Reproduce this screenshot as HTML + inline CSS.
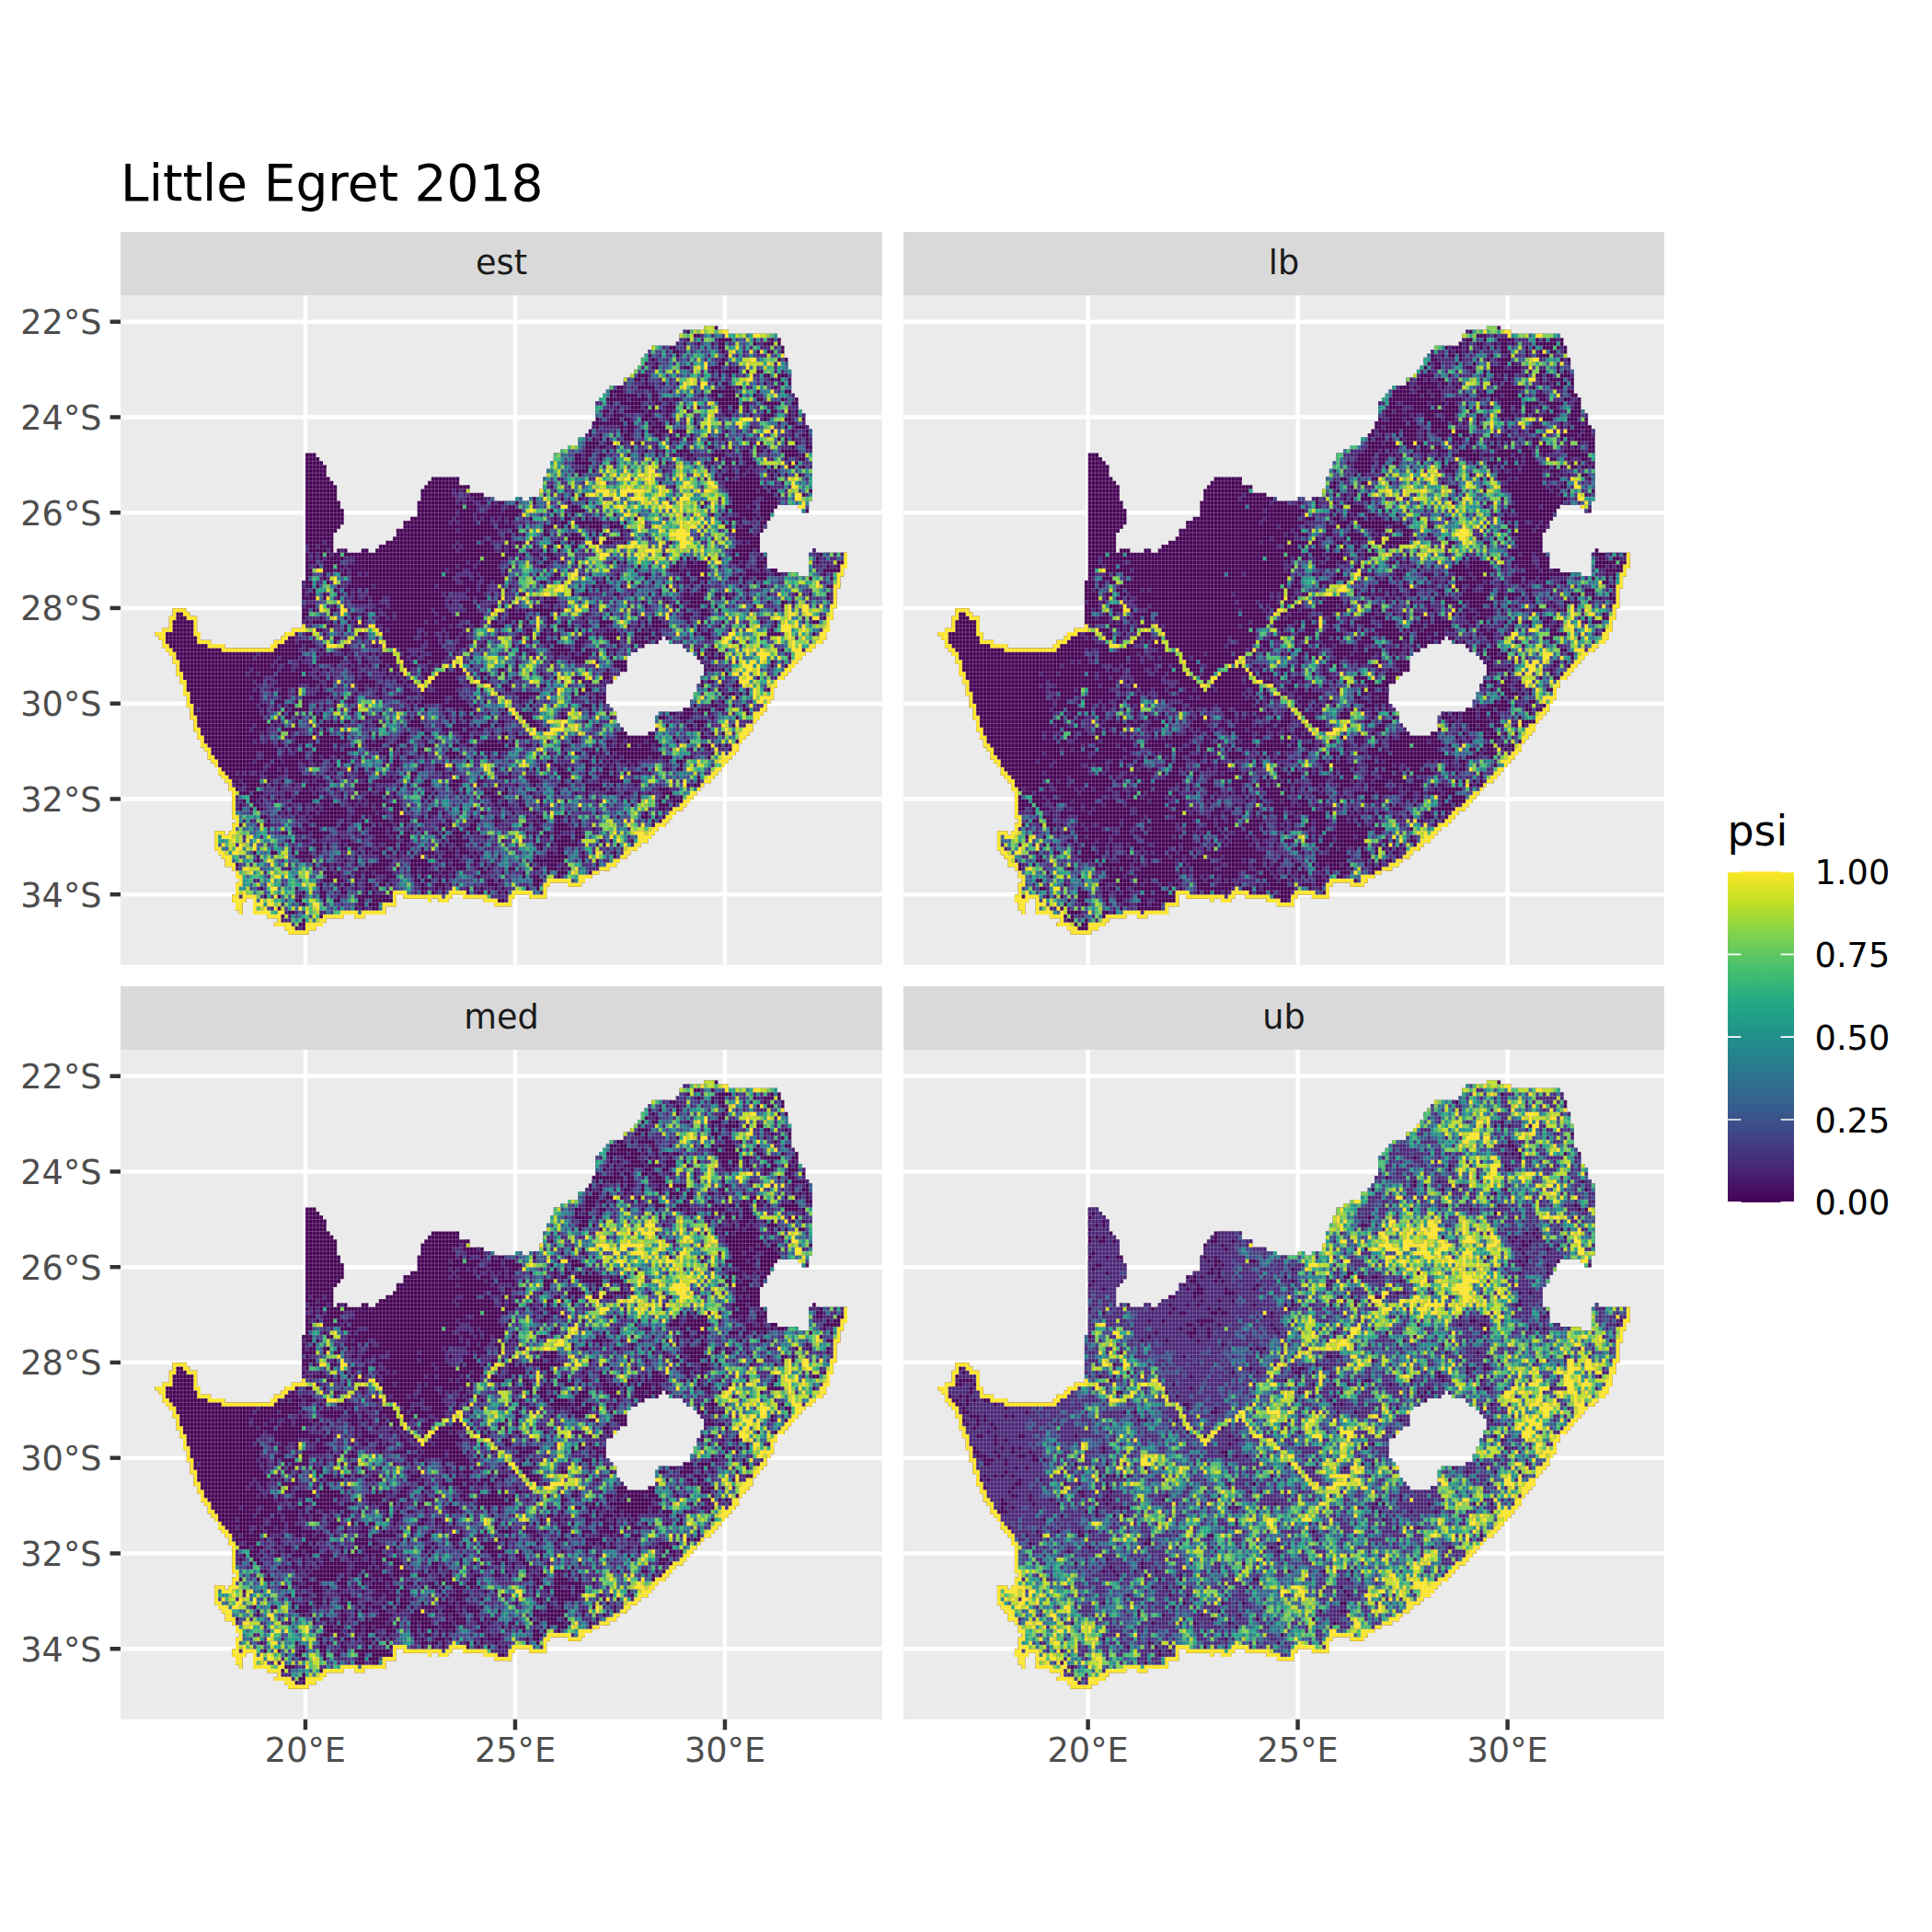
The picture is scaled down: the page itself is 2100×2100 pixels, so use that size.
<!DOCTYPE html>
<html><head><meta charset="utf-8"><title>Little Egret 2018</title>
<style>html,body{margin:0;padding:0;background:#fff}svg{display:block}</style></head>
<body>
<svg width="2100" height="2100" viewBox="0 0 2100 2100" font-family="'DejaVu Sans','Liberation Sans',sans-serif">
<rect width="2100" height="2100" fill="#fff"/>
<defs><clipPath id="mapclip" clip-rule="evenodd"><path clip-rule="evenodd" d="M0.03 33.06L2.08 33.06L6.03 37.01L6.03 38.98L9.03 40.97L9.03 44.97L10.00 44.97L10.00 46.98L11.03 46.98L11.03 51.01L10.00 51.01L8.08 53.00L8.08 57.90L9.03 57.90L9.03 56.95L12.05 56.95L12.05 57.90L16.05 57.90L16.05 56.95L18.00 56.95L18.00 57.90L20.00 57.90L20.00 56.95L21.03 56.95L21.03 55.98L23.00 55.98L26.05 53.00L26.05 52.03L27.97 52.03L27.97 50.01L30.03 50.01L30.03 48.97L31.97 48.97L31.97 44.97L33.00 44.97L33.00 42.03L36.08 38.98L43.03 38.98L44.03 40.00L44.03 40.97L46.00 40.97L47.03 41.96L47.03 43.00L50.97 43.00L50.97 44.02L53.97 44.02L53.97 44.97L59.97 44.97L59.97 44.02L62.03 44.02L62.03 44.97L64.05 44.97L64.05 44.02L67.13 44.02L67.13 41.96L68.16 41.96L68.16 38.98L69.08 38.98L69.08 37.01L70.11 37.01L70.11 35.02L71.08 35.02L71.08 33.06L73.05 33.06L73.05 31.97L75.11 31.97L75.11 31.00L78.03 31.00L78.03 28.96L80.08 28.96L80.08 27.99L81.03 27.99L81.03 27.04L82.11 27.04L82.11 25.01L83.08 25.01L83.08 19.96L84.03 19.96L84.03 19.01L84.97 19.01L84.97 17.93L86.05 17.93L86.05 16.98L87.08 16.98L87.08 15.96L91.11 15.96L91.11 14.00L93.16 14.00L93.16 12.98L94.11 12.98L94.11 12.03L95.05 12.03L96.18 9.92L97.18 8.12L100.05 6.04L105.16 6.04L107.21 4.53L107.21 3.10L108.03 2.01L114.16 2.01L114.16 0.95L118.03 0.95L118.03 2.01L121.11 2.01L121.11 3.10L135.00 3.10L136.03 4.00L136.03 6.04L137.03 6.04L138.05 12.08L139.00 12.08L139.00 18.00L141.05 18.99L141.05 21.95L143.05 22.97L143.05 26.02L145.00 27.99L145.00 44.95L144.03 44.95L144.03 47.88L142.03 47.88L142.03 46.91L141.05 46.91L141.05 46.03L137.03 45.83L136.03 45.83L133.97 48.00L133.97 48.90L131.92 50.87L131.92 51.96L129.97 53.74L129.97 57.35L131.92 58.41L131.92 61.28L132.95 62.37L135.00 62.37L135.00 63.27L141.05 63.27L141.05 64.17L144.03 64.17L144.03 58.41L145.00 58.41L145.00 57.35L146.03 57.35L146.03 58.41L155.00 58.41L155.00 61.79L154.00 61.79L154.00 63.78L152.97 63.78L152.97 66.83L152.03 66.83L152.03 71.87L151.00 71.87L151.00 74.74L150.03 74.74L150.03 77.79L149.00 77.79L149.00 79.76L142.95 83.72L135.00 90.91L132.95 95.93L128.05 102.04L123.95 107.06L119.87 112.10L114.97 116.06L111.08 119.64L108.03 122.51L106.05 123.16L103.21 126.03L100.34 128.18L97.47 130.70L94.21 132.85L90.95 135.00L88.08 137.18L85.21 138.05L83.18 139.14L81.13 140.04L79.08 140.95L79.08 141.83L75.00 141.83L75.00 140.95L70.11 140.95L70.11 141.83L69.08 141.83L69.08 144.88L64.18 144.88L64.18 144.00L60.08 144.00L60.08 144.88L59.08 144.88L59.08 146.87L53.95 146.87L53.95 145.97L51.11 145.97L51.11 144.88L44.97 144.88L44.97 144.00L42.11 144.00L42.11 144.88L41.08 144.88L41.08 145.97L38.03 145.97L38.03 144.88L35.97 144.88L35.97 145.97L34.95 145.97L34.95 144.88L26.05 144.39L26.05 146.91L22.97 146.91L22.97 148.88L17.05 148.88L17.05 149.78L14.00 149.78L14.00 148.88L11.13 148.88L11.13 149.78L6.03 149.78L6.03 150.85L5.00 150.85L5.00 151.93L2.95 151.93L2.95 152.84L0.92 152.84L0.92 153.90L-5.00 153.90L-5.00 152.84L-6.03 152.84L-6.03 151.93L-8.89 151.93L-8.89 150.85L-7.87 150.85L-7.87 149.78L-10.95 149.78L-10.95 148.88L-15.03 148.88L-15.03 144.93L-17.08 144.93L-17.08 145.83L-18.08 145.83L-18.08 148.88L-19.11 148.88L-19.11 147.82L-19.92 147.82L-19.92 145.83L-20.95 145.83L-20.95 144.02L-19.92 144.02L-19.92 140.97L-18.89 140.97L-18.89 139.91L-19.92 139.91L-19.92 139.00L-20.95 137.92L-20.95 136.85L-23.00 136.85L-23.00 134.89L-24.03 134.89L-24.03 133.98L-25.03 133.98L-25.03 132.90L-26.05 132.90L-26.05 128.04L-23.00 128.04L-23.00 128.94L-21.97 128.94L-21.97 128.04L-20.95 128.04L-20.95 126.07L-19.92 126.07L-19.92 124.99L-20.95 124.99L-20.95 118.00L-21.97 118.00L-21.97 116.01L-23.00 116.01L-23.00 114.95L-24.03 114.95L-24.03 113.86L-25.03 113.86L-25.03 112.96L-26.05 111.89L-26.05 110.99L-27.08 110.99L-27.08 109.90L-28.11 109.90L-28.11 107.94L-29.13 107.94L-29.13 106.85L-30.13 106.85L-30.13 104.88L-31.16 104.88L-31.16 102.92L-31.95 102.27L-31.95 100.09L-32.97 100.09L-32.97 97.23L-34.00 97.23L-34.00 94.17L-35.03 94.17L-35.03 91.12L-36.05 91.12L-36.05 89.13L-37.08 89.13L-37.08 86.08L-38.08 86.08L-38.08 84.11L-39.11 84.11L-39.11 83.05L-40.13 83.05L-40.13 82.14L-41.16 82.14L-41.16 80.15L-41.97 80.15L-41.97 79.09L-43.00 79.09L-43.00 78.00L-40.95 78.00L-40.95 77.10L-38.89 77.10L-38.89 74.05L-37.89 74.05L-37.89 72.08L-34.00 72.08L-34.00 72.98L-32.97 72.98L-32.97 74.05L-30.95 74.05L-30.95 78.00L-29.92 78.00L-29.92 80.15L-26.84 80.15L-26.84 81.06L-22.97 81.06L-22.97 82.14L-9.89 82.14L-9.89 81.06L-8.87 81.06L-8.87 80.15L-6.82 80.15L-6.82 79.09L-5.82 79.09L-5.82 78.00L-3.97 78.00L-3.97 77.10L-0.89 77.10L-0.89 65.07L0.00 65.07ZM103.13 79.04L104.13 80.85L108.03 81.20L109.24 82.63L112.11 84.09L113.13 85.87L114.16 85.87L114.16 89.11L113.13 89.11L112.11 91.97L111.08 93.06L110.05 95.93L109.05 97.02L107.21 97.90L101.08 97.90L100.05 98.98L100.05 102.04L98.00 103.84L92.08 103.84L89.03 100.95L89.03 98.08L85.95 95.03L85.95 91.97L84.95 90.91L88.00 90.91L92.08 86.96L92.08 84.09L93.11 83.00L97.00 81.91L98.00 80.85L101.08 80.85L101.08 79.95Z"/></clipPath></defs>
<defs><g id="seams" clip-path="url(#mapclip)" stroke="#EBEBEB" stroke-opacity="0.24" fill="none" stroke-width="1"><path vector-effect="non-scaling-stroke" d="M-46-2v162M-45-2v162M-44-2v162M-43-2v162M-42-2v162M-41-2v162M-40-2v162M-39-2v162M-38-2v162M-37-2v162M-36-2v162M-35-2v162M-34-2v162M-33-2v162M-32-2v162M-31-2v162M-30-2v162M-29-2v162M-28-2v162M-27-2v162M-26-2v162M-25-2v162M-24-2v162M-23-2v162M-22-2v162M-21-2v162M-20-2v162M-19-2v162M-18-2v162M-17-2v162M-16-2v162M-15-2v162M-14-2v162M-13-2v162M-12-2v162M-11-2v162M-10-2v162M-9-2v162M-8-2v162M-7-2v162M-6-2v162M-5-2v162M-4-2v162M-3-2v162M-2-2v162M-1-2v162M0-2v162M1-2v162M2-2v162M3-2v162M4-2v162M5-2v162M6-2v162M7-2v162M8-2v162M9-2v162M10-2v162M11-2v162M12-2v162M13-2v162M14-2v162M15-2v162M16-2v162M17-2v162M18-2v162M19-2v162M20-2v162M21-2v162M22-2v162M23-2v162M24-2v162M25-2v162M26-2v162M27-2v162M28-2v162M29-2v162M30-2v162M31-2v162M32-2v162M33-2v162M34-2v162M35-2v162M36-2v162M37-2v162M38-2v162M39-2v162M40-2v162M41-2v162M42-2v162M43-2v162M44-2v162M45-2v162M46-2v162M47-2v162M48-2v162M49-2v162M50-2v162M51-2v162M52-2v162M53-2v162M54-2v162M55-2v162M56-2v162M57-2v162M58-2v162M59-2v162M60-2v162M61-2v162M62-2v162M63-2v162M64-2v162M65-2v162M66-2v162M67-2v162M68-2v162M69-2v162M70-2v162M71-2v162M72-2v162M73-2v162M74-2v162M75-2v162M76-2v162M77-2v162M78-2v162M79-2v162M80-2v162M81-2v162M82-2v162M83-2v162M84-2v162M85-2v162M86-2v162M87-2v162M88-2v162M89-2v162M90-2v162M91-2v162M92-2v162M93-2v162M94-2v162M95-2v162M96-2v162M97-2v162M98-2v162M99-2v162M100-2v162M101-2v162M102-2v162M103-2v162M104-2v162M105-2v162M106-2v162M107-2v162M108-2v162M109-2v162M110-2v162M111-2v162M112-2v162M113-2v162M114-2v162M115-2v162M116-2v162M117-2v162M118-2v162M119-2v162M120-2v162M121-2v162M122-2v162M123-2v162M124-2v162M125-2v162M126-2v162M127-2v162M128-2v162M129-2v162M130-2v162M131-2v162M132-2v162M133-2v162M134-2v162M135-2v162M136-2v162M137-2v162M138-2v162M139-2v162M140-2v162M141-2v162M142-2v162M143-2v162M144-2v162M145-2v162M146-2v162M147-2v162M148-2v162M149-2v162M150-2v162M151-2v162M152-2v162M153-2v162M154-2v162M155-2v162M156-2v162M157-2v162M158-2v162M159-2v162M160-2v162"/><path vector-effect="non-scaling-stroke" d="M-46-2h206M-46-1h206M-46 0h206M-46 1h206M-46 2h206M-46 3h206M-46 4h206M-46 5h206M-46 6h206M-46 7h206M-46 8h206M-46 9h206M-46 10h206M-46 11h206M-46 12h206M-46 13h206M-46 14h206M-46 15h206M-46 16h206M-46 17h206M-46 18h206M-46 19h206M-46 20h206M-46 21h206M-46 22h206M-46 23h206M-46 24h206M-46 25h206M-46 26h206M-46 27h206M-46 28h206M-46 29h206M-46 30h206M-46 31h206M-46 32h206M-46 33h206M-46 34h206M-46 35h206M-46 36h206M-46 37h206M-46 38h206M-46 39h206M-46 40h206M-46 41h206M-46 42h206M-46 43h206M-46 44h206M-46 45h206M-46 46h206M-46 47h206M-46 48h206M-46 49h206M-46 50h206M-46 51h206M-46 52h206M-46 53h206M-46 54h206M-46 55h206M-46 56h206M-46 57h206M-46 58h206M-46 59h206M-46 60h206M-46 61h206M-46 62h206M-46 63h206M-46 64h206M-46 65h206M-46 66h206M-46 67h206M-46 68h206M-46 69h206M-46 70h206M-46 71h206M-46 72h206M-46 73h206M-46 74h206M-46 75h206M-46 76h206M-46 77h206M-46 78h206M-46 79h206M-46 80h206M-46 81h206M-46 82h206M-46 83h206M-46 84h206M-46 85h206M-46 86h206M-46 87h206M-46 88h206M-46 89h206M-46 90h206M-46 91h206M-46 92h206M-46 93h206M-46 94h206M-46 95h206M-46 96h206M-46 97h206M-46 98h206M-46 99h206M-46 100h206M-46 101h206M-46 102h206M-46 103h206M-46 104h206M-46 105h206M-46 106h206M-46 107h206M-46 108h206M-46 109h206M-46 110h206M-46 111h206M-46 112h206M-46 113h206M-46 114h206M-46 115h206M-46 116h206M-46 117h206M-46 118h206M-46 119h206M-46 120h206M-46 121h206M-46 122h206M-46 123h206M-46 124h206M-46 125h206M-46 126h206M-46 127h206M-46 128h206M-46 129h206M-46 130h206M-46 131h206M-46 132h206M-46 133h206M-46 134h206M-46 135h206M-46 136h206M-46 137h206M-46 138h206M-46 139h206M-46 140h206M-46 141h206M-46 142h206M-46 143h206M-46 144h206M-46 145h206M-46 146h206M-46 147h206M-46 148h206M-46 149h206M-46 150h206M-46 151h206M-46 152h206M-46 153h206M-46 154h206M-46 155h206M-46 156h206M-46 157h206M-46 158h206M-46 159h206M-46 160h206"/></g></defs>
<text x="131" y="218.3" font-size="55" fill="#000">Little Egret 2018</text>
<rect x="131.06" y="252.00000000000003" width="827.8" height="69.1" fill="#D9D9D9"/>
<text x="545.0" y="298.4" font-size="36.67" fill="#1A1A1A" text-anchor="middle">est</text>
<rect x="131.06" y="321.1" width="827.8" height="727.7" fill="#EBEBEB"/>
<g stroke="#fff" stroke-width="4.45"><path d="M131.06 349.70h827.8"/><path d="M131.06 453.45h827.8"/><path d="M131.06 557.20h827.8"/><path d="M131.06 660.95h827.8"/><path d="M131.06 764.70h827.8"/><path d="M131.06 868.45h827.8"/><path d="M131.06 972.20h827.8"/><path d="M331.95 321.1v727.7"/><path d="M559.95 321.1v727.7"/><path d="M787.95 321.1v727.7"/></g>
<g transform="translate(332.00,352.061) scale(3.8,4.32292)" fill="none" stroke-width="1.0">
<path stroke="#440154" d="M114 1h4m-10 1h13m-14 1h28m-28 1h29m-30 1h30m-37 1h38m-39 1h39m-40 1h40m-41 1h42m-42 1h42m-43 1h43m-44 1h45m-46 1h46m-48 1h48m-48 1h48m-52 1h52m-53 1h53m-54 1h55m-56 1h57m-58 1h58m-58 1h58m-58 1h59m-59 1h60m-60 1h60m-61 1h61m-61 1h62m-63 1h64m-65 1h65m-67 1h67m-67 1h67m-70 1h70m-72 1h72m-145 1h3m68 0h74m-145 1h4m67 0h74m-145 1h5m65 0h75m-145 1h6m64 0h75m-145 1h6m63 0h76m-145 1h6m63 0h76m-145 1h7m29 0h8m24 0h77m-145 1h8m27 0h9m24 0h77m-145 1h9m25 0h13m21 0h77m-145 1h9m24 0h14m20 0h78m-145 1h9m24 0h18m16 0h78m-145 1h9m24 0h21m6 0h2m2 0h81m-145 1h10m22 0h112m-144 1h10m22 0h103m6 0h3m-144 1h11m21 0h102m8 0h2m-144 1h11m21 0h102m-134 1h11m19 0h103m-133 1h11m17 0h104m-132 1h10m18 0h104m-132 1h9m17 0h105m-131 1h8m18 0h104m-130 1h8m17 0h105m-130 1h8m15 0h107m-130 1h8m13 0h109m-130 1h8m1 0h3m4 0h2m2 0h110m15 0h1m-146 1h132m12 0h11m-155 1h132m12 0h11m-155 1h132m12 0h11m-155 1h132m12 0h11m-155 1h135m9 0h10m-154 1h141m3 0h10m-154 1h153m-154 1h154m-154 1h154m-154 1h153m-153 1h153m-153 1h153m-153 1h153m-153 1h153m-190 1h4m33 0h152m-189 1h5m32 0h152m-190 1h8m30 0h152m-190 1h8m30 0h151m-189 1h8m30 0h151m-191 1h10m27 0h154m-193 1h13m24 0h155m-191 1h12m23 0h109m1 0h46m-190 1h14m18 0h110m3 0h44m-189 1h18m13 0h107m11 0h38m-186 1h135m14 0h36m-184 1h132m18 0h32m-181 1h130m20 0h30m-180 1h130m21 0h28m-178 1h129m22 0h26m-177 1h129m22 0h25m-176 1h127m24 0h24m-174 1h125m24 0h24m-173 1h124m25 0h22m-170 1h121m26 0h23m-170 1h121m26 0h22m-169 1h121m25 0h23m-168 1h120m25 0h23m-168 1h120m24 0h23m-167 1h121m23 0h22m-165 1h121m20 0h24m-165 1h122m12 0h30m-164 1h122m11 0h30m-162 1h121m11 0h29m-161 1h122m10 0h28m-160 1h123m9 0h28m-159 1h123m6 0h29m-158 1h157m-156 1h155m-155 1h154m-153 1h153m-152 1h151m-151 1h150m-149 1h148m-147 1h146m-145 1h144m-144 1h143m-142 1h141m-140 1h139m-138 1h136m-136 1h135m-134 1h133m-133 1h132m-132 1h131m-131 1h130m-130 1h129m-129 1h127m-127 1h126m-125 1h124m-125 1h124m-124 1h122m-127 1h3m1 0h122m-126 1h125m-125 1h124m-124 1h122m-122 1h121m-120 1h118m-117 1h116m-115 1h113m-113 1h112m-110 1h108m-107 1h104m-104 1h102m-101 1h99m-100 1h90m5 0h4m-99 1h89m-89 1h89m-90 1h47m2 0h14m3 0h15m4 0h5m-90 1h4m2 0h41m9 0h1m2 0h3m10 0h8m-79 1h2m3 0h41m28 0h5m-79 1h2m3 0h38m-42 1h1m3 0h38m-34 1h22m3 0h3m-25 1h14m-15 1h14m-11 1h9m-8 1h6"/>
<path stroke="#482576" d="M113 3h1m2 0h1m-9 1h1m4 0h1m3 0h1m10 0h1m1 0h1m1 0h1m-27 1h1m4 0h1m9 0h1m7 0h2m-29 1h1m5 0h1m3 0h1m1 0h1m1 0h1m8 0h1m1 0h1m2 0h3m1 0h1m-32 1h1m3 0h2m1 0h1m7 0h1m1 0h1m4 0h1m-25 1h1m2 0h1m10 0h1m7 0h1m1 0h1m3 0h3m-34 1h1m1 0h1m2 0h1m2 0h1m2 0h1m4 0h1m2 0h2m1 0h1m-23 1h2m5 0h1m4 0h1m10 0h1m12 0h1m-39 1h1m10 0h1m7 0h1m6 0h1m11 0h1m-38 1h2m11 0h1m2 0h1m1 0h1m3 0h1m14 0h1m1 0h1m-39 1h1m4 0h1m9 0h1m2 0h1m3 0h1m2 0h1m1 0h1m2 0h2m-29 1h1m2 0h1m12 0h2m1 0h2m7 0h1m2 0h1m1 0h1m-44 1h1m2 0h3m1 0h2m1 0h1m2 0h1m7 0h1m2 0h1m13 0h1m3 0h1m1 0h1m-45 1h1m1 0h1m7 0h1m3 0h1m12 0h1m3 0h2m2 0h2m5 0h1m1 0h1m-45 1h1m2 0h3m1 0h1m1 0h1m10 0h1m1 0h1m21 0h1m-48 1h1m8 0h1m10 0h1m3 0h1m2 0h1m3 0h1m9 0h2m8 0h1m-48 1h1m11 0h1m2 0h1m3 0h1m4 0h1m20 0h1m-55 1h2m1 0h1m9 0h1m1 0h2m3 0h1m1 0h1m21 0h2m-43 1h3m2 0h2m3 0h1m5 0h1m15 0h1m6 0h1m3 0h1m2 0h1m5 0h3m-52 1h1m7 0h1m2 0h1m1 0h1m2 0h1m4 0h1m10 0h1m3 0h1m3 0h1m6 0h1m2 0h1m-54 1h2m3 0h1m1 0h1m2 0h1m2 0h1m2 0h1m1 0h1m6 0h2m4 0h3m3 0h1m1 0h1m4 0h1m8 0h1m2 0h1m-59 1h1m1 0h1m6 0h1m4 0h1m3 0h2m1 0h1m2 0h1m9 0h1m2 0h1m8 0h1m1 0h1m6 0h1m-44 1h1m2 0h1m2 0h1m2 0h1m1 0h2m10 0h1m8 0h1m11 0h1m1 0h1m-61 1h1m2 0h5m1 0h1m2 0h1m3 0h1m20 0h1m8 0h2m5 0h1m3 0h1m3 0h1m-61 1h4m1 0h1m2 0h1m8 0h1m4 0h1m13 0h1m3 0h2m2 0h1m5 0h1m4 0h1m1 0h1m1 0h1m-63 1h1m2 0h1m4 0h1m1 0h1m2 0h1m5 0h1m2 0h1m2 0h1m2 0h1m6 0h1m2 0h1m6 0h1m3 0h1m2 0h1m3 0h3m2 0h1m-62 1h1m2 0h1m5 0h1m6 0h1m5 0h1m4 0h1m10 0h1m1 0h1m1 0h1m4 0h2m11 0h2m2 0h1m-60 1h1m5 0h2m1 0h1m2 0h1m1 0h2m5 0h1m2 0h2m5 0h1m1 0h1m9 0h1m12 0h1m2 0h1m-62 1h1m2 0h2m3 0h1m3 0h2m2 0h1m5 0h1m14 0h1m1 0h1m1 0h3m3 0h1m5 0h3m-60 1h1m2 0h1m1 0h1m3 0h1m4 0h1m1 0h2m4 0h1m9 0h1m6 0h1m1 0h1m1 0h1m1 0h1m18 0h2m-66 1h1m3 0h1m3 0h1m14 0h1m1 0h1m1 0h1m1 0h1m2 0h5m4 0h1m1 0h2m3 0h1m1 0h1m2 0h1m8 0h1m-63 1h1m3 0h1m4 0h1m7 0h1m2 0h1m1 0h1m6 0h1m1 0h1m11 0h1m9 0h2m6 0h1m-67 1h1m1 0h1m6 0h2m2 0h1m16 0h1m5 0h1m4 0h1m2 0h1m6 0h1m17 0h1m-68 1h4m3 0h1m1 0h1m2 0h1m12 0h1m1 0h1m1 0h1m11 0h1m2 0h1m1 0h2m3 0h1m1 0h2m10 0h1m2 0h1m-42 1h2m10 0h1m4 0h1m1 0h1m3 0h1m1 0h2m3 0h1m-58 1h1m7 0h1m19 0h1m4 0h1m13 0h1m1 0h1m3 0h1m2 0h1m9 0h1m-71 1h2m7 0h2m19 0h1m9 0h1m1 0h1m3 0h1m3 0h2m7 0h2m1 0h1m8 0h1m-75 1h2m2 0h2m4 0h1m6 0h1m31 0h2m11 0h1m2 0h1m-66 1h1m5 0h1m27 0h2m8 0h1m5 0h1m13 0h4m1 0h1m-97 1h1m1 0h1m26 0h1m2 0h1m1 0h1m28 0h1m14 0h1m8 0h1m7 0h1m-96 1h2m1 0h2m21 0h1m1 0h1m2 0h1m63 0h1m5 0h1m-101 1h3m1 0h1m3 0h2m22 0h1m3 0h2m22 0h1m14 0h1m2 0h1m7 0h2m4 0h1m1 0h1m-95 1h1m1 0h1m2 0h2m4 0h1m15 0h1m3 0h1m29 0h1m13 0h1m9 0h2m5 0h1m-87 1h4m3 0h2m7 0h1m6 0h1m2 0h1m2 0h1m4 0h2m41 0h1m-84 1h1m5 0h1m1 0h1m4 0h1m17 0h2m6 0h1m1 0h1m33 0h1m9 0h2m-87 1h1m4 0h1m12 0h1m5 0h1m1 0h1m10 0h2m2 0h1m10 0h1m12 0h1m6 0h1m4 0h1m1 0h2m5 0h1m-88 1h1m5 0h1m1 0h1m2 0h1m1 0h1m1 0h1m4 0h1m7 0h1m1 0h1m4 0h1m5 0h1m2 0h1m16 0h1m14 0h1m1 0h1m4 0h1m2 0h1m1 0h1m-90 1h1m1 0h1m9 0h2m2 0h1m1 0h4m1 0h2m2 0h1m1 0h1m1 0h1m12 0h2m1 0h1m8 0h1m25 0h1m3 0h2m-69 1h1m11 0h1m5 0h1m1 0h1m16 0h2m15 0h1m9 0h1m4 0h1m-87 1h1m11 0h3m11 0h1m11 0h1m5 0h1m3 0h1m26 0h1m9 0h2m-75 1h1m5 0h1m9 0h1m6 0h1m12 0h1m5 0h1m14 0h1m8 0h2m5 0h1m-78 1h1m4 0h1m8 0h1m1 0h1m2 0h1m1 0h2m13 0h1m3 0h3m18 0h1m3 0h1m-112 1h1m37 0h1m6 0h1m2 0h4m2 0h1m2 0h1m1 0h2m12 0h1m9 0h3m12 0h1m9 0h2m8 0h2m1 0h1m-127 1h1m2 0h1m38 0h1m1 0h1m12 0h1m1 0h1m6 0h1m13 0h1m5 0h1m1 0h1m14 0h1m-104 1h1m5 0h1m3 0h1m32 0h1m10 0h2m1 0h1m5 0h1m1 0h2m12 0h1m1 0h1m38 0h2m6 0h1m16 0h1m-145 1h1m1 0h1m3 0h1m52 0h2m2 0h1m3 0h1m2 0h2m1 0h1m2 0h1m1 0h4m8 0h1m29 0h1m6 0h2m15 0h2m4 0h1m1 0h1m-153 1h1m1 0h1m1 0h1m5 0h3m45 0h1m2 0h1m2 0h2m2 0h1m2 0h1m1 0h1m2 0h1m1 0h1m8 0h1m2 0h1m38 0h1m16 0h2m1 0h2m-148 1h1m7 0h2m32 0h1m2 0h1m6 0h2m12 0h1m1 0h1m13 0h1m20 0h1m3 0h1m9 0h1m2 0h1m1 0h1m18 0h1m1 0h4m-150 1h2m8 0h1m31 0h1m4 0h1m6 0h1m4 0h1m4 0h2m2 0h2m5 0h2m12 0h2m1 0h1m4 0h1m5 0h1m2 0h2m12 0h1m1 0h1m3 0h2m2 0h1m13 0h3m2 0h2m-144 1h1m1 0h1m1 0h1m27 0h1m4 0h2m22 0h1m2 0h1m2 0h1m3 0h1m7 0h4m12 0h1m3 0h1m1 0h1m5 0h1m6 0h1m2 0h1m2 0h2m1 0h1m14 0h1m-140 1h1m4 0h1m2 0h1m1 0h1m25 0h5m1 0h1m6 0h1m7 0h1m13 0h2m8 0h1m6 0h2m4 0h1m3 0h2m15 0h2m1 0h1m6 0h2m2 0h2m9 0h1m2 0h1m-147 1h1m1 0h1m35 0h2m3 0h1m2 0h1m8 0h1m5 0h1m6 0h1m1 0h1m7 0h2m19 0h1m1 0h1m9 0h1m11 0h1m-129 1h1m3 0h2m2 0h1m2 0h3m30 0h2m4 0h2m2 0h1m5 0h1m10 0h1m2 0h1m10 0h1m6 0h1m4 0h1m5 0h1m2 0h1m1 0h1m2 0h1m7 0h1m1 0h4m6 0h1m4 0h2m10 0h2m-150 1h1m10 0h2m7 0h1m17 0h1m11 0h1m2 0h3m1 0h1m2 0h2m5 0h1m1 0h1m9 0h1m1 0h1m2 0h1m1 0h1m1 0h1m3 0h1m4 0h1m1 0h1m7 0h1m1 0h1m5 0h2m1 0h2m7 0h1m6 0h1m-134 1h1m8 0h1m3 0h1m32 0h1m2 0h1m2 0h3m3 0h1m1 0h1m21 0h1m3 0h1m1 0h1m3 0h3m5 0h1m3 0h1m3 0h1m3 0h1m12 0h1m3 0h1m13 0h2m-145 1h1m5 0h1m3 0h1m2 0h1m1 0h3m21 0h1m2 0h4m5 0h1m3 0h1m1 0h3m18 0h1m2 0h4m1 0h1m4 0h1m8 0h1m6 0h1m2 0h1m3 0h1m6 0h1m4 0h1m7 0h1m4 0h1m2 0h1m7 0h1m-143 1h1m2 0h3m1 0h2m1 0h1m3 0h2m16 0h7m1 0h1m4 0h1m3 0h1m1 0h1m4 0h2m3 0h1m11 0h1m3 0h3m1 0h2m3 0h1m4 0h2m2 0h2m1 0h2m9 0h1m6 0h1m2 0h1m2 0h1m8 0h1m4 0h1m1 0h1m3 0h1m-151 1h3m8 0h1m6 0h1m2 0h3m16 0h1m1 0h2m6 0h5m1 0h1m10 0h1m4 0h1m1 0h1m3 0h1m4 0h1m1 0h2m1 0h1m3 0h1m1 0h1m2 0h1m2 0h1m1 0h1m1 0h2m2 0h2m5 0h1m7 0h1m1 0h1m1 0h1m15 0h1m6 0h1m-152 1h1m6 0h2m3 0h1m2 0h6m3 0h1m16 0h4m6 0h3m7 0h1m5 0h1m1 0h2m2 0h1m1 0h1m7 0h1m5 0h1m3 0h1m5 0h1m3 0h1m5 0h1m11 0h1m1 0h1m8 0h3m5 0h1m6 0h1m2 0h1m-147 1h1m5 0h1m2 0h1m5 0h1m2 0h1m14 0h1m4 0h5m3 0h1m1 0h1m5 0h1m2 0h1m1 0h1m1 0h1m6 0h1m1 0h1m7 0h1m1 0h1m10 0h1m2 0h2m6 0h1m1 0h1m3 0h2m2 0h1m8 0h1m3 0h2m6 0h1m-122 1h1m1 0h1m3 0h2m2 0h1m11 0h1m4 0h1m13 0h1m8 0h1m6 0h1m6 0h1m1 0h1m2 0h1m5 0h1m2 0h1m5 0h1m4 0h1m1 0h1m5 0h1m5 0h1m28 0h1m-148 1h4m1 0h1m8 0h1m4 0h2m2 0h1m1 0h1m13 0h1m17 0h1m15 0h2m3 0h1m1 0h1m1 0h2m6 0h1m4 0h1m1 0h1m4 0h1m4 0h1m3 0h2m1 0h1m14 0h4m9 0h1m1 0h1m2 0h1m-149 1h1m1 0h1m4 0h1m6 0h1m3 0h1m16 0h1m2 0h1m6 0h2m4 0h2m3 0h2m5 0h1m5 0h1m2 0h1m1 0h1m2 0h4m13 0h1m8 0h2m6 0h1m4 0h1m6 0h1m2 0h2m4 0h1m10 0h1m1 0h1m-145 1h2m6 0h2m3 0h1m1 0h1m1 0h1m3 0h1m19 0h1m1 0h2m2 0h1m2 0h1m9 0h1m2 0h3m15 0h1m4 0h2m5 0h2m3 0h1m8 0h2m4 0h2m2 0h1m3 0h1m11 0h1m-129 1h2m2 0h1m3 0h1m7 0h1m1 0h1m8 0h2m5 0h1m5 0h1m9 0h1m6 0h1m6 0h1m10 0h1m1 0h4m1 0h1m2 0h1m1 0h1m4 0h1m1 0h1m1 0h1m1 0h2m8 0h1m2 0h1m15 0h1m14 0h1m-149 1h1m10 0h1m6 0h1m14 0h1m1 0h1m2 0h2m1 0h1m3 0h1m1 0h2m8 0h2m2 0h1m1 0h1m6 0h1m1 0h1m9 0h1m2 0h1m34 0h1m16 0h1m-140 1h2m1 0h1m1 0h1m2 0h2m4 0h1m2 0h1m2 0h1m2 0h1m10 0h2m5 0h1m1 0h1m2 0h1m2 0h2m4 0h3m4 0h1m10 0h1m5 0h1m6 0h1m1 0h1m4 0h1m4 0h1m4 0h1m3 0h1m3 0h2m4 0h1m1 0h1m15 0h1m7 0h1m-144 1h1m4 0h1m10 0h2m1 0h1m1 0h1m1 0h1m13 0h1m3 0h1m3 0h2m5 0h2m3 0h1m4 0h1m3 0h1m5 0h1m10 0h2m9 0h1m1 0h1m4 0h1m6 0h1m1 0h1m6 0h2m10 0h1m-128 1h1m3 0h1m8 0h1m2 0h1m1 0h2m2 0h1m11 0h2m5 0h3m3 0h1m2 0h1m1 0h1m10 0h1m3 0h1m1 0h1m5 0h2m3 0h1m4 0h2m4 0h1m4 0h1m12 0h2m1 0h3m10 0h1m9 0h1m-137 1h2m3 0h1m1 0h1m3 0h1m3 0h3m5 0h1m4 0h1m2 0h5m6 0h3m1 0h1m4 0h1m1 0h1m6 0h1m3 0h1m1 0h2m16 0h2m3 0h1m1 0h1m1 0h1m1 0h2m16 0h1m2 0h1m5 0h1m14 0h1m6 0h1m-157 1h1m17 0h1m1 0h1m1 0h3m1 0h1m2 0h3m1 0h1m1 0h1m5 0h1m2 0h2m1 0h3m7 0h2m2 0h1m2 0h1m4 0h3m2 0h1m2 0h1m5 0h2m2 0h1m1 0h1m1 0h2m12 0h1m23 0h1m3 0h1m17 0h2m-154 1h1m6 0h1m5 0h1m1 0h2m1 0h1m10 0h1m2 0h1m1 0h1m9 0h1m2 0h2m6 0h3m2 0h1m14 0h1m2 0h1m1 0h1m1 0h1m1 0h1m2 0h4m7 0h1m33 0h1m-127 1h1m4 0h2m1 0h3m8 0h3m5 0h4m8 0h1m4 0h1m3 0h2m4 0h2m14 0h1m6 0h1m2 0h1m41 0h3m5 0h1m1 0h1m10 0h1m1 0h1m-147 1h1m1 0h2m2 0h2m3 0h1m1 0h1m3 0h1m2 0h2m1 0h1m1 0h1m1 0h1m5 0h1m2 0h1m6 0h2m2 0h1m12 0h1m16 0h1m1 0h1m1 0h1m5 0h2m1 0h3m31 0h1m1 0h2m2 0h1m-137 1h1m7 0h1m3 0h1m5 0h2m1 0h1m2 0h3m1 0h1m2 0h1m1 0h4m1 0h1m7 0h2m2 0h1m1 0h1m5 0h1m5 0h2m9 0h1m6 0h2m3 0h1m8 0h1m2 0h1m31 0h1m1 0h2m2 0h1m10 0h1m-150 1h1m2 0h1m14 0h2m1 0h2m1 0h3m2 0h2m1 0h1m1 0h1m1 0h4m1 0h1m1 0h1m3 0h2m13 0h1m1 0h1m1 0h1m14 0h1m3 0h1m1 0h1m11 0h1m4 0h3m24 0h1m17 0h1m2 0h1m-148 1h3m11 0h2m4 0h1m1 0h1m4 0h1m2 0h4m1 0h1m1 0h1m1 0h1m4 0h2m9 0h1m1 0h1m2 0h1m5 0h1m2 0h1m1 0h1m1 0h1m7 0h1m6 0h1m2 0h1m7 0h1m30 0h1m1 0h2m11 0h2m-150 1h1m4 0h2m12 0h2m5 0h1m1 0h1m6 0h1m1 0h1m1 0h1m3 0h1m16 0h1m6 0h1m2 0h1m3 0h1m1 0h1m8 0h1m2 0h1m3 0h1m2 0h1m4 0h2m32 0h2m-135 1h2m1 0h2m7 0h3m2 0h1m1 0h1m3 0h2m1 0h1m1 0h1m2 0h1m2 0h1m1 0h1m2 0h3m1 0h3m3 0h1m9 0h2m11 0h1m2 0h1m2 0h2m9 0h1m5 0h5m30 0h1m1 0h1m-134 1h1m2 0h2m1 0h2m2 0h1m4 0h4m1 0h1m2 0h3m1 0h2m3 0h1m1 0h2m3 0h2m4 0h3m2 0h2m6 0h2m2 0h2m12 0h1m1 0h1m3 0h1m3 0h1m12 0h1m34 0h2m2 0h1m7 0h1m-145 1h1m2 0h1m4 0h2m3 0h3m4 0h1m1 0h1m3 0h1m2 0h1m2 0h1m2 0h1m3 0h2m4 0h1m12 0h1m1 0h1m2 0h1m5 0h4m10 0h1m10 0h2m1 0h1m28 0h1m6 0h1m-137 1h1m2 0h1m1 0h2m1 0h1m2 0h1m1 0h1m8 0h1m2 0h1m2 0h1m1 0h1m2 0h4m1 0h3m5 0h1m1 0h2m6 0h2m2 0h1m1 0h1m1 0h1m2 0h1m1 0h1m5 0h1m4 0h2m11 0h1m40 0h1m-132 1h3m11 0h3m1 0h1m3 0h1m1 0h1m2 0h1m7 0h1m4 0h2m1 0h1m1 0h1m7 0h1m5 0h2m1 0h1m4 0h1m4 0h2m1 0h2m4 0h2m6 0h4m1 0h2m35 0h1m7 0h2m-142 1h1m2 0h1m4 0h1m11 0h2m4 0h1m1 0h1m9 0h3m1 0h2m4 0h3m1 0h1m10 0h1m9 0h1m1 0h1m4 0h1m3 0h1m4 0h1m9 0h1m27 0h3m2 0h3m8 0h2m-162 1h1m17 0h1m2 0h1m1 0h1m2 0h1m6 0h2m6 0h1m11 0h1m2 0h3m10 0h1m3 0h1m1 0h1m3 0h1m2 0h1m3 0h1m4 0h2m11 0h3m7 0h1m1 0h2m30 0h1m10 0h2m-143 1h1m1 0h1m10 0h1m2 0h1m8 0h1m16 0h1m1 0h1m7 0h1m1 0h1m7 0h2m6 0h1m7 0h2m5 0h1m1 0h1m7 0h1m19 0h1m3 0h2m3 0h2m3 0h1m2 0h2m1 0h1m-134 1h1m2 0h1m4 0h1m3 0h1m5 0h1m1 0h1m3 0h1m4 0h4m6 0h1m9 0h1m2 0h1m7 0h1m3 0h1m1 0h4m13 0h1m8 0h1m6 0h1m14 0h1m1 0h2m3 0h1m2 0h1m1 0h1m-125 1h1m4 0h1m9 0h1m7 0h1m1 0h2m4 0h1m1 0h1m4 0h1m4 0h1m3 0h1m5 0h1m8 0h1m3 0h2m1 0h1m5 0h2m11 0h1m4 0h3m17 0h2m1 0h1m8 0h1m7 0h4m-143 1h1m4 0h1m1 0h1m8 0h1m10 0h3m3 0h2m7 0h1m7 0h1m1 0h2m16 0h1m5 0h1m5 0h1m1 0h1m12 0h1m1 0h1m21 0h1m9 0h3m5 0h2m-142 1h1m4 0h3m6 0h2m2 0h1m5 0h1m7 0h2m5 0h1m4 0h1m1 0h3m1 0h3m4 0h1m6 0h1m3 0h2m2 0h1m2 0h3m5 0h1m14 0h2m4 0h1m1 0h1m9 0h1m5 0h1m1 0h2m1 0h1m1 0h1m1 0h1m-129 1h1m1 0h1m6 0h1m1 0h2m3 0h1m16 0h1m6 0h1m3 0h1m6 0h2m2 0h2m4 0h3m8 0h1m2 0h1m18 0h1m6 0h1m26 0h1m6 0h1m-135 1h2m4 0h1m1 0h1m6 0h1m9 0h1m4 0h1m4 0h2m1 0h1m2 0h1m5 0h2m6 0h2m7 0h3m9 0h1m7 0h1m3 0h1m1 0h1m3 0h2m2 0h1m1 0h1m19 0h1m6 0h3m-133 1h1m1 0h2m1 0h1m2 0h1m2 0h1m4 0h1m10 0h1m6 0h1m3 0h1m1 0h1m6 0h2m8 0h1m3 0h1m2 0h2m4 0h1m8 0h1m8 0h1m4 0h1m4 0h1m4 0h1m2 0h1m5 0h1m18 0h1m-126 1h1m18 0h3m3 0h2m8 0h1m3 0h1m1 0h1m7 0h1m3 0h2m15 0h2m12 0h1m6 0h1m4 0h2m1 0h1m4 0h1m3 0h1m21 0h1m-129 1h1m3 0h1m3 0h1m6 0h1m8 0h1m1 0h1m1 0h1m6 0h3m5 0h1m2 0h1m4 0h1m1 0h1m1 0h1m9 0h1m4 0h1m15 0h1m1 0h1m4 0h1m12 0h2m3 0h1m4 0h1m2 0h1m1 0h1m3 0h2m-134 1h2m5 0h1m1 0h2m22 0h1m5 0h2m1 0h1m4 0h1m2 0h1m14 0h1m4 0h2m3 0h2m4 0h1m2 0h2m1 0h1m6 0h1m2 0h1m1 0h1m2 0h1m21 0h2m1 0h3m-130 1h2m4 0h1m8 0h1m2 0h1m2 0h2m1 0h1m2 0h1m3 0h2m2 0h1m3 0h1m5 0h2m2 0h2m2 0h1m3 0h1m1 0h1m3 0h2m3 0h1m1 0h1m4 0h1m8 0h1m1 0h1m11 0h2m1 0h1m2 0h1m7 0h1m2 0h1m7 0h1m-125 1h1m7 0h1m4 0h1m2 0h1m6 0h1m3 0h1m1 0h2m6 0h1m4 0h1m1 0h1m1 0h1m2 0h2m3 0h1m1 0h1m6 0h2m3 0h1m4 0h1m7 0h2m4 0h4m2 0h1m2 0h1m4 0h1m1 0h2m2 0h1m2 0h6m1 0h1m5 0h1m-121 1h2m8 0h2m1 0h2m1 0h1m1 0h2m2 0h1m13 0h1m2 0h1m4 0h1m1 0h2m3 0h1m8 0h2m5 0h1m12 0h1m1 0h1m2 0h1m1 0h2m5 0h2m1 0h1m1 0h1m2 0h2m1 0h1m1 0h1m7 0h2m11 0h1m-129 1h1m3 0h1m1 0h1m3 0h2m6 0h1m1 0h1m1 0h2m6 0h1m5 0h1m2 0h1m7 0h1m11 0h1m9 0h1m1 0h1m8 0h1m1 0h1m3 0h1m6 0h1m1 0h1m3 0h1m2 0h1m1 0h2m2 0h1m2 0h1m2 0h1m1 0h1m10 0h1m-136 1h1m1 0h1m1 0h2m1 0h1m6 0h1m6 0h1m1 0h1m1 0h1m1 0h1m5 0h2m2 0h2m2 0h1m1 0h3m2 0h1m8 0h1m2 0h1m1 0h2m6 0h1m3 0h3m3 0h1m2 0h3m4 0h1m7 0h1m5 0h1m4 0h1m6 0h2m16 0h2m-129 1h2m3 0h2m9 0h1m4 0h1m1 0h1m1 0h1m1 0h1m6 0h1m1 0h1m1 0h1m1 0h1m3 0h1m3 0h4m1 0h2m3 0h1m3 0h1m9 0h2m5 0h2m1 0h1m1 0h1m3 0h1m3 0h1m9 0h1m3 0h1m6 0h1m-120 1h1m8 0h1m1 0h1m3 0h1m2 0h2m1 0h1m3 0h1m2 0h1m3 0h1m1 0h2m2 0h1m21 0h1m3 0h1m5 0h2m1 0h1m1 0h1m1 0h1m8 0h1m2 0h2m8 0h1m1 0h2m1 0h2m18 0h1m1 0h1m2 0h1m-132 1h1m2 0h1m4 0h1m3 0h1m1 0h1m1 0h1m1 0h2m5 0h1m1 0h1m11 0h1m1 0h5m1 0h1m5 0h1m6 0h1m4 0h1m2 0h1m2 0h1m1 0h1m3 0h4m4 0h1m2 0h1m7 0h1m1 0h2m7 0h1m3 0h1m1 0h2m1 0h1m2 0h1m1 0h2m8 0h1m-130 1h2m5 0h2m1 0h1m1 0h6m2 0h1m1 0h2m2 0h1m1 0h1m1 0h2m7 0h2m7 0h2m3 0h2m3 0h1m3 0h1m4 0h1m1 0h1m1 0h1m2 0h1m3 0h1m2 0h1m9 0h1m2 0h1m5 0h1m1 0h1m4 0h1m1 0h1m1 0h4m3 0h2m3 0h3m-119 1h6m2 0h1m5 0h1m1 0h1m1 0h1m1 0h2m2 0h2m2 0h2m1 0h2m3 0h1m5 0h1m11 0h1m11 0h1m4 0h1m3 0h1m1 0h1m1 0h1m3 0h1m4 0h1m1 0h2m1 0h1m1 0h3m3 0h1m3 0h1m2 0h2m1 0h3m-122 1h1m6 0h2m2 0h1m1 0h1m2 0h1m8 0h1m1 0h1m1 0h1m4 0h1m1 0h1m7 0h1m1 0h1m6 0h1m7 0h1m2 0h1m1 0h1m1 0h1m2 0h2m3 0h1m9 0h1m1 0h1m2 0h1m1 0h1m2 0h1m6 0h1m7 0h2m8 0h1m4 0h1m-127 1h2m4 0h1m2 0h2m1 0h3m15 0h2m3 0h1m1 0h1m5 0h1m3 0h1m17 0h1m3 0h1m6 0h1m3 0h1m1 0h1m8 0h1m8 0h2m2 0h1m5 0h1m9 0h1m2 0h2m-125 1h1m1 0h1m4 0h2m1 0h1m3 0h1m1 0h2m2 0h2m1 0h2m2 0h1m3 0h2m1 0h1m1 0h2m1 0h1m7 0h1m2 0h1m3 0h1m3 0h1m3 0h1m1 0h1m7 0h2m1 0h1m2 0h2m5 0h1m3 0h1m2 0h1m10 0h1m2 0h1m1 0h1m-109 1h1m7 0h1m5 0h1m2 0h1m2 0h3m1 0h1m8 0h1m5 0h1m2 0h1m10 0h1m4 0h2m1 0h1m5 0h1m5 0h2m2 0h1m1 0h3m5 0h2m6 0h1m7 0h1m3 0h2m9 0h1m1 0h1m2 0h1m-120 1h1m4 0h1m3 0h1m1 0h1m1 0h1m2 0h1m2 0h1m8 0h2m6 0h1m2 0h2m3 0h1m1 0h1m2 0h1m6 0h1m3 0h1m2 0h1m5 0h3m5 0h4m1 0h2m1 0h1m6 0h1m1 0h4m2 0h1m6 0h1m4 0h1m3 0h1m1 0h1m-114 1h1m1 0h1m1 0h3m2 0h2m1 0h1m10 0h1m5 0h1m11 0h1m1 0h1m3 0h2m1 0h3m1 0h1m5 0h1m5 0h1m2 0h1m1 0h1m3 0h2m11 0h1m4 0h1m4 0h1m10 0h1m-117 1h1m1 0h2m11 0h4m8 0h1m2 0h1m2 0h1m2 0h1m5 0h1m2 0h1m6 0h5m7 0h2m5 0h1m2 0h1m1 0h3m2 0h2m1 0h1m4 0h1m1 0h1m3 0h1m3 0h3m11 0h1m1 0h1m-108 1h3m4 0h1m14 0h1m8 0h1m3 0h1m4 0h1m3 0h2m1 0h1m2 0h1m3 0h2m9 0h4m8 0h1m7 0h2m4 0h1m-93 1h1m8 0h2m14 0h1m3 0h1m4 0h1m4 0h2m3 0h4m5 0h1m2 0h1m4 0h1m4 0h3m3 0h2m2 0h1m10 0h1m2 0h3m1 0h2m7 0h1m-104 1h1m1 0h2m3 0h1m4 0h1m7 0h3m1 0h1m1 0h1m7 0h1m6 0h2m3 0h1m12 0h1m7 0h1m7 0h1m1 0h1m3 0h1m2 0h3m3 0h1m2 0h2m-102 1h1m4 0h1m9 0h2m1 0h2m3 0h1m1 0h2m1 0h3m1 0h2m1 0h1m1 0h1m4 0h1m7 0h1m4 0h1m2 0h1m1 0h1m3 0h1m1 0h3m1 0h1m1 0h1m8 0h1m4 0h1m3 0h1m19 0h1m-99 1h1m3 0h1m2 0h1m2 0h6m3 0h1m2 0h1m1 0h1m7 0h2m4 0h1m2 0h1m12 0h2m1 0h1m2 0h1m2 0h2m3 0h2m3 0h3m6 0h1m1 0h1m6 0h1m6 0h1m-113 1h1m8 0h1m3 0h1m2 0h1m2 0h3m7 0h1m1 0h1m4 0h1m2 0h1m1 0h2m6 0h1m1 0h1m4 0h1m4 0h2m2 0h1m1 0h1m1 0h1m3 0h2m2 0h1m2 0h1m4 0h1m2 0h1m2 0h1m6 0h2m3 0h1m9 0h1m-96 1h2m9 0h1m6 0h1m2 0h2m14 0h1m5 0h1m1 0h1m2 0h3m2 0h3m5 0h2m5 0h1m2 0h3m4 0h1m1 0h1m3 0h1m1 0h1m1 0h1m1 0h1m1 0h1m-90 1h1m2 0h1m5 0h2m2 0h1m3 0h1m8 0h1m4 0h1m4 0h3m3 0h1m3 0h1m1 0h1m3 0h1m6 0h2m3 0h1m5 0h1m6 0h1m3 0h1m2 0h1m1 0h1m2 0h1m-89 1h2m1 0h2m1 0h2m1 0h2m3 0h5m3 0h2m1 0h3m6 0h1m6 0h1m2 0h1m1 0h1m16 0h1m1 0h2m9 0h1m1 0h1m-96 1h1m7 0h1m4 0h1m1 0h1m4 0h1m3 0h2m1 0h1m4 0h1m8 0h1m1 0h2m9 0h1m1 0h1m2 0h2m5 0h1m2 0h2m5 0h1m1 0h1m13 0h1m3 0h1m3 0h2m-103 1h1m10 0h1m8 0h1m2 0h1m1 0h1m1 0h1m1 0h1m4 0h1m5 0h2m1 0h1m8 0h2m3 0h1m5 0h1m1 0h1m4 0h1m4 0h2m5 0h1m1 0h1m3 0h2m5 0h3m-102 1h1m12 0h2m8 0h2m5 0h3m4 0h1m5 0h2m3 0h1m3 0h1m2 0h2m2 0h1m2 0h1m5 0h1m4 0h1m1 0h2m4 0h1m10 0h1m1 0h1m6 0h3m-96 1h1m19 0h1m1 0h1m2 0h1m2 0h1m2 0h1m5 0h2m1 0h1m3 0h1m5 0h1m2 0h1m3 0h3m4 0h2m4 0h1m1 0h2m3 0h1m1 0h1m-79 1h1m7 0h1m12 0h2m8 0h3m7 0h1m3 0h1m2 0h1m1 0h1m1 0h1m6 0h1m1 0h3m1 0h1m2 0h1m6 0h1m3 0h1m2 0h1m1 0h1m-89 1h2m17 0h1m6 0h1m3 0h2m3 0h2m2 0h3m24 0h1m4 0h1m1 0h1m-66 1h1m9 0h1m2 0h1m1 0h1m7 0h1m2 0h1m5 0h1m5 0h2m1 0h1m1 0h1m3 0h1m2 0h1m4 0h1m1 0h2m3 0h2m4 0h3m-78 1h1m19 0h2m1 0h1m1 0h1m1 0h1m1 0h2m2 0h1m3 0h1m1 0h1m5 0h2m2 0h2m1 0h1m1 0h2m2 0h2m3 0h1m1 0h3m1 0h1m1 0h2m-62 1h2m9 0h1m7 0h1m3 0h3m8 0h1m2 0h1m2 0h1m10 0h1m7 0h1m10 0h1m-87 1h1m15 0h1m1 0h1m7 0h1m2 0h2m2 0h1m9 0h1m28 0h5m-1 1h1m-65 1h1m4 0h1m6 0h1m4 0h1m3 0h1m-25 1h1m18 0h1m5 0h1m1 0h2m-25 1h1m2 0h1m1 0h1m4 0h2m-11 1h1m-3 1h3m0 1h1m1 1h1"/>
<path stroke="#414487" d="M108 2h1m10 1h1m-13 1h1m15 0h1m1 0h1m-19 1h1m2 0h1m2 0h1m3 0h1m4 0h1m2 0h1m-23 1h1m2 0h2m2 0h2m-14 1h1m1 0h2m11 0h2m11 0h1m8 0h1m-36 1h1m2 0h1m3 0h1m1 0h1m9 0h1m6 0h1m1 0h1m4 0h2m-33 1h1m4 0h1m8 0h1m19 0h1m-36 1h3m11 0h1m1 0h1m4 0h1m-25 1h1m3 0h1m7 0h1m8 0h2m3 0h1m4 0h1m-35 1h1m3 0h1m2 0h1m2 0h1m11 0h1m-24 1h1m11 0h2m1 0h1m14 0h1m13 0h1m-47 1h1m3 0h1m1 0h3m4 0h1m6 0h1m2 0h1m15 0h1m-39 1h1m6 0h1m4 0h1m15 0h1m10 0h1m-45 1h1m3 0h1m1 0h1m5 0h1m1 0h3m6 0h1m5 0h1m1 0h1m12 0h1m-40 1h1m3 0h1m3 0h3m19 0h1m10 0h1m-40 1h1m5 0h1m5 0h1m3 0h1m14 0h1m11 0h1m-41 1h1m2 0h1m7 0h2m1 0h2m1 0h1m15 0h1m2 0h1m4 0h1m-52 1h2m7 0h1m4 0h1m5 0h1m5 0h1m15 0h1m6 0h1m-53 1h1m4 0h1m10 0h1m8 0h1m3 0h2m12 0h1m-45 1h1m2 0h1m2 0h1m27 0h1m4 0h1m3 0h1m-36 1h1m1 0h2m26 0h1m5 0h2m4 0h1m2 0h1m-48 1h1m3 0h1m6 0h1m5 0h1m4 0h2m5 0h1m7 1h1m1 0h1m-46 1h1m10 0h1m11 0h2m14 0h1m10 0h1m-48 1h1m6 0h2m25 0h1m4 0h1m10 0h1m3 0h1m-60 1h1m11 0h1m8 0h1m7 0h1m9 0h1m1 0h1m4 0h1m2 0h1m3 0h1m8 0h1m-55 1h1m3 0h2m15 0h1m5 0h1m8 0h1m15 0h1m-59 1h1m13 0h1m6 0h1m17 0h1m10 0h1m7 0h1m-64 1h1m12 0h1m11 0h1m4 0h1m8 0h1m16 0h1m4 0h1m-65 1h1m1 0h1m4 0h1m14 0h2m4 0h1m7 0h1m1 0h1m1 0h1m10 0h1m3 0h1m1 0h1m1 0h1m5 0h1m-67 1h2m9 0h1m1 0h2m5 0h1m25 0h1m2 0h1m5 0h2m1 0h2m-61 1h1m7 0h1m10 0h1m1 0h1m18 0h1m4 0h1m4 0h1m11 0h1m1 0h2m3 0h1m-69 1h1m19 0h1m2 0h1m6 0h1m11 0h1m19 0h1m4 0h1m1 0h1m-63 1h1m9 0h1m9 0h1m1 0h1m6 0h1m2 0h1m28 0h1m-69 1h1m7 0h1m9 0h1m6 0h1m16 0h1m1 0h1m3 0h1m6 0h1m4 0h1m4 0h1m-67 1h1m4 0h1m1 0h1m1 0h1m18 0h1m7 0h1m7 0h1m15 0h1m4 0h1m-70 1h1m22 0h1m6 0h2m2 0h1m25 0h1m6 0h1m-60 1h1m9 0h1m16 0h1m29 0h1m7 0h1m-70 1h1m4 0h1m38 0h1m12 0h1m-62 1h1m4 0h1m37 0h1m5 0h1m12 0h1m8 0h1m-98 1h1m27 0h1m19 0h2m11 0h1m28 0h1m-63 1h1m12 0h3m18 0h1m29 0h1m-66 1h1m4 0h2m4 0h1m29 0h1m2 0h1m5 0h1m15 0h1m-78 1h1m5 0h1m1 0h1m2 0h1m57 0h1m13 0h1m-94 1h1m18 0h1m28 0h1m16 0h1m-6 1h1m10 0h1m-61 1h1m1 0h1m5 0h1m11 0h1m2 0h1m4 0h1m12 0h1m16 0h1m-71 1h1m16 0h1m31 0h1m26 0h2m2 0h1m-76 1h1m9 0h1m21 0h1m41 0h1m2 0h1m-74 1h1m4 0h1m7 0h1m3 0h2m3 0h1m1 0h1m6 0h1m20 0h1m8 0h1m-64 1h1m2 0h1m7 0h1m5 0h1m1 0h1m10 0h1m5 0h1m17 0h2m3 0h1m-64 1h1m6 0h1m2 0h1m3 0h1m4 0h1m11 0h1m12 0h2m4 0h1m8 0h1m7 0h1m1 0h2m-53 1h1m3 0h1m4 0h1m18 0h2m17 0h1m4 0h1m-69 1h2m28 0h2m1 0h1m10 0h1m3 0h1m11 0h1m3 0h1m-49 1h1m7 0h1m11 0h1m3 0h1m7 0h1m-36 1h1m5 0h1m4 0h1m8 0h1m15 0h1m4 0h1m1 0h1m9 0h1m6 0h1m16 0h1m4 0h1m-92 1h1m16 0h1m34 0h1m16 0h2m24 0h1m-151 1h1m6 0h2m48 0h1m3 0h1m1 0h1m7 0h1m10 0h1m4 0h1m8 0h1m4 0h1m3 0h1m18 0h2m-73 1h2m15 0h2m14 0h1m32 0h1m3 0h1m21 0h1m-93 1h1m2 0h2m6 0h1m8 0h1m14 0h1m6 0h1m19 0h2m12 0h1m14 0h1m-146 1h3m56 0h1m6 0h1m1 0h1m15 0h2m12 0h1m3 0h1m14 0h1m29 0h1m-138 1h1m56 0h1m14 0h1m3 0h1m9 0h1m1 0h1m1 0h1m4 0h1m2 0h2m16 0h1m6 0h2m11 0h1m-91 1h1m1 0h1m5 0h1m9 0h1m11 0h1m1 0h1m22 0h1m2 0h2m8 0h1m6 0h1m16 0h1m-70 1h1m17 0h1m5 0h1m3 0h1m1 0h1m4 0h1m3 0h1m2 0h1m1 0h1m6 0h1m8 0h1m-141 1h1m13 0h1m1 0h1m47 0h1m19 0h1m5 0h1m18 0h1m7 0h2m2 0h1m4 0h2m1 0h1m4 0h1m6 0h1m7 0h1m-110 1h1m10 0h1m1 0h1m32 0h1m2 0h1m1 0h1m3 0h1m22 0h1m3 0h1m1 0h1m7 0h1m4 0h1m4 0h1m-86 1h1m8 0h1m4 0h1m11 0h1m12 0h1m3 0h1m14 0h1m5 0h1m11 0h1m10 0h1m1 0h1m-149 1h1m3 0h2m7 0h1m35 0h1m8 0h1m3 0h1m3 0h1m7 0h1m25 0h1m24 0h1m1 0h1m3 0h1m2 0h1m10 0h1m2 0h1m-136 1h2m30 0h1m16 0h1m9 0h1m1 0h1m9 0h1m3 0h1m6 0h1m4 0h2m20 0h1m12 0h1m9 0h1m-131 1h3m33 0h1m31 0h1m2 0h1m2 0h1m2 0h1m1 0h1m5 0h1m10 0h1m5 0h1m8 0h1m-121 1h1m3 0h1m2 0h1m38 0h2m4 0h1m5 0h1m18 0h1m6 0h1m7 0h1m9 0h1m3 0h1m4 0h1m31 0h1m-93 1h1m8 0h1m1 0h2m6 0h1m1 0h1m3 0h1m4 0h1m14 0h1m4 0h1m3 0h1m-93 1h1m27 0h1m12 0h1m22 0h1m11 0h1m1 0h1m11 0h1m8 0h2m2 0h1m11 0h1m-67 1h1m10 0h1m37 0h1m3 0h1m9 0h1m-123 1h1m1 0h1m56 0h1m4 0h1m16 0h1m3 0h1m8 0h1m5 0h1m5 0h1m5 0h1m2 0h1m1 0h1m-120 1h1m2 0h1m2 0h1m39 0h1m1 0h1m4 0h1m17 0h1m1 0h1m2 0h1m7 0h1m11 0h2m1 0h1m3 0h1m2 0h1m3 0h1m3 0h1m25 0h1m-148 1h1m10 0h1m4 0h1m34 0h2m41 0h1m3 0h1m13 0h1m5 0h1m13 0h1m-129 1h2m4 0h1m7 0h1m22 0h1m14 0h1m4 0h1m29 0h1m15 0h1m3 0h1m1 0h2m2 0h1m6 0h1m8 0h2m10 0h1m-141 1h1m8 0h1m25 0h1m20 0h1m3 0h1m2 0h1m8 0h1m3 0h1m6 0h1m3 0h2m37 0h1m4 0h2m-136 1h2m5 0h1m9 0h3m24 0h1m2 0h1m20 0h1m6 0h1m-76 1h1m66 0h1m18 0h1m2 0h1m26 0h1m17 0h1m-121 1h1m2 0h1m1 0h1m38 0h1m10 0h1m10 0h2m-88 1h1m19 0h1m53 0h1m4 0h1m1 0h1m41 0h1m19 0h1m-134 1h2m2 0h1m9 0h1m12 0h1m15 0h2m18 0h1m6 0h1m3 0h1m7 0h1m30 0h2m1 0h1m10 0h1m1 0h1m1 0h1m-130 1h1m8 0h1m24 0h1m4 0h1m10 0h1m10 0h1m3 0h1m3 0h1m5 0h1m1 0h2m1 0h3m40 0h1m2 0h1m-143 1h1m14 0h1m45 0h1m7 0h1m5 0h1m2 0h1m7 0h1m6 0h1m48 0h1m-125 1h1m2 0h2m15 0h1m14 0h1m8 0h1m28 0h1m32 0h1m-128 1h1m19 0h1m3 0h1m8 0h1m1 0h1m1 0h1m18 0h1m8 0h2m5 0h1m1 0h1m5 0h1m45 0h1m6 0h1m-134 1h1m34 0h2m29 0h1m5 0h1m9 0h1m5 0h2m34 0h1m7 0h2m2 0h1m6 0h1m-145 1h1m8 0h1m17 0h1m3 0h1m3 0h1m22 0h2m7 0h3m2 0h2m3 0h1m20 0h1m30 0h1m5 0h1m-134 1h1m25 0h1m1 0h2m4 0h1m1 0h1m18 0h1m1 0h1m4 0h1m19 0h1m8 0h1m42 0h1m-133 1h1m16 0h1m20 0h1m1 0h1m13 0h1m6 0h1m1 0h1m2 0h1m2 0h1m7 0h1m9 0h1m1 0h1m1 0h1m-87 1h1m7 0h1m2 0h1m15 0h2m28 0h1m12 0h2m16 0h1m32 0h1m4 0h2m-134 1h1m1 0h1m11 0h1m12 0h1m5 0h1m7 0h1m5 0h1m9 0h1m2 0h1m9 0h1m4 0h1m1 0h1m18 0h1m23 0h1m12 0h2m3 0h1m-140 1h1m14 0h1m1 0h1m12 0h1m9 0h1m1 0h2m7 0h2m10 0h1m3 0h1m22 0h2m6 0h1m-98 1h1m3 0h1m3 0h1m8 0h1m9 0h1m2 0h1m3 0h1m5 0h1m2 0h2m3 0h1m6 0h1m5 0h1m3 0h1m23 0h1m37 0h1m9 0h1m-140 1h1m7 0h1m2 0h1m14 0h1m9 0h1m5 0h1m3 0h1m4 0h1m2 0h1m1 0h1m3 0h1m1 0h1m20 0h1m39 0h2m1 0h1m2 0h1m-119 1h2m7 0h1m9 0h1m14 0h1m1 0h3m7 0h1m1 0h1m11 0h1m17 0h1m24 0h2m2 0h1m2 0h2m6 0h1m3 0h1m-127 1h1m4 0h1m2 0h1m7 0h1m4 0h1m17 0h1m12 0h1m9 0h2m1 0h1m13 0h1m4 0h1m28 0h1m2 0h1m2 0h1m-115 1h1m5 0h1m2 0h1m8 0h3m6 0h1m9 0h2m6 0h1m5 0h1m2 0h1m2 0h1m4 0h1m6 0h1m14 0h1m20 0h1m-116 1h2m8 0h1m7 0h1m1 0h1m1 0h1m3 0h2m6 0h1m1 0h1m3 0h1m16 0h1m3 0h2m1 0h2m2 0h1m4 0h1m9 0h1m6 0h1m1 0h1m3 0h1m17 0h2m1 0h2m5 0h1m3 0h1m-132 1h1m3 0h1m23 0h1m1 0h1m7 0h1m4 0h1m3 0h1m12 0h1m10 0h2m15 0h1m11 0h1m18 0h1m2 0h1m9 0h1m-129 1h1m24 0h1m7 0h1m4 0h1m1 0h1m6 0h1m19 0h1m2 0h2m2 0h2m7 0h1m10 0h1m19 0h1m1 0h2m-115 1h1m3 0h1m24 0h1m9 0h1m14 0h1m16 0h1m11 0h2m5 0h1m18 0h1m2 0h1m10 0h1m1 0h1m-128 1h1m2 0h1m14 0h1m15 0h1m32 0h1m2 0h1m1 0h2m3 0h2m3 0h2m40 0h1m3 0h1m-121 1h2m13 0h2m1 0h1m1 0h1m8 0h1m1 0h1m3 0h1m3 0h1m4 0h1m2 0h1m5 0h1m58 0h1m7 0h1m-121 1h1m13 0h1m7 0h1m5 0h1m4 0h1m3 0h1m2 0h1m12 0h1m8 0h1m12 0h1m3 0h2m30 0h2m1 0h1m-125 1h1m14 0h2m21 0h1m8 0h1m5 0h2m7 0h1m3 0h1m2 0h1m41 0h1m-97 1h1m8 0h2m20 0h1m19 0h2m8 0h1m10 0h2m10 0h1m12 0h1m-99 1h2m20 0h1m4 0h1m2 0h1m1 0h1m3 0h1m2 0h1m1 0h1m2 0h1m6 0h1m5 0h1m9 0h1m17 0h1m4 0h1m-96 1h2m3 0h1m7 0h1m13 0h1m8 0h2m1 0h1m5 0h2m13 0h1m1 0h1m17 0h1m2 0h1m16 0h1m5 0h1m6 0h1m-119 1h1m10 0h1m3 0h1m3 0h1m19 0h1m12 0h1m15 0h1m20 0h1m7 0h2m2 0h1m7 0h2m1 0h1m2 0h1m-119 1h1m20 0h1m13 0h1m19 0h1m6 0h1m1 0h1m4 0h1m2 0h1m5 0h1m2 0h1m1 0h1m2 0h1m3 0h1m19 0h2m10 0h1m-125 1h1m4 0h1m16 0h1m13 0h1m27 0h1m7 0h2m3 0h1m3 0h2m19 0h1m10 0h1m2 0h1m-116 1h1m14 0h1m7 0h1m10 0h1m6 0h1m5 0h2m2 0h1m14 0h1m3 0h1m6 0h2m4 0h1m4 0h1m7 0h1m2 0h1m1 0h1m5 0h1m11 0h1m-126 1h1m44 0h1m2 0h1m3 0h1m1 0h4m2 0h1m2 0h1m10 0h1m1 0h1m5 0h1m7 0h1m7 0h1m7 0h1m-83 1h1m18 0h1m10 0h2m2 0h1m29 0h1m1 0h2m3 0h1m4 0h1m4 0h1m3 0h1m6 0h1m-113 1h1m6 0h1m28 0h1m3 0h2m4 0h1m1 0h1m1 0h1m3 0h2m2 0h1m1 0h1m2 0h2m2 0h1m3 0h1m4 0h1m4 0h1m8 0h2m2 0h1m4 0h1m1 0h1m4 0h1m-112 1h1m5 0h1m8 0h1m11 0h1m17 0h1m2 0h1m1 0h1m17 0h1m8 0h1m3 0h1m3 0h1m5 0h2m6 0h1m6 0h2m9 0h1m5 0h1m-118 1h2m21 0h1m10 0h1m10 0h1m16 0h1m13 0h1m6 0h1m1 0h1m5 0h1m5 0h1m2 0h2m8 0h1m-118 1h2m3 0h2m40 0h1m4 0h1m14 0h1m2 0h1m4 0h2m1 0h1m16 0h1m9 0h2m-99 1h1m1 0h1m3 0h1m26 0h2m6 0h1m16 0h1m2 0h1m7 0h1m14 0h1m1 0h1m4 0h1m9 0h2m8 0h1m-114 1h1m2 0h2m17 0h1m31 0h1m7 0h3m4 0h1m22 0h1m9 0h1m1 0h1m-100 1h1m2 0h1m4 0h2m6 0h1m3 0h1m5 0h1m9 0h1m1 0h1m4 0h1m9 0h1m3 0h1m18 0h2m9 0h1m2 0h1m6 0h1m4 0h1m-111 1h1m5 0h1m12 0h1m1 0h1m1 0h1m4 0h1m3 0h1m7 0h1m1 0h1m23 0h1m2 0h1m4 0h1m3 0h1m6 0h1m-81 1h1m16 0h1m4 0h1m4 0h1m20 0h1m37 0h1m9 0h1m-81 1h1m11 0h1m26 0h1m1 0h1m37 0h1m-104 1h1m19 0h1m11 0h1m2 0h1m12 0h1m7 0h1m1 0h1m9 0h1m2 0h1m10 0h1m5 0h1m-84 1h1m4 0h1m2 0h1m1 0h1m7 0h1m1 0h1m9 0h1m16 0h2m3 0h1m41 0h1m5 0h1m-98 1h1m6 0h1m7 0h1m1 0h1m7 0h1m7 0h1m2 0h1m4 0h1m17 0h1m4 0h2m2 0h1m15 0h1m10 0h1m-102 1h1m17 0h1m2 0h2m9 0h1m38 0h1m12 0h1m6 0h1m4 0h1m-100 1h1m14 0h1m16 0h1m9 0h1m10 0h1m3 0h1m6 0h1m4 0h1m2 0h1m32 0h1m2 0h1m-103 1h1m4 0h1m2 0h1m7 0h1m4 0h1m4 0h1m6 0h1m4 0h1m1 0h1m9 0h1m12 0h1m1 0h1m5 0h1m-78 1h2m6 0h1m2 0h1m4 0h1m2 0h1m14 0h1m13 0h1m8 0h1m13 0h1m12 0h1m-85 1h1m5 0h1m19 0h1m5 0h1m33 0h1m3 0h1m2 0h1m12 0h1m12 0h1m-78 1h1m25 0h1m13 0h1m4 0h1m5 0h2m3 0h1m4 0h1m1 0h1m-65 1h1m2 0h1m7 0h1m2 0h1m11 0h1m24 0h1m4 0h1m1 0h1m-68 1h2m3 0h1m4 0h1m26 0h1m5 0h2m3 0h1m2 0h4m1 0h1m4 0h1m21 0h1m-89 1h1m21 0h1m4 0h1m7 0h1m22 0h1m2 0h1m17 0h1m-84 1h1m3 0h1m16 0h1m6 0h1m13 0h2m31 0h1m4 0h1m-77 1h1m13 0h2m2 0h1m2 0h1m3 0h2m15 0h1m7 0h1m1 0h1m13 0h1m-68 1h1m2 0h1m11 0h1m5 0h1m30 0h1m-46 1h1m22 0h1m-22 1h1m9 0h1m1 0h2m1 0h2m-24 1h1m4 0h1m12 0h1m3 0h2m-6 1h1m-11 1h1m3 0h1"/>
<path stroke="#35608D" d="M111 4h1m12 0h1m9 0h1m-26 1h1m14 0h1m-8 1h1m17 0h1m-32 1h1m6 0h1m3 0h1m12 0h1m-30 1h1m14 0h1m3 0h1m3 0h1m-22 1h1m6 0h1m2 0h1m17 0h1m-23 1h2m14 0h1m13 0h1m-35 1h1m21 0h1m4 0h1m-22 1h1m14 0h1m12 0h1m-21 1h1m-25 1h1m34 0h1m-37 1h1m23 0h1m10 0h2m1 0h1m-19 1h1m25 0h1m-47 1h1m12 0h1m-8 1h1m6 0h1m8 0h1m18 1h1m1 0h1m2 0h1m-33 1h1m31 0h1m-26 1h1m7 0h1m12 0h1m-5 1h1m4 0h1m-53 1h1m17 0h1m6 0h1m17 0h1m-42 1h1m34 0h1m7 0h1m11 0h1m-50 1h1m3 0h1m16 0h1m20 0h1m2 0h2m3 0h1m-37 1h2m4 0h1m6 0h1m3 0h1m7 0h1m-15 1h1m18 0h1m8 0h1m-60 1h1m9 0h1m16 0h1m3 0h1m5 0h1m1 0h1m15 0h1m-60 1h1m5 0h1m25 0h2m6 0h1m16 0h1m-60 1h1m39 0h1m2 0h1m-34 1h1m7 0h1m13 0h1m2 0h1m2 0h1m5 0h1m8 0h1m9 0h1m-68 1h1m18 0h1m15 0h1m2 0h1m28 0h1m-70 1h1m8 0h1m8 0h1m6 0h1m2 0h1m33 0h1m-60 1h1m4 0h1m3 0h1m17 0h1m3 0h1m4 0h1m15 0h1m-47 1h1m41 0h1m11 1h1m-64 1h1m2 0h1m54 0h1m4 0h2m-58 1h1m1 0h1m53 0h1m1 0h1m-51 1h1m31 0h1m21 0h1m-72 1h1m5 0h1m9 0h1m15 0h1m37 0h1m-60 2h1m23 0h1m-32 1h1m-23 1h1m7 0h1m9 0h1m2 0h1m6 0h2m7 0h2m21 0h1m25 0h1m-88 1h1m4 0h3m1 0h1m4 0h3m4 0h1m4 0h2m8 0h1m3 0h1m1 0h1m45 0h1m-79 1h1m51 0h1m3 0h1m-57 1h1m17 0h1m10 0h1m4 0h1m5 0h1m1 0h1m-41 1h1m1 0h1m5 0h1m2 0h1m3 0h1m2 0h1m2 0h1m11 0h1m3 0h1m-26 1h1m15 0h1m21 0h1m-52 1h1m3 0h1m-3 1h1m19 0h1m-16 1h1m17 0h1m4 0h1m19 0h1m13 0h1m-30 1h1m15 0h1m5 0h1m-61 1h1m20 0h1m32 0h1m-66 1h1m16 0h1m9 0h1m23 0h1m4 0h1m16 1h1m-50 1h1m11 0h1m24 0h1m8 0h1m-31 1h1m8 0h1m-36 1h2m13 0h1m7 0h2m1 0h1m29 0h1m25 0h1m6 0h1m-86 1h1m3 0h1m-68 1h1m66 0h1m8 0h1m1 0h1m3 0h1m5 0h1m8 0h1m13 0h1m3 0h2m-60 1h1m3 0h2m11 0h1m2 0h1m13 0h1m4 0h1m15 0h1m6 0h2m-119 1h1m51 0h2m20 0h1m9 0h1m12 0h1m5 0h1m6 0h1m29 0h1m-146 1h1m8 0h1m47 0h1m14 0h1m20 0h1m6 0h1m17 0h1m4 0h1m8 0h2m5 0h1m-72 1h1m8 0h1m1 0h1m5 0h1m11 0h1m25 0h1m2 0h1m1 0h1m4 0h1m14 0h1m-146 1h1m3 0h1m55 0h1m10 0h1m12 0h1m8 0h1m3 0h1m10 0h1m6 0h1m16 0h1m2 0h1m3 0h1m4 0h1m-90 1h1m3 0h1m23 0h1m8 0h4m7 0h1m3 0h1m3 0h1m16 0h1m1 0h1m13 0h1m-145 1h1m6 0h1m65 0h1m16 0h2m7 0h1m1 0h2m20 0h2m1 0h1m-127 1h1m49 0h1m18 0h2m4 0h1m2 0h2m7 0h1m33 0h1m5 0h1m3 0h1m6 0h1m5 0h1m-144 1h1m4 0h1m82 0h1m1 0h1m21 0h2m2 0h1m9 0h1m6 0h1m1 0h1m5 0h1m-144 1h1m85 0h1m6 0h1m7 0h1m9 0h1m11 0h2m7 0h1m-135 1h1m85 0h1m12 0h1m1 0h2m5 0h1m13 0h1m6 0h1m1 0h2m1 0h1m5 0h1m-138 1h1m59 0h1m10 0h1m7 0h1m1 0h1m2 0h1m6 0h1m2 0h1m20 0h1m6 0h1m2 0h1m11 0h1m-136 1h1m2 0h1m2 0h1m50 0h1m56 0h1m1 0h1m-115 1h1m10 0h1m45 0h1m17 0h1m4 0h1m9 0h1m6 0h3m3 0h1m12 0h1m7 0h1m2 0h1m-134 1h2m6 0h1m41 0h1m15 0h1m6 0h1m1 0h1m4 0h1m6 0h1m6 0h1m12 0h1m22 0h1m-79 1h1m5 0h1m12 0h1m17 0h1m3 0h1m-98 1h1m5 0h1m3 0h1m4 0h1m44 0h1m14 0h2m24 0h1m4 0h1m12 0h1m-70 1h1m20 0h1m7 0h1m29 0h1m4 0h1m-98 1h1m25 0h1m11 0h1m11 0h1m33 0h1m9 0h1m-96 1h1m38 0h1m16 0h1m10 0h2m3 0h1m28 0h1m-100 1h2m32 0h1m1 0h1m3 0h1m33 0h1m18 0h1m-111 1h1m14 0h1m33 0h2m16 0h1m22 0h1m32 0h1m5 0h1m-118 1h1m34 0h1m14 0h1m27 0h1m24 0h1m10 0h1m-78 1h1m1 0h1m7 0h2m2 0h1m10 0h1m10 0h2m1 0h1m-84 1h1m54 0h1m6 0h1m5 0h1m12 0h1m-75 1h1m35 0h1m6 0h1m81 0h1m-127 1h2m6 0h1m13 0h1m40 0h1m9 0h1m31 0h2m1 0h1m-113 1h1m44 0h1m18 0h1m51 0h2m4 0h1m2 0h1m-122 1h1m46 0h1m5 0h1m53 0h1m4 0h1m-60 1h1m53 0h1m-112 1h2m3 0h1m15 0h1m37 0h2m1 0h2m6 0h1m35 0h2m11 0h1m-138 1h1m21 0h1m106 0h1m7 0h1m-128 1h1m48 0h1m2 0h1m7 0h1m15 0h1m4 0h1m-86 1h1m11 0h1m13 0h1m4 0h2m43 0h2m38 0h2m12 0h1m-124 1h1m11 0h1m8 0h1m4 0h1m25 0h2m23 0h1m33 0h1m13 0h1m-126 1h1m10 0h1m22 0h1m1 0h1m15 0h1m9 0h2m1 0h1m5 0h1m38 0h1m-102 1h1m3 0h1m21 0h2m16 0h1m25 0h1m-81 1h1m5 0h1m15 0h1m61 0h1m19 0h1m-112 1h1m1 0h1m8 0h1m8 0h1m12 0h1m1 0h1m10 0h2m1 0h1m7 0h2m2 0h1m23 0h1m3 0h1m17 0h1m14 0h1m6 0h1m-125 1h2m26 0h1m13 0h1m8 0h1m18 0h1m20 0h1m31 0h1m-118 1h1m21 0h1m2 0h1m25 0h1m2 0h1m20 0h1m1 0h1m4 0h1m2 0h1m13 0h2m13 0h1m-122 1h1m9 0h1m5 0h2m10 0h1m35 0h1m15 0h1m24 0h1m-89 1h1m1 0h1m4 0h1m18 0h1m1 0h1m36 0h1m27 0h1m2 0h1m-117 1h1m8 0h1m31 0h2m3 0h1m2 0h1m26 0h1m4 0h1m3 0h1m38 0h1m-111 1h1m13 0h1m5 0h1m9 0h2m27 0h1m12 0h1m29 0h1m-95 1h1m20 0h1m2 0h1m4 0h1m1 0h1m28 0h3m6 0h1m17 0h1m-112 1h1m19 0h1m17 0h1m15 0h1m19 0h1m19 0h1m16 0h1m14 0h1m-92 1h1m19 0h1m9 0h2m1 0h1m13 0h1m3 0h1m3 0h1m23 0h1m-88 1h1m10 0h1m1 0h1m5 0h1m3 0h1m11 0h2m1 0h1m7 0h1m2 0h1m2 0h1m5 0h1m6 0h1m19 0h1m11 0h1m-98 1h1m1 0h1m7 0h1m24 0h1m5 0h1m4 0h1m30 0h4m5 0h2m1 0h1m2 0h1m-98 1h1m13 0h2m11 0h1m7 0h1m3 0h1m6 0h1m1 0h1m1 0h1m12 0h1m1 0h1m15 0h1m9 0h1m2 0h1m5 0h1m-106 1h2m8 0h1m12 0h3m13 0h2m7 0h1m11 0h1m17 0h1m12 0h1m2 0h1m6 0h1m-93 1h1m15 0h1m19 0h1m53 0h1m-102 1h1m19 0h1m3 0h1m1 0h1m5 0h1m8 0h1m12 0h1m6 0h1m6 0h1m2 0h1m17 0h1m-88 1h1m2 0h1m23 0h1m26 0h1m5 0h1m9 0h1m7 0h1m1 0h1m9 0h1m3 0h1m3 0h1m-121 1h1m18 0h1m3 0h1m22 0h1m15 0h1m8 0h1m17 0h1m21 0h1m-102 1h1m9 0h1m3 0h1m14 0h3m20 0h1m11 0h1m7 0h1m24 0h1m-105 1h1m20 0h1m3 0h1m6 0h1m12 0h1m1 0h1m7 0h1m12 0h2m2 0h2m22 0h1m7 0h1m-86 1h1m20 0h1m10 0h1m2 0h1m13 0h1m-66 1h1m41 0h2m4 0h1m1 0h1m22 0h1m9 0h1m3 0h1m13 0h1m9 0h1m-122 1h1m7 0h1m3 0h1m2 0h1m29 0h1m1 0h2m17 0h1m6 0h1m9 0h1m3 0h2m4 0h2m3 0h1m2 0h1m-104 1h1m8 0h2m39 0h2m5 0h1m2 0h1m4 0h1m38 0h1m12 0h1m4 0h1m-88 1h1m17 0h1m3 0h1m3 0h1m3 0h1m5 0h1m31 0h1m3 0h1m1 0h1m4 0h1m-106 1h1m3 0h1m1 0h1m42 0h1m4 0h1m24 0h1m4 0h1m1 0h1m7 0h1m3 0h1m5 0h1m5 0h1m-118 1h3m9 0h1m2 0h1m34 0h1m15 0h1m3 0h1m10 0h1m3 0h1m10 0h1m9 0h1m7 0h2m-119 1h1m1 0h1m3 0h1m7 0h1m12 0h1m4 0h1m13 0h1m4 0h1m5 0h1m14 0h2m6 0h1m3 0h1m24 0h1m-106 1h2m22 0h1m23 0h1m8 0h1m12 0h1m2 0h1m31 0h1m-99 1h2m1 0h1m4 0h1m13 0h1m12 0h1m26 0h1m4 0h2m16 0h1m4 0h1m4 0h1m6 0h2m-103 1h2m39 0h1m3 0h1m9 0h1m4 0h1m-78 1h1m8 0h1m1 0h1m3 0h1m17 0h1m9 0h1m7 0h1m5 0h1m13 0h1m4 0h1m30 0h1m-106 1h1m8 0h1m15 0h1m5 0h1m21 0h1m1 0h1m4 0h1m12 0h1m17 0h1m6 0h1m3 0h1m7 0h1m1 0h1m-103 1h2m6 0h1m11 0h1m5 0h1m11 0h1m5 0h1m24 0h2m5 0h1m3 0h1m8 0h1m9 0h1m2 0h1m-108 1h1m2 0h1m4 0h1m4 0h1m19 0h1m14 0h1m25 0h1m1 0h1m2 0h1m13 0h1m-97 1h1m16 0h1m9 0h2m8 0h1m29 0h2m11 0h1m16 0h1m7 0h1m-97 1h1m12 0h1m10 0h1m15 0h1m29 0h1m23 0h1m2 0h1m-98 1h1m8 0h1m7 0h1m21 0h1m9 0h1m8 0h1m15 0h1m15 0h1m-77 1h1m8 0h1m15 0h1m52 0h1m-98 1h1m4 0h1m12 0h1m27 0h1m2 0h1m10 0h1m2 0h2m7 0h1m3 0h1m7 0h1m-56 1h1m6 0h1m13 0h1m8 0h2m13 0h1m2 0h1m2 0h1m4 0h1m-85 1h1m9 0h1m10 0h1m7 0h1m6 0h1m5 0h1m15 0h1m2 0h1m1 0h1m10 0h1m1 0h1m3 0h1m-80 1h1m6 0h1m10 0h1m26 0h1m34 0h1m-59 1h1m4 0h1m19 0h1m20 0h1m4 0h1m6 0h1m-73 1h1m1 0h1m4 0h1m11 0h1m-27 1h1m17 0h1m5 0h2m6 0h1m-19 1h1m12 0h1m-17 1h1m8 0h1m-9 1h1m16 0h1"/>
<path stroke="#2A788E" d="M114 3h1m2 0h2m7 0h1m-13 2h2m4 0h1m5 0h1m-10 2h1m5 0h1m-14 1h1m-7 1h1m8 0h1m10 0h1m-21 1h1m11 0h1m10 1h1m9 0h1m-31 1h1m-9 1h2m3 0h1m3 0h1m3 0h1m6 0h1m-1 1h1m10 0h1m6 0h1m-35 1h1m14 0h1m-13 1h1m3 0h1m4 0h1m21 0h1m-52 1h1m20 0h1m1 0h1m2 0h1m11 0h1m3 0h1m1 0h2m-46 1h1m31 0h1m12 0h1m3 0h1m-28 1h1m19 0h1m-12 1h1m11 0h1m-3 1h1m-44 2h1m15 0h1m4 0h1m8 0h1m9 0h1m16 0h1m-20 2h1m11 0h1m-21 1h1m6 0h1m4 0h1m9 0h1m-55 1h1m6 0h1m21 0h2m9 0h1m-37 1h1m11 0h1m10 0h1m7 0h1m8 0h1m-42 1h1m38 0h1m4 0h1m4 0h1m-57 1h1m24 0h1m3 0h2m8 0h1m18 0h1m-59 1h1m22 0h1m39 0h1m-65 1h1m7 0h1m1 0h1m2 0h1m-17 1h1m18 0h2m4 0h1m-25 1h1m11 0h1m6 0h1m9 0h1m8 0h1m1 0h1m-43 1h1m15 0h1m1 0h1m1 0h1m14 0h1m4 0h1m-40 1h2m5 0h1m34 0h1m-48 1h2m3 0h1m15 0h1m5 0h1m4 0h1m7 0h1m6 0h1m-14 1h1m39 0h2m-77 1h1m5 0h1m2 0h1m1 0h1m26 0h1m9 0h1m-35 1h1m13 0h1m5 0h1m1 0h1m27 0h1m-62 1h1m5 0h1m2 0h1m31 0h1m29 0h1m-63 1h1m29 0h1m7 0h1m23 0h1m-69 1h1m3 0h1m28 0h1m3 0h2m26 0h1m4 0h1m-81 1h1m1 0h2m15 0h1m17 0h1m-40 1h2m26 0h1m14 0h1m30 0h1m-70 1h1m4 1h1m13 0h1m32 0h1m-55 1h1m2 0h1m8 0h1m11 0h1m6 0h1m20 0h2m-59 1h1m12 0h1m5 0h1m25 0h1m9 0h1m-47 1h1m5 0h1m25 0h1m13 0h1m-55 1h1m5 0h1m6 0h1m-1 1h1m2 0h1m20 0h1m12 0h1m-46 1h1m3 0h1m11 0h1m12 0h1m-35 1h1m7 0h1m24 0h1m4 0h1m-27 1h1m-11 1h1m3 0h1m32 0h1m18 0h1m1 0h1m-31 1h1m1 1h1m18 0h1m5 0h1m4 0h1m7 0h1m16 0h1m-81 1h1m34 0h1m16 0h1m28 0h1m-92 1h1m3 0h1m30 0h1m25 0h1m-48 1h1m-3 1h1m2 0h1m22 0h2m46 0h1m-80 1h1m18 0h1m35 0h2m23 0h1m-137 1h1m68 0h1m16 0h1m3 0h1m16 0h2m2 0h1m11 0h1m6 0h1m2 0h1m-66 1h1m3 0h1m18 0h2m13 0h1m3 0h1m-113 1h1m49 0h1m3 0h1m14 0h1m17 0h1m27 0h1m12 0h1m6 0h1m-133 1h1m55 0h1m10 0h1m3 0h1m1 0h1m6 0h1m26 0h1m6 0h1m12 0h1m-65 1h1m23 0h1m33 0h1m-52 1h1m7 0h1m3 0h1m12 0h1m23 0h1m3 0h1m3 0h1m-61 1h1m11 0h2m28 0h1m14 0h1m14 0h1m-141 1h1m39 0h1m12 0h2m11 0h1m14 0h1m32 0h1m24 0h1m-73 1h1m18 0h1m25 0h2m3 0h1m12 0h1m9 0h1m-142 1h1m57 0h1m3 0h1m20 0h1m10 0h1m2 0h1m11 0h1m15 0h1m2 0h1m-127 1h1m7 0h1m35 0h1m17 0h1m18 0h1m12 0h2m9 0h1m23 0h2m-130 1h1m69 0h1m22 0h1m36 0h1m-85 1h2m11 0h1m17 0h1m17 0h1m17 0h1m6 0h1m9 0h1m-94 1h1m16 0h1m39 0h1m5 0h1m7 0h1m10 0h1m14 0h2m-136 1h1m6 0h1m29 0h1m17 0h1m26 0h1m13 0h1m17 0h3m12 0h1m3 0h1m-144 1h1m16 0h2m51 0h1m33 0h2m-41 1h1m5 0h2m2 0h1m9 0h1m50 0h1m-91 1h1m6 0h1m33 0h1m48 0h1m-72 1h3m10 0h1m5 0h1m38 0h1m-125 1h1m40 0h1m10 0h1m39 0h1m18 0h1m13 0h1m10 0h1m-51 1h1m34 0h1m1 0h1m2 0h2m6 0h1m-78 1h1m5 0h1m52 0h1m2 0h1m-100 1h1m20 0h1m32 0h1m-24 1h1m1 0h1m7 0h1m11 0h3m44 0h1m10 0h1m-78 1h1m4 0h1m64 0h1m2 0h1m-117 1h1m37 0h1m8 0h1m54 0h1m-58 1h1m10 0h1m3 0h1m-64 1h1m63 0h1m5 0h2m50 0h1m-49 1h1m-75 1h1m58 0h1m6 0h2m-88 1h1m7 0h1m70 0h1m46 0h1m4 0h1m4 0h1m2 0h1m-138 1h1m4 0h1m54 0h1m13 0h1m10 0h1m4 0h1m-79 1h1m8 0h1m39 0h1m11 0h1m18 0h1m1 0h1m-65 1h2m14 0h1m13 0h1m3 0h1m22 0h1m4 0h1m41 0h1m-134 1h1m14 0h1m11 0h1m4 0h1m1 0h1m16 0h1m1 0h1m8 0h1m17 0h1m29 0h1m16 0h1m-92 1h1m7 0h1m43 0h2m1 0h1m17 0h1m17 0h2m1 0h1m-124 1h1m49 0h2m18 0h1m-75 1h1m20 0h1m7 0h1m4 0h1m24 0h1m5 0h1m28 0h1m16 0h1m-95 1h1m3 0h1m64 0h1m26 0h1m-107 1h1m7 0h1m22 0h1m42 0h1m7 0h1m3 0h1m12 0h1m9 0h1m-121 1h1m19 0h1m1 0h1m18 0h1m48 0h1m4 0h1m15 0h1m19 0h2m-128 1h1m17 0h1m27 0h1m21 0h1m40 0h1m8 0h2m2 0h1m2 0h1m-120 1h1m11 0h1m13 0h1m3 0h1m25 0h1m13 0h2m12 0h1m25 0h1m-97 1h1m26 0h1m70 0h1m-101 1h1m24 0h1m20 0h1m3 0h1m15 0h1m24 0h1m-59 1h1m4 0h1m7 0h1m8 0h1m2 0h1m41 0h1m-69 1h1m-35 1h1m4 0h2m2 0h1m22 0h1m14 0h1m5 0h1m14 0h1m-80 1h1m16 0h1m12 0h1m13 0h1m1 0h1m3 0h1m27 0h1m5 0h1m6 0h1m-90 1h1m63 0h1m9 0h2m3 0h1m24 0h1m1 0h2m-104 1h1m12 0h2m26 0h2m21 0h1m11 0h1m11 0h1m3 0h1m6 0h1m1 0h1m-114 1h2m14 0h1m18 0h1m6 0h2m21 0h1m32 0h1m16 0h1m1 0h1m-84 1h1m1 0h1m7 0h1m1 0h1m10 0h1m24 0h1m8 0h1m-68 1h1m4 0h1m1 0h1m1 0h2m15 0h1m2 0h1m13 0h1m2 0h2m4 0h1m3 0h1m2 0h1m1 0h1m31 0h1m-50 1h1m10 0h1m1 0h1m32 0h1m-128 1h1m22 0h1m35 0h1m2 0h1m3 0h1m16 0h1m5 0h1m10 0h1m6 0h1m-87 1h1m47 0h1m12 0h1m1 0h1m10 0h1m16 0h1m-48 1h2m15 0h1m7 0h1m5 0h1m1 0h1m7 0h1m3 0h2m-111 1h1m57 0h1m-61 1h1m61 0h2m12 0h1m18 0h1m6 0h1m3 0h1m3 0h1m4 0h1m-115 1h1m3 0h1m67 0h1m25 0h1m-87 1h1m36 0h1m48 0h1m9 0h1m6 0h1m-83 1h1m37 0h1m24 0h1m-95 1h1m84 0h1m22 0h1m-76 1h1m23 0h1m5 0h1m3 0h2m10 0h1m21 0h1m6 0h1m-107 1h1m7 0h1m1 0h1m38 0h2m28 0h1m1 0h1m3 0h1m-87 1h1m3 0h2m25 0h1m18 0h1m48 0h1m2 0h1m4 0h1m-94 1h1m49 0h1m6 0h1m2 0h1m-83 1h1m16 0h1m1 0h1m28 0h1m9 0h1m21 0h1m20 0h1m-95 1h1m24 0h1m13 0h1m6 0h1m21 0h2m1 0h1m7 0h1m3 0h1m7 0h1m-71 1h1m2 0h1m43 0h1m2 0h1m4 0h1m17 0h1m-87 1h1m5 0h1m20 0h2m36 0h1m3 0h1m3 0h1m10 0h1m2 0h1m1 0h1m-95 1h1m16 0h1m12 0h1m22 0h1m6 0h1m3 0h1m4 0h2m4 0h1m22 0h1m-96 1h2m23 0h1m14 0h1m38 0h1m-73 1h1m15 0h1m44 0h1m10 0h1m1 0h2m-28 1h1m16 0h1m12 0h1m-87 1h1m29 0h1m8 0h1m1 0h1m9 0h1m8 0h1m10 0h1m1 0h2m1 0h1m12 0h1m-91 1h1m19 0h1m20 0h1m1 0h1m-36 1h1m2 0h1m29 0h1m-44 1h1m3 0h1m10 0h1m17 0h1m10 0h1m17 0h1m18 0h1m-61 1h1m-10 2h1m19 0h1m3 0h1m-1 1h1m-16 1h1m-9 1h1m3 1h1"/>
<path stroke="#21908C" d="M115 3h1m18 0h1m-13 1h1m6 0h1m-29 2h1m11 0h1m1 0h1m5 0h1m2 0h1m-13 1h1m11 1h1m2 0h1m-13 1h1m5 0h1m1 0h1m6 0h1m-18 1h1m22 0h1m-36 1h1m2 0h1m30 0h2m-36 1h1m6 0h1m29 0h1m-17 1h1m3 0h1m3 0h1m2 0h1m-31 1h1m10 2h1m15 0h1m1 1h1m3 0h1m-35 1h3m1 0h1m18 0h1m10 0h2m-24 1h1m-6 1h1m14 0h1m-19 2h1m10 2h1m5 0h1m9 0h1m-40 1h1m8 0h1m2 0h1m3 0h1m21 0h1m-37 1h1m19 0h1m-20 1h1m20 0h1m6 0h1m4 0h1m-52 2h1m17 0h1m1 0h2m22 0h1m-13 1h1m-18 1h1m-4 1h1m31 0h1m10 0h1m-38 1h1m-25 1h1m15 0h1m40 0h1m3 0h1m-65 1h1m1 0h1m36 0h1m19 0h1m-58 1h1m16 0h1m6 0h1m35 0h1m7 0h1m-56 1h1m3 0h1m15 0h1m32 0h1m2 0h1m1 0h1m-73 1h1m1 0h1m1 0h1m10 0h1m2 0h1m26 0h1m13 0h1m-62 1h1m8 0h1m10 1h1m22 0h1m29 0h1m-55 1h1m48 0h1m6 0h1m-77 1h1m8 0h1m1 0h1m9 0h1m9 0h1m35 0h2m-33 1h1m15 0h1m-61 1h1m9 0h1m33 0h1m6 0h1m2 0h1m5 0h1m-20 1h1m41 0h1m-74 1h1m11 0h1m4 0h1m8 0h1m-9 1h1m4 0h1m3 0h1m23 0h1m20 0h1m-60 1h1m6 0h1m-3 1h1m8 0h1m19 0h1m-26 1h1m6 0h2m2 0h1m16 0h1m-55 1h1m24 0h1m25 0h1m4 0h1m-44 1h1m19 0h2m2 0h1m11 0h1m-53 1h1m16 0h1m3 0h1m11 0h1m-29 1h1m-1 1h2m22 0h1m27 0h1m-16 1h1m11 0h1m-44 1h1m2 0h1m-15 1h1m45 0h1m4 0h1m-35 1h1m9 0h1m2 0h2m13 0h1m3 0h1m-52 1h1m14 0h1m15 0h1m5 0h1m17 0h1m3 0h1m-33 1h1m7 0h1m47 0h1m-53 1h1m6 0h1m1 0h1m18 0h1m-113 1h2m59 0h1m4 0h1m8 0h1m1 0h1m7 0h2m4 0h1m18 0h1m-52 1h1m13 0h1m8 0h1m47 0h1m10 0h1m-148 1h1m76 0h1m2 0h1m4 0h1m1 0h1m7 0h1m5 0h1m-102 1h1m64 0h1m11 0h1m9 0h1m3 0h1m6 0h1m6 0h1m21 0h1m-125 1h1m58 0h1m13 0h2m9 0h1m5 0h1m35 0h1m6 0h1m2 0h1m-139 1h1m56 0h1m24 0h1m13 0h1m16 0h1m28 0h1m-136 1h1m41 0h1m23 0h2m20 0h1m15 0h1m8 0h1m-62 1h1m16 0h1m1 0h2m39 0h1m-45 1h1m7 0h1m14 0h1m5 0h1m5 0h1m-101 1h1m38 0h1m36 0h1m6 0h1m34 0h1m-114 1h2m58 0h1m46 0h1m-111 1h1m73 0h1m8 0h1m26 0h1m-116 1h1m53 0h1m7 0h1m19 0h1m36 0h1m17 0h1m-144 1h1m7 0h1m70 0h1m27 0h1m3 0h1m28 0h1m-94 1h1m4 0h1m4 0h1m17 0h1m38 0h1m10 0h1m4 0h1m4 0h1m-133 1h1m11 0h1m31 0h1m56 0h1m-34 1h1m34 0h1m2 0h1m-53 1h1m46 0h1m2 0h1m15 0h1m-65 1h1m-57 1h1m47 0h1m65 0h1m-120 1h1m50 0h2m27 0h1m-81 1h1m45 0h3m4 0h2m33 0h1m41 0h1m-86 1h1m3 0h1m77 0h1m5 0h1m-90 1h1m4 0h1m2 0h2m6 0h1m13 0h1m7 0h1m1 0h1m41 0h1m2 0h1m-100 1h1m32 0h1m11 0h1m3 0h1m52 0h1m-87 1h1m9 0h1m12 0h1m-8 1h1m2 0h1m1 1h1m57 0h1m-117 1h1m57 0h1m1 0h1m-10 1h1m7 0h1m3 0h1m8 0h1m30 0h1m6 0h1m5 0h1m-137 1h1m7 0h1m24 0h1m23 0h2m18 0h1m-54 1h2m53 0h2m49 0h1m4 0h1m-53 1h1m38 0h1m6 0h1m4 0h1m-106 1h1m31 0h1m2 0h2m12 0h1m3 0h1m-67 1h1m10 0h1m4 0h1m38 0h1m8 0h1m12 0h1m31 0h1m3 0h1m6 0h1m-123 1h1m22 0h1m6 0h1m11 0h1m10 0h1m8 0h2m34 0h1m-99 1h1m2 0h1m2 0h1m53 0h1m3 0h1m15 0h2m37 0h1m-115 1h1m72 0h1m-60 1h2m10 0h1m4 0h1m43 0h1m-94 1h1m31 0h1m91 0h1m5 0h1m-100 1h1m9 0h1m2 0h1m30 0h1m4 0h1m12 0h1m17 0h1m-112 1h1m26 0h1m12 0h1m6 0h1m10 0h1m23 0h1m28 0h1m7 0h1m6 0h1m-52 1h1m16 0h1m-85 1h1m75 0h1m2 0h1m22 0h1m6 0h1m-112 1h1m32 0h1m11 0h1m16 0h1m22 0h1m17 0h1m-54 1h1m5 0h1m3 0h1m1 0h1m46 0h2m-90 1h1m4 0h1m51 0h1m28 0h1m1 0h1m9 0h1m-101 1h2m1 0h2m2 0h1m8 0h1m6 0h1m22 0h1m18 0h1m22 0h1m-94 1h1m15 0h1m15 0h1m70 0h1m-95 1h1m1 0h1m32 0h1m9 0h1m8 0h1m6 0h1m15 0h1m-72 1h1m19 0h1m3 0h1m55 0h1m-76 1h1m45 0h1m17 0h2m3 0h1m9 0h1m-125 1h1m30 0h1m13 0h1m29 0h1m28 0h1m5 0h1m-90 1h1m28 0h1m7 0h2m21 0h1m-29 1h1m22 0h1m5 0h1m26 0h1m10 0h1m-62 1h1m3 0h1m17 0h1m1 0h1m34 0h2m2 0h1m-81 1h1m27 0h1m19 0h1m7 0h1m1 0h1m8 0h2m-95 1h1m4 0h1m22 0h2m6 0h2m6 0h1m29 0h1m10 0h1m-50 1h2m4 0h1m27 0h1m11 0h1m-94 1h1m39 0h1m2 0h1m6 0h2m1 0h2m32 0h1m2 0h1m9 0h1m1 0h1m-47 1h1m22 0h2m16 0h1m2 0h1m-110 1h1m38 0h1m33 0h1m12 0h1m-89 1h1m116 0h1m-84 1h1m16 0h1m10 0h1m7 0h1m7 0h2m-69 1h1m12 0h1m38 0h1m24 0h1m20 0h1m-105 1h1m-12 1h1m10 0h1m3 0h1m40 0h1m4 0h1m2 0h1m48 0h1m2 0h1m-116 1h1m54 0h1m1 1h1m18 0h1m10 0h2m-83 1h1m6 0h1m2 0h1m68 0h2m1 0h2m-88 1h1m10 0h1m2 0h1m16 0h1m67 0h1m-90 1h1m63 0h1m4 0h1m4 0h1m1 0h1m11 0h1m-95 1h2m31 0h1m19 0h1m17 0h1m3 0h1m29 0h1m-95 1h1m4 0h1m58 0h1m4 0h1m-67 1h1m3 0h1m8 0h1m47 0h1m2 0h1m18 0h1m-95 1h1m11 0h1m51 0h1m28 0h2m-87 1h1m2 0h1m29 0h1m18 0h1m17 0h1m-82 1h1m8 0h1m5 0h1m3 0h1m-20 1h1m44 0h1m7 0h1m21 0h1m-77 1h2m11 0h1m4 0h1m-8 1h1m10 1h1m-11 1h1m1 0h2m-9 1h1m6 0h1m-1 1h1m12 0h1m1 0h1m2 0h1m-18 2h1m0 1h1"/>
<path stroke="#22A884" d="M121 3h2m4 0h1m-16 1h1m14 0h1m-6 2h1m3 0h1m2 0h1m-28 1h1m6 0h1m6 0h1m7 0h1m6 0h1m-35 1h1m4 0h1m2 0h1m2 0h1m3 0h2m2 0h1m18 0h1m-39 1h1m11 1h1m1 0h1m19 0h1m-19 1h1m18 0h1m-37 1h1m38 0h1m-34 1h1m2 0h1m4 0h1m3 0h2m-2 1h1m21 0h1m-30 1h1m14 0h1m2 0h1m11 0h1m-10 1h1m-3 1h1m-42 1h1m23 0h2m16 0h1m-44 1h2m38 0h1m-40 1h1m24 0h1m1 0h2m-31 1h2m46 0h1m3 0h1m-53 1h1m30 0h1m17 0h1m8 0h1m-29 1h1m21 0h2m-42 1h1m14 0h1m11 0h1m-26 1h1m28 0h1m-7 1h1m4 0h1m12 0h1m-26 1h1m-25 1h1m7 0h1m29 0h1m-50 1h1m9 0h1m12 1h1m11 0h1m1 0h1m8 0h1m-23 1h1m3 0h2m4 0h1m-10 1h1m1 0h1m38 1h1m-59 1h1m3 0h1m9 0h1m1 0h1m3 0h1m-22 1h1m55 0h1m-48 1h1m15 0h1m1 0h1m-32 1h1m26 0h1m-4 1h1m7 0h1m-43 1h1m3 0h1m9 0h1m17 0h1m5 0h1m34 0h1m-53 1h1m2 0h1m4 0h1m5 0h2m22 0h1m2 0h1m4 0h1m1 0h1m3 0h1m-77 1h1m12 0h1m4 0h1m-15 1h2m7 0h1m2 1h1m4 0h1m7 0h2m4 0h1m-28 1h1m25 0h1m7 0h1m1 0h1m25 0h1m-58 1h1m1 0h1m9 0h1m26 0h1m18 0h1m1 0h1m-79 1h1m15 0h1m1 0h1m10 0h1m5 0h1m13 0h1m4 0h1m-47 1h1m23 0h1m4 0h1m-31 1h1m27 0h2m33 0h1m-69 1h3m17 0h1m1 0h1m3 0h1m9 0h1m7 0h1m1 0h1m-22 1h1m22 0h1m4 0h1m-56 1h1m13 0h1m26 0h1m1 0h1m5 0h1m3 0h1m-52 1h1m7 0h1m20 0h1m22 0h1m-53 1h1m34 0h1m-38 1h1m16 0h1m22 0h1m9 0h1m-47 1h1m27 0h1m10 0h1m4 0h1m-37 1h1m2 0h1m33 0h1m-51 1h1m5 0h1m2 0h1m42 0h1m-27 1h1m15 0h1m2 0h1m-32 1h1m44 0h1m-41 1h1m6 0h1m7 0h2m3 0h2m-42 1h1m32 0h1m2 0h1m5 0h1m13 0h1m-54 1h1m9 0h1m9 0h1m8 0h1m27 0h1m-83 1h1m22 0h2m18 0h1m-80 1h1m7 0h1m50 0h1m3 0h1m1 0h1m11 0h1m5 0h1m5 0h2m2 0h1m9 0h1m30 0h1m8 0h1m4 0h1m-147 1h1m51 0h1m13 0h1m59 0h2m6 0h1m3 0h2m-68 1h1m43 0h1m15 0h1m-135 1h2m118 0h1m12 0h1m10 0h1m-140 1h1m63 0h1m29 0h1m1 0h1m19 0h1m4 0h1m6 0h1m-130 1h1m67 0h1m17 0h1m1 0h1m36 0h1m5 0h1m-52 1h1m10 0h1m29 0h2m5 0h1m9 0h1m-89 1h1m33 0h1m24 0h1m1 0h1m-18 1h1m17 0h2m27 0h1m-146 1h1m7 0h1m74 0h1m13 0h1m20 0h1m8 0h1m15 0h1m-71 1h1m8 0h1m7 0h1m24 0h2m4 0h1m-50 1h1m40 0h1m-13 1h1m30 0h1m-124 1h1m5 0h1m31 0h1m6 0h1m19 0h1m3 0h1m27 0h1m7 0h1m-65 1h1m21 0h1m16 0h1m17 0h1m7 0h1m4 0h1m18 0h1m-94 1h1m13 0h1m17 0h2m1 0h1m37 0h1m5 0h1m15 0h1m-138 1h1m44 0h1m22 0h1m7 0h1m20 0h1m-11 1h1m23 0h1m12 0h1m10 0h2m-90 1h1m4 0h2m31 0h1m20 0h1m8 0h1m15 0h1m-77 1h1m22 0h1m-28 1h1m25 0h1m-83 1h1m28 0h1m17 0h1m5 0h1m10 0h1m5 0h1m53 0h1m5 0h1m4 0h1m-93 1h1m10 0h1m65 0h2m6 0h1m-81 1h1m84 0h1m-137 1h1m65 0h1m9 0h1m2 0h1m38 0h1m3 0h1m12 0h1m-104 1h1m51 0h1m30 0h1m4 0h1m10 1h2m-77 1h1m17 0h1m41 0h1m12 0h1m-130 1h1m26 0h1m22 0h1m1 0h1m23 0h1m48 0h1m5 0h1m-120 1h1m40 0h1m16 0h1m42 0h1m14 0h1m-53 1h1m35 0h1m5 0h1m-108 1h1m4 0h1m32 0h1m79 0h1m-53 1h2m-45 1h1m-19 1h1m67 0h1m39 0h1m-134 1h1m2 0h1m18 0h1m2 0h1m9 0h1m11 0h1m13 0h2m15 0h1m51 0h1m1 0h1m-121 1h1m20 0h1m52 0h1m4 0h1m-12 1h1m10 0h1m4 0h2m14 0h1m1 0h1m-104 1h1m5 0h1m13 0h2m-8 1h1m6 0h1m14 0h1m38 0h1m24 0h1m4 0h1m2 0h1m1 0h1m-75 1h1m13 0h1m48 0h1m3 0h1m-75 1h1m16 0h1m24 0h1m9 0h1m18 0h1m1 0h1m-63 1h1m39 0h1m22 0h2m-104 1h1m35 0h1m22 0h1m6 0h1m2 0h1m35 0h1m-94 1h1m9 0h1m25 0h1m13 0h1m7 0h1m2 0h1m33 0h1m-94 1h1m46 0h1m5 0h1m7 0h1m-69 1h1m3 0h1m22 0h1m10 0h1m3 0h1m9 0h1m2 0h1m46 0h1m3 0h1m-107 1h1m8 0h1m11 0h1m28 0h1m-40 1h1m91 0h1m-91 1h1m45 0h1m2 0h1m41 0h1m-86 1h1m14 0h1m6 0h1m1 0h1m8 0h1m10 0h1m40 0h1m-67 1h1m9 0h1m42 0h1m-102 1h1m7 0h1m89 0h1m-112 1h1m45 0h1m13 0h1m-16 1h1m1 0h1m-52 1h2m85 0h1m-87 1h1m84 0h1m1 0h1m15 0h1m4 0h1m10 0h1m-66 1h1m-53 1h1m38 0h1m27 0h1m20 0h1m17 0h1m9 1h1m-118 1h1m1 0h1m58 0h1m4 0h1m11 0h1m36 0h1m-117 1h1m33 0h1m52 0h1m14 0h1m-92 1h1m32 0h1m-44 1h1m3 0h1m1 0h1m4 0h1m19 0h1m33 0h1m-63 1h2m38 0h1m27 0h1m5 0h1m23 0h1m-98 1h1m7 0h1m85 0h1m-108 1h1m1 0h1m18 0h1m63 0h1m5 0h1m21 0h1m5 0h1m-104 1h1m2 0h1m64 0h1m9 0h1m20 0h1m1 0h1m-102 1h1m9 0h1m10 0h1m67 0h2m-96 1h1m10 0h1m66 0h1m16 0h1m-103 1h1m80 0h1m2 0h1m21 0h1m1 0h1m-108 1h1m13 0h1m41 0h1m-50 1h1m3 0h1m7 0h1m77 0h2m-81 1h1m64 0h1m-69 1h1m48 0h1m30 0h1m-94 1h1m1 0h1m2 0h1m7 0h1m39 0h1m41 0h1m-95 1h1m5 0h1m5 0h1m6 0h1m25 0h1m21 0h1m-68 1h1m7 0h2m2 0h1m1 0h2m45 0h1m-45 1h1m1 0h1m5 0h1m13 0h1m6 0h1m13 0h1m18 0h1m-69 1h1m56 0h1m-63 1h1m11 0h1m-11 1h1m8 0h1m6 0h1m4 0h1m1 0h1m-8 1h1m-9 1h1m4 0h1m-14 1h1m7 1h1m0 1h1"/>
<path stroke="#43BF71" d="M110 2h1m6 0h1m-9 1h1m23 0h1m-18 1h1m14 0h1m-5 1h1m-28 1h1m27 0h1m-30 1h1m34 0h1m-24 1h1m-16 1h1m13 0h1m20 0h1m1 0h1m-38 1h1m9 0h1m5 0h1m-18 1h1m1 0h1m8 0h1m26 0h1m-20 1h1m16 0h1m1 0h1m-23 1h1m-5 1h2m13 0h2m10 1h1m-48 1h1m21 0h1m15 0h1m10 0h1m-29 1h1m5 0h1m12 0h1m5 1h1m-8 1h1m9 1h1m-39 1h1m7 0h2m1 0h1m6 0h1m19 0h1m-24 1h1m16 3h2m-35 1h1m19 0h1m13 0h1m-22 1h1m3 0h1m14 0h1m-43 1h1m18 0h1m13 0h1m12 0h1m-31 1h1m4 0h1m21 0h1m5 0h1m-11 1h1m5 0h1m-58 1h1m14 0h1m37 0h1m-56 1h1m15 0h1m2 0h1m22 0h1m-45 1h1m31 0h1m32 0h1m-66 1h2m56 0h1m-44 1h1m3 0h1m1 0h1m4 0h1m2 0h1m1 0h1m8 0h1m7 0h1m2 0h1m-53 1h1m13 0h1m5 0h1m2 0h1m14 0h2m8 0h1m-48 1h1m20 0h1m1 0h1m15 0h1m1 0h1m-43 1h1m6 0h1m16 0h1m-19 1h1m3 0h1m5 0h1m21 0h1m2 0h1m23 0h1m-64 1h1m2 0h1m5 0h1m8 0h1m20 0h1m1 0h1m3 0h1m19 0h1m-51 1h1m1 0h1m4 0h1m4 0h1m6 0h1m4 0h1m2 0h1m26 0h1m1 0h1m-44 1h1m3 0h1m3 0h1m-40 1h1m36 0h1m9 0h1m2 0h1m-22 1h1m44 0h1m-60 1h1m10 0h1m42 0h1m-94 1h1m15 0h1m33 0h1m14 0h1m4 0h1m3 0h1m-54 1h2m5 0h1m15 0h1m4 0h1m13 0h1m4 0h1m3 0h1m-55 1h1m14 0h1m21 0h1m2 0h1m5 0h1m3 0h2m-22 1h1m4 0h1m-6 1h1m10 0h1m12 0h1m4 0h1m-21 1h2m1 0h1m-45 1h2m4 0h1m52 0h1m-57 1h1m24 0h1m4 0h1m7 0h2m-9 1h1m19 0h1m-1 1h1m5 0h1m-58 1h1m6 0h1m2 0h1m4 0h1m35 0h1m-55 1h1m20 0h1m5 0h1m4 0h1m21 0h1m1 0h1m-113 1h1m4 0h1m90 0h1m17 0h1m32 0h1m-93 1h1m31 0h1m4 0h1m8 0h1m37 0h1m-86 1h1m19 0h1m3 0h2m9 0h1m8 0h1m1 0h1m-98 1h1m53 0h1m1 0h1m10 0h1m7 0h1m1 0h1m13 0h2m-39 1h2m4 0h1m33 0h1m-43 1h1m6 0h1m24 0h1m9 0h1m12 0h1m22 0h1m1 0h1m3 0h1m6 0h1m-150 1h1m58 0h1m29 0h1m49 0h1m3 0h1m-85 1h2m9 0h1m21 0h2m8 0h1m33 0h1m1 0h1m-136 1h1m56 0h1m2 0h1m36 0h1m24 0h1m6 0h1m5 0h1m-134 1h1m54 0h1m4 0h1m34 0h2m12 0h1m4 0h1m27 0h1m-143 1h1m56 0h1m72 0h1m9 0h2m-30 1h1m21 0h1m-134 1h1m55 0h1m19 0h1m21 0h1m9 0h1m31 0h1m-144 1h1m49 0h1m20 0h1m18 0h1m23 0h1m25 0h1m-67 1h2m25 0h1m10 0h1m-117 1h2m70 0h2m47 0h1m1 0h1m10 0h1m9 0h1m-95 1h1m36 0h1m5 0h1m-34 1h1m5 0h1m46 0h1m5 0h1m7 0h1m9 0h1m4 0h1m-73 1h1m18 0h1m28 0h1m2 0h2m1 0h1m17 0h1m-95 1h1m21 0h1m35 0h1m23 0h1m3 0h1m4 0h1m3 0h1m-6 1h1m-119 1h1m103 0h1m1 0h1m8 0h1m6 0h1m-139 1h1m52 0h1m15 0h1m7 0h1m2 0h1m31 0h1m3 0h1m6 0h1m1 0h2m4 0h1m-121 1h1m38 0h2m1 0h1m24 0h1m30 0h1m10 0h1m6 0h1m-127 1h1m17 0h1m28 0h1m30 0h1m44 0h1m7 0h1m-80 1h2m67 0h1m5 0h1m5 0h1m-78 1h1m5 0h1m19 0h1m39 0h2m6 0h2m1 0h1m-87 1h1m32 0h1m33 0h1m-63 1h1m2 0h1m3 0h1m-29 1h2m24 0h1m15 0h1m45 0h1m-90 1h1m16 0h1m7 0h1m19 0h1m48 0h1m-69 1h1m2 0h2m63 0h1m-55 1h1m56 0h1m-72 1h1m14 1h1m-66 1h1m60 0h1m3 0h1m33 0h1m3 0h2m1 0h1m11 0h1m1 0h1m-122 1h1m103 0h1m9 0h1m-109 1h2m2 0h1m34 0h1m57 0h2m-119 1h1m21 0h1m1 0h1m50 0h1m1 0h1m46 0h1m-129 1h1m15 0h1m59 0h1m-71 1h1m1 0h1m9 0h1m10 0h1m9 0h1m36 0h1m44 0h1m9 0h1m-123 1h1m20 0h1m42 0h1m3 0h1m4 0h1m50 0h2m-139 1h1m35 0h1m1 0h1m47 0h1m12 0h1m29 0h2m-49 1h1m8 0h1m26 0h1m7 0h1m-103 1h2m10 0h1m52 0h1m8 0h1m-84 1h1m14 0h1m1 0h1m19 0h1m24 0h1m-26 1h1m29 0h1m30 0h1m9 0h1m-99 1h1m45 0h1m49 0h3m9 0h1m-54 1h2m-36 1h1m36 0h1m29 0h1m5 0h1m2 0h1m-95 1h1m88 0h1m-43 1h1m2 0h1m-18 1h1m59 0h1m2 0h1m-83 1h1m13 0h1m1 0h1m53 0h1m7 0h1m4 0h1m2 0h2m-117 1h2m97 0h1m9 0h1m1 0h1m-24 1h1m10 0h1m2 0h1m-76 1h1m47 0h1m-64 1h1m88 0h1m-91 1h1m17 0h1m75 2h1m-80 1h1m1 0h3m16 0h1m28 0h1m3 0h1m15 0h1m4 0h1m4 0h1m-84 1h1m11 0h1m35 0h1m1 0h1m22 0h1m-115 1h1m6 0h2m29 0h1m9 0h1m16 0h1m31 0h1m16 0h1m-14 1h1m10 0h1m-112 1h1m59 0h1m22 0h1m4 0h1m-92 1h1m61 0h1m16 0h1m6 0h1m9 0h1m1 0h1m2 0h1m2 0h1m7 0h1m-108 1h1m7 0h1m35 0h1m11 0h1m17 1h1m29 0h1m2 0h1m-56 1h1m47 0h1m9 0h1m-116 1h1m12 0h1m38 0h1m32 0h1m12 0h2m10 0h1m-63 1h1m2 0h1m23 0h1m4 0h1m17 0h1m9 0h1m-106 1h1m1 0h1m3 0h1m-15 1h1m110 0h1m-110 1h1m77 0h1m5 0h1m-5 1h1m-80 1h1m101 0h1m-99 1h1m3 0h1m15 0h1m57 0h1m11 0h1m-79 1h1m28 1h1m-45 1h1m4 0h1m2 0h1m1 0h1m9 0h1m61 0h1m-79 1h2m16 0h2m22 0h1m28 0h1m19 0h1m-93 1h1m2 0h1m4 0h1m3 0h1m2 0h1m-15 1h1m10 0h1m-8 1h1m6 0h1m24 0h1m25 0h1m19 0h1m-82 1h1m4 0h1m3 0h2m18 0h1m19 0h1m-23 1h1m38 0h1m-61 1h1m6 0h1m3 0h1m2 0h1m-6 1h1m2 0h1m-19 1h1m14 0h1m3 0h1m-16 1h1m10 0h1m6 0h2m-10 1h1m2 0h1m-8 1h1m1 0h1"/>
<path stroke="#7AD151" d="M112 2h1m1 0h1m-7 1h1m15 0h1m7 0h1m-19 1h2m4 2h1m12 0h1m-29 3h1m26 0h1m1 0h1m-15 1h1m4 0h1m-21 1h1m-12 1h1m8 0h1m8 0h1m19 0h1m-32 1h1m11 1h1m17 2h1m-17 1h1m7 1h1m8 0h1m-8 1h1m-19 1h1m22 1h1m6 0h1m-31 1h1m3 0h2m15 0h1m-22 1h1m1 0h2m3 1h1m1 0h1m17 0h2m-20 1h2m2 0h2m3 0h1m-23 1h2m4 0h2m21 0h1m-20 2h1m-16 1h1m32 0h1m-20 1h1m18 0h1m1 0h1m-57 1h1m35 0h1m5 0h1m14 0h1m-61 1h1m53 0h1m-57 1h1m55 0h1m-31 1h1m36 0h1m8 0h1m-51 1h1m1 0h1m9 0h1m23 0h1m4 0h1m-63 1h1m21 0h1m17 0h1m20 0h1m-48 1h2m17 0h1m6 0h1m25 0h1m2 0h1m1 0h1m-54 1h1m1 0h1m14 0h1m6 0h1m-29 1h1m7 0h1m17 0h1m22 0h1m4 0h1m-74 1h1m41 0h1m3 0h1m-43 1h1m10 0h1m11 0h1m1 0h1m-29 1h1m8 0h1m8 0h1m21 0h1m7 0h1m21 0h1m3 0h1m-77 1h1m31 0h1m13 0h1m1 0h1m2 0h1m17 0h1m1 0h1m-70 1h1m14 0h1m7 0h1m49 0h1m1 0h1m-81 1h1m7 0h1m16 0h1m9 0h1m8 0h1m1 0h1m6 0h1m-38 1h1m12 0h1m6 0h1m4 0h2m1 0h2m-42 1h1m12 0h1m1 0h1m1 0h1m1 0h1m18 0h1m3 0h1m1 0h1m-40 1h1m12 0h2m5 0h1m8 0h1m2 0h1m-38 1h1m30 0h1m4 0h1m3 0h1m3 0h1m-19 1h1m10 0h1m-13 1h2m-23 1h1m12 0h1m10 0h2m18 0h1m-45 1h1m6 0h1m7 0h2m10 0h1m1 0h1m14 0h1m1 0h2m-46 1h1m26 0h1m7 0h1m8 0h1m-23 1h2m14 0h1m-53 1h1m1 0h1m41 0h1m1 0h1m2 0h1m-35 1h1m4 0h1m5 0h1m19 0h1m1 0h1m3 0h1m3 0h1m1 0h1m-44 1h2m6 0h1m16 0h1m10 0h1m4 0h1m33 0h1m-101 1h1m30 0h3m16 0h1m4 0h1m7 0h1m-55 2h1m18 0h1m2 0h1m2 0h1m31 0h1m-115 1h1m55 0h1m21 0h1m1 0h1m34 0h1m27 0h1m-73 1h1m17 0h1m47 0h1m-77 1h2m53 0h1m24 0h1m3 0h1m-139 1h1m53 0h1m1 0h1m26 0h1m44 0h1m7 0h1m5 0h1m-146 1h1m56 0h1m64 0h1m15 0h2m-76 1h1m62 0h1m11 0h2m-81 1h1m3 0h1m44 0h1m30 0h1m-86 1h1m1 0h1m14 0h1m17 0h1m18 0h1m12 0h1m11 0h1m-135 1h2m51 0h1m6 0h1m34 0h1m40 0h1m-50 1h1m30 0h1m15 0h1m-135 1h1m137 0h1m2 0h1m-142 1h1m36 0h1m48 0h1m30 0h1m4 0h1m2 0h2m-80 1h1m33 0h1m28 0h2m9 0h1m8 0h1m4 0h1m1 0h1m-55 1h1m1 0h1m35 0h1m11 0h1m8 0h1m-144 1h1m45 0h1m9 0h1m43 0h1m21 0h1m17 0h1m1 0h1m-147 1h1m56 0h1m47 0h1m-58 1h2m73 0h1m3 0h1m14 0h1m-141 1h1m3 0h1m49 0h1m15 0h1m18 0h1m48 0h1m-132 1h1m73 0h1m7 0h1m25 0h1m15 0h1m5 0h3m2 0h1m-98 1h1m3 0h1m12 0h1m44 0h1m8 0h2m6 0h1m12 0h1m-118 1h1m33 0h1m60 0h2m12 0h1m-88 1h2m20 0h1m52 0h1m2 0h1m-73 1h1m33 0h1m-34 1h1m3 0h1m7 0h1m2 0h1m12 0h1m-8 1h1m50 0h1m-101 1h1m14 0h1m12 0h1m5 0h1m10 0h2m7 0h1m43 0h1m-94 1h1m26 0h1m6 0h1m10 0h1m-29 1h1m8 0h2m6 0h1m52 0h1m15 0h1m-101 1h1m39 0h1m9 0h2m45 0h1m-81 1h2m15 0h1m47 0h1m-63 1h1m64 0h1m-4 1h1m-66 1h1m16 0h1m5 0h2m38 0h1m3 0h1m12 0h1m-132 1h1m17 0h1m35 0h1m68 0h1m9 0h1m-134 1h1m11 0h1m5 0h1m41 0h1m-35 1h1m45 0h1m50 0h1m-130 1h1m4 0h1m21 0h1m7 0h1m42 0h1m6 0h1m6 0h2m1 0h1m-72 1h1m19 0h1m17 0h1m6 0h1m16 0h1m-85 1h1m26 0h1m79 0h1m-80 1h1m40 0h1m8 0h1m5 0h1m-15 1h1m9 0h2m9 0h1m33 0h1m1 0h1m2 0h1m-132 1h2m89 0h1m27 0h1m10 0h1m-86 1h1m16 0h1m9 0h1m1 0h2m1 0h1m49 0h1m2 0h1m-109 1h1m23 0h1m8 0h1m22 0h1m8 0h2m20 0h1m12 0h1m-79 1h1m22 0h1m7 0h1m-45 1h1m9 0h1m70 0h1m-61 1h1m22 0h1m33 0h1m2 0h1m-68 1h1m26 0h1m50 0h1m-101 1h1m43 0h1m48 0h1m4 0h1m-92 1h1m26 0h1m2 0h1m46 0h1m-79 1h1m35 0h1m10 0h1m46 0h1m-88 1h1m16 0h1m6 0h1m13 0h1m34 0h1m-4 1h1m2 0h1m7 0h1m-100 1h1m28 0h1m65 0h1m-97 1h1m85 0h1m9 0h1m1 1h1m1 0h1m-97 1h1m8 0h1m24 0h1m6 0h1m-43 1h1m46 0h1m35 1h1m2 0h1m-71 1h1m54 0h1m10 0h1m1 0h1m1 0h1m-50 1h1m13 0h1m28 0h1m-108 1h1m106 0h1m5 0h1m-15 1h1m7 0h1m-108 1h1m74 0h2m21 1h3m1 0h1m4 0h1m-113 1h1m103 0h2m7 0h1m-114 1h1m1 0h1m68 0h2m4 0h2m27 0h1m-108 1h1m74 0h1m27 0h1m-104 1h1m9 0h1m45 0h1m18 0h1m34 0h1m-108 1h1m4 0h1m48 0h1m18 0h1m5 0h1m21 0h1m-101 1h1m2 0h1m70 1h1m-75 1h1m2 0h1m1 0h1m2 0h2m90 0h1m-83 1h1m-20 1h1m1 0h1m40 0h1m36 0h1m11 0h2m-86 1h2m6 0h1m1 0h1m62 0h1m11 0h1m-95 1h1m9 0h2m5 0h1m4 0h1m-15 1h1m7 0h2m69 0h1m5 0h1m-76 1h1m-11 1h1m9 0h1m28 0h1m-37 1h1m30 0h1m36 0h1m-79 1h2m2 0h1m35 0h1m-38 1h1m7 0h1m-7 1h1m24 0h1m-23 1h1m2 0h1m7 2h1m-6 3h1"/>
<path stroke="#BBDF27" d="M114 1h3m-6 1h1m3 0h2m1 0h1m-12 1h1m2 0h1m12 0h1m1 0h1m4 0h2m-22 1h1m15 0h1m-4 1h1m10 0h1m-36 1h1m9 0h1m11 1h1m-5 1h1m14 0h1m-21 1h1m9 0h1m2 0h2m-3 1h1m2 0h4m2 0h1m-23 1h1m16 0h1m2 0h1m-32 1h1m3 0h1m1 0h1m4 0h1m13 0h1m1 0h2m-36 1h1m40 0h1m-44 1h1m10 0h1m3 0h1m2 0h1m1 0h1m12 0h2m-17 1h1m1 0h1m11 0h2m1 0h1m-20 1h1m8 0h1m12 0h1m-24 1h1m3 0h1m14 0h1m1 2h1m4 0h1m-17 1h1m-17 1h1m16 0h1m6 0h1m-17 1h1m6 0h2m7 0h1m12 0h1m-32 1h1m9 0h1m-11 1h1m17 0h1m11 0h1m4 0h1m-33 1h1m3 0h2m3 0h1m-6 1h1m-5 1h1m18 0h1m-15 1h1m19 0h1m-23 1h1m19 0h2m-45 1h1m6 0h1m24 0h1m3 0h1m9 0h1m2 0h2m-64 1h1m21 0h1m11 0h1m10 0h1m11 0h1m-44 2h1m52 0h1m-53 1h2m4 0h1m19 0h1m-47 1h1m27 0h1m7 0h1m23 0h4m-64 1h1m14 0h2m3 0h1m5 0h1m1 0h2m5 0h1m-35 1h1m11 0h1m10 0h1m1 0h1m9 0h1m3 0h1m2 0h1m-46 1h1m2 0h1m12 0h1m1 0h1m2 0h1m6 0h1m1 0h1m1 0h1m4 0h1m5 0h1m18 0h1m8 0h1m-57 1h1m5 0h1m5 0h1m2 0h1m5 0h1m4 0h1m4 0h1m23 0h1m-64 1h1m6 0h1m7 0h1m1 0h2m2 0h1m1 0h1m-27 1h1m2 0h1m1 0h1m3 0h1m1 0h2m4 0h2m1 0h1m2 0h1m1 0h1m1 0h1m1 0h1m4 0h1m1 0h1m5 0h1m-70 1h1m41 0h1m8 0h2m3 0h1m4 0h1m3 0h1m4 0h1m21 0h1m1 0h1m-70 1h1m5 0h1m2 0h1m2 0h1m3 0h1m6 0h1m1 0h1m3 0h1m1 0h1m6 0h2m3 0h1m2 0h1m-41 1h1m19 0h1m2 0h1m4 0h1m9 0h3m1 0h1m-34 1h2m9 0h1m8 0h1m2 0h1m1 0h1m1 0h1m5 0h1m-56 1h1m4 0h1m15 0h2m1 0h1m2 0h1m5 0h1m1 0h1m2 0h1m8 0h1m-49 1h1m1 0h1m26 0h1m6 0h1m1 0h1m7 0h1m1 0h1m2 0h1m1 0h1m-23 1h1m9 0h1m2 0h1m3 0h1m-16 1h1m9 0h2m-13 1h1m10 0h1m1 0h1m1 0h2m-41 1h1m4 0h1m15 0h1m3 0h1m2 0h1m1 0h1m6 0h2m3 0h1m1 0h1m2 0h2m-56 1h1m13 0h1m23 0h1m1 0h2m3 0h1m4 0h1m-2 1h1m3 0h1m-54 1h1m20 0h1m14 0h1m3 0h2m11 0h1m2 0h1m-64 1h1m44 0h1m7 0h1m5 0h1m1 0h2m-52 1h1m12 0h2m6 0h1m1 0h1m2 0h1m1 0h2m1 0h1m10 0h2m1 0h1m2 0h1m3 0h1m-37 1h1m2 0h1m1 0h1m2 0h1m2 0h2m3 0h2m2 0h2m1 0h1m1 0h1m1 0h1m-56 1h1m33 0h1m1 0h1m2 0h1m1 0h1m7 0h2m6 0h1m1 0h1m1 0h1m-33 1h1m10 0h1m1 0h2m1 0h2m13 0h2m-55 1h1m11 0h1m2 0h1m3 0h1m12 0h1m19 0h1m28 0h1m6 0h1m-89 1h1m23 0h1m-17 1h1m11 0h1m1 0h2m-12 1h1m41 0h1m-111 1h1m49 0h1m17 0h1m1 0h1m26 0h1m-41 1h1m9 0h1m66 0h2m-88 1h1m14 0h2m2 0h1m63 0h1m8 0h1m-142 1h1m49 0h1m4 0h1m6 0h2m4 0h2m29 0h1m33 0h2m-85 1h1m8 0h1m1 0h1m3 0h1m2 0h2m65 0h1m-82 1h1m75 0h1m6 0h1m-89 1h1m19 0h2m3 0h1m10 0h1m28 0h1m20 0h1m-84 1h1m5 0h1m14 0h1m4 0h2m17 0h1m25 0h2m6 0h1m3 0h1m-137 1h1m50 0h1m18 0h1m8 0h1m5 0h1m1 0h1m44 0h1m2 0h1m4 0h2m-93 1h1m21 0h2m23 0h1m18 0h1m13 0h1m2 0h1m2 0h1m1 0h1m6 0h1m-143 1h1m44 0h1m18 0h1m20 0h1m28 0h1m4 0h1m1 0h1m4 0h1m3 0h1m-26 1h1m23 0h1m-46 1h1m36 0h1m10 0h1m6 0h1m1 0h1m-149 1h1m6 0h1m6 0h2m1 0h1m1 0h1m26 0h1m6 0h1m12 0h1m43 0h1m11 0h1m1 0h1m3 0h1m12 0h1m1 0h1m-142 1h2m10 0h1m5 0h1m44 0h1m10 0h1m1 0h1m50 0h3m5 0h1m-126 1h2m41 0h2m1 0h1m3 0h1m2 0h1m8 0h1m14 0h1m29 0h1m4 0h1m1 0h1m2 0h1m3 0h2m2 0h1m1 0h1m5 0h2m-141 1h1m4 0h1m10 0h1m25 0h1m7 0h2m66 0h2m3 0h1m8 0h1m4 0h1m-135 1h2m46 0h1m59 0h1m4 0h2m2 0h1m1 0h2m3 0h1m4 0h1m-117 1h1m87 0h1m14 0h1m1 0h1m3 0h1m1 0h2m-110 1h2m24 0h1m32 0h1m28 0h1m7 0h1m2 0h1m9 0h1m-109 1h1m25 0h3m9 0h1m26 0h1m28 0h1m3 0h1m8 0h1m-108 1h1m16 0h1m37 0h1m35 0h1m6 0h1m6 0h1m-105 1h1m11 0h1m12 0h2m9 0h2m5 0h1m-44 1h1m34 0h1m1 0h1m58 0h1m4 0h1m-67 1h1m13 0h1m2 0h1m39 0h1m8 0h1m2 0h1m-102 1h1m16 0h1m24 0h1m1 0h2m4 0h1m3 0h1m32 0h1m7 0h1m-95 1h1m2 0h1m12 0h1m17 0h2m7 0h1m3 0h1m49 0h1m-95 1h1m24 0h1m14 0h1m51 0h1m2 0h1m2 0h1m-135 1h1m54 0h1m19 0h1m5 0h1m49 0h1m-132 1h1m55 0h1m74 0h1m1 0h1m-77 1h2m-2 1h1m2 0h1m13 0h2m38 0h1m-104 1h1m8 0h1m38 0h1m10 0h1m2 0h1m-61 1h1m3 0h3m31 0h1m18 0h1m7 0h1m45 0h2m-116 1h2m16 0h1m33 0h1m15 0h1m11 0h1m32 0h1m3 0h1m-135 1h1m18 0h1m56 0h1m8 0h2m47 0h1m-65 1h1m9 0h2m14 0h1m-92 1h1m5 0h1m59 0h1m12 0h2m24 0h1m18 0h1m-111 1h1m65 0h1m24 0h2m14 0h1m5 0h1m-53 1h1m2 0h1m4 0h1m37 0h1m2 0h1m-128 1h1m63 0h1m8 0h1m2 0h1m11 0h1m-14 1h1m50 0h1m-105 1h1m76 0h1m15 0h1m3 0h1m-47 1h1m-30 1h1m27 0h1m51 0h1m-98 1h1m97 0h1m-43 1h1m40 0h1m-77 1h1m4 0h1m5 0h1m8 0h1m1 0h1m46 0h1m1 0h2m-113 1h1m50 0h1m47 0h1m9 0h1m-91 1h1m31 0h1m9 0h1m29 0h1m18 0h1m-59 1h1m22 0h1m37 0h1m-127 1h1m39 0h1m9 0h1m59 0h2m-46 1h1m49 0h1m-125 2h1m85 2h1m5 0h1m-25 1h1m47 0h1m-2 1h1m1 0h1m-4 1h1m-25 1h1m-26 1h1m40 0h2m-106 1h1m4 0h1m54 0h1m39 0h1m4 0h1m-101 1h1m5 0h1m94 0h1m4 0h1m1 0h2m1 0h1m-119 1h1m79 0h1m29 0h1m2 0h1m3 0h1m-119 1h1m1 0h1m1 0h1m5 0h1m66 0h1m3 0h1m23 0h1m4 0h1m-112 1h1m2 0h1m77 0h1m19 0h4m-105 1h2m2 0h1m78 0h1m18 0h1m-103 1h1m4 0h1m4 0h1m5 0h1m41 0h1m46 0h1m7 0h1m-115 1h1m3 0h2m10 0h2m17 0h1m71 0h1m-102 1h1m7 0h1m89 0h1m-101 1h1m8 0h1m91 0h1m-89 1h1m-11 1h3m-4 1h1m3 0h1m6 0h1m3 0h1m78 0h1m-8 1h1m-63 1h1m4 0h1m-28 1h1m14 0h2m56 0h1m-77 1h1m17 0h1m58 0h1m-80 1h1m8 0h1m2 0h1m7 0h1m-6 1h1m-7 1h1m10 0h2m-11 1h1m-6 1h1m5 0h1m2 0h1m3 0h1m1 0h1m0 1h1m-10 1h1m7 0h1m-2 1h1m1 0h1"/>
<path stroke="#FDE725" d="M113 2h1m5 0h2m-1 1h1m7 0h2m-7 3h1m-2 1h1m4 0h1m2 0h1m-10 1h1m14 0h1m-10 1h2m-15 1h1m11 0h1m5 0h1m2 0h1m-24 1h1m1 0h1m11 0h1m0 2h1m-18 1h1m15 0h2m-20 1h1m1 0h1m2 0h2m-7 1h1m4 0h1m19 1h1m0 1h1m-24 2h1m3 0h1m-5 1h1m5 1h1m-3 1h1m-7 1h1m5 0h1m9 0h3m1 0h1m-15 1h1m7 0h2m-10 1h1m8 0h1m8 0h1m-30 1h1m10 0h1m1 0h1m13 0h2m1 0h1m1 0h1m-7 1h1m-43 2h1m4 0h1m8 0h1m26 0h1m-27 1h1m1 3h1m25 0h1m-20 1h1m23 0h1m2 0h1m-42 1h1m8 0h1m29 0h1m-52 1h1m4 0h1m6 0h2m-12 1h1m3 0h1m2 0h2m1 0h1m1 0h1m6 0h1m3 0h1m2 0h1m-32 1h1m5 0h1m1 0h2m1 0h1m2 0h2m8 0h1m30 0h1m1 0h1m-61 1h1m3 0h2m12 0h1m9 0h2m5 0h2m22 0h1m-48 1h1m8 0h1m6 0h1m1 0h1m5 0h2m21 0h2m-74 1h1m15 0h4m3 0h7m4 0h1m1 0h1m8 0h1m1 0h2m-35 1h2m2 0h2m1 0h1m1 0h2m3 0h1m5 0h1m6 0h1m31 0h2m-74 1h1m19 0h2m3 0h4m2 0h1m7 0h3m30 0h2m-73 1h1m15 0h1m5 0h1m4 0h1m1 0h1m1 0h1m1 0h2m3 0h1m8 0h1m25 0h1m-70 1h2m14 0h2m3 0h1m6 0h1m1 0h2m2 0h1m8 0h1m24 0h2m-79 1h1m25 0h1m12 0h1m1 0h1m1 0h1m-46 1h1m28 0h2m13 0h1m5 0h1m-23 1h1m4 0h1m4 0h1m9 0h1m2 0h1m2 0h1m-41 1h1m19 0h1m5 0h1m4 0h1m1 0h1m2 0h1m1 0h1m1 0h1m-22 1h1m4 0h1m6 0h1m2 0h2m-46 1h1m19 0h1m8 0h1m5 0h1m4 0h3m3 0h1m9 0h1m-30 1h1m10 0h6m-26 1h1m21 0h3m1 0h1m-48 1h1m16 0h2m2 0h1m8 0h2m6 0h1m5 0h3m-38 1h1m10 0h1m6 0h1m1 0h2m1 0h1m5 0h1m5 0h2m-26 1h1m13 0h3m3 0h1m9 0h1m-30 1h3m7 0h1m1 0h1m2 0h1m54 0h1m-82 1h1m10 0h1m10 0h1m8 0h1m9 0h1m39 0h1m-75 1h1m19 0h1m16 0h2m35 0h1m-53 1h1m50 0h2m-152 1h2m72 0h1m75 0h1m-78 1h2m35 0h1m38 0h2m-146 1h1m67 0h1m2 0h1m72 0h1m-145 1h1m66 0h1m70 0h1m5 0h1m-84 1h1m2 0h2m18 0h1m11 0h1m41 0h1m4 0h2m-82 1h3m46 0h1m30 0h1m-89 1h1m4 0h2m65 0h1m15 0h1m-149 1h1m2 0h1m49 0h1m5 0h1m88 0h1m-143 1h1m50 0h1m2 0h1m87 0h1m-148 1h1m5 0h1m66 0h1m2 0h1m44 0h1m12 0h1m3 0h2m3 0h1m2 0h2m-190 1h4m38 0h1m5 0h2m42 0h2m18 0h1m2 0h2m25 0h1m33 0h1m3 0h2m6 0h1m-189 1h1m2 0h2m43 0h1m42 0h1m17 0h1m24 0h1m6 0h1m23 0h1m10 0h2m3 0h2m5 0h1m-190 1h2m3 0h3m39 0h1m57 0h1m36 0h1m19 0h1m10 0h2m2 0h1m6 0h2m2 0h2m-190 1h1m6 0h1m46 0h1m36 0h1m13 0h1m23 0h1m32 0h1m13 0h1m2 0h1m8 0h1m-189 1h1m6 0h1m30 0h1m18 0h2m46 0h1m62 0h1m6 0h3m1 0h1m1 0h1m6 0h1m-191 1h3m6 0h1m27 0h4m2 0h1m13 0h1m3 0h1m31 0h1m73 0h2m8 0h3m3 0h1m5 0h2m-193 1h3m8 0h2m24 0h3m24 0h1m84 0h1m14 0h2m15 0h1m2 0h1m5 0h2m-191 1h2m9 0h1m23 0h2m9 0h1m115 0h2m1 0h1m11 0h1m2 0h1m3 0h1m4 0h2m-190 1h1m9 0h4m18 0h3m18 0h1m6 0h1m1 0h1m40 0h1m56 0h2m14 0h1m3 0h1m6 0h2m-189 1h2m11 0h5m13 0h2m14 0h3m13 0h1m98 0h1m17 0h1m1 0h1m2 0h2m-186 1h2m14 0h15m34 0h1m21 0h1m75 0h1m2 0h1m1 0h1m1 0h1m8 0h3m1 0h2m-184 1h2m163 0h1m2 0h4m7 0h3m-181 1h1m80 0h2m12 0h1m8 0h1m55 0h1m7 0h2m3 0h1m4 0h2m-180 1h2m63 0h1m14 0h1m1 0h1m9 0h1m10 0h1m16 0h1m39 0h1m2 0h1m1 0h2m1 0h1m8 0h2m-178 1h1m76 0h1m1 0h1m1 0h1m38 0h1m41 0h3m1 0h1m5 0h1m2 0h2m-177 1h1m64 0h1m16 0h1m78 0h1m1 0h2m1 0h1m7 0h2m-176 1h2m63 0h1m8 0h1m8 0h1m25 0h1m7 0h1m41 0h2m1 0h2m2 0h1m6 0h2m-174 1h1m70 0h2m36 0h1m7 0h1m6 0h1m35 0h1m1 0h2m7 0h2m-173 1h2m43 0h1m25 0h1m12 0h2m14 0h1m10 0h1m42 0h1m5 0h3m5 0h1m1 0h1m-170 1h1m47 0h1m18 0h2m17 0h2m72 0h1m1 0h1m5 0h2m-170 1h1m67 0h1m38 0h1m55 0h1m4 0h1m-169 1h2m86 0h1m18 0h1m55 0h1m4 0h1m-168 1h1m102 0h1m43 0h1m8 0h1m5 0h1m1 0h4m-168 1h1m52 0h1m37 0h1m71 0h2m1 0h1m-167 1h2m47 0h1m111 0h1m3 0h1m-165 1h1m90 0h2m7 0h1m62 0h2m-165 1h1m91 0h1m15 0h1m2 0h1m49 0h3m-164 1h2m57 0h1m6 0h1m26 0h1m22 0h1m44 0h2m-162 1h1m32 0h1m60 0h1m6 0h2m2 0h2m45 0h1m2 0h1m4 0h1m-161 1h1m104 0h1m3 0h1m22 0h1m18 0h1m3 0h1m2 0h2m-160 1h2m42 0h1m50 0h1m1 0h1m4 0h4m3 0h1m42 0h1m4 0h3m-159 1h1m94 0h2m2 0h3m7 0h1m42 0h1m2 0h3m-158 1h2m31 0h1m70 0h1m50 0h2m-156 1h1m150 0h1m2 0h1m-155 1h2m135 0h1m8 0h1m5 0h2m-153 1h2m94 0h1m38 0h1m10 0h1m4 0h2m-152 1h1m103 0h1m42 0h1m1 0h2m-151 1h2m145 0h3m-149 1h2m87 0h1m49 0h1m5 0h3m-147 1h1m65 0h1m10 0h1m10 0h1m6 0h1m49 0h1m-145 1h1m36 0h1m38 0h1m57 0h1m7 0h2m-144 1h2m139 0h2m-142 1h2m64 0h1m47 0h1m24 0h2m-140 1h2m125 0h1m3 0h1m5 0h2m-138 1h1m69 0h1m59 0h1m4 0h1m-136 1h2m132 0h1m-134 1h1m130 0h2m-133 1h1m119 0h1m9 0h2m-132 1h1m105 0h1m11 0h1m10 0h2m-131 1h1m90 0h1m7 0h1m28 0h2m-130 1h1m125 0h3m-129 1h1m47 0h1m42 0h1m33 0h2m-127 1h2m122 0h2m-125 1h1m110 0h1m1 0h1m8 0h2m-125 1h2m111 0h1m3 0h1m3 0h3m-124 1h1m119 0h2m-127 1h3m1 0h2m108 0h1m5 0h3m1 0h2m-126 1h1m1 0h3m5 0h1m76 0h1m25 0h1m7 0h4m-125 1h1m4 0h1m3 0h1m2 0h1m74 0h1m27 0h1m5 0h3m-124 1h1m1 0h1m4 0h1m3 0h1m100 0h1m4 0h1m2 0h2m-122 1h2m4 0h2m3 0h1m106 0h3m-120 1h2m2 0h2m102 0h1m7 0h2m-117 1h3m15 0h1m38 0h1m49 0h1m6 0h2m-115 1h2m10 0h1m98 0h2m-113 1h3m10 0h1m95 0h3m-110 1h1m2 0h2m93 0h1m6 0h3m-107 1h1m3 0h1m5 0h1m9 0h1m75 0h1m5 0h2m-104 1h2m9 0h2m1 0h1m5 0h1m77 0h4m-101 1h1m8 0h1m78 0h7m2 0h2m-100 1h2m7 0h1m9 0h1m68 0h2m5 0h4m-99 1h1m9 0h2m50 0h1m25 0h1m-89 1h1m1 0h1m42 0h4m12 0h5m13 0h6m3 0h1m-90 1h2m1 0h4m5 0h1m33 0h1m2 0h11m1 0h2m3 0h7m6 0h2m4 0h5m-90 1h4m2 0h1m1 0h1m1 0h1m35 0h1m9 0h1m2 0h3m10 0h4m3 0h1m-79 1h2m3 0h3m1 0h2m11 0h2m18 0h4m28 0h5m-79 1h2m3 0h1m2 0h1m2 0h1m6 0h1m4 0h1m18 0h1m-42 1h1m3 0h5m2 0h2m6 0h1m9 0h5m1 0h7m-34 1h4m12 0h6m3 0h3m-25 1h1m11 0h2m-15 1h5m4 0h5m-11 1h3m3 0h3m-8 1h6"/>
</g>
<use href="#seams" transform="translate(332.00,349.900) scale(3.8,4.32292)"/>
<g stroke="#333" stroke-width="4.45"><path d="M119.61 349.70h11.45"/><path d="M119.61 453.45h11.45"/><path d="M119.61 557.20h11.45"/><path d="M119.61 660.95h11.45"/><path d="M119.61 764.70h11.45"/><path d="M119.61 868.45h11.45"/><path d="M119.61 972.20h11.45"/></g>
<text x="110.5" y="363.1" font-size="36.67" fill="#4D4D4D" text-anchor="end">22°S</text>
<text x="110.5" y="466.8" font-size="36.67" fill="#4D4D4D" text-anchor="end">24°S</text>
<text x="110.5" y="570.6" font-size="36.67" fill="#4D4D4D" text-anchor="end">26°S</text>
<text x="110.5" y="674.4" font-size="36.67" fill="#4D4D4D" text-anchor="end">28°S</text>
<text x="110.5" y="778.1" font-size="36.67" fill="#4D4D4D" text-anchor="end">30°S</text>
<text x="110.5" y="881.8" font-size="36.67" fill="#4D4D4D" text-anchor="end">32°S</text>
<text x="110.5" y="985.6" font-size="36.67" fill="#4D4D4D" text-anchor="end">34°S</text>
<rect x="982.05" y="252.00000000000003" width="826.85" height="69.1" fill="#D9D9D9"/>
<text x="1395.5" y="298.4" font-size="36.67" fill="#1A1A1A" text-anchor="middle">lb</text>
<rect x="982.05" y="321.1" width="826.85" height="727.7" fill="#EBEBEB"/>
<g stroke="#fff" stroke-width="4.45"><path d="M982.05 349.70h826.85"/><path d="M982.05 453.45h826.85"/><path d="M982.05 557.20h826.85"/><path d="M982.05 660.95h826.85"/><path d="M982.05 764.70h826.85"/><path d="M982.05 868.45h826.85"/><path d="M982.05 972.20h826.85"/><path d="M1182.60 321.1v727.7"/><path d="M1410.60 321.1v727.7"/><path d="M1638.60 321.1v727.7"/></g>
<g transform="translate(1182.70,352.061) scale(3.8,4.32292)" fill="none" stroke-width="1.0">
<path stroke="#440154" d="M114 1h4m-10 1h13m-14 1h28m-28 1h29m-30 1h30m-37 1h38m-39 1h39m-40 1h40m-41 1h42m-42 1h42m-43 1h43m-44 1h45m-46 1h46m-48 1h48m-48 1h48m-52 1h52m-53 1h53m-54 1h55m-56 1h57m-58 1h58m-58 1h58m-58 1h59m-59 1h60m-60 1h60m-61 1h61m-61 1h62m-63 1h64m-65 1h65m-67 1h67m-67 1h67m-70 1h70m-72 1h72m-145 1h3m68 0h74m-145 1h4m67 0h74m-145 1h5m65 0h75m-145 1h6m64 0h75m-145 1h6m63 0h76m-145 1h6m63 0h76m-145 1h7m29 0h8m24 0h77m-145 1h8m27 0h9m24 0h77m-145 1h9m25 0h13m21 0h77m-145 1h9m24 0h14m20 0h78m-145 1h9m24 0h18m16 0h78m-145 1h9m24 0h21m6 0h2m2 0h81m-145 1h10m22 0h112m-144 1h10m22 0h103m6 0h3m-144 1h11m21 0h102m8 0h2m-144 1h11m21 0h102m-134 1h11m19 0h103m-133 1h11m17 0h104m-132 1h10m18 0h104m-132 1h9m17 0h105m-131 1h8m18 0h104m-130 1h8m17 0h105m-130 1h8m15 0h107m-130 1h8m13 0h109m-130 1h8m1 0h3m4 0h2m2 0h110m15 0h1m-146 1h132m12 0h11m-155 1h132m12 0h11m-155 1h132m12 0h11m-155 1h132m12 0h11m-155 1h135m9 0h10m-154 1h141m3 0h10m-154 1h153m-154 1h154m-154 1h154m-154 1h153m-153 1h153m-153 1h153m-153 1h153m-153 1h153m-190 1h4m33 0h152m-189 1h5m32 0h152m-190 1h8m30 0h152m-190 1h8m30 0h151m-189 1h8m30 0h151m-191 1h10m27 0h154m-193 1h13m24 0h155m-191 1h12m23 0h109m1 0h46m-190 1h14m18 0h110m3 0h44m-189 1h18m13 0h107m11 0h38m-186 1h135m14 0h36m-184 1h132m18 0h32m-181 1h130m20 0h30m-180 1h130m21 0h28m-178 1h129m22 0h26m-177 1h129m22 0h25m-176 1h127m24 0h24m-174 1h125m24 0h24m-173 1h124m25 0h22m-170 1h121m26 0h23m-170 1h121m26 0h22m-169 1h121m25 0h23m-168 1h120m25 0h23m-168 1h120m24 0h23m-167 1h121m23 0h22m-165 1h121m20 0h24m-165 1h122m12 0h30m-164 1h122m11 0h30m-162 1h121m11 0h29m-161 1h122m10 0h28m-160 1h123m9 0h28m-159 1h123m6 0h29m-158 1h157m-156 1h155m-155 1h154m-153 1h153m-152 1h151m-151 1h150m-149 1h148m-147 1h146m-145 1h144m-144 1h143m-142 1h141m-140 1h139m-138 1h136m-136 1h135m-134 1h133m-133 1h132m-132 1h131m-131 1h130m-130 1h129m-129 1h127m-127 1h126m-125 1h124m-125 1h124m-124 1h122m-127 1h3m1 0h122m-126 1h125m-125 1h124m-124 1h122m-122 1h121m-120 1h118m-117 1h116m-115 1h113m-113 1h112m-110 1h108m-107 1h104m-104 1h102m-101 1h99m-100 1h90m5 0h4m-99 1h89m-89 1h89m-90 1h47m2 0h14m3 0h15m4 0h5m-90 1h4m2 0h41m9 0h1m2 0h3m10 0h8m-79 1h2m3 0h41m28 0h5m-79 1h2m3 0h38m-42 1h1m3 0h38m-34 1h22m3 0h3m-25 1h14m-15 1h14m-11 1h9m-8 1h6"/>
<path stroke="#482576" d="M108 2h1m5 1h1m3 0h2m-13 1h1m15 0h3m8 0h1m-28 1h1m2 0h1m2 0h1m1 0h1m1 0h1m2 0h1m1 0h1m1 0h3m-24 1h1m3 0h1m2 0h2m23 0h1m-38 1h1m1 0h2m2 0h1m2 0h1m3 0h1m1 0h3m4 0h1m5 0h1m1 0h1m6 0h1m-37 1h2m6 0h1m1 0h1m4 0h1m3 0h2m2 0h2m2 0h1m1 0h1m4 0h2m-35 1h5m2 0h3m1 0h1m1 0h1m2 0h1m12 0h1m6 0h1m-39 1h1m3 0h2m3 0h1m7 0h1m1 0h1m4 0h2m10 0h1m2 0h1m-40 1h1m3 0h2m3 0h1m2 0h1m8 0h2m3 0h2m3 0h2m-36 1h1m2 0h2m2 0h1m2 0h1m3 0h1m27 0h1m-44 1h1m11 0h4m7 0h1m5 0h2m13 0h1m-47 1h1m3 0h1m1 0h2m4 0h2m6 0h1m2 0h1m5 0h1m6 0h1m2 0h1m5 0h1m-46 1h2m6 0h1m4 0h1m6 0h1m3 0h1m4 0h1m5 0h2m1 0h1m1 0h1m-45 1h1m3 0h1m1 0h1m5 0h1m1 0h3m1 0h1m4 0h2m4 0h1m8 0h1m5 0h1m4 0h2m-47 1h2m3 0h1m3 0h3m1 0h1m1 0h1m4 0h1m10 0h1m4 0h1m5 0h2m-41 1h1m2 0h1m2 0h1m3 0h1m1 0h1m3 0h1m2 0h1m3 0h1m7 0h1m4 0h1m3 0h1m-35 1h1m5 0h1m1 0h2m1 0h2m2 0h1m14 0h1m1 0h2m3 0h2m-57 1h2m3 0h2m7 0h1m4 0h1m2 0h1m2 0h1m5 0h1m2 0h1m12 0h1m6 0h2m-54 1h1m4 0h3m8 0h1m8 0h1m2 0h1m1 0h1m11 0h2m5 0h1m3 0h1m-55 1h1m2 0h1m2 0h1m19 0h1m7 0h1m2 0h1m1 0h1m3 0h1m1 0h1m5 0h2m-53 1h1m7 0h1m1 0h2m3 0h1m1 0h1m6 0h1m5 0h1m7 0h1m6 0h1m4 0h1m2 0h1m4 0h1m-59 1h2m4 0h1m2 0h1m7 0h1m3 0h1m1 0h1m4 0h2m5 0h2m-13 1h1m10 0h1m9 0h1m4 0h1m2 0h1m3 0h1m-58 1h1m10 0h1m9 0h4m2 0h1m9 0h3m2 0h1m3 0h1m3 0h1m-53 1h1m11 0h2m4 0h1m15 0h1m2 0h1m1 0h1m2 0h1m8 0h1m1 0h1m5 0h1m-60 1h2m2 0h1m7 0h2m3 0h1m3 0h1m7 0h2m8 0h1m1 0h3m2 0h1m2 0h2m7 0h1m3 0h1m-55 1h1m3 0h2m6 0h1m4 0h1m3 0h1m1 0h2m2 0h1m3 0h1m4 0h1m11 0h1m-60 1h1m4 0h1m12 0h4m4 0h1m17 0h1m10 0h1m1 0h1m4 0h2m-65 1h2m17 0h1m6 0h1m4 0h1m1 0h1m2 0h1m2 0h2m1 0h1m1 0h2m2 0h1m5 0h1m2 0h2m1 0h1m1 0h1m-66 1h4m4 0h1m3 0h2m5 0h1m3 0h2m4 0h1m5 0h1m1 0h1m1 0h1m1 0h1m10 0h1m5 0h1m1 0h1m5 0h2m-70 1h4m9 0h1m1 0h1m6 0h1m2 0h2m1 0h2m9 0h1m2 0h1m5 0h1m2 0h1m2 0h1m1 0h1m1 0h4m-61 1h1m1 0h1m4 0h2m2 0h1m3 0h1m3 0h1m1 0h1m11 0h1m4 0h1m1 0h1m4 0h1m2 0h1m1 0h1m11 0h1m1 0h3m2 0h1m-69 1h1m22 0h1m6 0h1m2 0h1m8 0h1m6 0h1m12 0h1m4 0h1m1 0h1m-70 1h1m6 0h1m5 0h1m3 0h1m9 0h1m1 0h1m9 0h1m8 0h1m12 0h1m6 0h1m-74 1h1m2 0h1m1 0h2m6 0h1m9 0h1m2 0h1m3 0h2m15 0h1m1 0h2m2 0h1m6 0h2m3 0h2m3 0h1m-67 1h1m4 0h3m1 0h1m18 0h1m7 0h1m21 0h1m1 0h1m1 0h1m1 0h2m-70 1h1m6 0h1m10 0h1m4 0h1m6 0h3m1 0h1m15 0h1m1 0h1m7 0h1m6 0h1m4 0h1m-74 1h1m1 0h1m1 0h2m13 0h1m13 0h1m2 0h1m12 0h2m11 0h1m2 0h2m5 0h1m1 0h1m-70 1h1m4 0h3m49 0h1m2 0h1m3 0h1m-69 1h1m3 0h2m4 0h1m25 0h1m11 0h2m12 0h1m8 0h1m-98 1h1m23 0h1m3 0h1m1 0h2m2 0h1m14 0h1m11 0h1m1 0h1m26 0h1m2 0h1m5 0h1m-101 1h1m20 0h1m2 0h1m2 0h1m1 0h1m9 0h1m2 0h3m2 0h2m14 0h1m30 0h1m1 0h1m-88 1h1m5 0h2m1 0h1m4 0h3m2 0h1m1 0h1m2 0h3m3 0h1m5 0h1m5 0h1m17 0h1m2 0h1m2 0h1m2 0h1m15 0h1m2 0h1m-81 1h1m1 0h1m3 0h1m1 0h1m2 0h1m12 0h1m11 0h1m17 0h1m3 0h1m10 0h1m13 0h1m-94 1h1m11 0h1m6 0h1m4 0h1m7 0h1m3 0h1m4 0h1m4 0h1m1 0h1m16 0h1m3 0h1m-59 1h1m2 0h1m1 0h2m4 0h1m2 0h1m3 0h1m2 0h1m1 0h2m9 0h1m1 0h1m3 0h1m6 0h1m1 0h1m4 0h1m4 0h3m-73 1h1m10 0h1m7 0h1m2 0h1m3 0h1m4 0h1m2 0h1m4 0h1m12 0h1m11 0h1m-66 1h1m12 0h5m3 0h1m17 0h1m9 0h1m26 0h2m2 0h1m-76 1h1m5 0h1m2 0h2m20 0h2m41 0h1m2 0h1m-74 1h1m4 0h1m12 0h1m3 0h2m7 0h1m20 0h2m7 0h1m7 0h1m-72 1h1m2 0h1m7 0h1m2 0h2m1 0h1m4 0h1m3 0h1m3 0h1m5 0h1m5 0h1m11 0h3m1 0h2m-64 1h1m6 0h2m1 0h1m3 0h1m4 0h2m8 0h1m10 0h1m3 0h2m1 0h1m11 0h1m9 0h2m-74 1h1m16 0h1m3 0h1m3 0h1m1 0h1m1 0h2m18 0h3m16 0h1m-64 1h2m7 0h1m2 0h1m18 0h1m1 0h1m10 0h1m3 0h1m11 0h1m3 0h1m3 0h1m-50 1h1m4 0h1m6 0h1m4 0h1m3 0h1m7 0h1m-42 1h1m5 0h1m5 0h2m3 0h1m8 0h1m1 0h1m13 0h1m6 0h1m9 0h1m2 0h1m3 0h1m16 0h1m4 0h1m1 0h1m-149 1h1m54 0h1m5 0h1m10 0h1m1 0h2m7 0h1m2 0h1m20 0h1m8 0h1m7 0h2m16 0h1m2 0h1m3 0h2m-151 1h1m6 0h2m44 0h1m7 0h1m1 0h2m3 0h1m2 0h1m10 0h1m4 0h1m8 0h1m4 0h1m2 0h2m10 0h1m7 0h2m-125 1h1m51 0h2m2 0h1m10 0h1m1 0h2m5 0h1m1 0h1m3 0h1m2 0h4m8 0h1m6 0h1m6 0h1m3 0h1m2 0h1m5 0h1m19 0h1m1 0h1m-139 1h1m43 0h1m3 0h2m4 0h2m1 0h1m5 0h2m2 0h1m1 0h1m5 0h1m1 0h1m1 0h1m4 0h1m1 0h1m1 0h1m15 0h1m1 0h2m2 0h2m5 0h1m2 0h1m13 0h2m-146 1h3m39 0h1m14 0h1m1 0h1m3 0h1m2 0h1m1 0h1m9 0h1m5 0h2m2 0h1m4 0h1m4 0h1m2 0h2m4 0h1m6 0h1m2 0h1m1 0h1m23 0h3m1 0h1m-149 1h1m8 0h1m1 0h1m52 0h1m3 0h1m3 0h1m4 0h1m4 0h2m3 0h1m9 0h3m1 0h1m4 0h1m2 0h1m8 0h2m7 0h1m3 0h5m2 0h2m1 0h1m-85 1h1m1 0h1m8 0h1m6 0h2m10 0h1m2 0h1m4 0h1m1 0h1m1 0h2m11 0h1m2 0h2m2 0h1m3 0h1m1 0h2m1 0h1m3 0h2m15 0h1m-147 1h1m3 0h1m69 0h1m2 0h1m6 0h1m5 0h1m2 0h1m1 0h1m1 0h1m5 0h2m2 0h2m3 0h2m1 0h2m2 0h1m1 0h2m5 0h1m3 0h1m2 0h1m1 0h1m6 0h1m-148 1h1m13 0h1m1 0h1m41 0h2m4 0h1m11 0h1m7 0h1m1 0h1m3 0h1m2 0h1m1 0h1m2 0h1m7 0h1m2 0h3m2 0h1m1 0h1m1 0h1m2 0h1m4 0h4m1 0h1m1 0h2m12 0h1m1 0h1m-147 1h1m6 0h1m29 0h1m10 0h1m1 0h1m4 0h2m20 0h1m5 0h1m2 0h2m4 0h1m3 0h1m2 0h1m1 0h1m13 0h1m5 0h1m8 0h1m4 0h1m3 0h1m6 0h1m-147 1h1m7 0h2m38 0h1m1 0h1m3 0h1m5 0h2m1 0h1m4 0h1m1 0h1m9 0h1m1 0h1m2 0h1m7 0h1m3 0h1m2 0h1m11 0h1m5 0h1m7 0h1m2 0h3m1 0h1m7 0h1m1 0h2m-150 1h1m3 0h1m6 0h3m29 0h1m5 0h1m5 0h1m6 0h1m3 0h1m11 0h1m5 0h1m2 0h1m6 0h3m3 0h2m7 0h1m8 0h1m5 0h4m3 0h2m1 0h1m4 0h1m1 0h1m3 0h1m2 0h1m-145 1h1m5 0h1m1 0h3m3 0h1m33 0h1m9 0h1m9 0h1m1 0h1m9 0h1m3 0h2m1 0h1m3 0h1m1 0h1m1 0h3m3 0h1m3 0h1m12 0h1m10 0h1m1 0h1m9 0h1m1 0h1m-146 1h1m1 0h1m10 0h3m26 0h1m6 0h1m9 0h1m3 0h1m17 0h1m2 0h1m1 0h2m4 0h3m3 0h2m1 0h1m6 0h2m5 0h1m4 0h1m1 0h1m1 0h2m3 0h1m2 0h1m1 0h1m5 0h1m-138 1h1m4 0h1m2 0h1m38 0h2m4 0h1m5 0h1m1 0h1m6 0h1m2 0h1m6 0h2m4 0h2m5 0h1m1 0h1m4 0h1m4 0h1m3 0h1m4 0h1m1 0h2m6 0h1m2 0h1m11 0h1m6 0h1m-147 1h1m3 0h1m2 0h1m2 0h1m43 0h1m6 0h1m3 0h2m3 0h2m1 0h1m1 0h1m3 0h1m4 0h1m14 0h2m3 0h2m2 0h1m3 0h2m4 0h1m1 0h1m7 0h1m9 0h1m3 0h1m-139 1h1m1 0h1m4 0h1m4 0h2m26 0h1m12 0h1m5 0h1m5 0h1m1 0h1m8 0h2m10 0h1m1 0h1m8 0h4m8 0h2m2 0h1m2 0h1m7 0h2m1 0h1m5 0h1m-142 1h1m9 0h1m2 0h1m7 0h1m21 0h1m14 0h1m8 0h2m9 0h1m3 0h1m6 0h1m16 0h1m2 0h1m3 0h2m1 0h2m2 0h1m10 0h2m-127 1h1m1 0h1m1 0h1m43 0h1m12 0h1m4 0h2m6 0h1m10 0h1m1 0h1m1 0h1m6 0h1m8 0h1m2 0h1m5 0h1m2 0h1m1 0h1m19 0h1m-148 1h1m5 0h1m4 0h1m2 0h2m34 0h1m3 0h1m1 0h1m4 0h1m6 0h1m6 0h1m3 0h1m1 0h1m2 0h1m7 0h1m11 0h4m3 0h1m2 0h1m3 0h2m2 0h1m4 0h1m20 0h1m-148 1h1m1 0h2m7 0h2m3 0h1m2 0h2m20 0h1m9 0h2m31 0h1m9 0h1m3 0h1m8 0h3m2 0h2m3 0h2m13 0h1m-130 1h3m4 0h1m5 0h1m1 0h1m22 0h1m1 0h1m10 0h3m4 0h1m4 0h2m6 0h1m16 0h1m15 0h1m3 0h1m1 0h3m1 0h1m6 0h1m2 0h1m6 0h1m10 0h1m-132 1h3m1 0h1m21 0h1m9 0h1m3 0h2m5 0h1m3 0h1m2 0h1m2 0h1m5 0h1m2 0h2m1 0h1m2 0h3m2 0h3m16 0h1m1 0h1m3 0h1m14 0h1m4 0h2m-138 1h1m1 0h2m5 0h1m8 0h3m25 0h1m2 0h1m1 0h1m1 0h1m3 0h1m7 0h1m1 0h1m2 0h1m6 0h1m8 0h1m4 0h1m18 0h1m32 0h1m-142 1h1m12 0h1m1 0h2m15 0h1m22 0h1m11 0h2m5 0h1m6 0h1m4 0h1m1 0h2m26 0h1m4 0h1m12 0h1m-136 1h1m14 0h1m1 0h2m1 0h1m8 0h1m15 0h2m12 0h1m1 0h1m7 0h2m2 0h1m7 0h2m6 0h1m33 0h1m1 0h1m-131 1h1m1 0h1m2 0h2m9 0h1m3 0h1m29 0h2m11 0h1m9 0h1m5 0h1m1 0h1m7 0h2m1 0h1m25 0h1m4 0h1m4 0h1m14 0h1m-147 1h1m11 0h3m2 0h1m9 0h1m3 0h1m8 0h2m15 0h1m9 0h1m6 0h1m1 0h1m3 0h1m2 0h1m2 0h3m6 0h1m28 0h4m1 0h1m10 0h1m1 0h1m1 0h1m-132 1h1m1 0h2m1 0h1m5 0h2m1 0h1m27 0h2m2 0h1m1 0h2m2 0h1m8 0h1m1 0h1m3 0h2m2 0h1m3 0h1m1 0h1m1 0h2m1 0h2m41 0h2m1 0h1m-148 1h1m4 0h1m10 0h1m7 0h2m5 0h2m3 0h1m9 0h1m27 0h1m5 0h1m2 0h2m44 0h2m16 0h1m-132 1h1m3 0h1m2 0h4m8 0h1m7 0h1m14 0h1m4 0h1m1 0h1m1 0h1m4 0h1m11 0h1m11 0h1m32 0h1m5 0h2m-135 1h1m19 0h1m1 0h1m1 0h1m8 0h5m18 0h1m8 0h4m3 0h1m1 0h1m5 0h1m45 0h1m6 0h2m-137 1h1m1 0h3m12 0h1m6 0h1m12 0h2m10 0h1m18 0h1m5 0h2m3 0h1m4 0h1m5 0h3m33 0h1m4 0h1m2 0h2m2 0h1m6 0h1m-144 1h1m7 0h1m9 0h3m2 0h1m2 0h1m3 0h1m3 0h1m4 0h1m2 0h1m5 0h1m8 0h2m7 0h3m2 0h1m4 0h6m15 0h1m26 0h2m2 0h1m5 0h1m2 0h1m-138 1h3m18 0h2m2 0h1m1 0h1m1 0h3m3 0h1m1 0h1m18 0h1m1 0h1m10 0h2m8 0h1m2 0h2m8 0h1m32 0h1m3 0h1m5 0h1m-135 1h1m1 0h1m5 0h2m9 0h1m9 0h2m9 0h1m1 0h1m13 0h1m1 0h1m2 0h1m1 0h1m4 0h2m1 0h1m6 0h2m9 0h1m1 0h1m1 0h1m38 0h1m-132 1h1m5 0h1m6 0h1m2 0h2m12 0h1m2 0h4m23 0h1m2 0h2m4 0h1m3 0h1m2 0h2m2 0h1m5 0h1m3 0h1m36 0h1m4 0h3m-135 1h1m10 0h1m2 0h1m2 0h1m5 0h1m3 0h1m5 0h1m3 0h2m7 0h1m10 0h1m2 0h1m2 0h1m6 0h1m4 0h1m1 0h1m14 0h1m3 0h1m25 0h2m9 0h2m1 0h1m1 0h2m-141 1h1m14 0h1m1 0h1m12 0h1m2 0h1m4 0h1m1 0h1m1 0h2m2 0h1m4 0h2m10 0h1m1 0h3m6 0h2m1 0h1m7 0h1m4 0h2m5 0h2m23 0h1m-122 1h2m2 0h1m3 0h1m8 0h1m4 0h1m1 0h1m2 0h1m2 0h1m2 0h2m4 0h2m2 0h2m1 0h3m6 0h1m5 0h1m2 0h2m9 0h1m13 0h2m20 0h1m4 0h1m4 0h1m5 0h1m1 0h2m1 0h1m4 0h1m-129 1h3m4 0h1m7 0h1m4 0h1m2 0h1m1 0h1m3 0h1m1 0h1m7 0h1m3 0h1m1 0h1m3 0h1m1 0h1m4 0h1m2 0h1m12 0h1m8 0h1m3 0h1m3 0h1m15 0h1m1 0h1m4 0h1m2 0h1m4 0h1m1 0h1m-123 1h2m3 0h1m3 0h1m4 0h1m2 0h2m8 0h1m1 0h2m3 0h1m1 0h3m1 0h1m2 0h1m4 0h1m2 0h1m3 0h1m3 0h3m16 0h2m3 0h1m17 0h1m1 0h1m2 0h2m8 0h1m1 0h1m3 0h2m-133 1h1m3 0h2m3 0h3m1 0h1m7 0h1m4 0h1m6 0h1m3 0h1m6 0h2m11 0h1m1 0h1m7 0h2m1 0h1m8 0h1m4 0h1m4 0h1m2 0h1m6 0h1m15 0h2m1 0h1m2 0h1m2 0h1m3 0h1m2 0h1m3 0h1m-127 1h2m5 0h1m8 0h2m1 0h3m2 0h1m3 0h1m1 0h1m1 0h1m3 0h1m1 0h2m6 0h1m5 0h1m3 0h1m1 0h1m4 0h1m6 0h1m9 0h3m6 0h1m1 0h1m12 0h1m1 0h1m2 0h1m9 0h1m-132 1h1m2 0h2m4 0h1m3 0h1m6 0h1m2 0h1m1 0h1m1 0h1m1 0h2m7 0h3m2 0h1m1 0h1m5 0h2m7 0h2m2 0h2m1 0h2m2 0h1m2 0h1m1 0h1m9 0h1m3 0h1m2 0h1m1 0h1m3 0h1m1 0h1m13 0h1m1 0h2m2 0h1m5 0h1m3 0h1m-132 1h1m8 0h1m13 0h1m3 0h4m3 0h1m1 0h1m6 0h1m3 0h1m12 0h1m4 0h1m5 0h2m19 0h2m2 0h1m3 0h2m17 0h1m2 0h2m8 0h1m1 0h1m-128 1h2m7 0h1m9 0h1m2 0h1m12 0h1m1 0h2m2 0h1m2 0h1m4 0h1m5 0h1m5 0h1m2 0h1m2 0h2m2 0h2m3 0h1m3 0h1m4 0h1m5 0h1m11 0h1m7 0h1m1 0h2m5 0h1m2 0h2m1 0h1m-123 1h1m9 0h1m14 0h1m3 0h2m9 0h2m25 0h1m1 0h1m7 0h1m2 0h1m1 0h1m3 0h1m21 0h1m10 0h1m1 0h1m-128 1h1m2 0h1m14 0h1m5 0h2m8 0h1m10 0h1m7 0h1m1 0h1m11 0h1m2 0h1m1 0h2m3 0h2m3 0h4m1 0h1m5 0h1m14 0h1m2 0h1m9 0h1m2 0h1m1 0h1m1 0h1m-134 1h1m12 0h2m10 0h1m2 0h2m1 0h1m1 0h1m8 0h3m1 0h1m1 0h2m2 0h1m4 0h1m1 0h2m5 0h1m2 0h3m7 0h1m6 0h1m5 0h1m23 0h1m6 0h1m1 0h1m5 0h1m1 0h1m-121 1h1m9 0h1m3 0h1m7 0h1m4 0h2m4 0h1m3 0h1m1 0h1m5 0h3m1 0h1m3 0h1m5 0h1m2 0h1m11 0h2m3 0h1m2 0h1m23 0h1m4 0h2m1 0h1m-130 1h1m4 0h1m14 0h2m21 0h3m1 0h1m2 0h1m2 0h2m3 0h2m4 0h1m2 0h1m1 0h4m1 0h1m5 0h1m5 0h1m2 0h2m2 0h1m5 0h1m12 0h1m1 0h1m1 0h2m1 0h1m3 0h1m7 0h1m-128 1h1m8 0h2m1 0h1m3 0h1m9 0h1m3 0h3m7 0h1m6 0h1m6 0h1m10 0h1m1 0h1m3 0h1m5 0h1m10 0h3m7 0h1m1 0h2m11 0h1m1 0h3m4 0h1m-112 1h1m4 0h1m8 0h1m2 0h1m8 0h1m1 0h4m2 0h1m1 0h1m3 0h2m1 0h1m1 0h1m2 0h2m3 0h1m1 0h1m5 0h2m1 0h1m6 0h1m5 0h1m1 0h1m9 0h1m15 0h1m8 0h2m-129 1h1m12 0h2m2 0h1m4 0h2m1 0h1m13 0h1m6 0h4m1 0h1m5 0h1m3 0h3m10 0h1m2 0h1m13 0h2m2 0h1m16 0h2m2 0h1m6 0h1m3 0h2m-122 1h1m13 0h2m3 0h1m4 0h1m1 0h2m9 0h1m1 0h2m11 0h1m7 0h1m7 0h1m6 0h2m11 0h2m7 0h2m2 0h2m3 0h1m2 0h2m1 0h1m1 0h2m-119 1h1m2 0h1m17 0h1m2 0h1m23 0h1m6 0h1m1 0h1m2 0h1m1 0h1m1 0h1m4 0h2m1 0h1m4 0h2m5 0h1m1 0h2m2 0h1m4 0h1m9 0h1m4 0h2m10 0h1m-125 1h1m4 0h1m14 0h1m1 0h1m13 0h1m14 0h1m3 0h1m8 0h1m4 0h1m2 0h3m2 0h1m2 0h3m4 0h2m8 0h1m2 0h1m5 0h1m6 0h2m1 0h1m1 0h1m2 0h1m-130 1h1m5 0h1m1 0h2m5 0h1m1 0h1m2 0h1m3 0h2m3 0h2m1 0h1m9 0h2m2 0h1m2 0h2m1 0h1m5 0h1m1 0h1m5 0h3m6 0h1m3 0h1m4 0h1m1 0h1m5 0h6m2 0h1m4 0h1m2 0h1m1 0h1m5 0h2m1 0h1m8 0h1m-126 1h1m12 0h1m9 0h2m2 0h1m4 0h1m9 0h4m2 0h1m3 0h1m1 0h2m1 0h1m2 0h1m4 0h1m8 0h1m1 0h4m2 0h1m2 0h1m1 0h1m2 0h2m6 0h1m6 0h2m2 0h2m1 0h1m4 0h1m-115 1h1m3 0h1m12 0h2m1 0h2m2 0h1m3 0h1m6 0h1m1 0h1m2 0h1m9 0h3m1 0h3m3 0h1m10 0h2m3 0h1m8 0h1m1 0h2m8 0h1m4 0h1m3 0h2m5 0h1m-113 1h1m6 0h1m14 0h1m6 0h1m5 0h2m3 0h3m3 0h1m1 0h1m1 0h1m2 0h4m1 0h1m4 0h2m2 0h1m2 0h2m4 0h1m4 0h1m6 0h1m1 0h1m3 0h1m1 0h1m4 0h1m10 0h1m2 0h1m-117 1h3m8 0h1m5 0h1m5 0h1m17 0h1m1 0h2m1 0h1m7 0h1m1 0h1m3 0h1m3 0h1m6 0h1m1 0h1m3 0h1m1 0h1m1 0h2m4 0h3m3 0h1m1 0h1m6 0h2m9 0h1m5 0h1m-124 1h1m5 0h2m3 0h2m2 0h1m2 0h1m10 0h2m9 0h1m4 0h1m1 0h2m1 0h2m4 0h2m10 0h1m4 0h1m8 0h2m3 0h3m1 0h1m2 0h1m2 0h2m1 0h1m2 0h1m3 0h1m8 0h1m-120 1h4m3 0h2m1 0h2m8 0h1m11 0h2m15 0h1m1 0h1m1 0h2m3 0h1m7 0h1m2 0h1m2 0h1m4 0h2m1 0h1m14 0h1m1 0h1m1 0h1m5 0h1m1 0h2m9 0h1m4 0h1m-119 1h1m4 0h2m2 0h3m19 0h1m6 0h2m9 0h1m1 0h1m2 0h1m2 0h1m3 0h1m1 0h1m2 0h1m7 0h2m13 0h1m1 0h1m4 0h1m2 0h1m3 0h1m2 0h1m3 0h1m5 0h1m-120 1h1m8 0h3m15 0h1m5 0h1m14 0h1m5 0h1m2 0h1m2 0h1m1 0h1m5 0h4m2 0h2m6 0h1m4 0h1m4 0h1m5 0h2m1 0h1m4 0h3m1 0h1m1 0h1m1 0h2m-115 1h1m1 0h1m5 0h1m1 0h1m1 0h2m1 0h1m2 0h2m6 0h1m3 0h1m11 0h1m5 0h1m1 0h1m2 0h1m12 0h1m3 0h1m1 0h1m1 0h1m6 0h1m3 0h3m8 0h2m2 0h1m5 0h2m4 0h1m2 0h1m-119 1h1m1 0h1m2 0h1m5 0h1m2 0h1m4 0h1m4 0h1m1 0h3m3 0h2m3 0h1m7 0h3m3 0h1m5 0h1m13 0h1m1 0h1m2 0h2m1 0h2m2 0h1m6 0h1m10 0h1m9 0h1m-108 1h2m4 0h1m1 0h1m3 0h1m10 0h2m3 0h1m17 0h1m1 0h1m5 0h1m1 0h2m9 0h1m2 0h1m9 0h1m21 0h1m-96 1h1m3 0h1m3 0h1m6 0h1m7 0h1m9 0h1m20 0h1m1 0h1m4 0h2m5 0h1m10 0h1m5 0h1m8 0h1m7 0h1m-112 1h1m10 0h1m8 0h1m3 0h1m23 0h1m2 0h1m3 0h2m1 0h1m6 0h2m1 0h4m10 0h1m5 0h1m20 0h1m-117 1h1m8 0h1m5 0h1m1 0h1m2 0h1m1 0h1m3 0h1m3 0h1m1 0h3m1 0h1m5 0h2m7 0h1m5 0h1m1 0h2m3 0h1m6 0h1m4 0h1m2 0h1m2 0h1m23 0h2m4 0h1m-112 1h1m9 0h1m3 0h1m6 0h1m4 0h1m2 0h1m1 0h3m5 0h1m7 0h1m2 0h1m3 0h3m4 0h1m10 0h5m1 0h2m2 0h1m9 0h1m2 0h1m2 0h2m9 0h1m3 0h1m-107 1h2m2 0h2m6 0h1m6 0h1m4 0h1m2 0h1m2 0h2m1 0h1m1 0h1m6 0h1m6 0h1m20 0h4m3 0h1m2 0h1m3 0h2m6 0h1m4 0h1m8 0h2m-110 1h2m2 0h1m9 0h2m8 0h1m5 0h1m1 0h1m9 0h1m3 0h1m6 0h1m3 0h1m11 0h1m2 0h1m2 0h3m2 0h1m13 0h1m10 0h1m2 0h1m-111 1h1m7 0h1m5 0h1m1 0h2m3 0h1m5 0h3m4 0h1m2 0h1m3 0h1m4 0h1m1 0h1m9 0h1m6 0h1m5 0h1m1 0h1m6 0h1m1 0h1m1 0h1m12 0h3m-98 1h2m5 0h2m2 0h1m2 0h1m1 0h1m2 0h2m10 0h1m2 0h2m8 0h1m2 0h1m9 0h2m6 0h1m5 0h1m12 0h1m2 0h1m3 0h1m7 0h1m3 0h2m-105 1h1m5 0h1m5 0h1m3 0h1m7 0h1m1 0h1m4 0h3m12 0h1m8 0h2m8 0h2m3 0h1m2 0h2m11 0h1m6 0h1m3 0h1m1 0h1m-79 1h2m7 0h1m13 0h1m1 0h1m1 0h1m13 0h1m4 0h1m3 0h1m1 0h2m3 0h1m4 0h3m13 0h1m-80 1h2m2 0h1m4 0h1m2 0h1m14 0h1m3 0h1m1 0h1m2 0h1m5 0h1m3 0h1m5 0h1m4 0h2m4 0h1m2 0h1m5 0h1m-81 1h2m3 0h1m4 0h1m12 0h1m8 0h1m4 0h1m2 0h1m2 0h2m1 0h1m1 0h7m1 0h1m4 0h1m2 0h1m2 0h2m1 0h1m4 0h1m-85 1h1m3 0h1m5 0h1m10 0h3m5 0h1m1 0h1m4 0h1m2 0h1m2 0h1m1 0h1m7 0h1m5 0h1m3 0h2m1 0h1m1 0h1m6 0h1m1 0h1m3 0h1m2 0h1m-84 1h1m3 0h1m3 0h1m10 0h1m1 0h1m5 0h2m12 0h1m1 0h1m13 0h1m7 0h1m9 0h1m4 0h2m-78 1h1m13 0h2m2 0h2m1 0h1m2 0h3m15 0h1m7 0h1m1 0h1m13 0h1m3 0h1m-72 1h1m2 0h1m4 0h1m4 0h1m1 0h1m4 0h1m4 0h1m26 0h1m-36 1h1m5 0h2m5 0h2m38 0h1m-62 1h2m8 0h1m1 0h2m2 0h2m3 0h1m-29 1h2m3 0h1m2 0h1m9 0h1m3 0h2m-15 1h2m6 0h1m8 0h1m-19 1h2m2 0h1m-9 1h1m8 0h1"/>
<path stroke="#414487" d="M115 3h1m1 0h1m-7 1h1m10 0h1m6 0h1m-21 1h1m4 0h1m-2 1h1m3 0h1m3 0h1m2 0h1m-8 1h1m5 0h1m-14 1h1m13 0h1m-10 1h1m14 0h1m-30 1h1m2 0h1m3 0h1m7 0h1m19 0h1m-10 1h1m8 0h2m-30 1h1m15 0h1m-25 1h1m3 0h1m7 0h1m6 0h1m2 0h1m7 0h1m2 0h1m-41 1h1m25 0h1m10 0h1m-28 1h1m14 0h1m-5 1h2m14 0h1m-22 1h1m14 0h1m5 0h2m-26 1h1m30 0h1m-30 1h1m19 0h1m6 0h1m-30 1h1m22 0h1m-9 1h1m-16 1h1m23 0h1m-48 1h1m16 0h1m4 0h1m18 0h1m1 0h1m14 0h1m-48 1h1m33 0h1m11 0h1m-50 1h1m2 0h2m7 0h1m2 0h1m15 0h1m9 0h2m2 0h1m-41 1h1m17 0h1m3 0h1m6 0h1m10 0h1m-48 1h1m7 0h1m13 0h2m5 0h1m3 0h1m2 0h1m4 0h1m13 0h1m-60 1h1m12 0h1m10 0h1m6 0h2m4 0h1m3 0h1m-46 1h1m3 0h1m1 0h1m9 0h1m1 0h1m24 0h1m4 0h1m4 0h1m-32 1h1m3 0h2m4 0h1m3 0h1m1 0h1m2 0h1m-34 1h1m11 0h1m40 0h1m-58 1h1m5 0h1m13 0h1m7 0h1m20 0h1m-53 1h1m8 0h1m1 0h2m2 0h1m37 0h1m-63 1h1m1 0h1m18 0h1m5 0h1m2 0h2m8 0h1m14 0h1m1 0h1m-59 1h2m8 0h1m6 0h1m1 0h1m1 0h1m15 0h1m19 0h1m-56 1h1m6 0h1m14 0h1m19 0h1m15 0h1m7 0h1m-67 1h1m14 0h1m15 0h1m3 0h1m6 0h1m20 0h2m2 0h1m-71 1h1m1 0h1m1 0h1m6 0h1m20 0h1m9 0h1m29 0h1m-73 1h1m2 0h1m4 0h1m5 0h1m30 0h1m-40 1h1m4 0h1m4 0h1m8 0h1m3 0h1m2 0h1m8 0h1m19 0h1m9 0h1m-72 1h1m5 0h1m10 0h1m23 0h1m29 0h1m-66 1h1m4 0h1m6 0h1m52 0h1m-54 1h1m2 0h1m18 0h2m26 0h1m4 0h1m-92 1h1m6 0h2m4 0h1m4 0h1m2 0h1m6 0h1m1 0h1m17 0h1m11 0h1m24 0h1m-82 1h1m4 0h1m16 0h1m12 0h1m12 0h1m30 0h1m-70 1h1m2 0h1m8 0h1m2 0h1m4 0h1m10 0h1m-27 1h1m7 0h1m21 0h1m1 0h1m37 0h1m-78 1h1m2 0h1m27 0h1m20 0h2m14 0h1m-74 1h1m5 0h1m6 0h1m5 0h1m12 0h1m4 0h1m7 0h1m9 0h1m-49 1h1m1 0h1m5 0h1m16 0h1m6 0h3m13 0h1m-55 1h1m5 0h1m6 0h1m-5 1h2m1 0h2m2 0h1m10 0h1m4 0h1m5 0h1m3 0h1m9 0h1m1 0h1m-53 1h1m2 0h1m13 0h1m3 0h1m10 0h1m24 0h1m-52 1h1m44 0h1m-42 1h1m31 0h1m14 0h1m-54 1h1m32 0h1m16 0h1m1 0h1m1 0h1m-52 1h1m3 0h1m2 0h1m32 0h1m8 0h1m-27 1h1m4 0h1m10 0h1m2 0h1m1 0h1m3 0h1m29 0h1m-86 1h1m4 0h1m18 0h1m6 0h1m8 0h1m16 0h1m-63 1h1m1 0h1m1 0h1m13 0h1m15 0h2m22 0h1m-45 1h1m23 0h1m23 0h1m-62 1h1m5 0h1m4 0h1m2 0h1m4 0h1m16 0h1m1 0h1m1 0h1m1 0h1m18 0h1m3 0h1m19 0h1m-139 1h1m51 0h1m8 0h1m1 0h1m4 0h1m7 0h1m1 0h2m7 0h2m-86 1h1m84 0h2m5 0h1m14 0h2m6 0h1m-123 1h1m2 0h1m72 0h1m1 0h2m4 0h1m28 0h1m3 0h1m29 0h1m-86 1h1m2 0h1m7 0h3m11 0h1m31 0h1m13 0h1m1 0h1m4 0h2m-139 1h1m4 0h1m52 0h2m14 0h1m3 0h1m6 0h1m4 0h1m1 0h2m24 0h2m6 0h1m5 0h1m-66 1h1m4 0h1m7 0h1m8 0h2m1 0h1m8 0h1m20 0h2m1 0h1m2 0h1m-124 1h1m62 0h1m5 0h2m1 0h2m4 0h1m2 0h2m12 0h1m17 0h1m1 0h1m3 0h1m1 0h1m10 0h1m-138 1h1m67 0h1m5 0h1m10 0h1m27 0h1m2 0h1m12 0h1m11 0h1m2 0h1m-101 1h1m12 0h1m12 0h1m2 0h1m10 0h1m24 0h1m8 0h1m2 0h2m7 0h1m12 0h1m-97 1h1m23 0h1m12 0h1m1 0h1m4 0h1m6 0h1m15 0h1m2 0h1m8 0h2m6 0h1m9 0h1m-147 1h1m4 0h1m55 0h1m1 0h1m3 0h1m14 0h1m5 0h1m6 0h1m6 0h1m27 0h1m2 0h1m-127 1h1m43 0h1m21 0h1m14 0h1m1 0h1m4 0h1m6 0h1m-95 1h1m69 0h1m6 0h1m9 0h1m5 0h1m6 0h1m-110 1h3m7 0h1m39 0h1m4 0h1m12 0h1m4 0h1m1 0h1m5 0h1m4 0h1m7 0h1m18 0h1m8 0h1m10 0h1m5 0h1m-86 1h2m2 0h2m3 0h1m39 0h1m13 0h1m10 0h1m3 0h1m4 0h1m6 0h1m-139 1h1m2 0h1m6 0h1m32 0h1m6 0h1m15 0h1m18 0h1m5 0h1m7 0h2m17 0h1m13 0h1m3 0h1m-97 1h1m20 0h1m7 0h1m27 0h1m7 0h1m8 0h1m-82 1h1m19 0h1m10 0h1m3 0h1m9 0h1m12 0h1m8 0h2m17 0h1m9 0h1m-57 1h1m55 0h1m4 0h1m-127 1h1m38 0h1m11 0h2m55 0h1m-126 1h2m1 0h1m38 0h1m6 0h1m3 0h2m12 0h1m44 0h1m16 0h1m7 0h1m-135 1h1m8 0h1m38 0h1m39 0h1m23 0h1m6 0h1m5 0h1m4 0h1m1 0h1m-88 1h4m6 0h1m1 0h1m2 0h2m8 0h2m42 0h1m2 0h1m6 0h1m-107 1h1m25 0h1m4 0h1m22 0h1m1 0h1m7 0h2m45 0h1m-121 1h1m49 0h1m3 0h1m8 0h2m44 0h1m15 0h1m-83 1h1m3 0h2m11 0h1m1 0h1m9 0h2m33 0h1m5 0h1m2 0h1m-64 1h1m48 0h1m5 0h1m3 0h1m4 0h1m2 0h1m-75 1h1m5 0h1m3 0h1m1 0h1m1 0h1m45 0h1m9 0h1m-117 1h1m51 0h1m5 0h1m1 0h2m6 0h1m50 0h1m-69 1h1m7 0h1m5 0h1m5 0h2m30 0h1m6 0h1m2 0h1m-117 1h1m2 0h1m57 0h1m55 0h1m-138 1h1m7 0h1m19 0h1m53 0h2m2 0h1m4 0h1m34 0h1m4 0h1m4 0h1m1 0h2m-134 1h2m52 0h1m15 0h1m6 0h1m3 0h1m34 0h2m8 0h1m4 0h1m-124 1h1m17 0h1m1 0h1m28 0h1m2 0h1m1 0h1m6 0h1m5 0h1m3 0h1m4 0h1m5 0h1m25 0h1m-110 1h1m5 0h1m4 0h1m8 0h1m1 0h1m9 0h1m2 0h2m12 0h1m2 0h1m18 0h1m4 0h1m4 0h1m1 0h1m31 0h1m3 0h1m3 0h1m2 0h1m-122 1h1m3 0h1m7 0h1m6 0h1m9 0h1m6 0h1m1 0h1m2 0h1m5 0h1m4 0h1m12 0h1m31 0h1m14 0h1m-123 1h1m8 0h1m29 0h1m43 0h1m2 0h1m17 0h1m17 0h1m-126 1h1m1 0h1m2 0h1m3 0h1m37 0h1m7 0h2m1 0h1m16 0h1m-71 1h1m16 0h1m10 0h1m1 0h1m11 0h2m11 0h1m5 0h1m8 0h1m16 0h1m2 0h1m-85 1h1m21 0h1m31 0h1m27 0h1m2 0h1m14 0h1m2 0h1m8 0h1m-120 1h1m3 0h1m7 0h1m3 0h1m19 0h1m41 0h1m7 0h1m3 0h1m12 0h1m2 0h1m6 0h1m-121 1h1m21 0h1m6 0h1m11 0h1m8 0h1m1 0h1m7 0h1m23 0h2m9 0h1m15 0h1m5 0h1m14 0h1m-132 1h1m44 0h1m3 0h2m21 0h1m11 0h1m8 0h1m16 0h1m2 0h1m8 0h1m-114 1h2m11 0h1m8 0h1m8 0h1m16 0h1m8 0h1m13 0h2m3 0h1m2 0h1m5 0h1m16 0h1m7 0h2m-97 1h1m24 0h1m1 0h1m35 0h1m23 0h1m-90 1h1m24 0h1m9 0h1m10 0h1m26 0h1m-68 1h1m31 0h1m5 0h2m1 0h1m2 0h1m4 0h1m2 0h1m4 0h1m1 0h1m1 0h1m32 0h1m3 0h1m-109 1h1m3 0h1m5 0h1m4 0h1m8 0h1m6 0h1m1 0h1m2 0h1m22 0h1m8 0h1m4 0h1m22 0h1m-95 1h2m3 0h2m10 0h1m28 0h2m5 0h2m30 0h4m8 0h1m6 0h1m-96 1h1m23 0h1m1 0h1m3 0h1m9 0h1m5 0h1m8 0h1m2 0h1m5 0h1m6 0h1m3 0h1m2 0h1m9 0h1m-90 1h1m7 0h1m4 0h1m24 0h1m11 0h1m1 0h1m4 0h2m3 0h1m5 0h1m18 0h2m1 0h1m3 0h1m-108 1h1m12 0h1m27 0h2m29 0h1m15 0h1m2 0h2m2 0h1m3 0h1m1 0h1m3 0h1m-125 1h1m7 0h1m11 0h1m2 0h1m16 0h1m1 0h1m1 0h3m3 0h1m21 0h1m2 0h1m28 0h2m16 0h1m1 0h1m-104 1h1m3 0h1m15 0h1m1 0h1m5 0h2m8 0h1m4 0h1m27 0h1m5 0h1m1 0h1m9 0h1m-80 1h1m6 0h1m12 0h1m5 0h1m13 0h1m2 0h1m2 0h1m3 0h1m1 0h1m8 0h1m27 0h1m3 0h1m-79 1h1m12 0h2m2 0h1m17 0h1m4 0h1m34 0h2m-120 1h1m41 0h1m2 0h1m4 0h1m4 0h1m11 0h1m4 0h1m1 0h1m5 0h1m10 0h1m3 0h2m1 0h1m8 0h1m-96 1h2m4 0h2m22 0h1m14 0h1m2 0h1m14 0h1m11 0h1m9 0h2m2 0h1m1 0h1m-101 1h1m41 0h2m2 0h1m5 0h1m17 0h1m13 0h1m1 0h1m5 0h1m1 0h1m3 0h2m1 0h1m9 0h1m-123 1h1m8 0h2m42 0h1m7 0h1m1 0h2m2 0h1m26 0h1m2 0h1m2 0h1m1 0h1m-53 1h1m8 0h3m27 0h1m14 0h1m2 0h2m4 0h1m-113 1h1m38 0h1m15 0h1m13 0h2m15 0h1m9 0h1m10 0h1m-110 1h1m8 0h1m3 0h1m1 0h1m79 0h1m2 0h1m4 0h1m15 0h1m-117 1h1m47 0h1m10 0h1m7 0h2m6 0h1m17 0h1m19 0h1m-115 1h1m2 0h1m5 0h1m2 0h1m19 0h1m28 0h1m4 0h1m2 0h1m11 0h1m24 0h2m-105 1h2m28 0h1m40 0h1m4 0h1m21 0h1m4 0h1m1 0h1m-107 1h1m4 0h1m1 0h3m18 0h1m12 0h1m4 0h1m2 0h2m3 0h1m18 0h1m5 0h1m1 0h1m14 0h1m4 0h1m7 0h1m-111 1h1m4 0h1m2 0h1m3 0h1m17 0h2m15 0h1m2 0h1m48 0h1m-98 1h1m61 0h1m3 0h1m2 0h1m34 0h1m-114 1h1m15 0h1m1 0h1m28 0h1m9 0h1m26 0h1m2 0h1m14 0h1m7 0h1m-83 1h1m2 0h2m12 0h1m8 0h1m20 0h1m4 0h1m4 0h1m3 0h1m9 0h1m9 0h1m-99 1h1m1 0h1m13 0h1m2 0h1m22 0h1m20 0h2m1 0h1m4 0h1m16 0h1m10 0h1m-105 1h1m7 0h2m4 0h1m20 0h1m16 0h2m9 0h2m5 0h1m3 0h1m2 0h1m14 0h1m4 0h1m3 0h1m2 0h1m-102 1h2m10 0h1m4 0h1m46 0h1m4 0h4m2 0h2m19 0h1m-95 1h2m19 0h1m19 0h1m27 0h1m4 0h1m5 0h1m10 0h1m-85 1h3m46 0h1m12 0h1m12 0h1m7 0h1m-96 1h1m4 0h1m4 0h1m35 0h1m14 0h1m1 0h1m14 0h1m1 0h1m10 0h1m-87 1h1m23 0h1m5 0h2m7 0h1m1 0h1m29 0h1m2 0h1m1 0h1m12 0h1m-96 1h1m4 0h1m39 0h1m2 0h1m14 0h1m11 0h1m-77 1h1m3 0h1m8 0h2m2 0h1m31 0h1m-46 1h1m6 0h1m1 0h1m5 0h1m17 0h1m10 0h1m2 0h1m14 0h1m5 0h1m11 0h2m-74 1h1m9 0h1m2 0h1m-21 1h1m9 0h1m-9 1h1m11 0h1m20 0h1m-27 1h1m10 0h1m6 0h1m7 0h1m-26 2h1m0 1h1"/>
<path stroke="#35608D" d="M126 3h1m-15 1h1m3 0h1m9 2h1m-25 1h1m6 0h1m2 0h1m3 0h1m7 0h1m-23 1h1m5 0h1m18 0h1m7 0h1m-15 1h1m1 0h2m-16 1h1m1 0h1m1 0h1m17 0h1m-31 1h1m2 0h1m8 0h1m19 0h1m1 0h1m-29 1h1m27 0h1m2 0h1m-40 1h1m26 0h1m-24 1h1m18 1h1m2 0h1m-16 1h1m-25 1h1m39 0h1m5 0h1m3 0h1m-51 1h1m15 0h1m1 0h1m4 0h1m15 0h1m1 0h1m8 0h1m-23 1h1m-3 1h2m-8 1h1m24 0h1m3 0h1m-22 1h1m-2 1h1m3 1h1m4 0h2m9 0h1m-24 1h1m1 0h1m13 0h1m-30 1h1m33 0h1m6 0h1m-26 1h1m-25 1h1m7 0h1m29 0h1m5 0h1m-34 1h1m22 0h1m-46 1h1m36 0h1m8 0h1m-31 1h1m11 0h1m-17 1h1m12 0h1m32 1h1m-50 1h1m18 0h1m8 0h1m13 0h1m4 0h1m-65 1h1m15 0h1m10 0h1m15 0h1m-42 1h1m16 0h1m4 0h1m17 0h1m5 0h1m-38 1h1m3 0h1m4 0h1m17 0h1m34 0h1m-74 1h1m15 0h1m43 0h1m13 0h1m-77 1h1m9 0h1m24 0h1m2 0h1m2 0h1m34 0h1m-64 1h1m7 0h1m2 0h1m2 0h1m8 0h1m28 0h1m6 0h1m-54 1h1m49 0h1m6 0h1m-77 1h1m10 0h1m19 0h1m8 0h1m1 0h1m24 0h2m-53 1h1m12 0h1m5 0h2m15 0h1m-11 1h1m9 0h1m-58 1h1m19 0h1m6 0h1m2 0h1m26 0h1m20 0h1m-79 1h1m28 0h1m19 0h1m4 0h1m-47 1h1m17 0h1m3 0h2m2 0h1m2 0h1m20 0h1m-52 1h1m6 0h1m5 0h1m5 0h2m-26 1h1m1 0h1m17 0h1m2 0h1m2 0h1m9 0h1m7 0h1m1 0h1m-22 1h1m12 0h1m9 0h1m4 0h1m1 0h1m-56 1h2m24 0h1m14 0h1m10 0h1m4 0h1m-44 1h1m14 0h1m3 0h1m1 0h1m16 0h1m-53 1h1m34 0h1m-40 1h1m6 0h1m25 0h1m8 0h1m9 0h1m-47 1h3m8 1h1m26 0h1m6 0h1m-22 1h1m22 0h1m-52 1h1m24 0h1m15 0h1m26 0h1m-56 1h1m3 0h1m9 0h1m2 0h1m14 0h1m3 0h1m-52 1h1m19 0h1m14 0h1m1 0h1m3 0h1m17 0h1m-33 1h1m11 0h1m43 0h1m-81 1h1m9 0h1m17 0h1m28 0h1m-114 1h2m50 0h1m1 0h2m19 0h1m8 0h1m6 0h1m18 0h1m1 0h1m-63 1h1m9 0h1m12 0h1m8 0h1m15 0h1m30 0h2m7 0h1m2 0h1m-68 1h1m4 0h1m1 0h1m7 0h1m5 0h1m28 0h1m6 0h1m-138 1h1m2 0h1m1 0h1m49 0h1m3 0h1m17 0h1m13 0h1m6 0h1m1 0h1m19 0h1m6 0h1m-127 1h2m2 0h1m58 0h1m11 0h1m2 0h1m7 0h1m48 0h1m2 0h1m5 0h1m-75 1h1m25 0h1m2 0h1m1 0h1m11 0h1m28 0h1m1 0h1m-72 1h2m15 0h1m1 0h1m18 0h1m23 0h1m-77 1h1m18 0h2m6 0h1m8 0h1m20 0h1m2 0h1m6 0h1m5 0h1m9 0h1m-83 1h1m22 0h1m14 0h1m5 0h1m5 0h1m2 0h1m1 0h1m-106 1h1m103 0h1m-100 1h2m58 0h1m7 0h1m13 0h1m16 0h1m3 0h1m2 0h2m-111 1h1m2 0h1m32 0h1m37 0h1m14 0h1m12 0h3m4 0h2m13 0h1m-130 1h1m61 0h1m19 0h1m23 0h1m12 0h1m-19 1h1m13 0h1m18 0h1m-127 1h1m29 0h1m28 0h1m1 0h1m1 0h1m7 0h1m19 0h1m7 0h1m11 0h1m-123 1h1m11 0h1m55 0h1m16 0h1m17 0h1m7 0h1m8 0h1m14 0h1m-72 1h1m3 0h1m5 0h2m27 0h1m17 0h1m-18 1h1m-65 1h1m15 0h1m24 0h1m5 0h1m-88 1h1m71 0h1m12 0h1m44 0h1m-89 1h1m4 0h1m7 0h1m29 0h1m32 0h1m-78 1h1m6 0h2m29 0h1m39 0h1m-125 1h1m48 0h1m14 0h1m53 0h1m8 0h1m2 0h1m2 0h1m-82 1h1m7 0h1m23 0h1m41 0h1m1 0h1m-99 1h1m30 0h1m13 0h1m3 0h1m52 0h2m-88 1h1m12 0h1m3 0h1m55 0h1m8 0h1m3 0h1m-68 1h1m15 0h1m46 1h1m2 0h1m-126 1h1m64 0h1m54 0h1m-103 1h1m24 0h1m22 0h2m51 0h1m-137 1h1m7 0h1m24 0h1m23 0h2m18 0h1m5 0h2m36 0h1m-98 1h1m-6 1h1m7 0h1m55 0h1m38 0h2m13 0h1m-132 1h1m13 0h1m9 0h1m30 0h1m2 0h1m21 0h1m-85 1h1m15 0h1m10 0h1m41 0h1m8 0h1m-67 1h1m9 0h1m6 0h1m5 0h1m3 0h1m35 0h1m-79 1h1m2 0h1m14 0h1m6 0h1m11 0h1m24 0h1m12 0h1m2 0h2m15 0h2m33 0h1m3 0h1m-115 1h1m12 0h1m52 0h1m4 0h1m1 0h1m-60 1h2m10 0h1m33 0h1m15 0h1m15 0h1m1 0h1m-113 1h1m14 0h1m3 0h1m1 0h1m108 0h1m-101 1h2m12 0h2m71 0h1m-118 1h1m39 0h1m6 0h1m11 0h1m48 0h1m1 0h2m7 0h1m6 0h1m-89 1h1m41 0h1m9 0h1m20 0h1m18 0h1m-125 2h1m32 0h1m11 0h1m16 0h2m9 0h1m11 0h1m17 0h1m5 0h1m-116 1h1m21 0h1m2 0h1m36 0h1m5 0h1m2 0h2m39 0h1m1 0h3m-93 1h1m7 0h1m39 0h1m12 0h1m27 0h1m1 0h1m-90 1h1m1 0h2m39 0h1m1 0h1m46 0h2m-82 1h1m13 0h1m14 0h1m-37 1h1m32 0h1m25 0h1m-36 1h1m3 0h1m14 0h1m41 0h1m-77 1h1m19 0h1m60 0h1m-78 1h1m20 0h1m42 0h1m-102 1h1m7 0h1m37 0h1m22 0h1m30 0h1m-72 1h1m3 0h1m7 0h1m22 0h1m5 0h1m26 0h1m8 1h2m-126 1h1m47 0h1m19 0h1m19 0h1m7 0h1m9 0h1m8 0h1m-66 1h1m7 0h2m22 0h1m6 0h1m-80 1h1m45 0h1m2 0h1m5 0h1m24 0h1m1 0h1m-50 1h1m7 0h1m9 0h1m30 0h1m17 0h2m1 0h1m-47 1h1m7 0h1m15 0h1m9 0h1m9 0h1m-112 1h1m2 0h1m77 0h1m15 0h1m20 0h1m-83 1h1m80 0h1m-105 1h1m19 0h2m44 0h1m-71 1h1m14 0h1m33 0h1m28 0h2m-88 1h1m44 0h1m18 0h1m3 0h1m4 0h1m5 0h1m23 0h1m-111 1h1m10 0h1m43 0h1m5 0h1m45 0h1m5 0h1m2 0h1m-117 1h3m10 0h1m71 0h1m25 0h1m7 0h1m-104 1h1m2 0h1m3 0h1m34 0h1m24 0h1m4 0h1m5 0h1m-88 1h1m9 0h1m8 0h1m54 0h1m5 0h1m2 0h1m11 0h1m3 0h1m-104 1h1m7 0h1m10 0h1m31 0h1m21 0h1m12 0h1m9 0h1m2 0h1m-63 1h1m44 0h1m1 0h3m12 0h1m7 0h1m-104 1h1m5 0h1m26 0h1m3 0h1m36 0h1m7 0h1m9 0h1m-84 1h1m1 0h1m5 0h1m77 0h2m-81 1h1m61 0h1m-80 1h1m4 0h1m25 0h1m36 0h1m18 0h1m2 0h1m3 0h1m3 0h1m-98 1h1m12 0h2m7 0h1m21 0h1m28 0h2m20 0h1m-96 1h2m5 0h1m11 0h1m26 0h1m19 0h1m1 0h1m-68 1h1m8 0h1m2 0h1m1 0h2m36 0h1m8 0h1m-43 1h1m5 0h1m13 0h1m5 0h2m13 0h1m23 0h1m-67 2h1m-9 1h1m1 0h1m11 0h1m4 0h1m-18 1h1m8 0h1m-6 1h1m4 0h1m5 0h1m-20 1h1m7 1h1m0 1h1"/>
<path stroke="#2A788E" d="M134 3h1m-20 3h1m6 0h1m6 0h1m1 1h1m2 0h1m-38 1h1m7 0h1m6 0h1m20 1h1m-2 2h1m-37 1h1m4 0h1m12 0h1m-13 1h1m2 0h1m4 0h2m3 0h1m-2 1h1m7 0h2m12 0h1m-30 1h1m26 0h1m-26 1h1m15 0h1m2 0h1m2 0h1m4 0h1m-29 1h1m-6 1h1m6 0h1m22 0h1m-25 2h2m13 0h1m11 0h1m-39 1h1m42 1h1m-33 1h1m25 0h1m-41 1h1m14 0h1m-14 1h1m33 0h1m-16 1h1m3 0h1m-11 1h1m-24 1h1m32 0h1m-42 1h1m8 0h1m9 0h1m2 1h1m9 0h1m14 0h1m-50 1h1m12 0h1m11 0h1m4 0h1m4 0h1m15 0h1m12 0h1m-69 1h1m15 0h1m2 0h1m30 0h1m-21 1h1m-32 1h1m13 0h1m15 0h1m-18 1h1m4 0h1m1 0h1m18 0h1m7 0h1m21 0h1m-58 1h1m5 0h1m2 0h1m15 0h1m-41 1h1m17 0h1m-11 1h1m11 0h1m15 0h1m10 0h1m-48 1h1m5 0h1m4 0h1m5 0h1m48 0h2m-65 1h1m2 0h1m30 0h2m2 0h2m18 0h1m7 0h1m5 0h1m-39 1h1m7 0h1m26 0h1m-70 1h2m65 0h1m-71 1h1m28 0h1m17 0h1m2 0h1m-44 1h1m25 0h1m1 0h1m6 0h2m1 0h1m-34 1h1m19 0h1m36 0h2m3 0h1m-99 1h1m35 0h1m33 0h1m-28 1h1m6 0h1m12 0h1m-11 1h3m2 0h1m5 0h1m-23 1h1m16 1h1m17 0h1m-46 1h1m24 0h2m8 0h1m3 0h1m-28 2h1m4 0h1m1 0h1m2 0h1m3 0h1m-24 1h1m14 0h1m-4 1h1m13 0h1m4 0h1m-52 1h1m3 0h1m9 0h1m40 0h1m-48 1h1m2 0h1m3 0h1m6 0h1m34 0h2m-43 1h1m24 0h1m5 0h1m44 0h1m-61 1h1m4 0h1m23 0h1m22 0h1m4 0h1m-62 1h1m8 0h1m5 0h1m-96 1h1m52 0h1m23 0h1m8 0h1m2 0h1m1 0h1m3 0h1m13 0h1m-50 1h1m13 0h1m1 0h1m8 0h1m8 0h1m-64 1h1m62 0h1m12 0h1m23 0h1m-138 1h2m7 0h1m54 0h2m12 0h1m5 0h1m4 0h3m2 0h1m-32 1h1m5 0h1m7 0h1m14 0h1m9 0h1m33 0h1m4 0h2m-18 1h1m6 0h1m10 0h1m-84 1h1m4 0h1m48 0h1m19 0h1m12 0h1m-147 1h1m4 0h1m115 0h1m4 0h1m1 0h1m5 0h1m-131 1h1m67 0h1m20 0h1m1 0h1m20 0h1m12 0h1m-69 1h1m19 0h1m2 0h1m28 0h1m11 0h1m-53 1h1m14 0h1m3 0h1m23 0h1m-114 1h1m72 0h2m25 0h1m41 0h1m-148 1h2m8 0h1m31 0h1m29 0h1m54 0h1m1 0h1m4 0h1m9 0h2m-62 1h1m2 0h1m5 0h1m21 0h1m-56 1h1m2 0h1m2 0h1m7 0h1m38 0h1m13 0h1m9 0h1m4 0h1m3 0h1m-77 1h1m32 0h1m14 0h1m2 0h1m20 0h1m-132 1h1m38 0h1m19 0h1m34 0h1m11 0h1m4 1h1m-61 1h1m20 0h1m42 0h1m8 0h1m7 0h1m-138 1h1m50 0h1m16 0h1m9 0h1m6 0h1m11 0h1m12 0h1m3 0h1m6 0h1m1 0h1m-79 1h1m30 0h1m30 0h1m3 0h1m12 0h2m7 0h1m2 0h1m-91 1h2m29 0h1m28 0h1m4 0h1m2 0h2m-65 1h1m26 0h1m47 0h1m5 0h1m-91 1h1m8 0h1m3 0h1m5 0h1m15 0h1m43 0h2m-99 1h1m21 0h1m1 0h1m81 0h1m-97 1h1m13 0h2m8 0h1m56 0h1m-73 1h1m74 0h1m-127 1h1m75 0h1m5 0h1m35 0h1m-52 1h1m47 0h1m15 0h1m-55 1h1m54 0h1m-70 1h1m52 0h1m-39 1h1m52 0h1m-79 1h1m58 0h1m3 0h1m11 0h1m2 0h1m1 0h1m-58 1h1m35 0h1m5 0h1m7 0h1m-111 1h1m1 0h1m3 0h1m-6 1h1m2 0h1m52 0h1m1 0h1m1 0h1m-59 1h1m5 0h1m-24 1h1m65 0h1m55 0h2m-114 1h2m10 0h1m1 0h1m25 0h1m70 0h1m4 0h1m-103 1h1m1 0h1m60 0h1m30 0h1m-33 1h1m19 0h1m-107 1h1m20 0h1m2 0h1m52 0h1m8 0h1m-73 1h1m3 0h1m21 0h1m25 0h1m4 0h1m3 0h1m8 0h1m15 0h1m4 0h1m4 0h1m-75 1h1m66 0h1m7 0h1m-66 1h1m19 0h1m34 0h1m7 0h1m1 0h1m-72 1h1m39 0h1m23 0h1m3 0h1m-108 1h1m35 0h1m-15 1h1m50 0h1m33 0h1m-45 1h1m1 0h1m1 0h1m-53 1h1m18 0h1m14 0h1m12 0h1m48 0h1m1 0h1m-107 1h1m8 0h1m12 0h1m15 0h1m66 0h1m2 0h1m-116 1h1m18 0h1m90 0h1m-111 1h1m19 0h1m45 0h1m21 0h1m11 0h1m-75 1h2m13 0h1m6 0h1m10 0h1m10 0h1m4 0h1m-60 1h1m28 0h1m49 0h1m5 0h1m-91 1h1m24 0h1m-53 1h1m59 0h1m-16 1h1m38 0h1m36 0h1m-78 1h2m50 0h1m20 0h1m4 0h1m-84 1h1m11 0h1m30 0h1m6 0h1m10 0h1m11 0h1m3 0h1m-111 1h1m29 0h1m9 0h1m16 0h1m31 0h1m13 0h1m-44 1h1m43 0h1m-29 1h1m4 0h1m27 0h1m-120 1h1m61 0h2m4 0h1m29 0h1m5 0h1m7 0h1m-52 1h1m26 0h1m14 0h1m-59 1h1m63 0h1m-108 1h1m3 0h1m98 0h1m9 0h1m-110 1h1m6 0h1m38 0h1m17 0h1m27 0h2m5 0h1m-92 1h1m36 0h1m-47 1h1m3 0h1m74 0h1m21 0h1m-30 1h1m24 0h1m7 0h1m-104 1h1m1 0h1m20 0h1m-21 1h1m65 0h1m22 0h1m-102 1h1m-1 1h1m3 0h1m9 0h1m-5 2h1m5 0h1m3 0h1m24 0h1m37 0h1m12 0h1m-92 1h1m3 0h1m11 0h1m2 0h1m-20 1h1m1 0h1m15 0h1m31 0h1m40 0h1m-86 1h1m4 0h2m4 0h1m-12 1h1m4 0h1m-15 1h1m13 0h1m2 0h2m20 0h1m39 0h2m-74 1h1m61 0h1m-63 1h1m23 0h1m-23 1h2m6 0h2m2 0h1m2 0h1m6 0h2m-24 1h1m9 0h1m5 0h1m-22 1h1m21 0h1m-8 1h1m7 0h1m-10 1h1m2 0h1"/>
<path stroke="#21908C" d="M121 3h1m5 1h1m3 0h1m-5 1h1m-27 1h1m26 0h1m-18 2h1m1 0h1m2 0h1m-20 1h1m7 0h1m4 0h1m20 0h1m-26 1h1m5 0h1m-16 1h1m8 0h1m24 1h1m1 0h1m-33 1h1m12 0h1m-8 1h2m28 1h1m-24 2h1m12 0h1m-43 2h1m38 0h1m-9 1h1m-34 1h1m23 0h1m1 0h1m26 0h2m-55 1h1m29 0h1m18 0h1m-23 1h1m25 0h1m-23 1h1m19 0h2m-16 1h2m10 1h1m-19 1h1m14 0h1m-24 1h1m-4 1h1m4 0h1m21 0h1m1 1h1m-18 2h1m-26 2h1m7 0h1m36 0h1m-40 1h1m3 0h1m1 0h1m19 0h1m7 0h1m-21 1h1m-40 1h1m20 0h1m1 0h1m17 0h2m-20 1h1m20 0h1m-29 1h1m20 0h1m2 0h1m1 0h1m-24 1h1m26 0h1m19 0h1m-70 1h1m3 0h1m13 0h1m7 0h1m3 0h1m12 0h1m31 0h1m-63 1h1m5 0h1m12 0h1m3 0h1m1 1h1m-38 1h1m28 0h1m44 0h1m-72 1h1m26 0h1m8 0h1m-48 1h1m47 0h2m8 0h1m-53 1h2m4 0h1m7 0h1m28 0h1m6 0h1m-55 1h1m9 0h1m4 0h1m7 0h1m15 0h1m10 0h1m-21 1h1m14 0h1m8 0h1m-1 1h1m-14 1h2m-44 1h1m2 0h1m1 0h1m4 0h1m24 0h1m-34 1h1m7 0h1m6 0h1m8 0h1m-26 1h1m51 0h1m-21 1h1m16 0h1m2 0h1m5 0h1m-51 1h1m3 0h1m3 0h1m29 0h1m-48 1h1m45 0h1m3 0h1m2 0h2m-107 1h1m89 0h1m18 0h1m-14 1h1m-23 1h1m9 0h1m10 0h1m-44 1h1m1 0h1m10 0h1m7 0h2m-23 1h1m54 0h1m-45 1h1m64 0h1m1 0h1m3 0h1m6 0h1m-91 1h2m78 0h1m9 0h1m-95 1h1m3 0h1m10 0h1m22 0h1m35 0h1m5 0h1m2 0h1m4 0h1m-84 1h2m1 0h1m62 0h1m11 0h1m-39 1h1m18 0h1m-7 1h1m20 0h1m-9 1h1m11 0h2m-134 1h1m57 0h1m81 0h1m-144 1h1m87 0h1m30 0h1m15 0h1m4 0h1m-71 1h1m25 0h1m18 0h1m23 0h1m-139 1h1m67 0h1m47 0h1m-36 1h1m48 0h1m-48 1h1m30 0h1m6 0h1m20 0h1m-59 1h1m32 0h1m23 0h1m-99 1h1m57 0h1m23 0h1m3 0h1m4 0h1m3 0h1m-21 1h1m14 0h1m-91 1h1m42 0h1m50 0h1m-92 1h1m21 0h1m8 0h1m34 0h1m12 0h1m2 0h1m1 0h1m3 0h1m-76 1h1m59 0h1m1 0h1m-122 1h1m50 0h1m1 0h2m58 0h1m18 0h1m-80 1h1m67 0h1m-40 1h1m44 0h1m3 0h1m1 0h1m-54 1h1m-42 1h1m12 0h1m2 0h1m61 0h1m-46 1h1m-26 1h1m2 0h1m17 0h1m3 0h1m-48 1h1m24 0h1m15 1h1m10 0h1m-29 1h1m10 0h1m-55 2h1m60 0h1m3 0h1m38 0h1m-106 1h1m37 0h1m16 0h1m6 0h1m41 0h2m-65 1h1m62 0h1m-106 1h1m110 0h1m-53 1h1m-73 1h1m1 0h1m11 0h1m15 0h1m41 0h1m13 0h1m30 0h1m-113 1h1m33 0h2m28 0h1m3 0h1m-82 1h1m81 1h1m6 0h1m1 0h2m33 0h1m-102 1h1m6 0h1m2 0h1m-21 1h1m107 0h1m-72 1h1m29 0h1m-58 1h1m45 0h1m50 0h1m-43 1h1m34 0h1m-70 1h1m32 0h1m3 0h1m35 0h1m2 0h1m-67 1h1m4 0h1m21 0h1m32 0h1m-90 2h1m30 0h1m2 0h1m63 0h1m-92 1h1m21 0h1m4 0h1m50 0h1m16 0h1m-18 1h1m11 0h1m-47 1h1m33 0h1m2 0h1m5 1h1m-71 1h1m65 0h1m-76 1h1m78 1h1m-51 2h1m17 0h1m-96 1h1m89 0h1m24 1h2m-50 1h1m34 0h1m13 1h1m-44 1h1m4 0h1m6 0h1m14 0h1m9 0h1m-111 1h1m11 0h1m35 0h1m29 0h1m-1 1h1m26 0h1m4 0h2m-114 1h1m104 0h1m-34 1h1m13 0h1m24 0h1m-38 1h1m1 0h1m4 0h1m17 0h1m2 0h1m-99 1h1m4 0h1m45 0h1m18 0h1m34 0h1m-114 1h1m59 0h1m18 0h1m7 0h1m-86 1h1m77 0h1m5 0h1m-75 1h1m69 0h1m-81 1h1m13 0h1m88 0h1m1 0h1m-83 1h1m1 0h1m57 0h1m-37 1h1m-28 1h1m64 0h1m-74 1h1m7 0h1m63 0h1m-74 1h1m36 0h1m17 0h1m23 0h1m5 0h1m-92 1h1m2 0h1m7 0h1m3 0h1m-15 1h1m14 0h1m-12 1h1m57 0h1m-65 1h1m2 0h1m8 0h2m18 0h1m7 0h1m11 0h1m-50 1h1m65 0h1m-65 1h1m5 1h1m6 1h1m3 0h1m-16 1h1m17 0h1m-11 2h1"/>
<path stroke="#22A884" d="M110 2h1m6 0h1m-9 1h1m12 0h1m4 0h1m5 0h1m-20 1h2m10 0h1m7 1h1m-15 1h1m-22 1h1m21 0h1m-26 2h1m35 0h1m1 0h1m-39 1h1m23 0h1m7 0h1m-34 1h1m9 0h1m-12 1h1m9 0h1m7 0h1m-2 2h1m1 0h1m11 0h1m-39 2h1m27 1h1m-31 1h1m37 0h1m8 0h1m-49 1h1m40 0h2m-42 1h1m-2 1h1m31 0h2m12 0h1m-24 1h1m7 0h1m-10 1h1m9 1h1m19 0h1m-20 1h1m7 0h1m4 0h1m-28 1h1m6 0h1m6 0h1m10 1h1m-51 2h1m52 0h1m4 0h1m-41 1h1m16 1h1m20 0h1m-7 2h1m15 0h1m-1 1h1m-10 1h1m-41 1h1m4 0h1m5 0h1m1 0h1m-25 1h1m3 0h1m17 0h1m32 0h1m-50 1h1m2 0h1m14 0h1m-33 1h1m18 0h1m45 0h1m-29 1h1m-31 1h1m11 0h1m1 0h1m1 0h2m-55 1h1m22 0h1m8 0h1m38 0h1m-38 1h1m29 0h1m2 0h1m3 0h2m17 0h1m1 0h1m-55 1h1m7 0h1m49 0h1m1 0h1m-81 1h1m30 0h1m1 0h1m12 0h1m6 0h1m-54 1h1m15 0h1m7 0h1m2 0h1m3 0h1m4 0h1m4 0h1m2 0h1m2 0h1m-47 1h2m16 0h1m1 0h1m1 0h1m24 0h2m-27 1h1m5 0h2m10 0h1m1 0h1m6 0h1m-17 1h1m5 0h1m-12 1h2m10 0h1m5 0h1m-19 1h2m14 0h1m5 0h1m-55 1h1m34 0h1m19 0h1m3 0h1m-20 1h2m15 0h1m-45 1h1m26 0h1m3 0h1m3 0h1m8 0h1m-23 1h1m22 0h1m-14 1h1m-46 1h1m31 0h1m12 0h1m-102 1h1m69 0h1m35 0h1m38 0h1m-101 1h1m51 0h1m2 0h1m7 0h1m-31 1h1m17 0h1m42 0h1m-64 1h1m34 0h1m-115 1h1m60 0h1m16 0h1m2 0h1m61 0h1m-55 1h1m-29 1h2m53 0h1m24 0h1m1 0h1m1 0h1m-86 1h2m28 0h1m58 0h1m-78 1h1m69 0h1m-42 1h1m-97 1h1m56 0h1m5 0h1m75 0h1m1 0h1m-86 1h1m-58 1h2m93 0h1m4 0h1m13 0h1m21 0h1m-86 1h1m83 0h1m4 1h2m-25 1h1m7 0h2m-62 1h1m49 0h1m5 0h1m13 0h1m1 0h1m-53 1h1m47 0h1m-79 1h1m29 0h1m13 0h1m21 0h1m-78 1h1m7 0h1m-6 1h1m24 0h1m49 0h1m14 0h1m-137 1h1m49 0h1m7 0h1m7 0h1m51 0h1m15 0h1m3 0h1m-64 1h1m58 0h1m-126 1h1m38 0h2m53 0h1m8 0h2m-97 1h1m104 0h1m2 0h1m-66 1h1m55 0h1m12 1h1m-85 1h1m3 0h1m7 0h1m2 0h1m12 0h1m-17 1h1m8 0h1m50 0h1m-101 1h1m12 0h1m14 0h1m16 0h2m8 0h1m42 0h1m-87 1h1m26 0h1m12 0h1m-15 1h1m2 0h1m14 0h1m35 0h1m-52 1h1m12 0h1m50 0h1m-71 1h1m54 0h1m14 0h1m-131 1h1m49 0h1m23 0h1m40 1h1m3 0h1m-7 1h1m-115 1h1m17 0h1m55 0h1m39 0h1m-115 1h1m71 1h1m50 0h1m-130 1h1m77 0h1m13 0h2m1 0h1m-72 1h1m37 0h1m20 0h1m2 0h1m46 0h2m-106 1h1m49 0h1m3 0h1m25 0h1m16 0h1m-123 1h1m25 0h1m52 1h1m9 0h1m31 0h1m1 0h1m4 0h1m-104 1h1m44 0h1m7 0h1m48 0h1m-86 1h1m81 0h1m-106 1h1m23 0h1m8 0h1m22 0h1m8 0h1m-21 1h1m9 0h1m37 0h1m3 0h1m-8 1h1m-4 1h1m-43 2h1m48 0h1m-58 1h1m56 0h1m-109 1h1m1 0h1m18 0h1m35 0h1m52 0h1m-59 1h1m45 1h1m2 0h1m-92 1h1m2 0h1m84 0h1m6 1h1m-84 2h1m24 0h1m-67 1h2m44 0h1m69 0h1m0 1h1m-115 2h1m78 0h1m-80 1h1m59 0h1m-60 1h1m98 0h1m-104 2h1m102 0h1m-1 1h1m8 0h1m3 0h1m-118 1h1m1 0h1m74 0h2m-80 1h1m7 0h1m101 0h1m-111 1h1m2 1h1m78 0h1m25 0h1m-102 1h1m92 0h1m10 0h1m-108 2h1m2 0h1m3 0h1m-9 2h1m1 0h1m10 0h1m66 0h1m12 0h1m-94 2h1m8 0h3m-11 1h1m1 0h1m12 0h1m-8 1h1m7 0h1m-11 1h1m33 1h1m-38 1h1m3 0h1"/>
<path stroke="#43BF71" d="M112 2h1m1 0h1m-5 2h1m12 1h1m-24 1h1m32 0h1m-17 2h1m7 2h1m4 0h1m2 0h1m-3 1h1m-32 1h1m2 0h1m7 0h1m20 0h1m-31 2h1m8 1h1m4 1h1m12 0h1m-24 1h1m20 2h1m4 0h1m-9 2h1m-14 1h2m11 0h1m12 0h1m-31 1h1m8 0h1m-1 2h1m1 0h1m-10 1h1m-1 1h1m3 1h2m17 1h1m-44 1h1m22 0h1m18 0h1m-57 1h2m33 0h1m10 0h1m-48 1h1m53 0h1m-58 1h2m70 0h1m-73 1h1m19 0h2m24 0h1m-47 1h1m22 0h1m4 0h1m6 0h2m-38 1h2m1 0h1m17 0h1m5 0h1m15 0h1m20 0h1m-25 1h2m30 0h1m1 0h1m-73 1h1m18 0h1m5 0h1m3 0h1m4 0h1m24 0h1m-27 1h1m-13 1h1m3 0h1m16 0h1m-42 1h1m8 0h1m1 0h1m4 0h1m3 0h1m13 0h1m7 0h1m-28 1h1m9 0h1m8 0h1m1 0h1m1 0h1m4 0h1m21 0h1m1 0h1m2 0h1m-73 1h1m5 0h1m16 0h1m5 0h1m8 0h1m5 0h1m-39 1h1m19 0h1m7 0h1m13 0h1m-36 1h1m2 0h1m1 0h1m16 0h1m6 0h1m-21 1h1m3 0h1m-35 1h1m28 0h1m13 0h1m2 0h1m4 0h1m-47 2h1m30 0h1m12 0h1m-18 1h1m12 0h1m1 0h1m-35 1h1m15 0h1m6 0h1m18 0h2m-16 1h1m9 0h1m-28 1h1m25 0h1m2 0h1m2 0h1m-20 1h1m3 0h1m12 0h1m2 0h1m-24 1h1m-36 1h1m5 0h1m25 0h1m9 0h1m6 0h1m4 0h1m-37 1h1m3 0h1m3 0h1m15 0h1m-49 1h1m40 0h1m15 0h1m1 0h2m-57 1h1m22 0h1m1 0h1m13 0h1m17 0h1m-59 1h1m19 0h1m35 0h1m35 0h1m-65 1h1m-17 1h1m13 0h1m31 1h1m-43 1h1m1 0h1m64 1h1m-137 1h1m48 0h1m5 1h1m13 0h1m44 0h1m18 0h2m4 0h2m-73 1h1m-15 1h1m17 0h1m64 0h1m-64 1h1m60 0h1m-87 1h1m8 0h1m20 0h1m51 0h1m-54 1h1m55 0h1m-49 1h1m8 0h1m18 0h1m16 0h1m-85 1h1m74 0h1m4 0h1m-22 1h1m-108 1h1m133 0h1m5 0h1m-100 1h1m75 0h1m1 0h1m16 0h1m-93 1h2m14 0h1m71 0h1m-117 1h1m111 0h2m11 0h1m-142 1h1m78 0h1m39 0h2m12 0h1m4 0h1m1 0h1m-98 1h1m9 0h1m58 0h1m5 0h1m2 0h1m6 0h1m-24 1h1m-60 1h1m32 0h1m28 0h1m6 0h2m12 0h1m-84 1h4m9 0h1m20 0h1m5 0h1m32 1h1m-62 1h1m6 0h1m-33 1h2m18 0h1m5 0h1m58 0h1m-45 1h1m-25 1h1m7 0h1m8 0h1m11 0h1m32 0h1m14 0h1m-67 1h1m15 0h1m-34 1h1m67 1h1m-120 1h1m130 0h1m-58 1h1m56 0h1m-75 1h2m1 0h1m62 0h1m9 0h1m-114 1h1m39 0h1m12 0h1m-61 1h1m56 0h1m53 0h2m-116 1h1m10 0h1m57 0h1m43 0h1m3 0h1m-135 1h1m69 0h1m5 0h1m9 0h1m-84 1h1m92 0h1m-14 2h1m1 0h1m44 0h1m-129 1h2m89 0h1m35 0h1m-128 1h1m61 0h1m9 0h1m1 0h1m13 0h1m41 0h1m-43 1h1m33 0h1m3 0h1m-105 1h1m21 0h1m30 0h1m23 0h1m-69 1h1m9 0h1m31 0h1m-2 1h1m2 0h1m-49 1h1m17 0h1m77 0h1m-56 2h1m1 0h1m48 0h2m-45 1h1m46 0h1m-88 1h1m16 0h1m15 0h1m29 0h1m-17 1h1m-89 1h1m39 0h1m9 0h1m-29 1h1m85 0h1m7 0h1m3 1h1m-95 1h1m40 0h1m-43 1h1m52 1h1m29 0h1m-113 1h1m99 0h1m12 0h1m-5 1h1m1 0h1m-110 1h1m106 0h1m-24 1h1m-84 1h1m74 0h1m19 1h1m1 0h1m1 0h1m1 1h1m-29 1h1m36 0h1m-117 1h1m74 0h1m27 0h1m-26 1h1m21 0h1m-103 1h1m8 0h1m72 0h1m18 0h1m-98 1h2m9 0h1m-1 1h1m17 0h1m-21 1h1m-12 1h1m100 0h1m-8 1h1m-91 1h1m5 0h2m8 0h1m-20 1h1m15 0h1m78 0h1m-80 1h1m71 0h1m-42 2h1m-46 2h1m5 2h1m10 0h1m-10 1h1m7 1h1m1 0h1m-1 1h1m-7 2h1m4 0h1"/>
<path stroke="#7AD151" d="M114 1h3m-6 1h1m3 0h2m-9 1h1m1 0h1m12 0h2m5 0h3m-34 3h1m9 0h1m22 2h1m-21 1h1m9 0h1m2 0h1m-2 1h1m2 0h1m1 0h1m-19 1h1m16 0h1m-23 1h1m18 0h1m1 0h2m5 1h1m-44 1h1m14 0h1m2 0h1m14 0h1m-1 1h1m1 0h1m-19 1h1m1 1h1m14 0h1m-19 3h1m-8 1h1m7 1h1m7 0h1m11 0h1m-23 2h1m17 0h1m16 0h1m-33 1h1m3 0h2m-11 1h1m8 0h1m20 2h1m-23 1h1m20 0h1m-13 1h1m3 0h1m7 0h1m1 0h1m2 0h2m-42 1h1m20 0h1m13 0h1m-44 2h1m6 1h1m33 1h2m1 0h1m-49 1h2m11 0h1m-28 1h1m34 0h1m6 0h1m-46 1h1m15 0h1m26 0h1m27 0h1m-57 1h1m5 0h1m8 0h1m-32 1h1m7 0h1m6 0h1m1 0h1m5 0h1m2 0h1m-19 1h1m1 0h1m11 0h1m11 0h1m-6 1h1m-31 1h1m15 0h1m3 0h1m8 0h1m2 0h1m2 0h1m11 0h1m-15 1h1m14 0h3m-32 1h1m24 0h1m7 0h1m-51 1h1m15 0h2m15 0h1m3 0h1m-8 1h1m1 0h1m14 0h1m-6 1h1m-6 1h2m-2 1h1m-11 1h1m4 0h1m6 0h1m-31 1h1m6 0h1m16 0h1m6 0h1m-8 3h1m7 0h1m5 0h1m1 0h1m-38 1h2m14 0h1m1 0h1m7 0h1m2 0h1m2 0h1m-31 1h1m2 0h1m5 0h1m2 0h2m3 0h1m6 0h1m3 0h1m-29 1h1m6 0h1m1 0h1m12 0h2m10 0h1m-37 1h2m13 0h1m1 0h1m1 0h2m-39 1h1m31 0h1m-37 1h1m18 0h1m-21 1h1m27 0h1m-12 1h1m-69 1h2m95 0h1m-96 1h1m54 0h1m9 0h1m66 0h1m5 1h1m-78 1h1m34 0h1m27 0h1m-68 1h1m8 0h1m65 0h1m-81 1h1m53 0h1m-57 1h1m15 0h1m15 0h1m-13 1h2m3 0h1m18 0h1m25 0h2m-127 1h1m73 0h1m13 0h1m44 0h1m7 0h1m-69 1h1m62 0h1m1 0h1m6 0h1m-143 1h1m84 0h1m44 0h1m-2 1h1m-86 1h1m94 0h1m-146 1h1m5 0h1m6 0h1m51 0h1m43 0h1m-5 1h1m22 0h3m-129 1h1m52 0h1m1 0h1m3 0h1m11 0h1m14 0h1m29 0h1m6 0h1m2 0h1m7 0h1m1 0h1m-130 1h2m44 0h2m71 0h1m12 0h1m-134 1h1m112 0h1m15 0h1m-116 1h1m101 0h1m1 0h1m3 0h1m1 0h2m-110 1h1m19 0h2m77 0h1m4 0h1m-6 1h1m-44 1h1m35 0h1m-79 1h1m13 0h1m81 0h1m-74 1h1m65 0h1m-100 1h1m32 0h1m56 0h1m8 0h1m2 0h1m-86 1h1m28 0h1m-45 1h2m1 0h1m15 1h1m23 0h1m51 0h1m5 0h1m-135 1h1m53 0h2m75 0h1m1 1h1m-77 1h1m17 1h1m-65 1h1m58 0h1m-54 1h3m31 0h1m-41 1h1m66 0h1m11 0h1m-13 1h1m-75 2h1m60 0h1m8 0h1m2 0h2m24 0h1m18 0h1m-57 1h1m37 0h1m20 0h1m-45 1h1m37 0h1m-50 1h1m1 0h1m-34 4h1m79 0h1m0 1h1m-43 1h1m35 0h1m4 0h1m-77 1h1m4 0h1m6 0h1m46 0h1m9 0h1m-59 1h1m47 0h1m9 0h1m-91 1h1m31 0h1m58 0h1m-59 1h1m60 0h1m-67 2h1m5 0h1m-75 2h1m91 2h1m-44 1h1m66 0h1m0 1h1m-4 1h1m-109 2h1m58 0h1m40 0h2m-46 1h1m-56 1h1m105 0h1m2 0h1m-7 1h1m2 0h1m-105 1h1m-12 1h1m2 0h1m100 0h1m-105 1h1m-1 1h1m9 0h1m47 0h1m-56 1h2m101 0h1m-102 1h1m5 0h1m91 0h1m-92 1h1m-7 2h1m1 0h1m0 1h1m2 2h1m17 0h1m4 0h1m-13 1h1m-19 1h1m9 0h1m66 0h1m-80 1h1m11 0h1m7 0h1m-8 1h1m1 0h1m5 1h1m0 1h1m-17 1h1m8 0h1m1 0h1m4 1h1m-10 1h1m7 0h1m0 1h1m-7 1h1"/>
<path stroke="#BBDF27" d="M118 2h1m-12 1h1m17 0h1m-3 3h1m-2 1h1m4 0h1m-7 1h1m14 0h1m-11 1h1m-13 1h1m11 0h1m5 0h1m-21 1h1m1 0h1m-22 2h1m33 0h1m-18 1h1m-2 1h2m2 0h2m8 0h1m-17 1h1m5 0h1m19 1h1m-23 3h1m-1 1h1m5 1h1m-3 2h1m9 0h1m1 0h1m-4 1h1m8 1h1m-19 1h1m14 1h1m-2 2h1m-27 1h1m8 4h1m20 0h1m2 0h1m2 0h1m-3 1h1m-52 1h1m4 0h1m3 0h1m1 0h2m-12 1h2m10 0h1m7 0h1m-17 1h1m2 0h1m1 0h1m10 0h1m2 0h1m4 0h1m23 0h2m-42 1h1m9 0h1m5 0h2m-32 1h1m5 0h1m4 0h1m4 0h1m7 0h2m6 0h1m-51 1h1m15 0h2m6 0h4m7 0h1m9 0h1m1 0h2m-35 1h1m3 0h1m2 0h1m2 0h1m3 0h1m5 0h1m6 0h1m32 0h1m-74 1h1m19 0h1m5 0h3m10 0h1m1 0h1m-41 1h1m15 0h1m5 0h1m4 0h1m1 0h1m3 0h1m6 0h1m-37 1h2m14 0h2m3 0h1m4 0h1m1 0h1m1 0h1m3 0h1m8 0h1m25 0h1m-79 1h1m25 0h1m12 0h1m3 0h1m3 0h1m-21 1h2m11 0h1m1 0h1m5 0h1m-23 1h1m4 0h2m13 0h1m2 0h1m-38 1h1m19 0h1m5 0h1m4 0h1m1 0h1m4 0h1m-44 1h1m23 0h1m4 0h1m9 0h1m2 0h1m-50 1h1m1 0h1m19 0h1m18 0h1m16 0h1m-30 1h1m10 0h1m4 0h1m7 0h1m-54 1h1m20 0h1m22 0h1m1 0h1m-54 1h1m5 0h1m16 0h1m3 0h1m8 0h1m7 0h1m6 0h1m-37 1h1m10 0h1m5 0h3m1 0h1m2 0h1m11 0h1m11 0h1m-34 1h1m1 0h1m8 0h2m1 0h1m1 0h1m1 0h1m3 0h1m3 0h1m-30 1h1m1 0h1m7 0h2m-23 1h1m10 0h1m29 0h1m1 0h1m-42 1h1m2 0h1m1 0h1m1 0h1m35 0h1m-56 1h1m-61 1h1m109 1h1m-57 1h1m21 0h1m-72 1h1m60 1h3m66 0h1m7 0h1m-141 1h1m49 0h1m11 0h2m4 0h1m-19 1h1m6 0h1m1 0h1m1 0h1m3 0h1m63 0h1m-133 1h1m2 0h1m55 0h1m73 0h1m-82 1h1m20 0h1m-73 1h1m53 0h1m83 0h2m-139 1h1m50 0h1m17 0h1m15 0h1m52 0h1m-134 1h1m43 0h1m16 0h1m4 0h1m57 0h1m4 0h1m-132 1h1m43 0h1m50 0h1m22 0h1m7 0h1m10 0h2m-132 1h1m36 0h1m70 0h1m-106 1h1m109 0h2m6 0h1m11 0h1m-149 1h1m14 0h1m1 0h1m1 0h2m31 0h2m74 0h1m7 0h2m5 0h1m-142 1h2m10 0h1m5 0h1m55 0h1m-65 1h2m41 0h1m64 0h1m2 0h2m10 0h1m-130 1h1m14 0h2m25 0h1m13 0h1m56 0h2m14 0h1m-126 1h1m11 0h1m34 0h1m70 0h2m9 0h1m1 0h1m-120 1h1m103 0h1m1 0h1m-103 1h1m99 0h1m13 0h1m-115 1h1m17 0h1m12 0h1m8 0h1m53 0h1m-95 1h1m16 0h1m38 0h1m39 0h1m8 0h1m-105 1h1m16 0h1m7 0h1m-26 1h2m100 0h1m-8 1h1m-93 1h1m16 0h1m25 0h2m13 0h1m35 0h4m-81 1h1m16 0h1m9 0h2m42 0h1m5 0h1m3 0h1m-95 1h1m-2 1h1m38 0h1m6 0h1m-26 1h1m17 0h1m55 0h1m-73 1h1m12 0h1m43 0h1m8 0h1m5 0h1m-72 1h1m71 0h1m-73 1h1m69 0h1m-69 1h1m7 0h1m8 0h1m-51 1h1m32 0h2m14 0h1m52 0h1m-119 1h1m15 0h1m56 0h1m-23 1h1m7 0h2m1 0h2m-12 1h1m14 0h1m22 0h1m18 0h1m-110 1h1m61 0h1m4 0h1m23 0h1m18 0h1m-56 1h1m5 0h1m6 0h1m42 0h1m2 0h1m-123 1h1m54 0h1m8 0h1m2 0h1m-2 1h1m52 0h1m-6 1h1m5 0h1m-56 1h1m8 1h1m42 0h1m-1 1h1m-58 1h1m-51 2h1m29 2h1m47 0h1m7 1h1m5 0h1m3 0h1m-24 5h1m11 0h1m-50 1h1m29 0h1m-52 2h1m42 0h1m20 2h1m-105 1h1m99 0h1m-95 1h1m101 0h1m-116 1h1m107 0h1m6 0h1m-117 1h1m3 0h1m76 0h1m28 0h1m5 0h1m-117 1h1m6 0h1m74 0h1m17 0h2m-105 1h1m4 0h2m108 0h1m-111 1h1m101 0h1m-107 1h1m15 0h1m89 0h1m-90 1h1m38 0h1m49 0h1m-106 1h1m11 1h1m3 0h1m-13 1h1m94 0h1m-94 1h1m15 0h1m-10 1h2m1 0h1m5 0h1m-15 2h1m2 0h1m9 0h1m2 0h1m56 0h1m-59 1h1m-12 1h1m0 1h1m-3 1h1m-1 1h1m12 0h1m-10 1h1m9 0h1m-11 1h1m1 3h1"/>
<path stroke="#FDE725" d="M113 2h1m5 0h2m-1 1h1m7 0h2m0 4h1m-4 2h2m6 1h1m-10 1h1m-1 3h2m-20 1h1m25 3h1m-20 2h1m-1 3h1m-7 1h1m16 0h1m2 0h1m-15 1h1m7 0h1m-9 1h1m8 0h1m-21 1h1m12 0h1m13 0h2m1 0h1m1 0h1m-49 3h1m4 0h1m8 0h1m2 4h1m25 0h1m-34 2h1m8 0h1m-9 1h1m-8 1h1m2 0h2m1 0h1m1 0h1m10 0h1m2 0h1m-32 1h1m5 0h1m2 0h1m4 0h2m39 0h1m-59 1h1m3 0h1m13 0h1m9 0h1m30 0h1m-48 1h1m15 0h1m7 0h1m22 0h2m-56 1h2m3 0h1m4 0h2m4 0h1m1 0h1m-22 1h1m3 0h1m3 0h1m49 0h1m-52 1h1m3 0h1m5 0h1m8 0h1m31 0h2m-42 1h1m2 0h1m3 0h1m8 0h1m25 0h1m-39 1h1m36 0h1m-37 1h1m-44 1h1m37 1h1m15 0h1m-5 1h1m3 0h1m-10 1h1m3 0h1m-17 1h1m5 0h1m4 0h3m3 0h1m-8 1h4m-25 1h1m21 0h2m-27 1h1m12 0h1m12 0h1m1 0h1m-18 1h1m2 0h1m5 0h1m-5 1h1m-13 1h1m10 0h1m2 0h1m54 0h1m-60 1h1m8 0h1m49 0h1m-55 1h1m16 0h1m36 0h1m-53 1h1m50 0h2m-151 1h1m72 0h1m75 0h1m-78 1h2m74 0h2m-78 1h1m75 0h1m-78 1h1m70 0h1m5 0h1m-81 1h2m18 0h1m11 0h1m46 0h2m-82 1h3m77 0h1m-84 1h2m81 0h1m-96 1h1m94 0h1m-143 1h1m50 0h1m2 0h1m87 0h1m-142 1h1m66 0h1m47 0h1m12 0h1m8 0h1m2 0h2m-190 1h4m44 0h2m42 0h2m21 0h1m26 0h1m33 0h1m3 0h1m7 0h1m-189 1h1m2 0h2m86 0h1m42 0h1m6 0h1m23 0h1m10 0h1m4 0h2m5 0h1m-190 1h2m3 0h3m97 0h1m56 0h1m11 0h1m2 0h1m10 0h2m-190 1h1m6 0h1m97 0h1m23 0h1m46 0h1m2 0h1m8 0h1m-189 1h1m6 0h1m30 0h1m19 0h1m46 0h1m70 0h2m1 0h1m1 0h1m6 0h1m-191 1h3m6 0h1m27 0h4m2 0h1m13 0h1m109 0h2m10 0h1m3 0h1m5 0h2m-193 1h3m8 0h2m24 0h3m24 0h1m99 0h2m15 0h1m2 0h1m5 0h2m-191 1h2m9 0h1m23 0h2m9 0h1m116 0h1m16 0h1m3 0h1m4 0h2m-190 1h1m9 0h4m18 0h3m18 0h1m6 0h1m119 0h1m6 0h2m-189 1h2m11 0h5m13 0h2m14 0h3m112 0h1m22 0h2m-186 1h2m14 0h15m34 0h1m21 0h1m75 0h1m6 0h1m8 0h3m1 0h2m-184 1h2m167 0h3m8 0h2m-181 1h1m80 0h1m78 0h1m7 0h2m3 0h1m4 0h2m-180 1h2m63 0h1m14 0h1m1 0h1m9 0h1m10 0h1m59 0h1m1 0h2m1 0h1m8 0h2m-178 1h1m76 0h1m1 0h1m40 0h1m41 0h3m1 0h1m8 0h2m-177 1h1m81 0h1m78 0h1m1 0h2m9 0h2m-176 1h2m63 0h1m8 0h1m8 0h1m25 0h1m7 0h1m42 0h1m1 0h2m2 0h1m6 0h2m-174 1h1m70 0h2m44 0h1m53 0h2m-173 1h2m43 0h1m25 0h1m12 0h2m75 0h2m5 0h1m1 0h1m-170 1h1m47 0h1m18 0h2m17 0h2m72 0h1m1 0h1m5 0h2m-170 1h1m162 0h1m4 0h1m-169 1h2m86 0h1m79 0h1m-168 1h1m163 0h4m-168 1h1m52 0h1m110 0h1m1 0h1m-167 1h2m47 0h1m115 0h1m-165 1h1m90 0h1m71 0h2m-165 1h1m110 0h1m50 0h2m-164 1h2m64 0h1m26 0h1m67 0h2m-162 1h1m32 0h1m60 0h1m11 0h1m45 0h1m2 0h1m4 0h1m-161 1h1m104 0h1m49 0h1m2 0h2m-160 1h2m42 0h1m50 0h1m1 0h1m4 0h2m1 0h1m51 0h3m-159 1h1m94 0h1m3 0h3m54 0h2m-158 1h2m102 0h1m50 0h2m-156 1h1m153 0h1m-155 1h2m135 0h1m15 0h1m-153 1h2m133 0h1m10 0h1m4 0h2m-152 1h1m148 0h2m-151 1h2m146 0h2m-149 1h2m143 0h3m-147 1h1m65 0h1m10 0h1m10 0h1m6 0h1m49 0h1m-145 1h1m75 0h1m57 0h1m7 0h2m-144 1h2m139 0h2m-142 1h2m137 0h2m-140 1h2m135 0h2m-138 1h1m129 0h1m4 0h1m-136 1h2m132 0h1m-134 1h1m130 0h2m-133 1h1m119 0h1m9 0h2m-132 1h1m128 0h2m-131 1h1m90 0h1m36 0h2m-130 1h1m125 0h3m-129 1h1m124 0h2m-127 1h2m122 0h2m-125 1h1m112 0h1m8 0h2m-125 1h2m111 0h1m3 0h1m3 0h3m-124 1h1m119 0h2m-127 1h3m1 0h2m114 0h1m1 0h1m1 0h2m-126 1h1m1 0h3m5 0h1m76 0h1m25 0h1m8 0h3m-125 1h1m8 0h1m105 0h1m5 0h3m-124 1h1m10 0h1m100 0h1m7 0h2m-122 1h2m4 0h1m4 0h1m106 0h3m-120 1h2m2 0h2m110 0h2m-117 1h3m111 0h2m-115 1h1m11 0h1m98 0h2m-113 1h3m106 0h3m-110 1h1m3 0h1m100 0h3m-107 1h1m9 0h1m85 0h1m5 0h2m-104 1h2m96 0h4m-101 1h1m87 0h7m2 0h2m-100 1h2m86 0h2m5 0h4m-99 1h1m9 0h2m50 0h1m25 0h1m-89 1h1m1 0h1m42 0h4m12 0h5m13 0h6m3 0h1m-90 1h2m1 0h4m39 0h1m2 0h11m1 0h2m3 0h7m6 0h2m4 0h5m-90 1h4m2 0h1m1 0h1m37 0h1m9 0h1m2 0h3m10 0h4m3 0h1m-79 1h2m3 0h3m2 0h1m31 0h4m28 0h5m-79 1h2m3 0h1m2 0h1m2 0h1m30 0h1m-42 1h1m3 0h5m2 0h1m7 0h1m9 0h5m1 0h7m-34 1h4m12 0h6m3 0h3m-25 1h1m11 0h2m-15 1h4m5 0h5m-11 1h3m3 0h3m-8 1h6"/>
</g>
<use href="#seams" transform="translate(1182.70,349.900) scale(3.8,4.32292)"/>
<rect x="131.06" y="1072.0" width="827.8" height="69.1" fill="#D9D9D9"/>
<text x="545.0" y="1118.4" font-size="36.67" fill="#1A1A1A" text-anchor="middle">med</text>
<rect x="131.06" y="1141.1" width="827.8" height="727.7" fill="#EBEBEB"/>
<g stroke="#fff" stroke-width="4.45"><path d="M131.06 1169.70h827.8"/><path d="M131.06 1273.45h827.8"/><path d="M131.06 1377.20h827.8"/><path d="M131.06 1480.95h827.8"/><path d="M131.06 1584.70h827.8"/><path d="M131.06 1688.45h827.8"/><path d="M131.06 1792.20h827.8"/><path d="M331.95 1141.1v727.7"/><path d="M559.95 1141.1v727.7"/><path d="M787.95 1141.1v727.7"/></g>
<g transform="translate(332.00,1172.061) scale(3.8,4.32292)" fill="none" stroke-width="1.0">
<path stroke="#440154" d="M114 1h4m-10 1h13m-14 1h28m-28 1h29m-30 1h30m-37 1h38m-39 1h39m-40 1h40m-41 1h42m-42 1h42m-43 1h43m-44 1h45m-46 1h46m-48 1h48m-48 1h48m-52 1h52m-53 1h53m-54 1h55m-56 1h57m-58 1h58m-58 1h58m-58 1h59m-59 1h60m-60 1h60m-61 1h61m-61 1h62m-63 1h64m-65 1h65m-67 1h67m-67 1h67m-70 1h70m-72 1h72m-145 1h3m68 0h74m-145 1h4m67 0h74m-145 1h5m65 0h75m-145 1h6m64 0h75m-145 1h6m63 0h76m-145 1h6m63 0h76m-145 1h7m29 0h8m24 0h77m-145 1h8m27 0h9m24 0h77m-145 1h9m25 0h13m21 0h77m-145 1h9m24 0h14m20 0h78m-145 1h9m24 0h18m16 0h78m-145 1h9m24 0h21m6 0h2m2 0h81m-145 1h10m22 0h112m-144 1h10m22 0h103m6 0h3m-144 1h11m21 0h102m8 0h2m-144 1h11m21 0h102m-134 1h11m19 0h103m-133 1h11m17 0h104m-132 1h10m18 0h104m-132 1h9m17 0h105m-131 1h8m18 0h104m-130 1h8m17 0h105m-130 1h8m15 0h107m-130 1h8m13 0h109m-130 1h8m1 0h3m4 0h2m2 0h110m15 0h1m-146 1h132m12 0h11m-155 1h132m12 0h11m-155 1h132m12 0h11m-155 1h132m12 0h11m-155 1h135m9 0h10m-154 1h141m3 0h10m-154 1h153m-154 1h154m-154 1h154m-154 1h153m-153 1h153m-153 1h153m-153 1h153m-153 1h153m-190 1h4m33 0h152m-189 1h5m32 0h152m-190 1h8m30 0h152m-190 1h8m30 0h151m-189 1h8m30 0h151m-191 1h10m27 0h154m-193 1h13m24 0h155m-191 1h12m23 0h109m1 0h46m-190 1h14m18 0h110m3 0h44m-189 1h18m13 0h107m11 0h38m-186 1h135m14 0h36m-184 1h132m18 0h32m-181 1h130m20 0h30m-180 1h130m21 0h28m-178 1h129m22 0h26m-177 1h129m22 0h25m-176 1h127m24 0h24m-174 1h125m24 0h24m-173 1h124m25 0h22m-170 1h121m26 0h23m-170 1h121m26 0h22m-169 1h121m25 0h23m-168 1h120m25 0h23m-168 1h120m24 0h23m-167 1h121m23 0h22m-165 1h121m20 0h24m-165 1h122m12 0h30m-164 1h122m11 0h30m-162 1h121m11 0h29m-161 1h122m10 0h28m-160 1h123m9 0h28m-159 1h123m6 0h29m-158 1h157m-156 1h155m-155 1h154m-153 1h153m-152 1h151m-151 1h150m-149 1h148m-147 1h146m-145 1h144m-144 1h143m-142 1h141m-140 1h139m-138 1h136m-136 1h135m-134 1h133m-133 1h132m-132 1h131m-131 1h130m-130 1h129m-129 1h127m-127 1h126m-125 1h124m-125 1h124m-124 1h122m-127 1h3m1 0h122m-126 1h125m-125 1h124m-124 1h122m-122 1h121m-120 1h118m-117 1h116m-115 1h113m-113 1h112m-110 1h108m-107 1h104m-104 1h102m-101 1h99m-100 1h90m5 0h4m-99 1h89m-89 1h89m-90 1h47m2 0h14m3 0h15m4 0h5m-90 1h4m2 0h41m9 0h1m2 0h3m10 0h8m-79 1h2m3 0h41m28 0h5m-79 1h2m3 0h38m-42 1h1m3 0h38m-34 1h22m3 0h3m-25 1h14m-15 1h14m-11 1h9m-8 1h6"/>
<path stroke="#482576" d="M108 2h2m3 1h1m-6 1h1m4 0h1m3 0h1m5 0h1m1 0h1m2 0h1m1 0h1m1 0h1m-27 1h1m1 0h1m2 0h1m1 0h1m3 0h1m3 0h1m3 0h1m3 0h2m-29 1h1m3 0h3m3 0h1m1 0h1m10 0h1m1 0h1m2 0h1m1 0h1m1 0h1m-34 1h1m1 0h1m1 0h1m1 0h2m1 0h1m2 0h1m4 0h1m1 0h1m4 0h1m-22 1h1m2 0h1m7 0h1m7 0h1m1 0h1m3 0h3m-34 1h1m1 0h1m2 0h1m5 0h1m4 0h1m2 0h2m1 0h1m-23 1h2m5 0h1m4 0h1m10 0h2m11 0h1m-28 1h2m6 0h1m6 0h1m6 0h1m4 0h1m-40 1h1m1 0h3m2 0h1m7 0h1m2 0h1m1 0h1m3 0h1m14 0h1m1 0h1m-39 1h1m14 0h1m6 0h1m2 0h1m1 0h1m2 0h2m5 0h2m1 0h1m-39 1h2m16 0h1m2 0h1m7 0h1m1 0h2m1 0h2m-45 1h1m1 0h4m2 0h4m1 0h1m7 0h1m2 0h1m5 0h1m7 0h1m3 0h1m1 0h1m-45 1h1m9 0h1m2 0h2m11 0h2m3 0h2m3 0h1m5 0h1m1 0h1m-47 1h1m5 0h2m1 0h1m1 0h1m10 0h1m5 0h1m16 0h2m-48 1h1m8 0h1m10 0h1m3 0h2m1 0h1m3 0h1m6 0h1m2 0h2m8 0h1m-48 1h1m3 0h1m2 0h1m4 0h1m2 0h1m1 0h1m1 0h1m1 0h1m2 0h1m20 0h1m-54 1h1m1 0h1m2 0h2m4 0h2m2 0h1m1 0h1m1 0h1m4 0h1m18 0h2m1 0h1m-45 1h1m1 0h1m1 0h1m1 0h1m3 0h1m5 0h1m11 0h1m3 0h1m6 0h1m2 0h2m2 0h1m5 0h1m1 0h1m-56 1h1m3 0h2m6 0h1m12 0h1m10 0h1m1 0h1m1 0h1m1 0h1m1 0h1m6 0h1m2 0h1m-54 1h2m1 0h1m1 0h2m3 0h1m2 0h1m11 0h2m4 0h3m2 0h2m1 0h1m4 0h1m11 0h1m-59 1h1m1 0h2m5 0h1m4 0h1m3 0h2m1 0h1m2 0h1m3 0h1m5 0h1m2 0h1m8 0h1m1 0h1m6 0h1m-44 1h1m2 0h1m2 0h1m1 0h2m1 0h2m10 0h1m8 0h1m11 0h1m1 0h1m-57 1h1m2 0h1m1 0h1m2 0h1m3 0h1m29 0h2m5 0h1m7 0h1m-61 1h1m1 0h2m1 0h1m5 0h1m3 0h3m1 0h1m16 0h1m1 0h1m2 0h1m2 0h1m5 0h1m4 0h1m1 0h1m1 0h1m-63 1h1m1 0h2m4 0h1m1 0h1m2 0h1m5 0h1m2 0h1m2 0h1m2 0h1m6 0h1m5 0h1m3 0h1m2 0h2m2 0h1m3 0h1m1 0h1m-59 1h1m3 0h1m4 0h1m2 0h1m3 0h1m5 0h1m4 0h1m10 0h1m1 0h1m1 0h1m4 0h2m6 0h1m1 0h1m2 0h1m1 0h1m1 0h1m-60 1h1m5 0h2m1 0h1m2 0h1m1 0h2m13 0h1m1 0h1m1 0h1m15 0h1m6 0h1m2 0h1m-62 1h1m3 0h1m3 0h2m3 0h1m8 0h1m3 0h1m10 0h1m1 0h1m1 0h1m1 0h1m3 0h1m5 0h3m-61 1h2m4 0h1m3 0h1m4 0h1m1 0h2m14 0h1m2 0h1m1 0h1m1 0h1m1 0h1m14 0h1m7 0h2m-66 1h1m3 0h1m3 0h1m16 0h1m1 0h1m1 0h1m1 0h4m1 0h1m1 0h1m2 0h1m1 0h2m3 0h1m1 0h2m1 0h2m7 0h1m-64 1h2m3 0h1m4 0h1m7 0h1m2 0h1m1 0h1m6 0h1m1 0h1m11 0h1m9 0h2m3 0h1m2 0h2m-68 1h1m1 0h1m7 0h1m2 0h2m6 0h1m8 0h1m5 0h1m4 0h1m2 0h1m24 0h1m-68 1h1m1 0h1m4 0h1m1 0h1m2 0h1m3 0h1m8 0h1m1 0h1m1 0h1m5 0h1m2 0h1m2 0h1m1 0h2m1 0h2m3 0h1m1 0h2m4 0h1m2 0h1m4 0h2m-68 1h1m25 0h2m10 0h1m3 0h3m4 0h1m1 0h2m-54 1h1m32 0h1m8 0h1m4 0h1m1 0h1m3 0h1m2 0h1m-63 1h1m1 0h1m8 0h2m10 0h1m6 0h1m11 0h1m5 0h1m3 0h1m7 0h3m1 0h1m8 0h1m-75 1h2m2 0h2m3 0h2m6 0h1m1 0h1m29 0h2m9 0h1m1 0h1m3 0h1m-67 1h1m5 0h1m27 0h2m13 0h2m13 0h4m1 0h1m-95 1h1m26 0h1m2 0h1m1 0h1m28 0h1m7 0h1m6 0h1m8 0h1m1 0h1m5 0h1m-96 1h3m4 0h1m18 0h1m1 0h1m2 0h1m53 0h1m6 0h1m2 0h1m4 0h2m-100 1h2m5 0h2m12 0h1m12 0h1m1 0h1m22 0h1m2 0h1m14 0h1m3 0h1m3 0h2m4 0h1m1 0h1m-95 1h1m3 0h3m1 0h1m2 0h1m5 0h1m9 0h2m2 0h1m7 0h1m29 0h1m5 0h1m9 0h2m-89 1h1m8 0h3m3 0h1m8 0h1m9 0h1m2 0h1m4 0h2m41 0h1m-78 1h1m1 0h1m4 0h1m17 0h1m7 0h1m1 0h1m33 0h1m1 0h1m7 0h1m-88 1h1m1 0h1m2 0h1m1 0h1m3 0h1m4 0h1m3 0h1m5 0h1m1 0h1m10 0h1m3 0h1m3 0h1m6 0h1m12 0h1m6 0h1m4 0h4m5 0h1m-88 1h1m5 0h1m1 0h2m1 0h1m1 0h1m1 0h1m4 0h1m6 0h2m1 0h1m4 0h1m5 0h1m2 0h1m16 0h1m16 0h1m4 0h1m2 0h1m1 0h1m-90 1h1m1 0h1m9 0h2m2 0h1m1 0h3m2 0h1m3 0h1m1 0h1m1 0h1m12 0h2m1 0h1m8 0h1m25 0h1m1 0h1m1 0h2m-78 1h1m8 0h1m3 0h1m7 0h2m4 0h1m18 0h2m25 0h1m4 0h1m-87 1h1m9 0h1m1 0h4m1 0h1m14 0h1m5 0h1m5 0h1m3 0h1m26 0h1m9 0h1m-74 1h1m3 0h1m1 0h1m11 0h2m17 0h1m4 0h1m14 0h1m8 0h2m2 0h1m-75 1h1m4 0h1m8 0h2m3 0h1m1 0h2m9 0h1m3 0h1m4 0h1m9 0h1m8 0h2m3 0h1m2 0h1m2 0h1m-122 1h1m3 0h1m37 0h2m8 0h3m3 0h1m2 0h1m1 0h2m12 0h1m9 0h1m1 0h1m12 0h1m9 0h2m9 0h1m1 0h1m-124 1h1m38 0h1m12 0h1m1 0h1m1 0h1m1 0h1m18 0h1m3 0h1m1 0h1m1 0h1m14 0h1m-104 1h1m5 0h1m3 0h1m32 0h1m10 0h2m1 0h1m5 0h1m1 0h2m12 0h1m1 0h1m8 0h1m11 0h1m17 0h2m4 0h1m-126 1h1m1 0h1m57 0h1m2 0h1m1 0h1m1 0h1m2 0h3m3 0h1m1 0h4m8 0h1m18 0h1m10 0h1m6 0h2m14 0h3m4 0h1m1 0h1m-154 1h2m1 0h1m1 0h1m5 0h3m45 0h1m1 0h1m3 0h2m2 0h1m2 0h1m1 0h1m2 0h1m1 0h1m8 0h1m2 0h1m38 0h1m17 0h1m1 0h2m1 0h1m-150 1h1m7 0h2m32 0h2m22 0h1m1 0h1m1 0h1m2 0h1m8 0h1m20 0h1m13 0h1m2 0h1m1 0h1m18 0h1m2 0h3m-150 1h2m8 0h1m31 0h1m11 0h1m4 0h1m4 0h2m2 0h2m3 0h1m1 0h2m12 0h2m1 0h1m4 0h1m5 0h1m2 0h2m14 0h1m2 0h3m2 0h1m13 0h3m2 0h1m-141 1h1m33 0h3m9 0h1m3 0h1m8 0h1m2 0h1m2 0h1m3 0h1m7 0h4m12 0h1m3 0h1m10 0h1m3 0h1m2 0h1m2 0h2m1 0h1m-127 1h1m1 0h1m7 0h3m25 0h5m1 0h1m7 0h1m6 0h1m7 0h1m5 0h2m8 0h1m6 0h2m4 0h1m2 0h3m15 0h2m8 0h1m1 0h1m2 0h1m9 0h1m2 0h1m-147 1h1m1 0h1m5 0h1m1 0h1m27 0h2m3 0h1m2 0h1m8 0h1m5 0h1m6 0h1m1 0h1m8 0h1m3 0h2m8 0h1m5 0h1m1 0h1m9 0h1m11 0h1m2 0h1m-121 1h2m32 0h1m3 0h1m1 0h1m2 0h1m12 0h1m3 0h1m2 0h1m10 0h1m17 0h1m2 0h1m1 0h1m2 0h1m7 0h1m1 0h4m6 0h1m4 0h2m-138 1h1m9 0h3m1 0h1m4 0h2m24 0h1m1 0h1m6 0h2m1 0h1m2 0h1m6 0h1m1 0h1m9 0h1m1 0h1m4 0h1m1 0h1m3 0h1m4 0h1m1 0h1m9 0h1m5 0h1m2 0h2m4 0h1m2 0h1m6 0h1m-134 1h1m7 0h2m9 0h2m25 0h1m2 0h1m2 0h2m4 0h3m21 0h1m3 0h1m1 0h1m3 0h1m1 0h1m5 0h1m3 0h1m3 0h1m3 0h1m6 0h1m5 0h1m3 0h1m14 0h1m-145 1h1m9 0h1m2 0h1m1 0h1m1 0h1m21 0h1m2 0h4m5 0h1m1 0h1m3 0h3m2 0h1m15 0h1m3 0h3m1 0h1m3 0h3m3 0h1m3 0h1m6 0h1m6 0h1m6 0h1m3 0h2m6 0h2m4 0h1m2 0h2m6 0h1m-140 1h3m1 0h2m6 0h1m8 0h1m7 0h7m1 0h1m4 0h1m3 0h3m4 0h2m3 0h1m11 0h1m3 0h3m1 0h2m3 0h1m5 0h1m2 0h1m2 0h2m10 0h1m5 0h1m2 0h1m2 0h1m8 0h1m4 0h1m1 0h2m2 0h1m-150 1h2m8 0h2m2 0h1m3 0h1m1 0h3m16 0h1m1 0h3m5 0h5m12 0h1m4 0h1m1 0h1m3 0h1m7 0h1m1 0h1m3 0h1m1 0h1m2 0h1m2 0h1m1 0h1m1 0h2m2 0h2m5 0h1m7 0h1m1 0h1m1 0h1m15 0h1m3 0h1m2 0h1m-145 1h2m5 0h3m1 0h2m13 0h1m7 0h4m6 0h3m7 0h1m5 0h1m2 0h1m1 0h4m7 0h1m5 0h1m9 0h1m3 0h1m5 0h1m11 0h1m1 0h1m8 0h3m12 0h1m2 0h1m-147 1h1m5 0h1m2 0h1m1 0h1m3 0h1m2 0h1m14 0h1m4 0h2m7 0h1m6 0h1m6 0h1m8 0h1m7 0h1m1 0h1m1 0h1m8 0h1m2 0h2m8 0h1m3 0h2m2 0h1m8 0h1m3 0h2m6 0h1m-138 1h1m15 0h1m5 0h2m14 0h1m18 0h2m7 0h1m13 0h1m1 0h2m7 0h1m2 0h1m5 0h1m4 0h1m2 0h1m3 0h2m3 0h1m1 0h1m28 0h1m-148 1h4m1 0h1m8 0h1m4 0h2m2 0h1m1 0h1m21 0h1m9 0h1m9 0h1m5 0h2m3 0h1m1 0h1m1 0h2m2 0h1m3 0h1m5 0h2m3 0h2m4 0h1m4 0h1m1 0h1m14 0h4m9 0h1m1 0h1m2 0h1m-149 1h1m1 0h1m4 0h1m10 0h2m2 0h1m12 0h1m2 0h1m6 0h1m5 0h2m3 0h2m5 0h2m4 0h1m2 0h1m1 0h1m2 0h4m6 0h1m6 0h1m8 0h1m7 0h1m4 0h1m6 0h1m2 0h2m3 0h2m10 0h1m1 0h1m-144 1h1m6 0h1m2 0h1m1 0h1m1 0h1m1 0h1m3 0h1m19 0h1m1 0h1m3 0h1m2 0h1m9 0h1m3 0h2m1 0h1m13 0h1m4 0h2m6 0h1m3 0h1m4 0h1m3 0h1m5 0h2m2 0h1m3 0h1m11 0h1m-130 1h2m3 0h1m3 0h1m11 0h1m6 0h1m1 0h1m20 0h1m6 0h1m6 0h1m10 0h1m1 0h3m2 0h1m11 0h1m1 0h1m1 0h2m8 0h1m2 0h1m15 0h1m14 0h1m-138 1h1m6 0h1m14 0h1m4 0h2m5 0h1m1 0h1m9 0h1m2 0h2m1 0h1m6 0h1m11 0h1m2 0h1m17 0h1m17 0h1m15 0h1m-142 1h1m1 0h1m1 0h2m1 0h1m2 0h2m3 0h2m2 0h1m2 0h1m2 0h1m10 0h2m5 0h1m1 0h1m1 0h2m2 0h2m4 0h3m4 0h1m1 0h1m8 0h1m12 0h1m1 0h1m11 0h1m6 0h1m3 0h2m4 0h1m1 0h1m15 0h1m7 0h1m-143 1h1m15 0h1m1 0h1m1 0h1m1 0h1m3 0h1m4 0h1m1 0h1m8 0h1m1 0h2m1 0h1m4 0h2m7 0h1m3 0h1m5 0h1m11 0h1m8 0h1m2 0h1m11 0h1m1 0h1m4 0h1m1 0h2m10 0h1m-134 1h1m1 0h1m3 0h1m3 0h2m7 0h1m2 0h1m1 0h2m2 0h1m11 0h1m5 0h4m3 0h1m2 0h1m1 0h1m10 0h1m3 0h1m8 0h1m3 0h1m4 0h2m1 0h1m2 0h1m4 0h1m12 0h2m1 0h3m20 0h1m-137 1h2m1 0h1m1 0h1m1 0h1m8 0h2m4 0h2m4 0h1m3 0h4m6 0h2m2 0h1m4 0h1m8 0h1m3 0h1m2 0h1m3 0h1m6 0h1m5 0h2m3 0h1m1 0h1m1 0h1m1 0h2m16 0h1m2 0h1m5 0h1m14 0h1m6 0h1m-157 1h1m19 0h1m1 0h3m1 0h1m2 0h3m1 0h1m1 0h1m5 0h1m2 0h1m2 0h3m8 0h1m2 0h1m7 0h3m2 0h1m2 0h1m4 0h3m2 0h1m1 0h1m1 0h2m35 0h2m2 0h2m15 0h1m-151 1h1m6 0h1m5 0h1m1 0h1m2 0h1m10 0h2m1 0h3m9 0h1m10 0h3m16 0h1m3 0h1m1 0h1m1 0h1m1 0h1m2 0h1m1 0h2m5 0h1m1 0h1m33 0h1m-122 1h2m1 0h2m2 0h2m5 0h3m5 0h3m1 0h1m12 0h2m3 0h2m3 0h2m21 0h1m2 0h1m41 0h3m2 0h1m2 0h1m1 0h1m10 0h1m1 0h1m-153 1h1m5 0h1m1 0h2m2 0h1m4 0h1m3 0h1m1 0h1m2 0h2m3 0h1m1 0h1m1 0h1m10 0h1m3 0h1m2 0h1m11 0h2m16 0h1m1 0h1m1 0h1m6 0h1m1 0h1m6 0h1m26 0h1m1 0h2m2 0h1m13 0h1m-151 1h1m3 0h1m3 0h1m3 0h1m5 0h2m1 0h1m2 0h3m1 0h1m2 0h1m1 0h1m1 0h2m1 0h1m6 0h2m5 0h1m3 0h1m7 0h2m9 0h1m6 0h3m2 0h2m10 0h1m5 0h1m27 0h1m3 0h1m10 0h1m-147 1h1m13 0h2m2 0h1m2 0h2m3 0h1m2 0h1m1 0h1m1 0h1m1 0h4m1 0h1m3 0h1m14 0h1m3 0h2m13 0h1m1 0h1m1 0h3m11 0h1m4 0h3m24 0h1m17 0h1m-145 1h1m12 0h4m3 0h3m1 0h2m1 0h1m2 0h6m1 0h1m1 0h1m4 0h2m7 0h1m1 0h3m2 0h1m5 0h1m2 0h1m1 0h1m1 0h1m7 0h1m6 0h1m2 0h1m5 0h1m1 0h1m30 0h1m1 0h1m12 0h1m-147 1h4m14 0h1m2 0h1m2 0h1m1 0h1m1 0h1m6 0h3m1 0h1m1 0h1m8 0h1m7 0h1m6 0h1m6 0h1m10 0h1m2 0h1m3 0h1m2 0h1m4 0h2m32 0h2m-134 1h2m9 0h3m8 0h2m1 0h1m1 0h1m2 0h1m2 0h1m1 0h2m1 0h2m2 0h2m4 0h1m9 0h2m11 0h1m21 0h6m26 0h1m3 0h1m1 0h1m5 0h1m-140 1h1m3 0h1m1 0h2m2 0h2m3 0h3m2 0h1m3 0h2m1 0h1m2 0h1m4 0h1m1 0h1m1 0h2m4 0h3m3 0h1m6 0h2m2 0h2m12 0h1m1 0h1m7 0h1m8 0h1m3 0h1m34 0h1m3 0h1m7 0h1m-142 1h1m3 0h3m3 0h3m4 0h1m1 0h1m5 0h2m1 0h2m6 0h2m4 0h1m11 0h1m2 0h1m2 0h1m5 0h4m2 0h1m7 0h2m9 0h1m2 0h1m28 0h1m6 0h1m-134 1h1m1 0h2m1 0h1m2 0h1m1 0h1m8 0h1m2 0h1m2 0h1m1 0h1m2 0h4m1 0h3m5 0h1m2 0h1m6 0h1m7 0h1m2 0h1m2 0h1m4 0h1m5 0h1m11 0h2m-92 1h3m11 0h5m3 0h1m1 0h1m10 0h1m4 0h2m3 0h1m7 0h1m5 0h2m6 0h1m4 0h1m2 0h2m1 0h1m2 0h2m6 0h4m1 0h2m35 0h1m7 0h2m-142 1h1m2 0h1m16 0h2m4 0h1m10 0h2m3 0h1m5 0h2m1 0h2m10 0h1m9 0h1m1 0h1m3 0h3m2 0h1m4 0h1m9 0h1m25 0h1m1 0h3m2 0h3m9 0h1m-162 1h1m17 0h1m1 0h2m11 0h2m18 0h1m3 0h2m14 0h1m4 0h2m2 0h1m3 0h1m4 0h1m12 0h3m7 0h1m1 0h2m30 0h3m8 0h1m-142 1h1m1 0h2m9 0h1m2 0h1m8 0h1m4 0h1m2 0h1m9 0h2m1 0h1m5 0h1m1 0h1m7 0h1m1 0h2m2 0h1m1 0h1m7 0h2m5 0h1m1 0h1m7 0h1m19 0h1m3 0h2m3 0h2m3 0h1m2 0h2m1 0h1m-135 1h2m2 0h1m4 0h1m3 0h1m5 0h1m1 0h1m3 0h1m4 0h3m7 0h1m1 0h2m7 0h1m1 0h2m1 0h1m4 0h1m5 0h4m5 0h1m7 0h1m8 0h1m6 0h1m14 0h1m1 0h1m9 0h1m1 0h1m-127 1h1m4 0h1m19 0h1m1 0h1m3 0h1m1 0h1m4 0h1m4 0h1m1 0h1m1 0h1m5 0h2m7 0h1m6 0h1m6 0h1m11 0h1m4 0h3m17 0h4m5 0h1m2 0h1m7 0h2m-141 1h1m4 0h1m1 0h1m2 0h1m5 0h1m3 0h1m6 0h3m4 0h1m7 0h1m4 0h1m1 0h2m1 0h2m8 0h1m7 0h1m5 0h1m5 0h1m14 0h1m1 0h1m21 0h1m9 0h1m7 0h2m-142 1h1m1 0h1m2 0h3m6 0h3m1 0h1m5 0h1m8 0h1m1 0h1m3 0h1m4 0h1m1 0h1m4 0h2m1 0h1m2 0h1m6 0h1m5 0h1m1 0h1m2 0h3m5 0h1m1 0h1m12 0h2m4 0h1m1 0h1m9 0h1m5 0h1m1 0h2m1 0h1m1 0h1m1 0h1m-133 1h1m2 0h2m1 0h1m6 0h1m1 0h2m3 0h1m8 0h1m7 0h1m5 0h2m2 0h2m6 0h1m3 0h2m4 0h3m1 0h1m1 0h1m2 0h3m2 0h2m17 0h1m6 0h1m15 0h1m2 0h1m6 0h1m7 0h1m-136 1h3m6 0h1m6 0h1m7 0h1m1 0h1m4 0h1m4 0h1m2 0h1m2 0h1m5 0h2m6 0h2m2 0h2m13 0h1m1 0h1m7 0h1m3 0h1m1 0h1m3 0h2m24 0h1m8 0h1m-132 1h1m1 0h1m4 0h1m2 0h1m14 0h2m10 0h3m3 0h1m1 0h1m1 0h1m4 0h1m3 0h1m3 0h1m2 0h1m1 0h1m3 0h1m2 0h1m2 0h1m2 0h1m1 0h1m11 0h1m6 0h1m2 0h1m2 0h1m5 0h1m7 0h1m2 0h1m-118 1h1m2 0h1m15 0h3m3 0h2m5 0h1m2 0h1m3 0h1m2 0h1m6 0h1m2 0h2m16 0h2m1 0h1m12 0h2m3 0h1m4 0h2m1 0h1m8 0h1m3 0h1m17 0h1m-130 1h3m2 0h1m3 0h1m7 0h1m4 0h1m2 0h1m1 0h1m1 0h1m6 0h3m5 0h1m2 0h1m4 0h1m1 0h1m1 0h1m10 0h1m3 0h1m1 0h1m15 0h1m4 0h1m12 0h2m3 0h1m4 0h1m2 0h1m1 0h1m1 0h1m1 0h2m-139 1h1m4 0h2m5 0h1m1 0h2m19 0h1m1 0h2m5 0h2m1 0h1m4 0h1m1 0h2m2 0h1m7 0h1m3 0h1m4 0h1m4 0h2m4 0h1m2 0h2m1 0h1m6 0h1m2 0h1m1 0h1m1 0h2m9 0h1m12 0h1m3 0h1m4 0h1m-135 1h1m5 0h1m5 0h1m4 0h2m2 0h2m4 0h1m3 0h2m2 0h2m2 0h1m5 0h1m3 0h2m2 0h2m2 0h1m4 0h3m5 0h1m4 0h2m3 0h1m3 0h1m1 0h1m11 0h2m1 0h1m2 0h1m7 0h1m10 0h1m1 0h1m2 0h1m-130 1h1m7 0h1m4 0h1m2 0h1m4 0h1m5 0h1m1 0h2m6 0h1m8 0h1m2 0h2m3 0h1m1 0h1m6 0h1m9 0h2m6 0h2m5 0h3m2 0h1m2 0h1m6 0h1m1 0h1m1 0h1m2 0h8m4 0h1m-128 1h1m7 0h2m3 0h1m4 0h2m1 0h1m2 0h1m2 0h1m2 0h1m3 0h1m9 0h1m2 0h1m4 0h1m2 0h1m3 0h1m8 0h2m18 0h1m1 0h1m2 0h1m1 0h2m5 0h2m2 0h2m2 0h1m2 0h1m1 0h1m6 0h3m-117 1h2m4 0h1m2 0h3m4 0h1m1 0h1m3 0h2m12 0h1m1 0h2m6 0h2m2 0h1m1 0h1m6 0h1m7 0h1m1 0h1m1 0h1m8 0h1m1 0h1m2 0h2m6 0h1m1 0h1m3 0h1m2 0h1m1 0h1m1 0h1m1 0h1m2 0h1m2 0h1m1 0h1m10 0h1m-136 1h1m3 0h2m1 0h1m3 0h1m2 0h1m4 0h3m1 0h1m1 0h1m7 0h3m2 0h1m5 0h3m10 0h2m1 0h1m1 0h3m5 0h1m5 0h1m3 0h2m1 0h3m6 0h1m5 0h1m1 0h1m3 0h1m4 0h1m6 0h2m1 0h1m14 0h1m-131 1h1m3 0h1m4 0h2m8 0h1m4 0h1m1 0h1m1 0h3m6 0h1m1 0h1m1 0h1m5 0h1m3 0h1m1 0h1m2 0h2m3 0h1m3 0h1m9 0h2m1 0h1m3 0h2m1 0h1m1 0h1m3 0h1m7 0h1m5 0h1m1 0h3m1 0h1m4 0h1m-120 1h1m8 0h3m3 0h1m2 0h1m2 0h1m3 0h1m2 0h1m5 0h2m24 0h1m3 0h1m5 0h2m1 0h1m1 0h1m1 0h1m1 0h1m3 0h1m2 0h1m2 0h2m5 0h1m3 0h3m1 0h2m1 0h1m16 0h1m1 0h1m2 0h1m-132 1h1m7 0h1m2 0h1m2 0h2m1 0h3m5 0h1m1 0h1m4 0h1m6 0h1m1 0h7m5 0h1m2 0h1m3 0h1m4 0h1m4 0h2m1 0h2m2 0h1m1 0h2m4 0h1m5 0h1m7 0h1m7 0h1m3 0h1m2 0h1m4 0h1m1 0h2m8 0h1m-130 1h2m5 0h2m1 0h1m1 0h1m1 0h1m1 0h2m5 0h2m1 0h1m1 0h1m1 0h2m8 0h2m6 0h1m4 0h2m1 0h1m1 0h1m3 0h1m4 0h1m6 0h1m3 0h1m2 0h1m4 0h1m4 0h1m2 0h1m5 0h1m1 0h1m4 0h1m1 0h1m1 0h4m3 0h2m3 0h2m3 0h1m-126 1h1m3 0h1m1 0h1m1 0h2m2 0h1m5 0h1m1 0h3m1 0h2m2 0h2m2 0h1m2 0h2m3 0h1m5 0h1m11 0h1m1 0h1m9 0h1m1 0h1m2 0h1m5 0h1m5 0h1m4 0h1m1 0h1m4 0h2m1 0h1m4 0h1m1 0h1m3 0h1m1 0h1m1 0h1m-122 1h1m7 0h1m2 0h1m1 0h1m2 0h1m2 0h1m5 0h1m1 0h1m8 0h1m6 0h2m1 0h2m5 0h1m5 0h1m1 0h1m2 0h1m1 0h1m1 0h1m2 0h1m14 0h1m1 0h1m2 0h1m2 0h1m1 0h1m6 0h2m6 0h2m8 0h1m4 0h1m-127 1h2m4 0h1m2 0h2m3 0h1m5 0h1m8 0h3m5 0h1m1 0h1m3 0h1m2 0h2m1 0h1m3 0h1m15 0h1m6 0h1m5 0h1m8 0h1m2 0h1m5 0h1m3 0h1m10 0h1m4 0h2m1 0h2m1 0h2m-128 1h1m1 0h1m5 0h3m3 0h1m1 0h2m2 0h2m1 0h2m6 0h2m1 0h1m1 0h2m1 0h1m7 0h1m2 0h1m3 0h1m3 0h1m3 0h1m8 0h3m1 0h1m4 0h1m4 0h1m3 0h1m2 0h1m2 0h1m7 0h1m2 0h1m1 0h1m16 0h1m-126 1h2m8 0h1m2 0h1m3 0h1m2 0h2m2 0h1m7 0h2m5 0h1m2 0h1m10 0h2m3 0h2m1 0h1m5 0h1m5 0h1m4 0h1m1 0h2m6 0h1m6 0h1m4 0h1m2 0h1m3 0h2m1 0h1m7 0h1m1 0h1m2 0h1m-121 1h2m3 0h2m3 0h1m1 0h1m2 0h1m1 0h1m1 0h2m8 0h2m4 0h1m1 0h1m2 0h2m3 0h1m1 0h1m2 0h1m1 0h1m4 0h1m3 0h1m1 0h2m4 0h2m1 0h1m1 0h2m2 0h1m2 0h1m1 0h2m1 0h1m4 0h1m3 0h4m1 0h2m3 0h1m2 0h1m4 0h2m2 0h1m1 0h1m-114 1h1m1 0h1m1 0h3m2 0h2m1 0h1m10 0h1m11 0h1m5 0h1m1 0h1m3 0h1m2 0h2m2 0h1m4 0h2m5 0h1m2 0h3m3 0h3m7 0h1m2 0h1m4 0h1m4 0h1m3 0h2m-109 1h2m11 0h4m8 0h1m2 0h1m5 0h1m5 0h1m2 0h1m8 0h2m8 0h2m2 0h1m2 0h1m2 0h1m3 0h1m2 0h2m1 0h1m4 0h1m1 0h1m3 0h1m2 0h4m11 0h1m1 0h1m-106 1h1m3 0h2m14 0h1m6 0h1m1 0h1m3 0h1m2 0h1m1 0h1m3 0h1m2 0h1m2 0h1m3 0h2m8 0h3m1 0h1m8 0h1m7 0h2m4 0h1m1 0h1m-95 1h1m8 0h2m13 0h2m2 0h2m4 0h1m4 0h1m4 0h2m15 0h1m4 0h5m1 0h1m3 0h1m13 0h3m1 0h1m8 0h1m-104 1h1m2 0h1m3 0h2m3 0h1m3 0h1m3 0h1m3 0h1m1 0h1m7 0h1m5 0h3m3 0h1m12 0h1m17 0h1m3 0h1m2 0h2m4 0h1m2 0h2m2 0h1m-100 1h1m9 0h2m1 0h2m3 0h1m1 0h2m1 0h3m1 0h2m1 0h1m1 0h1m4 0h1m7 0h1m4 0h1m2 0h3m3 0h1m1 0h3m1 0h1m10 0h1m3 0h2m-87 1h1m11 0h1m3 0h1m2 0h1m3 0h5m4 0h1m1 0h3m3 0h1m3 0h2m4 0h1m2 0h1m12 0h2m1 0h1m1 0h2m2 0h2m3 0h2m3 0h3m6 0h1m1 0h1m6 0h1m6 0h1m-113 1h1m8 0h1m3 0h1m1 0h2m2 0h3m5 0h1m3 0h1m3 0h2m2 0h1m1 0h2m6 0h1m1 0h1m4 0h1m4 0h2m2 0h1m1 0h1m1 0h1m3 0h2m2 0h1m2 0h1m4 0h1m2 0h1m2 0h1m6 0h2m3 0h1m9 0h1m-97 1h3m2 0h1m6 0h1m6 0h1m2 0h3m13 0h1m5 0h1m1 0h1m2 0h3m2 0h3m1 0h1m3 0h1m6 0h1m3 0h1m5 0h1m1 0h1m3 0h1m1 0h1m3 0h1m1 0h1m-107 1h1m19 0h3m7 0h1m3 0h1m13 0h1m4 0h3m3 0h1m1 0h1m3 0h1m3 0h1m6 0h2m3 0h1m5 0h2m5 0h3m4 0h1m1 0h1m2 0h1m-90 1h1m1 0h1m2 0h1m1 0h2m1 0h2m5 0h3m2 0h3m1 0h3m4 0h1m1 0h1m6 0h1m23 0h2m9 0h1m1 0h1m5 0h1m-102 1h1m7 0h1m4 0h1m1 0h1m4 0h1m3 0h1m2 0h1m4 0h1m2 0h1m4 0h5m7 0h3m1 0h1m2 0h2m3 0h1m1 0h2m1 0h2m7 0h1m13 0h1m3 0h1m1 0h1m2 0h1m-103 1h1m7 0h1m2 0h1m1 0h1m11 0h1m3 0h1m4 0h1m5 0h2m1 0h1m1 0h1m6 0h2m3 0h1m5 0h1m4 0h1m6 0h2m5 0h1m1 0h1m4 0h1m5 0h3m-102 1h1m6 0h1m5 0h2m8 0h2m2 0h1m3 0h2m10 0h1m4 0h1m3 0h1m3 0h1m5 0h1m4 0h2m2 0h1m1 0h1m1 0h2m4 0h1m12 0h1m7 0h2m-96 1h1m19 0h1m4 0h1m2 0h1m2 0h1m5 0h1m2 0h1m3 0h1m5 0h1m6 0h3m4 0h3m5 0h1m4 0h1m1 0h1m-79 1h1m7 0h1m4 0h1m2 0h1m4 0h2m4 0h1m3 0h2m12 0h1m4 0h1m1 0h1m6 0h1m2 0h2m1 0h1m2 0h2m1 0h1m10 0h1m-87 1h2m17 0h1m2 0h1m3 0h1m3 0h2m4 0h2m1 0h3m3 0h1m1 0h1m3 0h1m10 0h1m3 0h1m1 0h2m1 0h1m19 0h1m-84 1h1m9 0h1m2 0h1m1 0h1m9 0h1m2 0h1m3 0h1m6 0h1m1 0h1m1 0h1m3 0h1m2 0h1m4 0h2m1 0h1m4 0h1m4 0h2m-77 1h1m1 0h1m18 0h1m1 0h1m1 0h2m1 0h3m14 0h2m2 0h1m4 0h1m3 0h2m5 0h3m1 0h4m-62 1h2m3 0h2m4 0h1m4 0h2m1 0h1m3 0h3m7 0h2m2 0h1m3 0h1m1 0h1m7 0h1m1 0h1m5 0h1m10 0h1m-87 1h1m15 0h1m9 0h2m1 0h1m13 0h1m28 0h5m-64 1h1m62 0h1m-65 1h1m2 0h1m1 0h1m10 0h3m2 0h1m-25 1h1m18 0h1m2 0h1m4 0h2m-22 1h1m1 0h1m4 0h2m-11 1h1m-3 1h3m0 1h1m1 1h1"/>
<path stroke="#414487" d="M119 3h1m-13 1h1m16 0h1m-18 1h1m2 0h1m11 0h1m1 0h1m-22 1h1m6 0h2m5 0h1m17 0h1m-38 1h1m1 0h1m3 0h1m6 0h1m2 0h2m10 0h1m8 0h1m-36 1h1m8 0h1m16 0h1m1 0h1m4 0h2m-33 1h1m4 0h1m3 0h1m4 0h1m-16 1h3m4 0h1m6 0h1m-18 1h1m11 0h1m8 0h1m4 0h2m4 0h1m-14 1h1m6 0h1m12 0h1m-44 1h1m8 0h1m3 0h1m16 0h1m-33 1h2m5 0h1m4 0h2m6 0h1m7 0h1m7 0h1m-37 1h1m5 0h1m6 0h1m26 0h1m-45 1h1m3 0h1m1 0h1m5 0h1m1 0h2m7 0h1m7 0h1m6 0h1m5 0h1m5 0h1m-46 1h2m2 0h1m3 0h3m19 0h1m-29 1h1m5 0h1m5 0h1m6 0h1m20 0h1m2 0h1m-41 1h1m2 0h1m8 0h1m1 0h1m2 0h1m15 0h1m1 0h2m3 0h2m-57 1h1m4 0h1m8 0h1m4 0h1m2 0h1m-15 1h1m9 0h1m8 0h1m4 0h1m-32 1h1m2 0h1m14 0h1m15 0h1m-25 1h2m8 0h1m23 0h2m4 0h1m2 0h1m-48 1h1m10 0h1m5 0h1m5 0h1m5 0h1m-29 1h1m3 0h1m31 0h1m1 0h1m7 0h1m-56 1h1m12 0h1m9 0h1m1 0h2m2 0h1m11 0h1m2 0h1m-40 1h1m3 0h1m3 0h1m20 0h1m6 0h1m2 0h1m10 0h1m3 0h1m-48 1h2m7 0h1m7 0h1m11 0h2m6 0h1m3 0h1m1 0h1m3 0h1m-52 1h1m3 0h2m15 0h1m5 0h1m3 0h1m4 0h1m11 0h1m-60 1h1m4 0h1m13 0h1m6 0h1m17 0h1m18 0h1m-64 1h1m6 0h1m17 0h1m13 0h1m4 0h1m16 0h1m-66 1h2m6 0h1m10 0h1m4 0h1m4 0h1m5 0h1m1 0h1m14 0h1m3 0h1m-59 1h1m1 0h2m5 0h1m3 0h1m1 0h2m5 0h1m6 0h1m18 0h1m2 0h1m6 0h1m2 0h2m-54 1h1m12 0h1m18 0h1m4 0h1m4 0h1m11 0h1m2 0h1m3 0h1m-69 1h1m22 0h1m6 0h1m11 0h1m6 0h1m12 0h1m4 0h1m1 0h1m-68 1h1m4 0h1m19 0h1m1 0h1m36 0h1m-72 1h1m4 0h1m7 0h1m9 0h1m6 0h1m16 0h1m5 0h1m6 0h2m3 0h3m2 0h1m-62 1h1m1 0h3m20 0h1m5 0h1m28 0h1m3 0h1m-71 1h1m28 0h1m34 0h1m-61 1h1m4 0h1m20 0h1m1 0h1m28 0h1m8 0h1m-70 1h1m38 0h1m-39 1h1m30 0h1m3 0h1m8 0h1m-48 1h1m19 0h1m12 0h1m-63 1h1m28 0h1m2 0h1m9 0h3m48 0h1m-92 1h1m11 0h2m9 0h1m7 0h3m36 0h1m5 0h1m15 0h1m-78 1h1m5 0h1m1 0h1m2 0h1m42 0h1m14 0h1m13 0h1m-94 1h1m18 0h1m5 0h1m22 0h1m16 0h1m13 0h1m-55 1h1m3 0h1m2 0h1m2 0h1m24 0h1m-50 1h1m1 0h1m12 0h1m4 0h1m2 0h1m4 0h1m2 0h1m25 0h2m-71 1h1m12 0h1m2 0h1m60 0h1m2 0h1m-16 1h1m13 0h1m-66 1h1m16 0h1m1 0h1m6 0h1m20 0h1m8 0h1m9 0h1m-74 1h1m14 0h1m3 0h1m2 0h1m7 0h1m4 0h1m18 0h1m3 0h2m-64 1h1m6 0h2m1 0h1m8 0h1m25 0h1m-49 1h2m15 0h1m3 0h1m3 0h1m1 0h1m2 0h1m9 0h1m8 0h2m22 0h1m-69 1h1m11 0h1m18 0h1m1 0h1m10 0h1m3 0h1m11 0h1m3 0h1m-49 1h1m7 0h1m15 0h1m24 0h1m-60 1h1m6 0h1m6 0h1m3 0h1m29 0h1m11 0h1m6 0h1m21 0h1m-92 1h1m3 0h1m12 0h1m34 0h1m17 0h1m-126 1h1m6 0h2m44 0h2m2 0h1m1 0h1m1 0h1m1 0h2m17 0h1m13 0h1m4 0h1m3 0h1m2 0h1m15 0h1m-124 1h1m51 0h2m13 0h1m1 0h1m15 0h1m2 0h1m8 0h1m17 0h1m1 0h2m25 0h1m-137 1h1m46 0h1m7 0h1m8 0h1m14 0h1m3 0h1m2 0h1m17 0h1m2 0h1m12 0h1m13 0h2m-146 1h1m1 0h1m1 0h1m54 0h1m6 0h1m17 0h2m12 0h1m2 0h1m21 0h1m23 0h1m-140 1h1m71 0h1m15 0h1m1 0h1m6 0h1m2 0h2m7 0h1m12 0h1m2 0h2m3 0h1m7 0h1m-146 1h2m55 0h1m8 0h1m6 0h1m11 0h1m1 0h2m4 0h1m16 0h1m2 0h2m6 0h1m1 0h1m2 0h1m3 0h1m14 0h3m-147 1h1m3 0h1m55 0h1m16 0h1m15 0h1m1 0h1m1 0h1m3 0h1m3 0h1m1 0h1m3 0h1m4 0h1m11 0h1m3 0h1m6 0h1m-129 1h1m47 0h1m1 0h1m19 0h1m5 0h1m19 0h1m6 0h1m3 0h1m5 0h1m1 0h1m1 0h1m1 0h2m6 0h1m7 0h1m-135 1h1m24 0h1m10 0h1m1 0h1m26 0h1m12 0h1m24 0h1m3 0h1m14 0h1m-72 1h1m4 0h1m6 0h1m4 0h1m12 0h1m3 0h1m2 0h1m11 0h1m5 0h1m8 0h1m2 0h1m10 0h1m2 0h1m-150 1h1m3 0h2m51 0h2m7 0h1m7 0h1m9 0h1m1 0h1m9 0h1m28 0h1m5 0h1m2 0h1m6 0h1m-130 1h2m6 0h1m24 0h1m16 0h1m6 0h1m18 0h1m6 0h1m1 0h1m2 0h2m20 0h1m12 0h1m9 0h1m-130 1h2m26 0h1m1 0h1m14 0h1m1 0h1m19 0h1m10 0h1m9 0h1m1 0h1m4 0h1m5 0h1m6 0h1m1 0h1m4 0h1m4 0h1m-131 1h1m6 0h1m39 0h1m10 0h1m8 0h1m11 0h1m3 0h2m5 0h1m1 0h1m28 0h1m21 0h1m-140 1h1m2 0h1m43 0h1m8 0h1m9 0h1m1 0h1m17 0h1m14 0h1m9 0h1m-108 1h1m68 0h2m4 0h1m5 0h1m1 0h1m8 0h1m2 0h1m2 0h1m5 0h2m2 0h1m-122 1h1m1 0h2m48 0h1m29 0h1m13 0h1m19 0h1m3 0h1m9 0h1m-125 1h1m1 0h1m1 0h1m43 0h1m5 0h1m6 0h1m4 0h1m16 0h1m3 0h1m8 0h1m5 0h1m11 0h1m2 0h1m1 0h1m4 0h1m-133 1h2m6 0h1m1 0h2m2 0h2m38 0h1m1 0h1m3 0h1m20 0h1m10 0h1m8 0h1m3 0h1m1 0h1m3 0h1m2 0h1m3 0h2m28 0h1m-149 1h1m2 0h1m13 0h1m34 0h2m17 0h1m20 0h1m2 0h1m17 0h1m5 0h1m13 0h1m-130 1h3m4 0h1m3 0h1m3 0h1m36 0h2m4 0h1m45 0h1m2 0h2m2 0h1m2 0h1m6 0h1m8 0h1m11 0h1m-132 1h1m46 0h1m3 0h1m2 0h1m8 0h1m3 0h1m1 0h1m8 0h2m31 0h1m5 0h1m4 0h2m-121 1h1m1 0h1m23 0h1m2 0h1m2 0h1m1 0h2m12 0h1m-61 1h1m82 0h1m1 0h1m1 0h1m25 0h1m10 0h1m-128 1h1m43 0h2m23 0h1m2 0h1m8 0h1m-88 1h1m5 0h1m13 0h1m53 0h1m3 0h1m64 0h1m-133 1h1m2 0h1m13 0h1m8 0h2m14 0h1m10 0h1m8 0h1m3 0h1m4 0h1m1 0h1m38 0h2m1 0h1m10 0h1m-117 1h1m14 0h1m14 0h1m10 0h1m15 0h1m6 0h1m4 0h1m1 0h2m41 0h1m2 0h1m-143 1h1m10 0h1m2 0h2m2 0h2m2 0h1m18 0h1m19 0h1m7 0h1m12 0h1m3 0h1m6 0h1m50 0h1m-107 1h1m23 0h1m28 0h1m32 0h1m5 0h1m1 0h1m-114 1h1m1 0h1m31 0h1m8 0h3m1 0h1m2 0h1m1 0h2m4 0h1m45 0h1m-129 1h1m2 0h2m12 0h1m20 0h1m29 0h1m6 0h1m1 0h1m1 0h1m4 0h1m4 0h3m39 0h1m2 0h2m-134 1h1m17 0h1m1 0h1m5 0h1m3 0h2m7 0h1m18 0h1m7 0h3m2 0h2m3 0h1m1 0h2m14 0h1m2 0h1m27 0h1m6 0h1m1 0h1m-134 1h1m20 0h1m2 0h1m3 0h1m5 0h1m1 0h1m19 0h1m5 0h1m28 0h1m36 0h1m5 0h1m-133 1h1m16 0h1m22 0h1m15 0h1m2 0h1m1 0h1m7 0h1m7 0h1m11 0h1m1 0h1m35 0h1m-123 1h1m9 0h2m15 0h1m29 0h1m12 0h2m16 0h1m32 0h1m4 0h2m-134 1h1m1 0h1m11 0h1m9 0h1m2 0h1m7 0h2m4 0h1m4 0h1m10 0h1m2 0h1m2 0h1m6 0h1m25 0h1m23 0h1m12 0h2m3 0h2m-138 1h1m2 0h1m8 0h1m1 0h1m5 0h1m6 0h1m9 0h1m1 0h2m2 0h1m2 0h1m1 0h2m10 0h1m3 0h1m15 0h1m7 0h1m6 0h1m-94 1h1m3 0h1m8 0h1m2 0h1m13 0h1m4 0h1m4 0h1m3 0h1m6 0h1m8 0h1m24 0h2m36 0h1m-122 1h1m2 0h1m14 0h1m6 0h1m2 0h1m9 0h1m3 0h1m9 0h1m22 0h1m12 0h1m21 0h1m4 0h2m1 0h1m-116 1h2m7 0h1m4 0h1m3 0h1m8 0h1m6 0h1m1 0h1m1 0h1m12 0h1m7 0h2m17 0h2m3 0h1m19 0h2m5 0h2m6 0h1m3 0h2m-125 1h1m4 0h1m7 0h1m4 0h1m9 0h1m22 0h1m8 0h1m1 0h1m8 0h1m4 0h1m4 0h1m9 0h1m18 0h1m8 0h2m-113 1h1m9 0h1m1 0h1m1 0h1m6 0h1m1 0h1m1 0h1m2 0h1m10 0h1m5 0h1m3 0h1m1 0h1m4 0h1m18 0h1m2 0h1m-95 1h2m5 0h1m2 0h1m9 0h1m5 0h2m6 0h1m14 0h1m11 0h1m3 0h1m5 0h1m11 0h1m6 0h1m1 0h1m3 0h1m15 0h1m2 0h1m12 0h1m-103 1h2m7 0h1m4 0h1m3 0h1m17 0h1m5 0h2m26 0h3m17 0h1m3 0h1m5 0h1m2 0h1m-104 1h1m15 0h1m2 0h2m6 0h1m18 0h1m2 0h1m8 0h1m8 0h1m23 0h1m-110 1h1m33 0h1m6 0h1m8 0h1m26 0h1m30 0h1m12 0h1m-125 1h1m14 0h1m5 0h1m9 0h1m18 0h1m16 0h1m1 0h1m4 0h2m3 0h2m3 0h1m40 0h1m-121 1h2m13 0h1m4 0h1m10 0h1m12 0h1m1 0h1m6 0h1m32 0h1m23 0h1m1 0h1m-113 1h1m9 0h1m3 0h1m13 0h1m3 0h2m3 0h1m7 0h1m7 0h2m5 0h1m18 0h2m20 0h1m10 0h1m-123 1h1m14 0h1m2 0h1m19 0h3m6 0h2m4 0h2m4 0h1m2 0h1m2 0h2m14 0h1m12 0h1m23 0h1m-104 1h1m9 0h1m20 0h1m6 0h1m10 0h1m1 0h2m2 0h1m5 0h1m10 0h2m10 0h1m1 0h1m13 0h1m-101 1h1m22 0h1m2 0h1m4 0h1m6 0h1m1 0h1m2 0h1m11 0h3m8 0h1m17 0h1m-78 1h1m10 0h1m4 0h1m6 0h2m8 0h1m3 0h1m5 0h1m3 0h1m10 0h1m8 0h1m30 0h1m1 0h1m2 0h1m-111 1h1m3 0h1m23 0h2m3 0h1m7 0h1m57 0h1m1 0h1m-95 1h2m12 0h2m18 0h1m1 0h1m6 0h1m7 0h1m4 0h2m10 0h1m20 0h2m10 0h1m-125 1h1m5 0h1m66 0h2m2 0h1m2 0h1m1 0h1m3 0h3m9 0h1m3 0h1m3 0h1m6 0h1m2 0h1m-119 1h1m2 0h1m3 0h1m1 0h1m4 0h1m1 0h1m9 0h1m10 0h1m5 0h2m26 0h1m9 0h1m4 0h1m4 0h1m7 0h1m2 0h1m1 0h1m5 0h1m-109 1h1m21 0h1m15 0h3m6 0h1m1 0h4m5 0h1m1 0h1m8 0h1m1 0h1m2 0h1m2 0h2m5 0h2m7 0h1m6 0h2m3 0h1m1 0h1m-110 1h1m2 0h1m13 0h1m3 0h2m12 0h1m12 0h1m6 0h2m3 0h1m24 0h1m2 0h1m3 0h1m9 0h1m3 0h2m5 0h1m-113 1h1m4 0h1m1 0h1m28 0h1m3 0h1m5 0h1m3 0h1m3 0h2m2 0h1m1 0h1m2 0h2m5 0h2m4 0h1m13 0h1m2 0h2m6 0h2m3 0h1m-108 1h1m10 0h1m8 0h1m2 0h1m17 0h1m2 0h1m11 0h1m14 0h2m4 0h1m3 0h1m5 0h1m7 0h1m6 0h1m4 0h1m5 0h1m5 0h1m-119 1h2m4 0h1m7 0h1m20 0h1m4 0h1m20 0h1m1 0h1m13 0h1m4 0h1m1 0h1m1 0h1m6 0h1m7 0h1m9 0h1m-119 1h2m4 0h1m41 0h1m4 0h1m3 0h1m10 0h1m4 0h1m5 0h1m1 0h1m40 0h1m-114 1h1m1 0h1m3 0h1m26 0h1m7 0h1m6 0h1m3 0h1m3 0h1m4 0h2m28 0h1m6 0h1m9 0h1m2 0h1m-120 1h1m5 0h1m2 0h2m17 0h1m4 0h1m19 0h1m3 0h1m11 0h2m4 0h1m1 0h1m24 0h1m5 0h1m3 0h1m5 0h1m-117 1h1m6 0h1m1 0h1m4 0h1m2 0h2m6 0h1m3 0h1m15 0h1m1 0h1m1 0h1m1 0h2m9 0h1m3 0h1m6 0h1m6 0h1m4 0h2m9 0h1m9 0h1m4 0h1m-116 1h1m4 0h1m5 0h1m12 0h1m3 0h1m16 0h1m1 0h1m17 0h1m5 0h1m1 0h2m5 0h1m1 0h2m6 0h1m13 0h1m5 0h1m-101 1h2m20 0h1m4 0h1m20 0h1m17 0h1m7 0h1m11 0h1m-85 1h1m6 0h1m6 0h1m6 0h1m4 0h1m26 0h1m1 0h1m28 0h1m8 0h1m-84 1h1m10 0h1m16 0h1m6 0h2m1 0h1m6 0h1m2 0h1m13 0h1m5 0h1m12 0h1m-109 1h1m11 0h1m4 0h1m4 0h1m7 0h1m3 0h1m7 0h2m15 0h2m45 0h1m5 0h1m-83 1h1m9 0h1m7 0h1m2 0h1m4 0h1m17 0h1m4 0h1m3 0h1m9 0h1m2 0h1m2 0h1m12 0h1m-86 1h1m4 0h1m2 0h1m5 0h1m14 0h1m23 0h2m18 0h2m12 0h1m-100 1h1m4 0h2m8 0h1m7 0h1m24 0h1m6 0h1m4 0h1m38 0h1m-103 1h1m4 0h1m2 0h1m7 0h1m9 0h1m36 0h1m7 0h1m2 0h1m22 0h1m-104 1h2m6 0h1m10 0h1m6 0h1m4 0h1m2 0h1m22 0h1m26 0h1m6 0h1m-92 1h1m6 0h1m16 0h1m7 0h1m32 0h1m7 0h1m-52 1h1m7 0h1m17 0h1m13 0h1m4 0h1m6 0h1m1 0h1m1 0h1m4 0h1m1 0h1m-79 1h1m24 0h1m8 0h1m5 0h1m3 0h1m4 0h1m5 0h1m3 0h1m5 0h1m1 0h1m8 0h1m8 0h1m-81 1h2m8 0h1m29 0h1m3 0h1m3 0h5m3 0h1m7 0h2m-75 1h1m3 0h1m24 0h1m1 0h1m7 0h1m21 0h1m18 0h1m2 0h1m-84 1h1m20 0h1m7 0h1m5 0h1m5 0h2m11 0h1m2 0h1m7 0h1m9 0h1m-75 1h1m2 0h1m17 0h2m1 0h1m2 0h1m24 0h1m16 0h1m-68 1h1m7 0h1m4 0h1m38 0h1m-36 1h1m12 0h1m-12 1h1m1 0h1m3 0h2m-25 1h1m7 0h1m8 0h2m3 0h1m-14 1h1m8 0h1"/>
<path stroke="#35608D" d="M117 3h2m7 2h1m-12 1h1m-17 2h1m3 0h1m14 0h2m-16 1h1m3 0h1m14 0h2m4 0h1m6 0h1m-33 1h1m12 0h1m5 0h1m-22 1h2m16 0h1m-16 1h1m3 0h1m-10 1h1m5 0h1m2 0h1m9 0h1m2 0h1m-27 1h1m1 0h1m16 0h1m3 0h1m17 0h1m-11 1h1m2 0h1m-25 1h1m30 0h1m-46 1h1m19 0h1m-15 1h1m6 0h2m4 0h1m19 0h1m-24 1h1m19 0h1m-23 1h1m7 0h1m22 0h2m-54 1h1m27 0h1m13 0h1m2 1h1m4 0h1m-53 1h2m16 0h1m6 0h1m17 0h1m14 0h1m-57 1h1m8 0h1m33 0h1m11 0h1m-47 1h1m17 0h1m20 0h2m1 0h1m4 0h1m-58 1h1m33 0h1m3 0h1m7 0h1m3 0h1m-53 1h1m6 0h1m22 0h1m12 0h1m9 0h1m8 0h1m-60 1h1m30 0h2m4 0h1m17 0h1m3 0h1m-64 1h1m3 0h1m1 0h1m25 0h2m-37 1h1m24 0h1m3 0h1m9 0h1m1 0h1m2 0h1m13 0h1m-40 1h1m13 0h1m2 0h1m2 0h1m14 0h1m2 0h1m6 0h1m-45 1h1m14 0h1m19 0h1m7 0h1m-51 1h1m5 0h2m2 0h1m-26 1h1m4 0h1m3 0h1m1 0h1m1 0h1m3 0h2m8 0h1m3 0h1m30 0h1m-66 1h1m15 0h1m46 1h1m-64 1h1m2 0h1m19 0h1m4 0h1m7 0h1m-36 1h1m27 0h1m31 0h1m1 0h1m1 0h1m-65 1h1m3 0h1m9 0h1m15 0h1m-34 1h1m15 0h1m44 0h1m8 0h1m-62 1h1m7 0h1m42 0h1m-62 1h1m61 0h1m3 0h1m4 0h1m-49 1h1m-33 1h1m4 0h1m4 0h1m9 0h2m7 0h2m9 0h1m11 0h1m25 0h1m-88 1h1m6 0h1m1 0h2m3 0h2m5 0h1m5 0h1m25 0h1m34 0h1m-79 1h1m4 0h1m50 0h1m-57 1h1m23 0h1m4 0h1m10 0h1m-37 1h1m5 0h1m16 0h1m-30 1h1m18 0h1m22 0h1m11 0h2m-53 1h1m2 0h2m7 0h1m22 0h1m16 0h1m-62 1h1m10 0h1m8 0h1m11 0h1m44 0h1m-62 1h2m4 0h1m16 0h1m19 0h1m13 0h1m-61 1h1m2 0h1m11 0h1m15 0h1m12 0h1m-51 1h1m7 0h1m11 0h1m14 0h1m2 0h1m0 1h1m16 0h1m-18 1h1m21 0h1m-38 1h1m5 0h1m18 0h1m-24 1h1m1 0h1m8 0h1m4 0h1m8 0h1m10 0h1m24 0h1m-86 1h2m13 0h1m7 0h1m2 0h1m29 0h1m7 0h1m17 0h1m6 0h1m-95 1h1m31 0h1m37 0h1m-57 1h1m9 0h1m3 0h1m-26 1h1m4 0h1m3 0h1m25 0h1m3 0h1m22 0h2m-122 1h1m54 0h2m5 0h1m4 0h1m9 0h1m3 0h1m24 0h1m8 0h3m25 0h1m-146 1h1m56 0h1m10 0h1m3 0h1m4 0h1m5 0h1m9 0h1m6 0h2m13 0h2m6 0h1m3 0h1m4 0h1m8 0h1m-85 1h1m19 0h1m2 0h1m4 0h1m11 0h1m1 0h2m25 0h1m6 0h1m-47 1h1m18 0h1m4 0h1m3 0h1m2 0h1m5 0h1m9 0h1m3 0h1m1 0h1m6 0h1m-148 1h1m8 0h1m6 0h1m59 0h1m5 0h1m3 0h1m8 0h1m2 0h1m7 0h1m2 0h1m4 0h1m1 0h1m9 0h1m-124 1h1m6 0h1m65 0h1m9 0h1m9 0h1m5 0h1m1 0h2m20 0h2m-125 1h1m47 0h1m1 0h1m19 0h1m1 0h1m5 0h1m8 0h2m32 0h1m3 0h1m3 0h1m1 0h1m6 0h1m-95 1h1m12 0h1m15 0h1m12 0h1m8 0h1m26 0h1m4 0h1m6 0h1m5 0h1m4 0h1m-147 1h1m5 0h1m53 0h1m11 0h1m7 0h1m5 0h1m14 0h1m9 0h1m8 0h1m2 0h1m8 0h1m-135 1h1m74 0h1m11 0h1m2 0h1m7 0h2m1 0h1m6 0h1m12 0h1m9 0h1m8 0h1m-138 1h1m4 0h1m41 0h1m12 0h1m1 0h1m8 0h1m2 0h1m4 0h1m1 0h1m12 0h1m3 0h1m2 0h1m11 0h1m1 0h1m9 0h1m-124 1h1m8 0h1m2 0h1m35 0h1m8 0h1m4 0h1m12 0h1m16 0h1m6 0h2m8 0h1m6 0h1m-115 1h1m10 0h1m26 0h1m12 0h1m5 0h1m15 0h1m16 0h1m8 0h1m24 0h2m1 0h1m5 0h1m-132 1h1m59 0h1m6 0h2m10 0h1m16 0h1m24 0h2m8 0h1m-94 1h1m24 0h1m17 0h1m22 0h1m4 0h1m25 0h1m-142 1h1m6 0h1m36 0h1m24 0h1m3 0h1m4 0h1m21 0h1m-87 1h2m28 0h1m28 0h1m27 0h2m-92 1h1m25 0h1m23 0h1m33 0h1m-86 1h1m39 0h1m26 0h1m4 0h1m28 0h1m-114 1h1m5 0h1m10 0h1m32 0h1m3 0h1m33 0h1m18 0h1m-111 1h3m46 0h2m16 0h1m23 0h1m31 0h1m2 0h1m10 0h1m-126 1h1m8 0h1m40 0h1m24 0h1m2 0h1m31 0h1m1 0h1m1 0h1m8 0h1m-87 1h1m1 0h1m11 0h1m11 0h1m1 0h1m7 0h1m2 0h1m28 0h1m-113 1h1m61 0h1m8 0h1m9 0h1m50 0h1m-130 1h1m3 0h1m29 0h1m12 0h1m21 0h1m5 0h1m1 0h1m35 0h1m15 0h1m-126 1h1m6 0h1m96 0h1m2 0h1m8 0h1m5 0h1m-128 1h1m44 0h1m12 0h1m5 0h1m42 0h1m8 0h1m8 0h1m-111 1h1m3 0h1m91 0h1m3 0h2m-115 1h1m51 0h1m11 0h1m6 0h1m50 0h2m-145 1h1m19 0h1m37 0h1m19 0h1m2 0h2m42 0h1m3 0h1m8 0h1m-138 1h1m57 0h1m20 0h1m-70 1h1m30 0h1m15 0h1m11 0h2m15 0h1m4 0h1m-86 1h2m24 0h1m3 0h2m38 0h1m5 0h2m3 0h1m4 0h1m30 0h1m12 0h1m-124 1h1m11 0h1m8 0h1m4 0h1m26 0h1m29 0h1m27 0h1m-112 1h1m34 0h2m15 0h2m9 0h1m14 0h1m31 0h1m-106 1h1m7 0h1m13 0h1m7 0h2m4 0h1m84 0h1m-128 1h1m5 0h1m15 0h1m27 0h1m18 0h1m34 0h1m16 0h1m-129 1h1m1 0h1m32 0h1m18 0h2m2 0h1m2 0h1m60 0h1m-122 1h1m4 0h2m22 0h1m16 0h1m16 0h1m10 0h1m36 0h1m5 0h1m2 0h1m-111 1h1m4 0h1m1 0h1m25 0h1m20 0h1m20 0h1m6 0h1m2 0h1m13 0h3m12 0h1m-112 1h2m4 0h1m11 0h1m21 0h1m27 0h1m1 0h1m30 0h1m-118 1h1m22 0h2m5 0h1m18 0h1m1 0h1m32 0h1m4 0h1m26 0h1m1 0h1m12 0h1m-132 1h1m2 0h2m7 0h1m36 0h1m26 0h1m7 0h1m3 0h1m24 0h1m12 0h2m-111 1h1m13 0h1m5 0h1m9 0h1m18 0h1m7 0h1m1 0h1m12 0h1m3 0h2m31 0h1m-103 1h1m21 0h1m2 0h1m6 0h1m28 0h3m6 0h1m17 0h1m-92 1h1m16 0h2m26 0h1m1 0h1m6 0h1m36 0h1m-77 1h1m19 0h1m10 0h1m9 0h1m5 0h1m3 0h1m3 0h1m23 0h1m-88 1h1m22 0h1m11 0h1m2 0h1m7 0h1m2 0h1m35 0h1m11 0h1m-106 1h1m7 0h3m36 0h1m5 0h2m13 0h1m18 0h1m9 0h1m2 0h1m-83 1h2m10 0h1m2 0h1m4 0h2m2 0h1m10 0h1m14 0h1m2 0h1m12 0h1m12 0h1m5 0h1m-111 1h1m4 0h1m9 0h1m13 0h1m14 0h1m8 0h1m18 0h1m4 0h2m4 0h1m12 0h1m2 0h1m-98 1h1m11 0h1m1 0h1m26 0h1m6 0h1m27 0h1m11 0h1m2 0h2m4 0h1m4 0h2m-115 1h1m11 0h1m23 0h1m1 0h1m27 0h1m10 0h1m1 0h2m2 0h1m17 0h1m12 0h1m-98 1h1m23 0h1m24 0h1m17 0h1m9 0h1m9 0h1m3 0h1m3 0h1m-102 1h1m3 0h1m12 0h1m3 0h1m5 0h1m4 0h1m2 0h1m2 0h1m2 0h1m8 0h1m3 0h1m9 0h1m5 0h1m21 0h1m12 0h1m-105 1h1m18 0h1m5 0h1m28 0h2m12 0h1m32 0h1m-72 1h2m1 0h1m4 0h1m13 0h1m2 0h2m22 0h1m-57 1h1m5 0h1m7 0h1m5 0h1m4 0h1m13 0h1m6 0h1m2 0h1m7 0h1m-105 1h1m9 0h1m39 0h1m2 0h1m4 0h1m4 0h2m18 0h1m9 0h1m2 0h2m6 0h1m2 0h2m12 0h1m-122 1h1m7 0h1m3 0h1m2 0h1m31 0h1m9 0h1m25 0h2m3 0h1m5 0h1m6 0h1m1 0h1m-97 1h2m39 0h2m8 0h3m33 0h1m7 0h1m1 0h1m2 0h1m7 0h1m-118 1h1m34 0h1m17 0h1m41 0h1m7 0h1m10 0h1m-103 1h2m47 0h1m1 0h1m24 0h1m4 0h1m1 0h1m2 0h1m8 0h2m2 0h1m-110 1h1m11 0h1m19 0h1m33 0h1m3 0h1m25 0h1m17 0h2m-117 1h1m3 0h1m7 0h1m11 0h1m19 0h1m4 0h1m5 0h1m26 0h1m24 0h1m-106 1h1m22 0h1m24 0h1m8 0h1m8 0h1m6 0h1m26 0h1m6 0h1m-107 1h1m5 0h1m2 0h1m58 0h1m4 0h1m5 0h1m21 0h1m6 0h2m-111 1h1m7 0h2m39 0h2m17 0h1m33 0h1m4 0h1m-108 1h1m1 0h1m3 0h1m7 0h1m9 0h1m17 0h1m5 0h1m6 0h1m6 0h1m1 0h1m33 0h1m-106 1h1m8 0h1m3 0h1m2 0h1m13 0h2m21 0h1m1 0h1m4 0h1m18 0h1m4 0h1m13 0h1m3 0h1m5 0h1m3 0h1m-107 1h1m3 0h1m25 0h1m8 0h1m2 0h1m3 0h1m24 0h1m7 0h1m5 0h1m17 0h1m-106 1h2m2 0h1m16 0h1m1 0h1m10 0h1m14 0h1m22 0h1m5 0h1m17 0h1m-99 1h1m27 0h2m7 0h1m1 0h1m27 0h2m11 0h1m15 0h1m2 0h1m1 0h1m-93 1h1m12 0h1m14 0h1m11 0h1m10 0h1m6 0h1m3 0h1m10 0h1m22 0h1m-88 1h1m16 0h1m12 0h1m9 0h1m24 0h1m4 0h1m10 0h1m1 0h1m-85 1h1m5 0h1m24 0h1m42 0h1m9 0h1m-98 1h1m17 0h1m57 0h1m3 0h1m3 0h1m-70 1h1m13 0h1m26 0h1m6 0h1m16 0h2m3 0h1m-87 1h1m22 0h1m4 0h1m9 0h1m5 0h1m15 0h1m3 0h2m10 0h1m1 0h1m-80 1h1m3 0h1m6 0h1m5 0h1m4 0h1m23 0h1m36 0h1m-36 1h1m2 0h1m25 0h1m6 0h1m-76 1h1m2 0h1m8 0h1m-17 1h1m23 0h2m-15 1h1m2 0h1m20 0h1m-28 1h1m20 1h1m-19 1h1m3 0h1"/>
<path stroke="#2A788E" d="M114 3h2m10 0h1m-16 1h1m22 0h1m-26 1h1m10 0h1m2 2h1m4 0h1m-15 1h1m7 0h1m1 0h1m-24 1h1m11 0h1m16 0h1m-24 1h1m8 0h1m20 0h1m-34 1h1m22 0h1m9 0h1m-31 1h2m-10 1h1m2 0h1m1 0h1m3 0h1m8 0h1m12 0h1m2 0h1m-31 1h1m26 0h1m-28 1h1m12 0h1m1 0h1m9 0h1m-19 1h1m1 0h1m2 0h1m-30 1h1m18 0h1m1 0h1m16 0h1m3 0h1m1 0h2m4 0h1m-51 1h1m15 0h1m33 0h2m-3 1h1m-19 1h1m3 1h1m12 0h1m-35 2h1m19 1h1m1 1h1m-17 1h1m7 0h1m6 0h1m14 0h1m-40 1h1m-12 1h1m11 0h1m10 0h1m2 0h1m13 0h1m-48 1h1m8 0h1m35 0h1m4 0h1m4 0h1m-27 1h1m-31 1h1m10 0h1m51 0h1m-57 1h1m1 0h1m2 0h1m32 0h1m10 0h1m7 0h1m-69 1h1m18 0h1m5 0h1m-26 1h2m28 0h1m7 0h1m-41 1h1m9 0h1m8 0h1m1 0h1m14 0h1m4 0h1m-39 1h1m5 0h1m7 0h1m4 0h1m1 0h1m19 0h1m23 0h1m-72 1h1m20 0h1m25 0h1m24 0h1m1 0h1m-64 1h1m5 0h1m2 0h1m23 0h1m-46 1h1m8 0h1m23 0h1m4 0h1m2 0h1m6 0h1m3 0h1m21 0h1m-47 1h1m7 0h1m35 0h1m1 0h1m-72 1h1m5 0h1m1 0h1m64 0h1m-77 1h1m8 0h1m1 0h2m1 0h1m6 0h1m28 0h1m-45 1h2m2 0h1m32 0h2m26 0h1m4 0h1m-92 1h1m10 0h1m9 0h1m13 1h1m3 0h1m1 0h1m41 0h1m-50 1h1m-16 1h1m7 0h1m12 0h1m2 0h2m6 0h1m14 0h1m-56 1h2m2 0h1m8 0h1m5 0h1m12 0h2m3 0h1m15 0h1m-45 1h1m14 0h1m16 0h1m11 0h1m-49 1h1m22 0h1m6 0h1m1 0h1m-41 1h1m23 0h1m-12 1h1m2 0h1m10 0h1m11 0h1m-35 1h1m28 0h1m24 0h1m-53 1h1m45 0h1m6 0h1m-53 1h1m3 0h1m46 0h1m-54 1h1m49 0h1m-45 1h1m35 1h1m8 0h1m12 0h1m-64 1h1m18 0h1m5 0h1m55 0h1m-89 1h1m9 0h1m21 0h1m4 0h1m20 0h1m-40 1h1m34 0h1m4 0h1m23 0h1m-80 1h1m7 0h1m4 0h1m2 0h1m15 0h1m3 0h1m42 0h1m-136 1h1m80 0h1m2 0h1m22 0h1m4 0h1m23 0h1m-137 1h1m89 0h1m20 0h1m13 0h1m4 0h1m-138 1h1m74 0h1m19 0h1m17 0h1m3 0h1m-113 1h1m49 0h1m3 0h1m5 0h1m7 0h2m2 0h1m9 0h1m32 0h1m19 0h1m-140 1h1m1 0h1m60 0h1m23 0h1m4 0h1m1 0h2m25 0h1m6 0h1m5 0h1m-65 1h1m57 0h1m-122 1h1m62 0h1m3 0h1m2 0h1m2 0h1m4 0h1m16 0h1m8 0h1m22 0h1m-133 1h1m4 0h1m51 0h1m16 0h1m9 0h1m3 0h1m23 0h1m1 0h1m1 0h1m12 0h1m11 0h1m-98 1h1m40 0h1m22 0h1m13 0h1m20 0h1m-62 1h1m1 0h1m5 0h2m24 0h1m4 0h1m22 0h1m-80 1h1m20 0h1m8 0h1m32 0h1m-124 1h1m114 0h1m13 0h1m-130 1h1m81 0h1m11 0h1m1 0h1m17 0h1m-121 1h1m52 0h1m10 0h1m6 0h1m12 0h1m20 0h1m-45 1h1m11 0h1m1 0h1m1 0h1m13 0h1m9 0h1m5 0h1m17 0h1m-123 1h1m10 0h1m32 0h1m14 0h1m7 0h1m18 0h1m13 0h1m17 0h2m13 0h1m-70 1h1m3 0h1m31 0h1m4 0h2m-61 1h1m12 0h1m9 0h1m56 0h1m-87 1h1m5 0h1m16 0h1m17 0h1m48 0h1m4 0h1m-136 1h1m9 0h1m37 0h1m10 0h1m1 0h1m10 0h1m12 0h1m28 0h1m-108 1h1m26 0h1m11 0h1m57 0h1m-110 1h1m46 0h2m39 0h1m23 0h1m-68 1h1m3 0h1m6 0h2m25 0h1m49 0h1m-116 1h1m20 0h1m20 0h1m11 0h1m9 0h1m43 0h1m-78 1h1m1 0h1m7 0h1m12 0h1m2 0h1m53 0h1m-84 1h1m34 0h1m32 0h1m7 0h1m-114 1h1m116 0h1m-73 1h1m10 0h1m3 0h1m-61 1h1m57 0h1m8 0h1m49 0h1m-118 1h1m50 0h1m7 0h1m5 0h1m50 0h1m-120 1h1m2 0h1m12 0h1m24 0h1m75 0h1m-138 1h1m26 0h2m53 0h1m43 0h1m9 0h1m1 0h1m-137 1h1m35 0h1m21 0h1m1 0h1m59 0h1m14 0h1m-115 1h1m39 0h2m3 0h1m6 0h1m12 0h1m1 0h1m47 0h1m-120 1h1m13 0h1m28 0h1m12 0h1m2 0h1m10 0h1m4 0h1m37 0h1m3 0h1m-134 1h1m23 0h1m2 0h1m4 0h1m1 0h1m18 0h1m2 0h1m5 0h1m4 0h1m12 0h1m29 0h1m1 0h1m14 0h1m-111 1h1m18 0h1m37 0h1m2 0h1m10 0h2m1 0h1m2 0h1m14 0h1m17 0h2m-122 1h1m40 0h2m1 0h1m57 0h1m-86 1h1m8 0h1m3 0h1m12 0h1m11 0h1m5 0h1m25 0h1m35 0h1m-115 1h1m7 0h1m10 0h1m80 0h1m8 0h1m-116 1h1m7 0h1m4 0h1m17 0h2m2 0h1m46 0h1m16 0h1m9 0h1m-99 1h1m26 0h1m39 0h1m21 0h1m2 0h1m16 0h1m-109 1h1m27 0h1m28 0h1m42 0h2m5 0h1m-120 1h1m11 0h1m13 0h1m3 0h1m39 0h1m38 0h1m-69 1h2m16 0h1m40 0h1m11 0h1m-122 1h1m55 0h1m5 0h1m3 0h1m59 0h1m-100 1h1m26 0h1m4 0h1m5 0h1m1 0h1m11 0h1m3 0h1m31 0h1m5 0h1m-105 1h1m8 0h1m13 0h2m11 0h1m17 0h1m13 0h1m-62 1h2m10 0h2m67 0h1m1 0h1m6 0h1m8 0h1m-116 1h1m13 0h1m2 0h1m28 0h1m19 0h1m11 0h1m5 0h1m6 0h1m-90 1h1m7 0h1m16 0h1m4 0h1m14 0h1m18 0h1m38 0h2m2 0h1m-67 1h1m26 0h1m1 0h1m5 0h1m17 0h1m-110 1h1m6 0h1m15 0h1m18 0h1m9 0h1m13 0h1m5 0h1m-51 1h1m18 0h1m1 0h1m7 0h1m1 0h1m10 0h1m16 0h1m-51 1h1m6 0h1m2 0h1m3 0h1m16 0h1m11 0h1m2 0h2m11 0h1m1 0h1m-83 1h1m35 0h1m35 0h2m-90 1h1m29 0h1m3 0h1m41 0h1m6 0h1m12 0h1m3 0h1m6 0h1m7 0h2m-96 1h1m5 0h1m22 0h2m6 0h1m1 0h1m23 0h1m-31 1h1m4 0h1m22 0h1m7 0h1m5 0h1m-96 1h1m9 0h1m38 0h1m10 0h1m2 0h2m9 0h1m19 0h1m15 0h1m-113 1h1m75 0h1m29 0h1m8 0h1m-111 1h1m36 0h1m46 0h1m9 0h1m10 0h1m-101 1h1m5 0h1m101 0h1m-114 1h1m46 0h1m19 0h1m6 0h1m8 0h1m8 0h1m11 0h1m-107 1h1m8 0h1m12 0h1m6 0h1m55 0h1m22 0h1m-107 1h1m22 0h1m31 0h1m5 0h1m7 0h1m7 0h1m26 0h1m-115 1h1m10 0h1m3 0h1m2 0h1m1 0h1m30 0h1m7 0h2m3 0h1m19 0h1m6 0h1m14 0h1m-94 1h2m25 0h1m15 0h1m1 1h1m17 0h1m6 0h1m-83 1h1m5 0h1m51 0h1m15 0h1m14 0h1m11 0h1m-100 1h1m9 0h1m6 0h1m12 0h1m42 0h2m4 0h1m5 0h1m3 0h1m6 0h1m-24 1h1m4 0h1m1 0h1m2 0h1m2 0h1m10 0h1m11 0h1m-105 1h1m12 0h2m8 0h1m12 0h1m15 0h1m40 0h1m10 0h1m-85 1h1m51 0h4m18 0h1m4 0h1m2 0h1m-96 1h1m18 0h1m47 0h1m10 0h1m-20 1h1m18 0h1m2 0h1m-76 1h1m29 0h1m2 0h1m14 0h1m1 0h1m-65 1h1m5 0h1m30 0h1m7 0h1m20 0h1m11 0h2m15 0h1m-95 1h1m10 0h1m12 0h1m19 0h2m1 0h1m4 0h1m21 0h1m-64 1h2m4 0h1m29 0h1m34 0h1m-77 1h1m4 0h1m5 0h1m17 0h1m28 0h1m5 0h1m-48 1h1m5 0h1m-20 1h1m1 0h2m21 0h1m-24 2h1m14 0h1m-15 2h1m2 0h1m2 1h1"/>
<path stroke="#21908C" d="M134 3h1m-13 1h1m6 0h1m-16 1h2m-15 1h1m11 0h1m7 0h2m-7 1h2m-16 1h1m5 0h1m1 0h2m3 1h1m5 0h1m-13 1h1m26 0h1m-36 1h1m11 0h1m-18 1h1m4 0h1m3 1h1m6 0h1m2 0h1m10 0h1m-5 2h1m-9 1h1m15 0h1m-22 1h1m22 0h1m-30 1h2m5 0h1m7 0h1m6 0h1m-12 1h1m9 0h1m-15 1h1m1 0h1m11 0h1m4 0h1m-23 1h1m27 0h1m-30 1h1m-2 1h1m8 0h1m9 0h1m-15 1h1m6 0h1m5 0h1m9 0h1m-37 1h1m5 0h1m2 0h1m3 0h1m21 0h1m-17 1h1m-6 1h1m1 0h1m4 0h1m3 0h1m7 0h1m-44 1h1m9 0h1m1 1h1m23 0h1m6 0h1m-30 1h1m9 0h1m3 0h1m-22 1h1m6 0h1m4 0h1m-30 1h1m13 0h1m11 0h1m1 0h1m-12 1h1m-22 1h1m12 0h1m26 0h1m1 0h1m12 0h1m1 0h1m-46 1h1m23 0h1m19 0h1m-58 1h1m1 0h1m57 0h1m-59 1h1m10 0h1m3 0h1m15 0h1m32 0h1m-68 1h1m1 0h1m1 0h1m27 0h1m26 0h1m-55 1h1m12 1h1m12 0h1m3 0h1m37 0h1m-64 1h1m30 0h1m29 0h1m-44 1h2m34 0h1m-52 1h1m19 0h1m2 0h1m12 0h1m-61 1h1m6 0h1m15 0h1m18 0h1m1 0h1m5 0h3m1 0h1m5 0h1m17 0h1m-76 1h1m26 0h1m10 0h1m18 0h1m20 0h1m1 0h1m-81 1h1m6 0h1m8 0h1m1 0h1m10 0h1m5 0h1m13 0h1m-24 1h1m31 0h1m20 0h1m-53 1h1m27 0h1m14 0h1m-47 1h1m9 0h1m3 0h1m9 0h1m-22 1h1m12 0h1m16 0h1m-55 1h2m9 0h1m13 0h1m20 0h1m4 0h1m-39 1h1m18 0h2m3 0h1m11 0h1m1 0h1m-55 1h1m16 0h1m3 0h1m11 0h1m3 0h1m-7 1h1m8 0h1m-12 1h1m12 0h1m-43 1h1m11 0h1m29 0h1m13 0h1m1 0h1m-54 1h1m5 0h1m2 0h1m-15 1h1m24 0h1m4 0h1m20 0h1m-12 1h1m4 0h1m3 0h1m7 0h1m23 0h1m-69 1h1m4 0h1m2 0h1m7 0h1m3 0h1m19 0h1m3 0h1m-27 1h1m8 0h1m-40 1h1m9 0h1m9 0h1m14 0h1m20 0h1m-113 1h1m53 0h1m11 0h1m7 0h2m1 0h1m8 0h1m4 0h1m-20 1h1m9 0h1m4 0h1m41 0h2m2 0h1m7 0h1m1 0h1m-72 1h1m1 0h1m4 0h1m15 0h1m27 0h2m6 0h1m-138 1h1m74 0h1m16 0h1m5 0h1m28 0h1m7 0h1m-74 1h1m13 0h2m1 0h1m20 0h1m33 0h1m1 0h1m2 0h1m5 0h2m-146 1h1m4 0h1m51 0h1m11 0h1m22 0h1m6 0h1m1 0h1m25 0h1m14 0h1m2 0h1m-142 1h1m87 0h1m-14 1h1m15 0h1m19 0h1m3 0h1m6 0h1m18 0h1m-87 1h1m15 0h1m22 0h1m5 0h1m-95 1h1m103 0h1m13 0h1m1 0h1m5 0h1m8 0h1m-141 1h1m10 0h1m53 0h1m12 0h1m38 0h1m15 0h1m-70 1h1m16 0h1m1 0h1m12 0h1m13 0h2m20 0h1m-130 1h1m52 0h1m7 0h1m43 0h1m12 0h1m17 0h1m-136 1h1m45 0h1m24 0h1m31 0h1m8 0h1m10 0h1m-118 1h1m32 0h1m5 0h1m3 0h1m47 0h1m7 0h2m27 0h1m-128 1h1m107 0h1m16 0h1m-61 1h1m37 0h1m-62 1h1m10 0h1m2 0h1m7 0h1m2 0h1m21 0h1m2 0h1m15 0h1m9 0h1m-75 1h1m19 0h1m10 0h1m48 0h1m-59 1h1m36 0h1m1 0h1m-73 1h1m1 0h1m7 0h1m64 0h1m-80 1h1m7 0h1m69 0h1m5 0h1m-76 1h1m5 0h1m55 0h1m9 0h1m-84 1h1m4 0h1m3 0h1m20 0h1m46 0h1m7 0h1m-85 1h1m15 0h1m11 0h1m5 0h1m52 0h1m-76 1h1m18 0h1m42 0h1m12 0h1m-68 1h1m15 0h1m35 0h1m-51 1h1m57 0h1m3 0h1m-77 1h1m15 0h1m1 0h1m-48 1h1m24 0h1m22 0h1m39 0h1m6 0h1m2 0h1m-126 1h1m68 0h2m4 0h2m36 0h1m3 0h1m-121 1h1m70 0h1m3 0h1m47 0h1m1 0h1m-48 1h1m38 0h1m-112 1h1m17 0h1m34 0h1m13 0h1m3 0h1m8 0h1m-63 1h1m2 0h1m9 0h1m28 0h1m8 0h1m12 0h1m31 0h1m-112 1h1m29 0h1m31 0h1m-63 1h1m29 0h1m50 0h1m37 0h1m-121 1h1m5 0h1m12 0h1m25 0h1m26 0h1m6 0h1m-59 1h1m10 0h1m33 0h1m15 0h1m1 0h1m-97 1h1m29 0h1m1 0h1m55 0h1m-66 1h1m6 0h1m14 0h1m29 0h1m4 0h1m14 0h1m15 0h1m-114 1h1m19 0h1m8 0h1m11 0h2m17 0h1m23 0h1m10 0h1m14 0h1m2 0h1m14 0h1m-89 1h1m32 0h1m8 0h1m30 0h1m7 0h2m-113 1h1m40 0h1m30 0h1m3 0h1m25 0h1m6 0h1m1 0h1m-74 1h1m44 0h1m-71 1h2m23 0h1m24 0h1m15 0h1m28 0h1m8 1h1m-105 1h1m3 0h1m3 0h1m2 0h1m11 0h1m3 0h1m10 0h1m30 0h1m22 0h1m5 0h1m-68 1h1m14 0h1m36 0h1m-76 1h1m1 0h1m32 0h1m20 0h1m20 0h1m6 0h1m6 0h1m-91 1h1m11 0h1m16 0h1m17 0h1m7 0h1m30 0h1m4 0h1m-95 1h1m12 0h1m15 0h1m52 0h1m3 0h1m5 0h1m-94 1h1m13 0h1m3 0h2m19 0h1m4 0h1m28 0h2m4 0h1m5 0h1m7 0h1m-113 1h1m8 0h1m28 0h1m7 0h2m38 0h1m-23 1h1m5 0h1m26 0h1m10 0h1m-62 1h1m3 0h1m17 0h1m37 0h1m2 0h1m-81 1h1m28 0h1m11 0h1m7 0h1m6 0h1m1 0h1m-85 1h1m43 0h1m15 0h1m4 0h1m19 0h1m2 0h1m1 0h1m-62 1h1m12 0h1m27 0h1m18 0h1m5 0h1m-67 1h1m2 0h1m37 0h1m5 0h1m2 0h1m11 0h1m-47 1h1m22 0h2m2 0h1m13 0h1m2 0h1m-110 1h1m69 0h1m45 0h1m-119 1h1m1 0h1m46 0h1m39 0h1m25 0h1m-83 1h1m28 0h1m7 0h1m-62 1h1m16 0h1m41 0h1m2 0h1m-67 1h3m27 0h1m34 0h1m3 0h1m5 0h1m-32 1h1m5 0h1m33 0h1m17 0h1m-113 1h2m16 1h1m57 0h1m2 0h1m7 0h2m25 0h1m-102 1h1m1 0h2m2 0h1m5 0h1m22 0h1m37 0h1m1 0h1m15 0h1m-92 1h1m7 0h1m11 0h1m56 0h1m10 0h1m-90 1h1m18 0h1m46 0h1m2 0h1m4 0h1m-83 1h1m1 0h1m5 0h1m2 0h1m2 0h1m61 0h2m2 0h1m3 0h1m-79 1h1m6 0h1m68 0h1m15 0h1m-90 1h1m6 0h1m1 0h1m1 0h1m28 0h1m30 0h1m18 0h1m-99 1h1m30 0h1m65 0h2m-87 1h1m51 0h1m15 0h1m12 0h1m2 0h1m-81 1h1m20 0h1m9 0h2m20 0h1m11 0h1m-76 1h1m4 0h1m4 0h2m0 1h1m2 0h1m25 0h1m14 0h1m22 1h1m-66 1h1m-2 1h1m-13 1h1m6 0h1m21 0h1m-19 1h1m13 0h1m7 0h1m-16 1h1m-9 1h1m-2 1h1"/>
<path stroke="#22A884" d="M121 3h2m4 0h1m-16 1h1m14 0h1m-4 2h1m1 0h1m2 0h1m-28 1h1m6 0h1m2 0h1m11 0h1m6 0h1m-35 1h1m7 0h1m6 0h1m14 0h1m-31 1h1m33 0h1m1 0h1m-23 1h1m1 0h1m17 0h1m-35 1h1m8 0h1m28 0h1m-3 1h1m4 0h1m-29 1h1m3 0h1m7 1h1m-16 1h1m29 0h1m-10 1h1m7 0h1m-22 1h1m10 0h1m-42 1h1m41 0h1m-44 1h2m40 0h1m-42 1h1m23 0h1m3 0h1m-31 1h2m13 0h1m7 0h1m24 0h1m-49 1h1m29 0h1m18 0h1m8 0h1m-29 1h1m22 0h1m-42 1h1m26 0h1m3 1h1m-31 1h1m6 0h1m16 0h1m4 0h1m12 0h1m-50 2h1m16 0h1m20 0h1m5 0h1m-56 1h1m18 0h1m5 0h1m4 0h1m4 1h1m10 0h1m7 0h1m-31 1h1m4 0h1m4 0h1m15 0h1m-56 1h1m70 1h1m-73 1h1m17 0h1m9 0h1m5 0h1m27 0h1m-65 1h1m15 0h1m5 0h1m18 0h1m-28 1h1m27 0h1m-32 1h1m26 0h1m-32 1h1m27 0h1m10 0h1m27 0h1m-76 1h1m1 0h1m7 0h1m64 0h1m-73 1h1m22 0h1m15 0h2m4 0h1m12 0h1m2 0h1m4 0h1m-71 1h1m17 0h1m2 0h1m21 0h1m25 0h1m-66 1h1m8 0h1m60 0h1m-46 1h2m4 0h1m2 0h1m-37 1h1m5 0h1m21 0h1m-18 1h1m1 0h1m9 0h1m44 0h1m-57 1h1m13 0h1m13 0h1m6 0h1m-47 1h1m1 0h1m14 0h1m5 0h2m4 0h1m-38 1h1m6 0h1m27 0h1m4 0h1m-39 1h1m1 0h1m17 0h1m5 0h1m6 0h1m10 0h1m3 1h1m4 0h1m-15 1h1m1 0h1m9 0h1m5 0h1m-58 1h1m7 0h1m37 0h1m-49 2h1m16 0h1m32 0h1m1 0h1m-49 1h2m37 0h1m4 0h1m9 0h1m-43 1h1m32 0h1m-51 1h1m8 0h1m42 0h1m-110 1h1m101 0h1m44 0h1m-77 1h1m3 0h1m9 0h1m3 0h1m2 0h1m-10 1h1m12 0h2m-39 1h1m18 0h1m1 0h1m2 0h1m7 0h2m19 0h1m-56 1h1m29 0h1m9 0h1m-40 1h1m5 0h1m22 0h1m22 0h1m24 0h1m10 0h1m-150 1h2m7 0h1m50 0h1m4 0h2m12 0h1m4 0h1m4 0h2m3 0h1m49 0h1m-90 1h1m13 0h1m7 0h1m9 0h1m53 0h1m-82 1h1m30 0h1m27 0h1m22 0h1m-138 1h1m59 0h1m21 0h1m13 0h1m12 0h1m4 0h1m1 0h1m-39 1h1m13 0h1m16 0h1m7 0h1m11 0h2m9 0h1m-55 1h1m2 0h1m1 0h1m24 0h1m8 0h1m-52 1h1m53 0h1m-79 1h1m28 0h1m4 0h1m3 0h1m20 0h1m1 0h1m-67 1h1m48 0h1m17 0h2m-118 1h1m14 0h1m111 0h1m4 0h2m9 0h1m-96 1h1m33 0h1m38 0h1m-64 1h1m81 0h1m-40 1h1m6 0h1m13 0h1m18 0h1m-133 1h1m37 0h1m5 0h1m74 0h1m2 0h2m3 0h1m-87 1h1m38 0h1m15 0h1m1 0h1m7 0h1m23 0h1m-94 1h1m13 0h1m17 0h1m28 0h1m16 0h1m16 0h1m-138 1h1m44 0h1m5 0h1m14 0h2m29 0h1m25 0h1m-115 1h1m101 0h1m6 0h1m5 0h1m-79 1h2m4 0h2m6 0h1m45 0h1m24 0h1m-137 1h1m79 0h1m9 0h1m-38 1h1m2 0h1m68 0h1m8 0h1m-65 1h1m13 0h1m33 0h1m11 0h1m4 0h1m-93 1h1m8 0h1m6 0h1m24 0h1m-55 1h1m17 0h1m14 0h1m69 0h1m-82 1h1m3 0h1m12 0h1m3 0h1m54 0h1m-100 1h1m17 0h1m8 0h1m55 0h1m15 1h1m-132 2h1m49 0h1m25 0h1m1 0h1m5 0h1m46 0h1m-140 1h1m56 0h1m3 0h1m65 0h1m8 0h1m2 0h1m1 0h1m-58 1h1m51 0h1m-113 1h1m2 0h1m95 0h2m-119 1h1m23 0h1m50 0h1m4 0h1m43 0h1m-104 1h1m108 0h1m-106 1h1m45 0h2m44 0h1m-125 1h1m11 0h1m8 0h1m3 0h1m9 0h1m25 0h1m68 0h1m-119 1h1m24 0h1m40 0h1m12 0h1m6 0h1m30 0h1m-39 1h1m5 0h1m19 0h1m7 0h1m-115 1h1m19 0h1m65 0h1m34 0h1m-119 1h1m18 0h1m17 0h1m43 0h1m15 0h1m7 0h1m1 0h1m-120 1h1m44 0h1m3 0h1m9 0h1m50 0h1m8 0h1m-98 1h1m32 0h1m12 0h1m23 0h1m16 0h1m-32 1h1m8 0h1m1 0h1m22 0h2m-108 1h1m3 0h1m69 0h1m34 0h1m-84 1h1m35 0h1m11 0h1m2 0h1m28 0h1m2 0h1m1 0h1m-86 1h1m38 0h1m5 0h1m6 0h2m27 0h1m-86 1h1m26 0h1m13 0h1m2 0h1m45 0h1m-99 1h1m5 0h1m11 0h1m70 0h1m15 0h1m-98 1h1m1 0h1m52 0h1m-8 1h1m2 0h1m18 0h1m-63 1h1m21 0h1m1 0h1m8 0h1m45 0h1m5 0h1m-67 1h1m52 0h1m-94 1h1m89 0h1m-112 1h1m53 0h1m5 0h1m27 0h1m-44 1h1m73 0h1m-124 1h2m44 0h1m1 0h1m1 0h1m36 0h1m-87 1h1m41 0h1m11 0h1m2 0h1m29 0h1m4 0h1m1 0h1m8 0h1m-96 1h1m45 0h1m1 0h1m41 0h1m3 0h1m13 0h1m-115 1h1m38 0h1m18 0h1m8 0h1m38 0h1m-24 1h1m13 0h1m-97 1h1m58 0h1m4 0h1m5 0h1m5 0h1m15 0h1m4 0h1m10 0h1m-64 1h1m11 0h1m41 0h1m-92 1h1m65 0h1m-73 1h1m6 0h1m19 0h1m28 0h1m24 0h1m-43 1h1m53 0h1m3 0h1m-98 1h1m7 0h1m34 0h1m25 0h1m22 0h1m9 0h2m-117 1h1m9 0h1m10 0h1m63 0h1m27 0h1m-20 1h1m22 0h1m-81 1h1m68 0h1m-96 1h1m5 0h1m71 0h1m-86 1h2m71 0h1m23 0h1m5 0h1m2 0h1m-82 1h1m10 0h1m20 0h1m16 0h1m-67 1h1m10 0h2m63 1h1m-79 1h2m2 0h1m5 0h1m1 0h1m46 0h1m30 0h1m-94 1h1m1 0h1m5 0h1m4 0h1m8 0h1m30 0h1m20 0h1m-74 1h1m5 0h1m6 0h1m4 0h1m57 0h1m-69 1h1m3 0h2m47 0h1m-63 1h1m13 0h1m24 0h1m7 0h1m17 0h1m-57 1h2m22 0h1m35 0h1m-61 2h1m20 0h1m-9 1h1m2 0h1m0 1h1m0 1h1m-10 1h1m2 0h1m-8 1h1m3 0h1"/>
<path stroke="#43BF71" d="M110 2h1m6 0h1m-9 1h1m23 0h1m-19 1h2m14 0h1m-5 1h1m-28 1h1m27 0h1m-30 1h1m34 0h1m-22 1h1m2 0h1m18 0h1m-40 1h1m-1 1h1m9 0h1m5 0h1m-18 1h1m36 0h2m2 0h1m-34 1h1m10 0h1m16 0h1m3 0h1m-25 1h1m-5 1h2m5 0h1m8 0h1m12 0h1m-12 1h1m8 0h1m-48 1h1m21 0h1m15 0h1m-18 1h1m5 0h1m12 0h1m-19 1h1m23 0h1m2 2h1m-28 1h1m20 0h1m5 0h2m-31 1h1m6 0h1m-6 1h1m25 0h1m-20 2h2m3 0h1m9 0h1m-35 1h1m19 0h1m13 0h2m-13 2h1m-23 1h1m1 0h1m30 0h1m-6 1h1m-52 1h1m14 0h1m-2 1h1m25 0h1m-45 1h1m64 0h1m-66 1h1m30 0h1m-13 1h1m6 0h1m2 0h1m1 0h1m16 0h1m2 0h1m12 0h1m5 0h1m-72 1h1m19 0h1m2 0h1m14 0h3m2 0h1m4 0h1m-48 1h1m38 0h1m33 0h1m-75 1h1m22 0h1m-19 1h1m4 0h1m6 0h1m7 0h1m7 0h1m4 0h1m2 0h1m23 0h1m-55 1h1m8 0h1m1 0h1m7 0h1m6 0h1m5 0h1m-8 1h1m34 0h1m-69 1h1m30 0h1m3 0h2m-41 1h1m10 0h1m8 0h1m28 0h2m-51 1h1m73 0h1m-72 1h1m11 0h1m10 0h1m3 0h1m17 0h1m21 0h1m-95 1h1m15 0h1m33 0h1m12 0h1m6 0h1m3 0h1m-52 1h1m12 0h1m26 0h1m1 0h1m2 0h1m3 0h1m-45 1h1m4 0h1m21 0h1m8 0h1m-44 1h1m26 0h1m-1 1h1m6 0h1m3 0h1m12 0h1m4 0h1m-60 1h1m39 0h1m-43 1h1m5 0h1m26 0h1m1 0h2m18 0h1m-53 1h2m28 0h1m4 0h1m2 0h2m-9 1h1m-1 1h2m18 0h1m-56 1h1m3 0h1m6 0h1m2 0h1m3 0h1m30 0h1m5 0h1m-55 1h1m20 0h1m5 0h1m4 0h1m21 0h2m-42 1h1m24 0h2m2 0h1m14 0h1m-70 1h1m9 0h1m45 0h1m14 0h1m-63 1h1m19 0h1m3 0h1m10 0h1m2 0h1m5 0h1m-96 1h1m52 0h2m12 0h1m23 0h2m15 0h1m-54 1h1m4 0h1m24 0h1m23 0h1m3 0h1m-83 1h1m20 0h1m41 0h1m35 0h2m4 0h1m-84 1h1m1 0h1m2 0h1m26 0h1m12 0h1m38 0h1m-141 1h1m55 0h2m9 0h1m22 0h1m8 0h1m33 0h1m1 0h1m3 0h1m-140 1h1m59 0h1m36 0h1m24 0h2m11 0h1m-137 1h1m57 0h1m86 0h1m-143 1h1m56 0h1m64 0h1m-55 1h1m43 0h1m18 0h1m-73 1h1m17 0h1m2 0h1m13 0h1m4 0h1m9 0h1m11 0h1m-74 1h1m63 0h1m20 0h1m-135 1h1m72 0h2m25 0h1m37 0h1m-144 1h2m8 0h1m62 0h1m46 0h1m1 0h2m20 0h1m-70 1h1m11 0h1m4 0h1m23 0h1m18 0h1m-62 1h1m44 0h1m6 0h2m9 0h1m-68 1h1m18 0h1m28 0h1m2 0h2m19 0h1m1 0h1m-75 1h1m35 0h1m32 0h1m3 0h1m-70 1h1m47 0h1m-103 1h1m60 0h1m9 0h1m32 0h1m2 0h1m7 0h1m4 0h1m1 0h1m-139 1h1m76 0h1m2 0h1m6 0h1m24 0h1m10 0h1m2 0h1m-74 1h1m6 0h1m48 0h1m17 0h1m-127 1h1m17 0h1m59 0h1m33 0h1m10 0h1m2 0h1m4 0h1m-80 1h2m25 0h1m47 0h1m5 0h1m-78 1h1m5 0h1m15 0h1m3 0h1m39 0h2m7 0h1m1 0h1m-138 1h1m28 0h1m17 0h1m3 0h1m1 0h2m9 0h1m13 0h1m-25 1h1m1 0h1m6 0h1m56 0h1m-86 1h2m40 0h1m45 0h1m-127 1h1m36 0h1m16 0h1m7 0h1m1 0h1m1 0h1m15 0h1m35 0h1m-62 1h1m5 0h1m2 0h2m63 0h1m-55 1h1m56 0h1m-72 1h1m52 0h1m-104 2h1m64 0h1m33 0h1m3 0h1m-105 1h1m61 0h1m37 0h1m3 0h1m1 0h1m-97 1h1m34 0h1m63 0h2m6 0h1m-113 1h1m2 0h1m54 0h1m-82 1h1m15 0h1m59 0h1m51 0h1m-123 1h1m1 0h1m9 0h1m15 0h1m49 0h1m5 0h1m39 0h2m-132 1h1m18 0h1m10 0h1m13 0h1m14 0h1m8 0h1m4 0h1m3 0h1m4 0h1m46 0h1m3 0h1m-138 1h1m35 0h1m45 1h1m30 0h1m1 0h1m-91 1h1m10 0h1m52 0h1m-60 1h1m46 0h1m9 0h1m29 0h1m-52 1h1m15 0h1m40 0h1m-31 1h1m27 0h1m-42 1h1m-39 1h1m3 0h1m25 0h1m6 0h1m2 0h1m30 0h1m5 0h1m2 0h1m-95 1h1m32 0h1m13 0h1m3 0h1m-53 1h1m50 0h1m-18 1h1m62 0h1m1 0h1m-85 1h1m9 0h1m3 0h1m1 0h1m2 0h1m2 0h1m64 0h1m-116 1h1m54 0h1m54 0h1m-13 1h2m1 0h1m2 0h1m-79 1h1m47 0h1m24 0h1m-90 2h1m34 2h1m0 1h1m32 0h1m20 0h1m4 0h1m-11 1h1m3 0h1m-119 1h1m37 0h1m26 0h1m34 0h1m11 1h1m-112 1h2m86 0h1m25 0h1m1 0h1m-120 1h1m1 0h1m59 0h1m16 0h1m23 0h1m-99 1h1m29 0h1m9 1h1m33 0h1m23 0h1m5 0h1m1 0h2m-111 1h1m54 0h1m46 0h2m9 0h1m-116 1h2m11 0h1m38 0h1m23 0h1m8 0h1m12 0h1m-101 1h1m52 0h1m28 0h1m19 0h2m-97 1h1m78 0h1m27 0h1m-118 1h1m13 0h1m67 0h1m-81 1h1m77 0h1m5 0h1m-5 1h1m21 0h1m-98 1h1m7 0h1m67 0h1m2 0h1m10 1h1m-84 1h1m4 0h1m78 0h1m-77 1h1m25 0h1m-35 1h1m9 0h1m61 0h1m-79 1h3m10 0h1m4 0h1m72 0h1m-93 1h1m2 0h1m3 0h2m2 0h1m3 0h1m2 0h1m26 1h1m-41 1h1m18 0h1m13 0h1m1 0h1m37 0h1m-80 1h1m2 0h1m8 0h2m26 0h1m-38 1h1m2 0h1m13 0h1m9 0h1m38 0h1m-54 1h1m3 0h1m2 0h2m6 0h1m-29 2h1m14 0h1m2 0h1m-14 1h1m9 0h1m6 0h1m-11 2h1"/>
<path stroke="#7AD151" d="M112 2h1m1 0h1m-7 1h1m15 0h1m7 0h1m-19 1h1m11 0h1m-7 2h1m12 0h1m-24 3h1m21 0h1m-13 1h1m9 0h1m-26 1h1m-12 1h1m11 0h1m4 0h2m14 0h1m4 0h1m-32 1h1m9 1h1m1 0h1m11 0h1m-10 2h1m14 0h1m-9 2h1m8 1h1m-26 1h1m8 0h1m-1 1h1m-6 1h2m15 0h1m-19 1h1m5 0h1m-3 1h1m1 0h1m17 0h1m1 0h1m-19 1h1m1 0h1m4 0h1m4 0h1m-27 1h1m5 0h1m2 0h1m-4 1h1m3 0h1m14 0h1m-17 1h1m18 1h1m3 0h1m-25 1h1m18 0h1m1 0h1m4 0h1m-62 1h1m35 0h1m5 0h1m14 0h1m-61 1h1m17 0h1m10 1h1m24 0h1m14 0h1m-46 1h1m30 0h1m14 0h1m-49 1h1m9 0h1m-12 1h1m4 0h1m-14 1h2m3 0h1m1 0h1m11 0h1m4 0h3m-24 1h2m2 0h1m2 0h1m8 0h1m1 0h1m6 0h1m15 0h1m-47 1h2m26 0h1m27 0h1m-74 1h1m6 0h1m7 0h1m26 0h1m3 0h1m22 0h1m-66 1h1m9 0h2m3 0h1m5 0h2m2 0h3m14 0h1m28 0h1m-75 1h1m17 0h1m9 0h1m9 0h1m3 0h1m4 0h1m22 0h1m3 0h1m-77 1h1m26 0h1m4 0h1m9 0h1m3 0h1m1 0h3m18 0h1m1 0h1m-47 1h1m12 0h1m9 0h1m26 0h1m1 0h1m-81 1h1m43 0h1m1 0h1m-31 1h1m12 0h1m6 0h1m1 0h1m3 0h1m2 0h1m1 0h1m-46 1h2m15 0h1m1 0h1m26 0h1m-27 1h1m6 0h1m5 0h1m13 0h2m-47 1h1m30 0h1m4 0h1m1 0h1m1 0h1m3 0h1m-19 1h1m10 0h1m5 0h1m-19 1h2m7 0h1m2 0h1m12 0h2m-58 1h1m9 0h1m12 0h1m18 0h1m9 0h1m5 0h1m-49 1h1m6 0h1m7 0h3m11 0h1m16 0h2m-46 1h1m29 0h2m3 0h1m-13 1h1m14 0h1m-51 1h1m31 0h1m2 0h1m6 0h1m6 0h1m4 0h1m-42 1h1m4 0h1m3 0h1m1 0h1m13 0h1m5 0h1m1 0h1m3 0h1m4 0h2m-109 1h1m65 0h1m6 0h1m27 0h1m1 0h1m1 0h3m32 0h1m-70 1h3m8 0h1m7 0h1m4 0h1m7 0h1m-9 1h1m38 0h1m6 0h1m-93 1h1m18 0h1m5 0h1m-83 1h1m55 0h1m12 0h1m8 0h1m1 0h2m1 0h1m59 0h1m-79 1h1m5 0h1m17 0h1m26 1h1m24 0h1m3 0h1m-85 1h1m1 0h1m26 0h1m1 0h1m42 0h1m7 0h1m5 0h1m-89 1h1m10 0h1m59 0h1m10 0h1m-76 1h1m3 0h1m58 0h1m11 0h1m-80 1h1m48 0h1m30 0h1m-86 1h1m1 0h1m14 0h1m49 0h1m11 0h2m-136 1h3m50 0h1m4 0h1m15 0h1m61 0h1m2 0h1m-141 1h1m70 0h1m16 0h1m30 0h1m16 0h1m3 0h1m-6 1h1m5 0h2m-142 1h1m36 0h1m48 0h1m8 0h1m20 0h1m5 0h1m2 0h2m-80 1h1m17 0h1m15 0h1m6 0h1m21 0h1m10 0h1m13 0h1m1 0h1m-77 1h1m21 0h1m1 0h1m20 0h1m1 0h1m24 0h1m8 0h1m-144 1h1m45 0h1m9 0h1m65 0h1m19 0h1m-147 1h1m47 0h1m8 0h1m47 0h1m-58 1h2m14 0h1m58 0h1m3 0h1m10 0h1m3 0h1m-141 1h1m3 0h1m50 0h1m6 0h1m7 0h1m59 0h1m3 0h1m-128 1h1m73 0h1m33 0h1m2 0h1m2 0h2m10 0h1m3 0h1m4 0h1m-98 1h1m3 0h1m2 0h2m53 0h1m8 0h2m5 0h1m13 0h1m-118 1h1m86 0h1m-66 1h2m73 0h1m2 0h1m-73 1h2m32 0h1m-34 1h1m14 0h1m58 0h1m-3 1h1m5 0h1m-107 1h1m14 0h1m18 0h1m10 0h2m7 0h1m43 0h1m-94 1h1m26 0h1m17 0h1m1 0h1m-31 1h1m8 0h1m24 0h1m3 0h1m31 0h2m-86 1h1m39 0h1m5 0h1m4 0h1m45 0h1m-81 1h2m15 0h1m7 0h1m39 0h1m14 0h1m-78 1h1m64 0h1m-45 1h1m40 0h1m-66 1h1m16 0h1m5 0h1m39 0h1m3 0h1m8 0h1m3 0h1m-120 1h1m5 0h2m34 0h1m-55 1h1m11 0h1m7 0h1m39 0h1m-42 1h1m6 0h1m-33 1h1m26 0h1m12 0h1m51 0h2m1 0h1m-72 1h1m19 0h1m17 0h1m23 0h1m48 0h1m-134 1h1m26 0h1m49 0h1m3 0h1m25 0h1m16 0h1m-97 1h1m40 0h1m8 0h1m5 0h1m1 0h1m-68 1h1m50 0h1m20 0h1m33 0h1m-127 1h1m27 0h1m62 0h1m27 0h1m7 0h1m2 0h1m-86 1h1m26 0h1m1 0h2m1 0h1m10 0h1m41 0h1m-109 1h1m32 0h1m32 0h1m20 0h1m12 0h1m6 0h1m-86 1h1m22 0h1m7 0h1m23 0h1m15 0h1m-85 1h1m9 0h1m31 0h1m-22 1h1m56 0h1m2 0h2m-87 1h1m43 0h2m50 0h1m-101 1h1m97 0h1m-106 1h1m13 0h1m76 0h1m8 0h1m2 0h1m1 0h1m-114 1h2m66 0h1m30 0h2m9 0h1m4 0h1m-71 1h1m5 0h2m13 0h1m24 0h1m6 1h1m-89 1h1m2 0h1m25 0h1m65 0h1m-97 1h1m20 0h1m64 0h1m9 0h1m3 1h1m-97 1h1m40 0h1m-43 1h1m17 0h1m28 0h1m37 0h1m-33 1h1m6 0h1m22 0h1m2 0h1m-108 1h1m36 0h1m65 0h1m1 0h1m-48 1h1m13 0h1m28 0h1m-49 1h1m47 0h2m-27 1h1m11 0h1m5 0h1m6 0h1m-108 1h1m8 0h1m49 0h1m15 0h2m-81 1h1m99 0h1m1 0h1m1 0h1m1 0h1m-108 1h1m103 0h1m7 0h1m4 0h1m-118 1h1m70 0h2m6 0h1m26 0h1m4 0h1m-38 1h1m-78 1h1m1 0h1m9 0h2m44 0h1m18 0h1m34 0h1m-103 1h1m67 0h1m5 0h1m21 0h1m3 0h1m-111 1h1m4 0h2m2 0h1m6 0h1m17 1h1m45 0h1m-72 1h1m1 0h1m3 0h1m90 0h1m-104 1h1m2 0h1m17 0h1m59 0h1m19 0h1m-98 1h1m40 0h1m36 0h1m12 0h1m-76 1h1m62 0h1m11 0h1m-85 1h3m9 0h1m22 1h1m41 0h1m5 0h1m-76 1h1m-16 1h1m14 0h1m-8 1h1m67 0h1m5 0h1m-81 1h1m47 0h1m-42 1h1m-7 1h1m3 0h1m20 0h1m-23 1h1m2 0h1m6 0h1m3 1h1m-16 1h1m11 0h1m-1 1h1m-6 2h1"/>
<path stroke="#BBDF27" d="M114 1h3m-6 1h1m3 0h2m1 0h1m-12 1h1m2 0h1m12 0h1m1 0h1m4 0h2m-22 1h1m12 1h1m10 0h1m-36 1h1m9 0h1m11 1h1m-5 1h1m14 0h1m-28 1h1m6 0h1m9 0h1m2 0h2m7 0h1m-11 1h2m1 0h3m3 0h1m-23 1h1m16 0h1m2 0h1m-32 1h1m3 0h1m20 0h1m2 0h1m-36 1h1m40 0h1m-44 1h1m10 0h1m3 0h1m2 0h1m14 0h1m-16 1h1m1 0h1m11 0h2m1 0h1m-20 1h1m-2 1h1m3 0h1m14 0h1m6 1h1m-8 1h1m1 0h1m-17 1h1m-12 1h1m10 0h1m5 0h1m6 0h1m-17 1h1m6 0h2m7 0h1m12 0h1m-32 1h2m-2 1h1m17 0h2m9 0h1m5 0h1m-33 1h1m3 0h2m-6 1h1m-1 1h1m5 0h1m12 0h1m-15 1h1m19 0h1m-23 1h1m20 0h1m-45 1h1m6 0h1m24 0h1m3 0h1m9 0h1m3 0h1m-64 1h1m21 0h1m11 0h1m10 0h1m11 0h1m-6 1h1m-57 1h1m17 0h1m0 1h2m4 0h1m19 0h1m17 0h1m-65 1h1m22 0h1m4 0h1m7 0h1m22 0h5m-64 1h1m1 0h1m12 0h2m3 0h1m5 0h1m1 0h1m6 0h1m27 0h1m-63 1h1m11 0h1m1 0h1m8 0h1m11 0h1m6 0h1m24 0h1m2 0h1m-74 1h1m2 0h1m12 0h1m1 0h1m11 0h1m1 0h1m38 0h1m-57 1h1m5 0h2m13 0h1m4 0h1m4 0h1m20 0h1m2 0h1m-64 1h1m14 0h1m1 0h2m2 0h1m1 0h1m15 0h1m-43 1h1m2 0h1m1 0h1m5 0h2m4 0h2m3 0h2m3 0h1m1 0h1m4 0h1m1 0h1m5 0h1m-70 1h1m31 0h1m9 0h1m9 0h1m3 0h1m11 0h1m2 0h1m20 0h1m1 0h1m-70 1h1m5 0h1m5 0h1m3 0h1m8 0h1m3 0h1m1 0h1m7 0h1m3 0h1m-38 1h1m6 0h1m12 0h1m2 0h1m8 0h1m6 0h2m1 0h1m-51 1h1m16 0h2m1 0h1m1 0h1m5 0h1m4 0h1m3 0h1m2 0h1m1 0h1m1 0h1m5 0h1m-56 1h1m20 0h2m1 0h1m2 0h1m7 0h1m5 0h1m36 0h1m-80 1h1m1 0h1m21 0h1m4 0h1m6 0h1m1 0h1m1 0h1m2 0h2m1 0h1m1 0h1m2 0h1m1 0h1m-30 1h1m3 0h1m2 0h1m7 0h1m2 0h1m1 0h1m3 0h1m-17 1h2m10 0h1m-13 1h1m6 0h1m3 0h3m1 0h1m-40 1h1m4 0h1m15 0h1m3 0h1m2 0h1m1 0h1m6 0h2m3 0h1m1 0h1m-52 1h1m13 0h1m23 0h1m6 0h1m3 1h1m2 0h1m-53 1h1m20 0h1m14 0h2m15 0h2m1 0h1m-64 1h1m44 0h1m7 0h1m5 0h1m1 0h2m-52 1h1m12 0h2m6 0h1m1 0h1m4 0h1m2 0h1m6 0h1m1 0h1m1 0h1m2 0h1m6 0h1m-34 1h1m1 0h1m2 0h1m2 0h2m1 0h1m5 0h2m1 0h1m1 0h1m-54 1h1m33 0h1m1 0h1m2 0h1m1 0h1m7 0h2m-22 1h1m10 0h1m1 0h2m1 0h2m14 0h1m-55 1h1m14 0h1m3 0h1m12 0h1m19 0h1m2 0h1m-56 1h1m17 0h1m5 0h1m-85 1h1m82 0h1m-12 1h1m41 0h1m-111 1h1m49 0h1m6 0h1m10 0h1m1 0h1m26 0h1m-97 1h2m54 0h1m9 0h1m66 0h2m-137 1h1m48 0h1m14 0h2m66 0h1m8 0h1m-142 1h1m49 0h1m4 0h1m6 0h2m5 0h1m29 0h1m14 0h1m18 0h2m5 0h1m-91 1h1m8 0h1m1 0h1m2 0h2m2 0h2m65 0h1m-139 1h1m56 0h1m54 0h1m20 0h1m6 0h1m-89 1h1m19 0h1m15 0h1m28 0h1m20 0h1m-138 1h1m53 0h1m5 0h1m14 0h2m3 0h2m17 0h1m25 0h2m6 0h1m-82 1h1m18 0h1m8 0h1m5 0h1m1 0h1m44 0h1m7 0h1m-92 1h1m21 0h2m42 0h1m13 0h1m2 0h1m1 0h2m1 0h1m6 0h1m-143 1h2m43 0h1m39 0h1m28 0h1m4 0h1m1 0h1m4 0h1m3 0h1m7 0h2m-11 1h1m-46 1h1m13 0h1m22 0h1m7 0h1m2 0h1m6 0h1m1 0h1m-149 1h1m6 0h1m6 0h2m1 0h1m1 0h1m26 0h1m6 0h1m12 0h1m43 0h1m11 0h1m1 0h1m3 0h1m7 0h2m3 0h1m1 0h1m-142 1h2m10 0h1m5 0h1m55 0h1m1 0h1m50 0h3m5 0h1m-126 1h2m41 0h3m4 0h1m11 0h1m14 0h1m29 0h1m4 0h1m1 0h1m2 0h1m4 0h2m3 0h1m5 0h2m-141 1h1m4 0h1m10 0h1m25 0h1m7 0h2m71 0h1m4 0h1m3 0h1m2 0h3m-135 1h2m46 0h1m59 0h1m4 0h2m3 0h2m4 0h1m4 0h1m2 0h1m-120 1h1m34 0h1m61 0h1m5 0h1m1 0h1m3 0h1m1 0h2m-110 1h2m24 0h1m15 0h1m16 0h1m28 0h1m7 0h1m2 0h1m4 0h1m4 0h1m-109 1h1m26 0h2m2 0h1m6 0h1m26 0h1m28 0h1m3 0h1m8 0h1m-108 1h1m16 0h1m20 0h1m16 0h1m35 0h1m6 0h1m-98 1h1m11 0h1m12 0h2m9 0h2m5 0h1m2 0h1m-47 1h1m24 0h1m9 0h1m1 0h1m58 0h1m4 0h1m-67 1h1m16 0h1m39 0h1m8 0h1m2 0h1m-102 1h1m16 0h1m15 0h1m8 0h3m51 0h1m5 0h1m-102 1h1m2 0h1m12 0h1m17 0h2m7 0h1m7 0h1m45 0h1m-95 1h1m24 0h1m66 0h1m5 0h1m-80 1h1m19 0h1m5 0h1m-82 1h1m55 0h1m74 0h1m1 0h1m-77 1h2m71 0h1m-131 1h1m56 0h1m2 0h1m13 0h2m38 0h1m18 0h1m-123 1h1m47 0h1m13 0h1m-61 1h1m3 0h2m32 0h1m17 0h2m1 0h1m5 0h1m45 0h2m-127 1h1m10 0h2m16 0h1m33 0h1m9 0h1m5 0h1m11 0h1m32 0h1m3 0h1m2 0h1m-138 1h1m18 0h1m56 0h1m8 0h2m47 0h1m-65 1h1m7 0h1m2 0h2m13 0h1m-92 1h1m5 0h1m59 0h1m12 0h2m43 0h1m-111 1h1m63 0h3m24 0h2m14 0h1m3 0h1m1 0h2m-131 1h1m76 0h1m2 0h1m4 0h1m37 0h1m-125 1h1m63 0h1m8 0h1m2 0h1m50 0h1m-82 1h1m28 0h1m2 0h1m8 0h1m38 0h1m-105 1h1m96 0h1m-8 1h1m-69 1h1m27 0h1m51 0h1m-80 1h1m79 0h1m-59 1h1m15 0h1m32 0h1m2 0h1m4 0h1m-72 1h1m5 0h1m8 0h1m1 0h1m46 0h1m2 0h1m-62 1h1m57 0h1m-91 1h1m8 0h1m32 0h1m48 0h1m-59 1h1m22 0h1m13 0h1m19 0h1m3 0h1m-127 1h1m39 0h1m9 0h1m59 0h2m-52 1h1m5 0h1m49 0h1m3 1h1m-129 1h1m42 0h1m83 0h1m-36 2h1m-25 1h1m36 1h1m9 0h1m1 0h1m-28 2h1m15 1h2m3 0h1m-105 1h1m54 0h1m-56 1h1m5 0h1m94 0h1m5 0h1m1 0h1m-38 1h1m28 0h1m1 0h1m2 0h1m3 0h1m-119 1h1m1 0h1m1 0h1m72 0h1m27 0h1m4 0h1m5 0h1m-115 1h1m4 0h1m72 0h1m19 0h1m1 0h2m-105 1h2m2 0h2m53 0h1m23 0h1m18 0h1m-93 1h1m47 0h1m46 0h1m7 0h1m-111 1h2m10 0h2m89 0h1m-102 1h1m7 0h1m2 0h1m86 0h1m-99 2h1m10 0h1m-11 1h3m4 0h2m-11 1h2m3 0h1m10 0h2m77 0h1m-79 1h1m70 0h1m-63 1h1m4 0h1m-28 1h1m3 0h1m10 0h2m56 0h1m-77 1h1m17 0h1m58 0h1m-80 1h1m2 0h1m5 0h1m2 0h1m7 0h1m-6 1h1m-7 1h1m10 0h2m-11 1h1m10 0h1m-17 1h1m8 0h1m1 0h1m1 0h1m1 0h2m-1 1h1m-10 1h1m6 1h1m1 0h1"/>
<path stroke="#FDE725" d="M113 2h1m5 0h2m-1 1h1m7 0h2m-7 3h1m-2 1h1m4 0h1m2 0h1m-10 1h1m14 0h1m-10 1h2m-15 1h1m11 0h1m5 0h1m2 0h1m-24 1h1m1 0h1m11 0h1m0 2h1m-18 1h1m15 0h2m-20 1h1m1 0h1m2 0h2m-7 1h1m4 0h1m15 0h1m3 1h1m0 1h1m-20 2h1m1 2h1m-3 1h1m-7 1h1m5 0h1m10 0h2m1 0h1m-15 1h1m7 0h2m-10 1h1m8 0h1m8 0h1m-30 1h1m12 0h1m13 0h2m1 0h1m1 0h1m-7 1h1m-43 2h1m4 0h1m8 0h1m26 0h1m-27 1h1m1 3h1m25 0h1m-20 1h1m23 0h1m2 0h1m-42 1h1m8 0h1m29 0h1m-47 1h1m5 0h3m-12 1h1m3 0h1m2 0h2m1 0h1m1 0h1m6 0h1m3 0h2m1 0h1m-32 1h1m5 0h1m2 0h1m1 0h1m1 0h4m7 0h1m30 0h1m1 0h1m-61 1h1m3 0h2m12 0h1m9 0h2m6 0h1m22 0h1m-48 1h1m8 0h1m6 0h1m1 0h1m5 0h2m21 0h2m-74 1h1m15 0h4m3 0h7m4 0h1m1 0h1m8 0h1m2 0h1m-35 1h2m2 0h2m1 0h1m1 0h2m3 0h1m5 0h1m6 0h1m31 0h2m-74 1h1m19 0h2m3 0h4m2 0h1m7 0h2m31 0h2m-57 1h1m10 0h1m1 0h1m1 0h1m2 0h1m3 0h1m8 0h1m25 0h1m-74 1h1m3 0h2m14 0h2m3 0h1m2 0h1m3 0h1m1 0h2m2 0h1m8 0h1m24 0h1m-78 1h1m25 0h1m14 0h1m-44 1h1m29 0h1m11 0h1m1 0h1m5 0h1m-23 1h1m9 0h1m9 0h1m2 0h1m2 0h1m-41 1h1m19 0h1m12 0h1m2 0h1m1 0h1m1 0h1m-22 1h1m4 0h1m6 0h1m2 0h2m-46 1h1m19 0h1m8 0h1m5 0h1m3 0h4m3 0h1m9 0h1m-30 1h1m10 0h6m7 0h1m-34 1h1m21 0h3m1 0h1m-48 1h1m16 0h2m2 0h1m8 0h2m6 0h1m5 0h3m-38 1h1m10 0h1m6 0h1m1 0h2m1 0h1m5 0h1m5 0h1m-25 1h1m13 0h1m1 0h1m1 0h1m1 0h1m7 0h1m1 0h1m-30 1h3m7 0h1m1 0h1m2 0h1m54 0h1m-82 1h1m10 0h1m10 0h1m8 0h1m9 0h1m1 0h1m37 0h1m-80 1h1m4 0h1m19 0h1m16 0h1m36 0h1m-53 1h1m50 0h2m-151 1h1m72 0h1m75 0h1m-78 1h2m35 0h1m38 0h2m-146 1h1m67 0h1m2 0h1m72 0h1m-78 1h1m70 0h1m5 0h1m-84 1h1m2 0h2m18 0h1m11 0h1m41 0h1m4 0h2m-82 1h3m77 0h1m-89 1h1m4 0h2m65 0h1m15 0h1m-146 1h1m49 0h1m5 0h1m88 0h1m-143 1h1m50 0h1m2 0h1m12 0h1m74 0h1m-142 1h1m66 0h1m47 0h1m12 0h1m3 0h2m3 0h1m2 0h2m-190 1h4m38 0h2m4 0h2m42 0h2m18 0h1m2 0h2m25 0h1m33 0h1m3 0h2m6 0h1m-189 1h1m2 0h2m43 0h1m42 0h1m17 0h1m24 0h1m6 0h1m23 0h1m10 0h1m4 0h2m5 0h1m-190 1h2m3 0h3m97 0h1m36 0h1m19 0h1m10 0h2m2 0h1m10 0h2m-190 1h1m6 0h1m46 0h1m36 0h1m13 0h1m23 0h1m32 0h1m13 0h1m2 0h1m8 0h1m-189 1h1m6 0h1m30 0h1m18 0h2m46 0h1m62 0h1m7 0h2m1 0h1m1 0h1m6 0h1m-191 1h3m6 0h1m27 0h4m2 0h1m13 0h1m3 0h1m31 0h1m73 0h2m10 0h1m3 0h1m5 0h2m-193 1h3m8 0h2m24 0h3m24 0h1m84 0h1m14 0h2m15 0h1m2 0h1m5 0h2m-191 1h2m9 0h1m23 0h2m9 0h1m115 0h2m1 0h1m14 0h1m3 0h1m4 0h2m-190 1h1m9 0h4m18 0h3m18 0h1m6 0h1m1 0h1m40 0h1m56 0h2m14 0h1m3 0h1m6 0h2m-189 1h2m11 0h5m13 0h2m14 0h3m13 0h1m98 0h1m7 0h1m9 0h1m4 0h2m-186 1h2m14 0h15m34 0h1m21 0h1m75 0h1m2 0h1m1 0h1m1 0h1m8 0h3m1 0h2m-184 1h2m163 0h1m3 0h3m7 0h3m-181 1h1m80 0h2m21 0h1m55 0h1m7 0h2m3 0h1m4 0h2m-180 1h2m63 0h1m14 0h1m1 0h1m9 0h1m10 0h1m16 0h1m39 0h1m2 0h1m1 0h2m1 0h2m7 0h2m-178 1h1m76 0h1m1 0h1m1 0h1m38 0h1m41 0h3m1 0h1m5 0h1m2 0h2m-177 1h1m64 0h1m16 0h1m78 0h1m1 0h2m1 0h1m7 0h2m-176 1h2m63 0h1m8 0h1m8 0h1m25 0h1m7 0h1m41 0h2m1 0h2m2 0h1m6 0h2m-174 1h1m70 0h2m38 0h1m5 0h1m6 0h1m35 0h2m1 0h1m7 0h2m-173 1h2m43 0h1m25 0h1m12 0h2m14 0h1m10 0h1m42 0h1m5 0h3m5 0h1m1 0h1m-170 1h1m47 0h1m18 0h2m17 0h2m72 0h1m1 0h1m5 0h2m-170 1h1m32 0h1m34 0h1m38 0h1m55 0h2m3 0h1m-169 1h2m86 0h1m18 0h1m55 0h1m4 0h1m-168 1h1m102 0h1m43 0h1m8 0h1m7 0h4m-168 1h1m52 0h1m37 0h1m71 0h2m1 0h1m-167 1h2m47 0h1m52 0h1m58 0h1m3 0h1m-165 1h1m90 0h2m70 0h2m-165 1h1m91 0h1m15 0h1m2 0h1m50 0h2m-164 1h2m57 0h1m6 0h1m26 0h1m22 0h1m44 0h2m-162 1h1m32 0h1m60 0h1m7 0h1m3 0h1m45 0h1m2 0h1m4 0h1m-161 1h1m104 0h1m3 0h1m22 0h2m17 0h1m3 0h1m2 0h2m-160 1h2m42 0h1m50 0h1m1 0h1m4 0h4m3 0h1m42 0h1m4 0h3m-159 1h1m94 0h2m2 0h3m7 0h1m42 0h1m2 0h3m-158 1h2m31 0h1m70 0h1m50 0h2m-156 1h1m150 0h1m2 0h1m-155 1h2m135 0h1m8 0h1m5 0h2m-153 1h2m94 0h1m38 0h1m10 0h1m4 0h2m-152 1h1m103 0h1m42 0h1m1 0h2m-151 1h2m145 0h3m-149 1h2m87 0h1m55 0h3m-147 1h1m65 0h1m10 0h1m10 0h1m6 0h1m49 0h1m-145 1h1m36 0h1m38 0h1m57 0h1m7 0h2m-144 1h2m139 0h2m-142 1h2m64 0h1m72 0h2m-140 1h2m125 0h1m3 0h1m5 0h2m-138 1h1m129 0h1m4 0h1m-136 1h2m132 0h1m-134 1h1m130 0h2m-133 1h1m119 0h1m9 0h2m-132 1h1m105 0h1m11 0h1m10 0h2m-131 1h1m90 0h1m7 0h1m17 0h1m10 0h2m-130 1h1m125 0h3m-129 1h1m47 0h1m42 0h1m33 0h2m-127 1h2m122 0h2m-125 1h1m112 0h1m8 0h2m-125 1h2m106 0h1m4 0h1m3 0h1m3 0h3m-124 1h1m115 0h1m3 0h2m-127 1h3m1 0h3m113 0h3m1 0h2m-126 1h1m1 0h3m5 0h1m4 0h1m70 0h2m25 0h1m8 0h3m-125 1h1m4 0h1m3 0h1m77 0h1m18 0h1m8 0h1m5 0h3m-124 1h1m1 0h1m4 0h1m3 0h1m100 0h1m4 0h1m2 0h2m-122 1h2m4 0h2m3 0h1m106 0h3m-120 1h3m1 0h2m102 0h1m7 0h2m-117 1h3m54 0h1m49 0h1m6 0h2m-115 1h2m10 0h2m97 0h2m-113 1h3m10 0h1m95 0h3m-110 1h1m2 0h2m93 0h1m6 0h3m-107 1h1m3 0h1m5 0h1m9 0h1m75 0h1m5 0h2m-104 1h2m9 0h2m1 0h1m5 0h1m77 0h4m-101 1h1m8 0h1m78 0h7m2 0h2m-100 1h2m7 0h1m9 0h1m68 0h2m5 0h4m-99 1h1m9 0h2m50 0h1m25 0h1m-89 1h1m1 0h1m42 0h4m12 0h5m13 0h6m3 0h1m-90 1h2m1 0h4m5 0h1m33 0h1m2 0h11m1 0h2m3 0h7m6 0h2m4 0h5m-90 1h4m2 0h1m1 0h1m1 0h1m35 0h1m9 0h1m2 0h3m10 0h4m3 0h1m-79 1h2m3 0h3m1 0h2m11 0h1m19 0h4m28 0h5m-79 1h2m3 0h1m2 0h1m2 0h1m1 0h1m28 0h1m-42 1h1m3 0h5m2 0h2m6 0h1m9 0h5m1 0h7m-34 1h4m12 0h6m3 0h3m-25 1h1m11 0h2m-15 1h5m4 0h5m-11 1h3m3 0h3m-8 1h6"/>
</g>
<use href="#seams" transform="translate(332.00,1169.900) scale(3.8,4.32292)"/>
<g stroke="#333" stroke-width="4.45"><path d="M119.61 1169.70h11.45"/><path d="M119.61 1273.45h11.45"/><path d="M119.61 1377.20h11.45"/><path d="M119.61 1480.95h11.45"/><path d="M119.61 1584.70h11.45"/><path d="M119.61 1688.45h11.45"/><path d="M119.61 1792.20h11.45"/></g>
<text x="110.5" y="1183.1" font-size="36.67" fill="#4D4D4D" text-anchor="end">22°S</text>
<text x="110.5" y="1286.8" font-size="36.67" fill="#4D4D4D" text-anchor="end">24°S</text>
<text x="110.5" y="1390.6" font-size="36.67" fill="#4D4D4D" text-anchor="end">26°S</text>
<text x="110.5" y="1494.3" font-size="36.67" fill="#4D4D4D" text-anchor="end">28°S</text>
<text x="110.5" y="1598.1" font-size="36.67" fill="#4D4D4D" text-anchor="end">30°S</text>
<text x="110.5" y="1701.8" font-size="36.67" fill="#4D4D4D" text-anchor="end">32°S</text>
<text x="110.5" y="1805.6" font-size="36.67" fill="#4D4D4D" text-anchor="end">34°S</text>
<g stroke="#333" stroke-width="4.45"><path d="M331.95 1868.8v11.45"/><path d="M559.95 1868.8v11.45"/><path d="M787.95 1868.8v11.45"/></g>
<text x="331.9" y="1915.2" font-size="36.67" fill="#4D4D4D" text-anchor="middle">20°E</text>
<text x="560.0" y="1915.2" font-size="36.67" fill="#4D4D4D" text-anchor="middle">25°E</text>
<text x="788.0" y="1915.2" font-size="36.67" fill="#4D4D4D" text-anchor="middle">30°E</text>
<rect x="982.05" y="1072.0" width="826.85" height="69.1" fill="#D9D9D9"/>
<text x="1395.5" y="1118.4" font-size="36.67" fill="#1A1A1A" text-anchor="middle">ub</text>
<rect x="982.05" y="1141.1" width="826.85" height="727.7" fill="#EBEBEB"/>
<g stroke="#fff" stroke-width="4.45"><path d="M982.05 1169.70h826.85"/><path d="M982.05 1273.45h826.85"/><path d="M982.05 1377.20h826.85"/><path d="M982.05 1480.95h826.85"/><path d="M982.05 1584.70h826.85"/><path d="M982.05 1688.45h826.85"/><path d="M982.05 1792.20h826.85"/><path d="M1182.60 1141.1v727.7"/><path d="M1410.60 1141.1v727.7"/><path d="M1638.60 1141.1v727.7"/></g>
<g transform="translate(1182.70,1172.061) scale(3.8,4.32292)" fill="none" stroke-width="1.0">
<path stroke="#440154" d="M114 1h4m-10 1h13m-14 1h28m-28 1h29m-30 1h30m-37 1h38m-39 1h39m-40 1h40m-41 1h42m-42 1h42m-43 1h43m-44 1h45m-46 1h46m-48 1h48m-48 1h48m-52 1h52m-53 1h53m-54 1h55m-56 1h57m-58 1h58m-58 1h58m-58 1h59m-59 1h60m-60 1h60m-61 1h61m-61 1h62m-63 1h64m-65 1h65m-67 1h67m-67 1h67m-70 1h70m-72 1h72m-145 1h3m68 0h74m-145 1h4m67 0h74m-145 1h5m65 0h75m-145 1h6m64 0h75m-145 1h6m63 0h76m-145 1h6m63 0h76m-145 1h7m29 0h8m24 0h77m-145 1h8m27 0h9m24 0h77m-145 1h9m25 0h13m21 0h77m-145 1h9m24 0h14m20 0h78m-145 1h9m24 0h18m16 0h78m-145 1h9m24 0h21m6 0h2m2 0h81m-145 1h10m22 0h112m-144 1h10m22 0h103m6 0h3m-144 1h11m21 0h102m8 0h2m-144 1h11m21 0h102m-134 1h11m19 0h103m-133 1h11m17 0h104m-132 1h10m18 0h104m-132 1h9m17 0h105m-131 1h8m18 0h104m-130 1h8m17 0h105m-130 1h8m15 0h107m-130 1h8m13 0h109m-130 1h8m1 0h3m4 0h2m2 0h110m15 0h1m-146 1h132m12 0h11m-155 1h132m12 0h11m-155 1h132m12 0h11m-155 1h132m12 0h11m-155 1h135m9 0h10m-154 1h141m3 0h10m-154 1h153m-154 1h154m-154 1h154m-154 1h153m-153 1h153m-153 1h153m-153 1h153m-153 1h153m-190 1h4m33 0h152m-189 1h5m32 0h152m-190 1h8m30 0h152m-190 1h8m30 0h151m-189 1h8m30 0h151m-191 1h10m27 0h154m-193 1h13m24 0h155m-191 1h12m23 0h109m1 0h46m-190 1h14m18 0h110m3 0h44m-189 1h18m13 0h107m11 0h38m-186 1h135m14 0h36m-184 1h132m18 0h32m-181 1h130m20 0h30m-180 1h130m21 0h28m-178 1h129m22 0h26m-177 1h129m22 0h25m-176 1h127m24 0h24m-174 1h125m24 0h24m-173 1h124m25 0h22m-170 1h121m26 0h23m-170 1h121m26 0h22m-169 1h121m25 0h23m-168 1h120m25 0h23m-168 1h120m24 0h23m-167 1h121m23 0h22m-165 1h121m20 0h24m-165 1h122m12 0h30m-164 1h122m11 0h30m-162 1h121m11 0h29m-161 1h122m10 0h28m-160 1h123m9 0h28m-159 1h123m6 0h29m-158 1h157m-156 1h155m-155 1h154m-153 1h153m-152 1h151m-151 1h150m-149 1h148m-147 1h146m-145 1h144m-144 1h143m-142 1h141m-140 1h139m-138 1h136m-136 1h135m-134 1h133m-133 1h132m-132 1h131m-131 1h130m-130 1h129m-129 1h127m-127 1h126m-125 1h124m-125 1h124m-124 1h122m-127 1h3m1 0h122m-126 1h125m-125 1h124m-124 1h122m-122 1h121m-120 1h118m-117 1h116m-115 1h113m-113 1h112m-110 1h108m-107 1h104m-104 1h102m-101 1h99m-100 1h90m5 0h4m-99 1h89m-89 1h89m-90 1h47m2 0h14m3 0h15m4 0h5m-90 1h4m2 0h41m9 0h1m2 0h3m10 0h8m-79 1h2m3 0h41m28 0h5m-79 1h2m3 0h38m-42 1h1m3 0h38m-34 1h22m3 0h3m-25 1h14m-15 1h14m-11 1h9m-8 1h6"/>
<path stroke="#482576" d="M111 3h2m-4 1h1m9 0h3m8 0h1m2 0h1m1 0h1m-28 1h1m3 0h1m3 0h1m1 0h2m8 0h6m1 0h1m-32 1h1m13 0h2m5 0h1m1 0h1m3 0h2m1 0h1m-30 1h2m12 0h2m4 0h1m3 0h1m2 0h2m-28 1h1m8 0h1m4 0h1m9 0h1m-32 1h1m17 0h3m15 0h1m1 0h1m-38 1h1m17 0h2m-20 1h1m7 0h1m7 0h2m3 0h1m1 0h1m-11 1h1m7 0h3m5 0h2m-36 1h3m20 0h1m6 0h1m3 0h1m1 0h2m2 0h1m1 0h1m-44 1h2m20 0h1m16 0h2m-38 1h1m4 0h1m3 0h1m10 0h1m1 0h2m10 0h1m4 0h1m1 0h1m-44 1h5m21 0h1m1 0h2m2 0h1m5 0h2m-48 1h4m13 0h1m11 0h2m1 0h1m2 0h1m6 0h1m8 0h1m-52 1h1m1 0h5m2 0h1m2 0h2m15 0h2m2 0h2m2 0h1m3 0h1m-43 1h6m1 0h3m1 0h1m1 0h2m1 0h2m1 0h2m10 0h2m1 0h1m1 0h1m6 0h2m-47 1h1m2 0h1m3 0h2m1 0h1m5 0h1m3 0h1m13 0h5m2 0h2m4 0h5m3 0h2m-55 1h1m2 0h1m3 0h3m3 0h1m3 0h3m2 0h1m3 0h1m5 0h3m1 0h2m2 0h1m2 0h1m3 0h1m5 0h1m-55 1h2m1 0h1m2 0h2m2 0h2m2 0h1m1 0h1m2 0h1m4 0h1m10 0h3m3 0h1m4 0h1m1 0h2m3 0h1m1 0h1m-56 1h1m2 0h3m5 0h1m1 0h1m12 0h1m5 0h1m1 0h1m1 0h1m5 0h1m2 0h4m4 0h1m1 0h1m-58 1h1m4 0h2m1 0h2m3 0h1m2 0h1m4 0h1m6 0h1m19 0h1m5 0h1m4 0h1m-61 1h2m2 0h1m1 0h3m1 0h2m6 0h2m2 0h1m23 0h1m6 0h1m2 0h2m-57 1h1m6 0h1m1 0h1m6 0h1m1 0h2m9 0h1m6 0h1m7 0h1m9 0h1m2 0h1m1 0h1m-53 1h1m1 0h1m6 0h1m1 0h3m3 0h2m11 0h1m18 0h2m1 0h2m-53 1h2m3 0h1m3 0h1m4 0h1m1 0h1m2 0h1m7 0h1m20 0h1m3 0h1m-62 1h2m2 0h1m4 0h3m7 0h1m2 0h3m2 0h2m4 0h1m3 0h2m4 0h1m2 0h1m6 0h1m1 0h1m1 0h1m3 0h2m-65 1h4m2 0h1m3 0h1m4 0h1m8 0h1m1 0h1m2 0h2m3 0h1m5 0h1m6 0h1m2 0h1m6 0h1m2 0h1m2 0h1m-64 1h2m2 0h2m1 0h2m4 0h1m1 0h1m4 0h1m7 0h1m6 0h2m10 0h1m1 0h1m1 0h1m7 0h1m3 0h2m-65 1h1m3 0h1m1 0h1m10 0h1m2 0h2m4 0h4m1 0h1m6 0h2m1 0h1m2 0h3m2 0h2m1 0h1m3 0h3m1 0h1m2 0h1m-144 1h3m74 0h5m1 0h3m10 0h1m3 0h1m4 0h1m1 0h1m2 0h2m2 0h1m1 0h5m1 0h1m3 0h1m10 0h3m-140 1h1m1 0h2m73 0h1m1 0h2m2 0h2m3 0h1m20 0h1m1 0h1m6 0h1m1 0h2m1 0h1m1 0h3m9 0h1m3 0h2m-142 1h4m72 0h3m1 0h1m2 0h1m3 0h1m12 0h1m1 0h2m9 0h3m3 0h2m1 0h1m2 0h1m1 0h1m9 0h1m1 0h1m-141 1h4m1 0h1m72 0h1m1 0h1m24 0h1m9 0h1m3 0h3m2 0h1m1 0h1m1 0h1m2 0h1m1 0h1m1 0h1m2 0h2m1 0h1m-142 1h2m1 0h1m1 0h1m71 0h1m2 0h1m1 0h1m19 0h2m14 0h1m2 0h1m3 0h1m1 0h1m4 0h1m1 0h1m-134 1h5m72 0h1m5 0h1m32 0h1m1 0h4m1 0h1m1 0h2m5 0h1m3 0h1m3 0h2m-143 1h6m31 0h5m1 0h1m28 0h1m9 0h1m29 0h1m1 0h1m2 0h3m1 0h1m2 0h1m1 0h1m1 0h2m3 0h1m9 0h1m-143 1h1m1 0h1m1 0h3m27 0h1m1 0h6m78 0h1m1 0h5m1 0h1m-129 1h2m2 0h2m1 0h1m25 0h1m2 0h4m1 0h2m1 0h2m23 0h1m34 0h1m14 0h1m1 0h2m1 0h1m1 0h4m1 0h1m3 0h1m-137 1h9m25 0h4m1 0h3m1 0h1m1 0h1m75 0h3m2 0h1m1 0h1m1 0h2m1 0h1m3 0h1m6 0h1m-145 1h9m24 0h6m1 0h2m5 0h4m25 0h1m44 0h2m1 0h3m1 0h3m1 0h2m1 0h1m6 0h2m-144 1h1m1 0h7m24 0h10m7 0h1m22 0h1m4 0h3m41 0h1m4 0h2m2 0h4m-134 1h4m1 0h2m24 0h1m1 0h2m1 0h8m5 0h1m4 0h2m8 0h1m4 0h1m4 0h1m4 0h1m23 0h1m17 0h3m1 0h2m3 0h5m-136 1h10m22 0h2m1 0h1m2 0h3m1 0h3m3 0h1m4 0h3m2 0h1m13 0h1m2 0h4m4 0h1m29 0h1m6 0h3m1 0h1m2 0h2m2 0h3m-134 1h2m2 0h7m21 0h4m1 0h1m1 0h3m2 0h5m3 0h1m1 0h2m1 0h1m1 0h3m8 0h1m5 0h4m38 0h1m1 0h1m1 0h2m1 0h3m2 0h1m1 0h2m-134 1h1m1 0h9m21 0h3m1 0h1m1 0h3m3 0h2m3 0h3m1 0h3m3 0h2m10 0h1m2 0h1m1 0h1m4 0h1m6 0h1m27 0h1m2 0h1m4 0h3m1 0h1m2 0h2m-133 1h5m1 0h3m21 0h4m2 0h1m2 0h3m1 0h5m1 0h1m2 0h1m1 0h1m1 0h1m1 0h2m4 0h1m5 0h2m5 0h2m1 0h1m1 0h2m2 0h1m33 0h3m1 0h1m1 0h2m1 0h1m2 0h1m-133 1h5m1 0h5m18 0h1m1 0h1m1 0h4m1 0h3m1 0h1m1 0h5m1 0h1m1 0h1m5 0h1m9 0h1m2 0h1m7 0h2m2 0h2m2 0h1m1 0h1m1 0h1m27 0h1m1 0h1m2 0h1m5 0h2m-132 1h1m1 0h8m18 0h1m2 0h5m1 0h1m1 0h2m1 0h6m1 0h5m1 0h3m1 0h1m2 0h1m5 0h1m1 0h1m2 0h1m1 0h1m2 0h7m2 0h2m1 0h1m6 0h1m16 0h1m5 0h2m1 0h3m1 0h1m-127 1h8m17 0h1m1 0h3m1 0h11m1 0h4m1 0h1m1 0h2m4 0h1m1 0h1m9 0h1m13 0h2m2 0h1m2 0h1m1 0h1m28 0h1m1 0h3m-126 1h4m1 0h3m18 0h2m1 0h2m2 0h6m1 0h7m1 0h1m1 0h2m1 0h2m2 0h2m1 0h1m1 0h1m5 0h2m4 0h1m1 0h2m3 0h1m1 0h1m1 0h1m4 0h1m6 0h1m23 0h7m1 0h1m-130 1h1m1 0h6m17 0h5m3 0h6m3 0h9m2 0h2m2 0h1m17 0h5m2 0h1m3 0h2m1 0h1m1 0h1m1 0h1m18 0h1m3 0h1m7 0h2m1 0h3m-130 1h1m1 0h3m1 0h2m17 0h5m1 0h12m1 0h4m3 0h2m7 0h2m9 0h1m5 0h1m7 0h4m2 0h1m11 0h2m8 0h1m10 0h2m1 0h3m-129 1h2m1 0h4m13 0h11m1 0h4m1 0h3m4 0h4m1 0h2m13 0h1m3 0h2m2 0h1m3 0h1m2 0h1m5 0h1m37 0h5m-128 1h2m1 0h2m1 0h1m1 0h1m6 0h2m2 0h3m1 0h4m1 0h2m1 0h11m1 0h3m1 0h6m5 0h2m2 0h2m2 0h1m4 0h1m8 0h1m39 0h1m2 0h2m1 0h1m1 0h1m-126 1h1m1 0h1m1 0h2m1 0h5m1 0h1m1 0h5m1 0h9m1 0h2m1 0h12m1 0h1m1 0h1m1 0h1m2 0h2m1 0h2m2 0h2m2 0h2m1 0h1m6 0h4m8 0h1m10 0h1m19 0h1m1 0h3m3 0h1m14 0h3m-148 1h1m1 0h1m4 0h3m4 0h9m1 0h2m2 0h7m2 0h1m2 0h8m1 0h1m1 0h1m1 0h4m10 0h1m2 0h2m5 0h1m29 0h1m1 0h1m1 0h1m3 0h1m2 0h1m3 0h5m2 0h1m16 0h1m4 0h1m-151 1h2m1 0h6m4 0h28m1 0h3m2 0h1m2 0h1m1 0h2m10 0h1m2 0h2m3 0h1m3 0h1m8 0h2m1 0h1m1 0h1m17 0h2m1 0h1m1 0h1m6 0h3m1 0h1m3 0h1m1 0h1m14 0h1m2 0h2m1 0h2m-154 1h1m4 0h3m1 0h2m2 0h4m1 0h3m1 0h9m5 0h7m1 0h4m1 0h6m3 0h1m7 0h3m8 0h1m1 0h1m10 0h1m4 0h1m8 0h4m3 0h4m3 0h1m5 0h2m3 0h2m15 0h1m2 0h1m1 0h1m-152 1h2m3 0h3m1 0h1m1 0h1m1 0h15m2 0h2m1 0h4m1 0h2m1 0h3m3 0h2m1 0h2m1 0h3m1 0h1m32 0h1m13 0h2m1 0h5m2 0h1m11 0h3m1 0h1m2 0h2m13 0h3m1 0h1m-153 1h2m8 0h1m1 0h4m2 0h8m1 0h3m1 0h3m1 0h4m1 0h3m5 0h1m2 0h2m1 0h2m10 0h1m4 0h2m15 0h2m6 0h3m8 0h2m1 0h3m9 0h1m1 0h1m6 0h1m2 0h2m1 0h1m10 0h1m-149 1h1m12 0h6m1 0h8m3 0h3m1 0h1m1 0h5m2 0h1m1 0h1m2 0h1m1 0h3m2 0h1m3 0h1m10 0h1m2 0h1m12 0h1m1 0h1m7 0h1m5 0h1m4 0h2m2 0h1m1 0h1m6 0h2m2 0h2m2 0h3m18 0h1m-150 1h1m4 0h2m5 0h4m1 0h11m1 0h4m1 0h7m3 0h2m5 0h1m1 0h3m10 0h2m1 0h1m2 0h1m9 0h3m13 0h1m2 0h1m3 0h4m1 0h2m1 0h1m10 0h1m2 0h1m18 0h1m-148 1h2m1 0h1m8 0h1m1 0h1m1 0h3m1 0h2m1 0h8m1 0h5m1 0h2m1 0h3m1 0h4m1 0h2m6 0h1m9 0h1m13 0h3m1 0h2m7 0h2m1 0h1m4 0h1m2 0h1m1 0h1m1 0h1m2 0h1m17 0h1m18 0h1m-143 1h1m2 0h2m1 0h1m1 0h1m1 0h1m2 0h16m2 0h1m1 0h5m1 0h2m6 0h1m1 0h1m18 0h1m3 0h1m3 0h1m3 0h1m3 0h2m12 0h1m2 0h1m3 0h2m11 0h1m16 0h1m-145 1h1m2 0h1m2 0h2m2 0h1m4 0h1m3 0h16m1 0h4m1 0h1m6 0h1m1 0h1m11 0h2m13 0h1m2 0h2m3 0h1m3 0h2m3 0h1m4 0h1m2 0h1m6 0h6m3 0h2m1 0h1m1 0h1m9 0h1m7 0h1m3 0h1m4 0h1m-150 1h2m3 0h1m2 0h1m5 0h1m2 0h1m1 0h3m3 0h7m3 0h3m9 0h1m3 0h1m3 0h1m10 0h1m1 0h4m9 0h1m7 0h1m9 0h2m2 0h1m2 0h1m1 0h3m1 0h2m4 0h1m2 0h1m22 0h1m4 0h1m-137 1h4m7 0h3m2 0h8m1 0h1m2 0h1m3 0h3m1 0h1m8 0h1m11 0h1m1 0h1m23 0h1m6 0h2m2 0h2m1 0h4m18 0h1m4 0h1m5 0h1m-144 1h3m5 0h1m11 0h2m2 0h6m1 0h1m1 0h5m1 0h1m5 0h2m1 0h1m4 0h2m1 0h1m8 0h1m1 0h1m1 0h2m1 0h1m9 0h1m14 0h1m7 0h2m2 0h4m2 0h1m1 0h1m13 0h1m4 0h1m2 0h1m9 0h1m-151 1h1m2 0h1m5 0h2m7 0h1m1 0h2m1 0h1m2 0h3m1 0h3m1 0h3m2 0h1m1 0h1m5 0h3m4 0h1m4 0h2m1 0h1m1 0h1m2 0h5m1 0h2m12 0h1m10 0h2m9 0h1m2 0h1m2 0h1m3 0h1m8 0h1m6 0h1m-171 1h1m42 0h1m5 0h1m2 0h1m4 0h1m1 0h2m2 0h8m1 0h1m2 0h3m2 0h2m1 0h4m4 0h1m3 0h1m2 0h1m5 0h2m10 0h1m6 0h1m6 0h1m14 0h1m5 0h1m31 0h1m-185 1h1m1 0h1m33 0h1m2 0h1m1 0h1m8 0h1m2 0h2m8 0h1m1 0h7m1 0h3m1 0h1m5 0h1m2 0h2m4 0h1m2 0h1m3 0h1m6 0h2m8 0h2m3 0h1m5 0h1m5 0h1m2 0h1m9 0h1m3 0h1m33 0h2m-186 1h5m32 0h1m1 0h1m1 0h2m3 0h1m2 0h1m1 0h1m1 0h1m3 0h1m1 0h5m1 0h1m1 0h4m1 0h2m1 0h5m2 0h1m1 0h3m3 0h1m3 0h2m4 0h1m6 0h1m3 0h1m2 0h1m2 0h1m3 0h4m5 0h1m1 0h1m1 0h1m1 0h1m2 0h1m6 0h2m2 0h1m1 0h1m3 0h1m10 0h2m2 0h1m10 0h1m-184 1h1m4 0h1m39 0h1m1 0h1m1 0h1m4 0h1m3 0h1m1 0h3m1 0h7m1 0h7m1 0h1m2 0h2m1 0h1m4 0h3m3 0h1m2 0h1m1 0h1m4 0h1m2 0h3m1 0h1m1 0h1m5 0h2m7 0h1m1 0h1m1 0h1m1 0h2m1 0h2m4 0h1m1 0h1m2 0h1m4 0h1m7 0h1m7 0h1m-171 1h3m36 0h2m6 0h1m10 0h1m3 0h6m2 0h5m1 0h1m1 0h1m1 0h1m2 0h1m11 0h1m3 0h1m4 0h1m6 0h2m5 0h1m1 0h2m1 0h2m1 0h1m1 0h1m1 0h1m1 0h3m1 0h1m11 0h2m1 0h1m5 0h1m11 0h1m-174 1h6m1 0h1m29 0h1m3 0h1m3 0h1m10 0h1m5 0h7m1 0h2m1 0h1m1 0h2m2 0h1m1 0h2m2 0h1m1 0h1m7 0h1m1 0h1m2 0h5m2 0h6m7 0h2m1 0h1m1 0h5m1 0h1m2 0h3m1 0h1m1 0h2m13 0h1m3 0h1m13 0h4m8 0h1m-186 1h6m1 0h2m26 0h1m20 0h1m7 0h1m1 0h5m2 0h4m2 0h1m4 0h2m7 0h1m7 0h1m2 0h1m1 0h3m1 0h1m7 0h3m5 0h3m2 0h1m7 0h3m1 0h1m10 0h2m2 0h1m11 0h1m-170 1h2m1 0h1m1 0h3m25 0h3m3 0h2m6 0h1m14 0h1m2 0h3m1 0h4m1 0h3m1 0h1m6 0h2m15 0h1m3 0h2m2 0h1m5 0h5m5 0h3m1 0h1m2 0h1m1 0h3m1 0h1m6 0h1m14 0h1m-160 1h2m1 0h1m1 0h2m22 0h3m1 0h1m1 0h5m2 0h1m5 0h1m8 0h1m2 0h10m2 0h4m4 0h1m17 0h1m4 0h1m1 0h1m2 0h3m3 0h2m10 0h1m3 0h1m22 0h1m17 0h1m-171 1h1m1 0h7m1 0h2m15 0h4m1 0h2m6 0h1m6 0h2m16 0h1m3 0h3m2 0h2m3 0h1m2 0h1m14 0h3m7 0h1m1 0h3m1 0h2m1 0h4m2 0h1m1 0h1m23 0h1m3 0h2m2 0h1m15 0h1m-174 1h1m1 0h11m1 0h7m1 0h1m1 0h4m1 0h7m6 0h1m7 0h1m6 0h1m2 0h2m4 0h1m2 0h1m4 0h4m2 0h1m17 0h1m2 0h2m4 0h5m1 0h1m1 0h4m1 0h1m2 0h1m25 0h1m1 0h3m1 0h1m18 0h1m-175 1h1m2 0h16m1 0h2m1 0h2m1 0h3m2 0h2m3 0h1m4 0h6m2 0h1m3 0h1m4 0h5m1 0h2m8 0h2m8 0h1m12 0h1m2 0h1m1 0h1m11 0h4m2 0h1m3 0h1m24 0h2m1 0h2m1 0h2m18 0h1m-175 1h2m3 0h1m1 0h5m1 0h1m1 0h7m1 0h1m1 0h2m1 0h2m4 0h1m5 0h6m3 0h2m2 0h1m5 0h3m2 0h2m2 0h3m1 0h1m1 0h1m21 0h2m8 0h2m3 0h1m1 0h3m3 0h1m4 0h4m22 0h1m6 0h1m11 0h2m1 0h1m-172 1h3m1 0h1m1 0h12m1 0h6m1 0h1m2 0h2m2 0h3m1 0h1m5 0h1m3 0h1m2 0h1m2 0h1m2 0h2m1 0h1m3 0h2m1 0h1m3 0h2m6 0h1m3 0h1m9 0h1m2 0h1m21 0h1m5 0h1m1 0h2m22 0h1m18 0h1m3 0h1m-174 1h1m1 0h2m1 0h3m1 0h9m3 0h3m2 0h2m1 0h3m4 0h1m5 0h1m6 0h2m8 0h1m2 0h1m8 0h1m4 0h1m1 0h2m11 0h2m3 0h1m29 0h2m22 0h4m1 0h1m1 0h1m-157 1h2m1 0h5m1 0h8m2 0h2m2 0h1m3 0h6m2 0h1m2 0h1m12 0h1m6 0h1m1 0h1m1 0h1m2 0h1m2 0h2m4 0h2m1 0h2m7 0h1m3 0h1m1 0h1m9 0h1m17 0h2m27 0h1m5 0h1m14 0h1m-171 1h6m1 0h16m3 0h10m4 0h1m8 0h1m1 0h1m7 0h1m1 0h1m7 0h1m2 0h4m1 0h1m7 0h1m1 0h1m15 0h1m2 0h1m5 0h3m5 0h2m42 0h1m3 0h2m-169 1h2m2 0h3m1 0h6m2 0h2m2 0h1m5 0h4m1 0h7m3 0h1m8 0h4m2 0h1m3 0h2m1 0h2m5 0h4m1 0h1m1 0h1m2 0h1m3 0h2m6 0h1m18 0h1m1 0h1m1 0h1m2 0h1m28 0h1m1 0h1m3 0h2m2 0h1m-158 1h7m1 0h2m1 0h9m5 0h7m6 0h1m1 0h2m7 0h2m1 0h2m1 0h1m6 0h1m8 0h5m1 0h2m2 0h2m4 0h1m2 0h2m9 0h2m11 0h1m3 0h2m27 0h1m5 0h1m2 0h2m-158 1h7m1 0h9m1 0h1m5 0h1m3 0h1m2 0h1m6 0h1m4 0h1m6 0h1m11 0h1m5 0h1m2 0h3m1 0h2m14 0h2m19 0h1m1 0h1m37 0h1m7 0h1m4 0h2m-165 1h7m1 0h2m1 0h1m1 0h3m1 0h2m5 0h1m10 0h1m1 0h2m7 0h1m5 0h2m6 0h3m2 0h11m11 0h1m4 0h7m11 0h1m3 0h4m34 0h3m1 0h1m1 0h1m-158 1h4m1 0h4m1 0h4m1 0h3m6 0h2m4 0h3m1 0h1m1 0h1m1 0h1m2 0h1m2 0h1m7 0h1m3 0h1m1 0h2m5 0h2m1 0h1m4 0h2m9 0h1m7 0h4m11 0h1m4 0h1m1 0h3m34 0h1m2 0h1m-157 1h1m3 0h3m1 0h5m2 0h2m1 0h2m4 0h3m3 0h1m1 0h1m12 0h1m16 0h1m1 0h1m1 0h6m2 0h1m1 0h2m4 0h1m1 0h1m9 0h1m3 0h1m11 0h1m5 0h1m1 0h1m30 0h1m2 0h1m-152 1h2m3 0h3m1 0h7m4 0h1m2 0h1m1 0h1m1 0h1m3 0h2m2 0h1m1 0h1m2 0h1m21 0h1m1 0h2m5 0h6m1 0h1m1 0h1m13 0h1m1 0h1m1 0h1m12 0h3m1 0h1m27 0h1m4 0h2m1 0h1m2 0h1m2 0h1m-158 1h1m3 0h4m1 0h10m4 0h1m2 0h1m3 0h3m7 0h1m1 0h1m2 0h1m16 0h1m3 0h1m4 0h1m3 0h6m16 0h1m42 0h3m2 0h3m2 0h2m6 0h1m2 0h1m-162 1h11m1 0h2m1 0h4m6 0h1m1 0h2m7 0h1m8 0h1m7 0h1m18 0h1m2 0h1m2 0h1m1 0h1m1 0h1m1 0h1m3 0h1m4 0h3m10 0h1m6 0h1m4 0h1m18 0h1m2 0h3m2 0h1m1 0h1m10 0h1m-158 1h7m1 0h10m5 0h1m1 0h2m2 0h1m4 0h2m12 0h1m11 0h1m10 0h1m2 0h1m1 0h3m11 0h1m2 0h3m7 0h3m12 0h1m14 0h1m4 0h1m1 0h2m-142 1h1m1 0h2m1 0h1m1 0h2m1 0h9m2 0h1m1 0h1m3 0h2m8 0h1m5 0h1m2 0h1m3 0h2m9 0h1m12 0h1m2 0h1m8 0h1m7 0h3m13 0h2m27 0h1m2 0h4m9 0h1m-155 1h1m1 0h8m1 0h4m2 0h3m1 0h1m1 0h1m3 0h1m6 0h7m6 0h2m1 0h2m7 0h3m1 0h1m5 0h1m2 0h5m1 0h1m2 0h2m1 0h1m1 0h1m7 0h3m16 0h2m24 0h2m1 0h2m8 0h1m-153 1h9m2 0h2m2 0h1m1 0h2m5 0h3m5 0h2m4 0h1m24 0h1m5 0h1m2 0h3m1 0h1m2 0h2m2 0h1m12 0h1m1 0h1m14 0h1m26 0h1m1 0h1m-142 1h7m1 0h4m1 0h2m2 0h1m3 0h1m2 0h1m6 0h2m2 0h1m21 0h2m4 0h1m5 0h1m1 0h1m1 0h2m3 0h1m3 0h1m2 0h1m3 0h1m28 0h3m6 0h2m13 0h1m2 0h1m2 0h1m-149 1h6m1 0h9m12 0h3m2 0h2m1 0h3m10 0h1m1 0h1m4 0h2m4 0h1m11 0h1m7 0h2m1 0h1m3 0h2m1 0h1m8 0h1m4 0h1m4 0h1m1 0h1m4 0h3m1 0h7m5 0h1m7 0h2m-144 1h7m2 0h3m1 0h2m10 0h2m1 0h2m1 0h1m1 0h1m1 0h6m5 0h2m1 0h2m5 0h1m6 0h1m2 0h1m7 0h1m4 0h4m2 0h2m1 0h1m4 0h1m4 0h1m3 0h1m2 0h2m8 0h2m4 0h1m1 0h3m1 0h3m8 0h1m13 0h1m-152 1h3m1 0h7m1 0h5m1 0h1m1 0h1m2 0h3m1 0h1m3 0h1m1 0h1m1 0h1m1 0h1m1 0h1m2 0h1m4 0h2m3 0h2m3 0h1m4 0h3m5 0h2m2 0h2m1 0h8m1 0h2m3 0h2m1 0h1m6 0h2m7 0h1m3 0h1m4 0h1m1 0h6m1 0h2m11 0h3m2 0h1m1 0h1m-148 1h2m2 0h7m1 0h6m3 0h1m1 0h1m2 0h2m2 0h2m1 0h4m2 0h2m4 0h1m1 0h1m1 0h2m1 0h1m1 0h1m4 0h1m8 0h1m7 0h4m1 0h4m15 0h1m6 0h2m6 0h9m1 0h1m13 0h1m8 0h1m-149 1h2m1 0h2m1 0h2m2 0h4m1 0h4m2 0h1m2 0h2m4 0h4m1 0h1m1 0h1m11 0h2m8 0h1m1 0h1m6 0h1m1 0h1m5 0h1m2 0h1m2 0h1m13 0h3m2 0h1m2 0h2m3 0h1m1 0h1m4 0h9m1 0h3m12 0h3m-140 1h9m2 0h4m1 0h3m1 0h1m7 0h2m2 0h1m1 0h2m2 0h1m14 0h1m3 0h1m6 0h2m1 0h1m3 0h1m3 0h1m8 0h1m11 0h1m7 0h1m4 0h1m1 0h2m1 0h1m2 0h5m1 0h1m2 0h2m3 0h1m1 0h1m-136 1h6m1 0h3m2 0h3m5 0h3m1 0h2m2 0h2m6 0h1m11 0h1m2 0h2m42 0h1m8 0h2m2 0h1m1 0h1m1 0h1m2 0h2m1 0h2m11 0h2m-133 1h5m1 0h6m3 0h1m1 0h4m1 0h1m2 0h1m7 0h1m4 0h1m8 0h1m2 0h1m7 0h1m3 0h2m3 0h1m28 0h2m1 0h1m5 0h2m3 0h2m1 0h1m3 0h1m1 0h1m12 0h1m-132 1h2m1 0h1m1 0h7m3 0h1m1 0h1m1 0h2m10 0h1m1 0h1m3 0h1m1 0h2m2 0h1m5 0h1m6 0h1m4 0h3m14 0h1m8 0h1m1 0h1m1 0h1m4 0h2m2 0h1m3 0h1m4 0h2m1 0h1m14 0h1m2 0h2m-130 1h2m1 0h1m4 0h1m1 0h2m2 0h2m1 0h4m7 0h3m2 0h1m3 0h2m13 0h1m8 0h1m1 0h2m15 0h1m13 0h4m4 0h1m2 0h1m1 0h2m4 0h1m1 0h1m1 0h1m2 0h1m-121 1h6m2 0h1m2 0h2m4 0h2m1 0h1m2 0h2m1 0h1m6 0h1m3 0h3m4 0h1m1 0h1m1 0h1m3 0h1m8 0h1m4 0h1m6 0h1m3 0h4m1 0h1m2 0h1m1 0h1m2 0h1m4 0h2m5 0h2m2 0h5m4 0h1m18 0h1m-134 1h2m2 0h3m3 0h1m11 0h1m1 0h3m2 0h1m8 0h1m2 0h4m1 0h1m16 0h1m7 0h1m13 0h3m6 0h1m2 0h1m2 0h1m4 0h1m2 0h4m2 0h3m9 0h1m-126 1h2m1 0h4m1 0h1m11 0h6m8 0h3m10 0h1m1 0h1m3 0h2m6 0h3m5 0h1m10 0h1m11 0h2m6 0h5m3 0h1m5 0h1m14 0h1m1 0h2m-129 1h2m6 0h1m6 0h1m2 0h1m5 0h1m6 0h1m3 0h1m6 0h1m7 0h1m7 0h1m2 0h1m5 0h1m1 0h1m3 0h1m8 0h1m5 0h1m7 0h1m1 0h1m1 0h2m1 0h1m7 0h1m5 0h3m2 0h1m-125 1h2m1 0h1m1 0h1m6 0h2m2 0h2m1 0h1m1 0h1m2 0h1m3 0h1m4 0h1m2 0h1m2 0h1m3 0h1m8 0h2m1 0h1m5 0h1m1 0h1m5 0h1m1 0h1m2 0h2m6 0h1m7 0h1m4 0h1m2 0h1m6 0h2m3 0h1m2 0h1m6 0h1m1 0h1m-121 1h3m2 0h1m3 0h1m1 0h1m2 0h1m1 0h4m2 0h1m10 0h5m14 0h1m13 0h1m2 0h1m1 0h1m5 0h1m3 0h3m12 0h1m9 0h1m4 0h1m6 0h1m1 0h4m-126 1h1m4 0h1m4 0h1m3 0h1m1 0h2m1 0h1m2 0h4m4 0h1m1 0h1m1 0h1m1 0h1m1 0h3m12 0h1m17 0h2m6 0h1m5 0h1m6 0h1m8 0h1m11 0h1m5 0h1m3 0h1m1 0h1m-123 1h2m8 0h1m3 0h1m2 0h1m3 0h1m1 0h2m3 0h1m1 0h1m2 0h1m1 0h2m1 0h4m23 0h1m3 0h1m1 0h2m3 0h2m4 0h1m25 0h1m7 0h3m1 0h1m-122 1h1m1 0h2m11 0h1m3 0h1m1 0h6m3 0h1m1 0h3m2 0h1m4 0h1m2 0h1m6 0h2m10 0h1m6 0h1m6 0h2m5 0h1m8 0h1m22 0h4m-113 1h1m3 0h1m2 0h1m1 0h1m2 0h2m1 0h1m1 0h3m2 0h1m1 0h2m1 0h1m1 0h1m3 0h2m9 0h2m1 0h1m11 0h1m7 0h1m14 0h1m1 0h1m-90 1h1m9 0h1m2 0h1m2 0h1m1 0h2m1 0h4m3 0h1m1 0h1m2 0h2m4 0h4m3 0h1m1 0h1m1 0h1m2 0h1m6 0h1m6 0h2m7 0h1m2 0h1m4 0h3m15 0h1m6 0h2m2 0h1m1 0h1m-118 1h1m3 0h1m11 0h7m3 0h1m1 0h2m4 0h5m1 0h1m2 0h2m2 0h2m6 0h2m6 0h1m5 0h2m11 0h1m4 0h1m2 0h1m2 0h1m22 0h1m-121 1h1m6 0h2m9 0h2m2 0h6m1 0h2m4 0h2m4 0h3m13 0h2m1 0h1m21 0h1m2 0h1m4 0h3m4 0h1m20 0h1m-104 1h2m2 0h4m5 0h1m1 0h1m4 0h1m3 0h3m1 0h1m7 0h1m5 0h1m1 0h4m2 0h3m17 0h2m3 0h5m2 0h1m3 0h1m-90 1h2m2 0h2m1 0h1m1 0h3m1 0h1m7 0h1m4 0h1m1 0h1m2 0h2m2 0h2m3 0h1m2 0h2m1 0h1m2 0h3m2 0h1m1 0h1m15 0h1m2 0h2m1 0h1m5 0h1m-76 1h3m11 0h1m3 0h4m1 0h1m2 0h2m8 0h1m4 0h2m22 0h1m1 0h1m1 0h1m2 0h2m1 0h3m12 0h1m-96 1h1m1 0h1m3 0h1m6 0h1m1 0h1m6 0h3m2 0h2m3 0h1m9 0h1m1 0h5m11 0h1m7 0h1m5 0h3m1 0h1m1 0h1m6 0h1m2 0h1m5 0h1m-114 1h1m22 0h2m5 0h1m1 0h4m4 0h1m2 0h3m1 0h2m1 0h1m9 0h1m2 0h2m5 0h1m15 0h2m2 0h1m1 0h6m7 0h1m3 0h1m-94 1h1m3 0h1m2 0h1m7 0h1m5 0h2m2 0h2m2 0h1m2 0h2m3 0h1m5 0h2m1 0h1m2 0h1m21 0h1m14 0h1m-98 1h1m5 0h1m4 0h1m1 0h3m14 0h1m1 0h1m1 0h3m1 0h1m2 0h1m1 0h1m1 0h1m2 0h4m3 0h1m1 0h1m1 0h3m22 0h2m1 0h2m4 0h2m-94 1h1m10 0h4m9 0h1m6 0h1m3 0h2m1 0h1m6 0h1m3 0h1m3 0h4m1 0h1m4 0h1m5 0h1m13 0h3m2 0h1m4 0h1m-94 1h1m12 0h1m1 0h1m3 0h1m5 0h1m10 0h3m5 0h2m1 0h2m3 0h1m1 0h1m1 0h1m5 0h1m16 0h9m5 0h1m-100 1h1m21 0h1m1 0h3m1 0h1m8 0h1m1 0h5m3 0h1m2 0h5m1 0h1m3 0h1m1 0h3m6 0h1m1 0h1m13 0h1m1 0h3m2 0h1m4 0h1m3 0h1m-91 1h1m8 0h1m3 0h1m1 0h1m6 0h2m2 0h4m1 0h1m1 0h1m4 0h1m1 0h3m5 0h1m1 0h3m3 0h2m1 0h1m5 0h2m5 0h1m3 0h1m1 0h3m8 0h1m-95 1h1m16 0h3m1 0h1m4 0h2m1 0h2m1 0h5m5 0h2m1 0h5m1 0h2m9 0h2m10 0h1m6 0h1m2 0h3m6 0h1m-76 1h4m2 0h1m1 0h2m1 0h3m3 0h3m5 0h1m1 0h1m2 0h1m1 0h1m1 0h1m8 0h1m12 0h1m2 0h2m-63 1h4m1 0h2m3 0h1m2 0h1m4 0h2m7 0h2m2 0h1m2 0h1m1 0h1m10 0h2m12 0h2m-74 1h1m15 0h1m1 0h2m1 0h1m2 0h1m4 0h1m1 0h1m6 0h3m3 0h2m2 0h1m10 0h2m12 0h1m-81 1h2m9 0h1m6 0h1m1 0h2m1 0h2m3 0h1m3 0h1m1 0h1m2 0h1m9 0h2m1 0h2m1 0h1m6 0h1m1 0h1m1 0h1m5 0h1m6 0h1m2 0h1m-70 1h1m1 0h1m4 0h2m4 0h1m6 0h1m3 0h2m1 0h1m11 0h1m2 0h1m6 0h1m2 0h1m2 0h1m4 0h1m9 0h1m-80 1h1m9 0h2m4 0h2m3 0h1m1 0h1m3 0h5m2 0h1m-26 1h2m6 0h1m2 0h2m5 0h2m2 0h1m1 0h4m30 0h2m-64 1h1m5 0h1m5 0h1m8 0h3m1 0h2m-11 1h1m4 0h1m4 0h2m-27 1h1m1 0h1m-4 1h1m1 0h1m8 0h1m-11 1h2m3 0h1m-2 1h2m-1 1h1"/>
<path stroke="#414487" d="M109 2h1m6 1h1m-4 1h1m11 0h1m2 0h1m3 0h1m-19 2h1m1 0h1m13 0h1m-33 1h1m4 0h1m14 0h1m-21 1h1m2 0h1m2 0h1m20 0h1m3 0h1m1 0h1m1 0h1m-36 1h1m7 0h1m13 0h1m-24 1h1m1 0h1m10 0h1m23 0h1m-36 1h1m9 0h1m5 0h1m6 0h1m6 0h1m4 0h1m-16 1h1m16 0h1m-21 1h1m3 0h2m1 0h1m12 0h1m-40 1h1m19 0h2m1 0h1m8 0h1m5 0h1m-45 1h1m23 0h1m11 0h1m5 0h1m-45 1h2m2 0h1m24 0h1m3 0h1m3 0h1m8 0h1m-45 1h1m6 0h1m1 0h1m12 0h1m9 0h1m13 0h1m-44 1h1m13 0h1m3 0h2m1 0h1m3 0h1m9 0h2m8 0h1m-48 1h1m3 0h1m-11 1h1m3 0h1m4 0h1m3 0h1m27 0h2m-42 1h2m8 0h1m27 0h1m14 0h1m-48 1h2m3 0h1m1 0h1m22 0h1m1 0h1m-40 1h1m4 0h1m5 0h1m4 0h1m9 0h1m5 0h1m4 0h1m1 0h1m2 0h1m10 0h1m-53 1h1m9 0h1m2 0h1m2 0h1m14 0h1m11 0h1m7 0h2m-56 1h1m2 0h1m8 0h1m2 0h1m2 0h1m2 0h1m2 0h1m10 0h1m20 0h1m-54 1h3m38 0h2m5 0h1m3 0h1m3 0h1m-63 1h1m2 0h1m13 0h1m6 0h1m13 0h1m18 0h1m-55 1h1m23 0h1m6 0h1m13 0h1m1 0h2m3 0h1m1 0h1m-43 1h1m43 0h2m-57 1h1m1 0h1m4 0h1m1 0h1m2 0h1m2 0h1m15 0h1m1 0h1m22 0h1m2 0h1m-63 1h2m7 0h1m4 0h1m2 0h1m5 0h1m16 0h1m2 0h1m4 0h1m6 0h1m-59 1h1m1 0h2m12 0h2m7 0h1m17 0h1m21 0h1m-58 1h1m7 0h1m8 0h1m1 0h1m1 0h1m4 0h1m11 0h1m15 0h1m-64 1h1m16 0h2m2 0h1m1 0h1m6 0h1m1 0h1m11 0h1m17 0h1m-65 1h1m6 0h1m3 0h1m17 0h1m11 0h2m6 0h1m1 0h1m15 0h1m-65 1h1m3 0h1m4 0h1m3 0h1m8 0h1m1 0h1m7 0h1m13 0h1m1 0h1m2 0h1m11 0h1m1 0h1m-30 1h1m6 0h1m3 0h1m6 0h1m6 0h1m-65 1h1m27 0h1m4 0h1m24 0h1m-93 1h1m30 0h1m7 0h1m50 0h1m1 0h1m-65 1h1m3 0h1m3 0h2m6 0h1m1 0h1m16 0h1m12 0h1m-75 1h1m30 0h1m27 0h2m14 0h1m13 0h3m-94 1h1m1 0h1m29 0h1m1 0h1m28 0h1m13 0h2m6 0h1m-86 1h1m2 0h2m23 0h1m2 0h1m53 0h1m-82 1h4m1 0h2m12 0h1m19 0h3m15 0h1m14 0h1m4 0h1m1 0h2m8 0h3m-92 1h2m12 0h1m13 0h1m1 0h1m5 0h1m45 0h2m-89 1h1m17 0h1m70 0h1m12 0h1m-102 1h2m9 0h1m4 0h1m15 0h2m6 0h1m1 0h1m-44 1h2m3 0h1m5 0h1m4 0h1m11 0h1m10 0h1m3 0h1m30 0h1m4 0h1m6 0h1m1 0h2m-122 1h2m27 0h1m9 0h1m2 0h1m1 0h1m8 0h1m18 0h1m21 0h1m14 0h1m6 0h1m2 0h1m1 0h1m-126 1h1m35 0h1m9 0h1m2 0h2m3 0h1m25 0h2m1 0h1m8 0h1m25 0h1m-83 1h1m6 0h1m23 0h1m13 0h1m11 0h1m27 0h1m3 0h1m-88 1h1m6 0h1m2 0h2m1 0h1m3 0h1m20 0h2m6 0h1m1 0h1m34 0h1m3 0h1m-79 1h1m25 0h1m12 0h1m20 0h1m-112 1h1m53 0h2m1 0h1m6 0h1m1 0h1m2 0h1m2 0h1m18 0h1m4 0h1m-97 1h1m46 0h1m9 0h1m31 0h1m23 0h1m8 0h1m2 0h1m-85 1h2m5 0h1m2 0h2m2 0h1m30 0h2m14 0h1m25 0h1m-130 1h1m2 0h1m39 0h1m21 0h2m12 0h1m22 0h1m17 0h1m5 0h1m1 0h1m16 0h1m-145 1h3m3 0h1m8 0h1m33 0h1m1 0h1m1 0h1m9 0h1m3 0h1m5 0h1m2 0h1m30 0h1m1 0h1m10 0h1m6 0h1m22 0h1m1 0h1m-153 1h1m3 0h2m3 0h1m1 0h2m34 0h1m8 0h1m3 0h1m3 0h2m5 0h1m1 0h1m13 0h1m2 0h1m55 0h1m2 0h1m2 0h1m-154 1h1m12 0h1m28 0h1m4 0h1m7 0h1m16 0h1m34 0h1m3 0h1m12 0h1m1 0h1m18 0h1m1 0h2m-146 1h1m7 0h2m52 0h1m4 0h1m5 0h1m14 0h1m1 0h1m4 0h1m9 0h1m18 0h1m3 0h1m13 0h1m1 0h1m-140 1h1m1 0h1m29 0h1m3 0h1m4 0h1m9 0h1m9 0h1m2 0h1m3 0h1m2 0h1m8 0h2m13 0h1m11 0h1m6 0h1m8 0h1m14 0h1m-142 1h1m1 0h1m3 0h1m4 0h1m26 0h1m2 0h2m2 0h1m5 0h2m20 0h1m8 0h1m13 0h1m3 0h2m16 0h1m3 0h1m1 0h1m2 0h2m16 0h1m-147 1h3m29 0h1m6 0h1m1 0h1m2 0h1m6 0h1m9 0h1m6 0h1m9 0h2m4 0h1m16 0h1m1 0h1m15 0h1m3 0h1m16 0h1m-103 1h1m4 0h2m1 0h2m39 0h1m4 0h1m8 0h1m4 0h1m7 0h1m2 0h1m1 0h1m6 0h1m17 0h1m-140 1h1m1 0h1m1 0h1m5 0h1m20 0h1m3 0h1m4 0h1m6 0h1m2 0h2m5 0h1m18 0h1m5 0h1m7 0h1m18 0h1m5 0h1m5 0h1m-132 1h1m2 0h1m10 0h1m5 0h2m16 0h1m2 0h1m8 0h3m30 0h1m3 0h1m13 0h1m3 0h1m3 0h1m20 0h1m-129 1h1m10 0h1m2 0h1m18 0h1m4 0h1m11 0h1m3 0h1m25 0h2m3 0h1m4 0h1m8 0h1m6 0h1m6 0h1m6 0h1m4 0h1m11 0h1m3 0h1m7 0h1m-152 1h1m2 0h1m8 0h1m3 0h1m2 0h1m4 0h2m7 0h3m3 0h1m1 0h1m4 0h1m4 0h1m8 0h1m4 0h2m19 0h3m2 0h1m3 0h1m22 0h1m2 0h1m3 0h1m1 0h2m11 0h1m6 0h1m3 0h1m-151 1h2m9 0h1m5 0h4m1 0h1m5 0h1m8 0h1m1 0h1m2 0h2m23 0h1m6 0h1m3 0h1m4 0h1m1 0h1m2 0h1m3 0h1m1 0h1m5 0h1m1 0h1m2 0h1m3 0h1m5 0h1m11 0h1m11 0h1m-141 1h1m15 0h2m2 0h1m2 0h1m7 0h1m1 0h1m5 0h1m1 0h1m6 0h1m11 0h2m7 0h1m5 0h1m13 0h1m3 0h1m5 0h1m3 0h1m5 0h1m-109 1h1m22 0h2m3 0h1m3 0h1m4 0h1m1 0h1m2 0h1m1 0h1m12 0h1m4 0h1m8 0h1m9 0h1m12 0h1m10 0h1m1 0h1m4 0h1m15 0h1m7 0h1m-138 1h2m13 0h1m5 0h1m1 0h1m2 0h2m8 0h1m1 0h2m17 0h1m8 0h1m13 0h1m4 0h1m5 0h1m2 0h1m10 0h1m1 0h1m5 0h1m5 0h1m-119 1h1m4 0h1m13 0h1m1 0h4m2 0h1m7 0h1m3 0h1m2 0h4m1 0h1m9 0h1m3 0h1m12 0h2m6 0h2m11 0h1m15 0h2m16 0h4m9 0h1m1 0h1m-124 1h1m5 0h1m9 0h1m5 0h1m6 0h2m2 0h3m5 0h1m5 0h1m7 0h1m1 0h2m2 0h1m20 0h1m4 0h1m13 0h1m3 0h1m-126 1h1m6 0h1m5 0h1m10 0h1m7 0h1m10 0h1m4 0h2m9 0h1m2 0h1m1 0h1m1 0h1m13 0h1m4 0h2m6 0h1m3 0h1m15 0h1m1 0h1m4 0h1m11 0h1m-129 1h2m2 0h1m11 0h1m1 0h1m1 0h1m6 0h2m7 0h1m1 0h1m1 0h1m16 0h1m6 0h1m33 0h2m11 0h1m8 0h1m6 0h1m14 0h1m-138 1h1m4 0h1m18 0h1m5 0h1m2 0h2m67 0h1m-117 1h1m3 0h1m4 0h1m17 0h1m1 0h1m5 0h2m4 0h2m2 0h2m11 0h1m4 0h1m16 0h1m6 0h1m1 0h1m9 0h1m13 0h1m6 0h1m14 0h2m-135 1h2m20 0h1m3 0h1m9 0h1m3 0h1m4 0h2m4 0h3m7 0h1m9 0h1m23 0h1m18 0h1m2 0h1m10 0h1m6 0h1m-139 1h1m1 0h1m5 0h1m15 0h1m1 0h1m11 0h2m6 0h2m1 0h2m5 0h1m22 0h1m9 0h2m4 0h1m4 0h1m12 0h2m1 0h1m1 0h1m21 0h1m-141 1h1m2 0h1m1 0h1m12 0h1m1 0h1m10 0h1m3 0h1m5 0h2m2 0h1m3 0h1m4 0h1m8 0h1m6 0h1m21 0h1m1 0h1m1 0h1m2 0h1m16 0h1m2 0h1m20 0h1m6 0h1m-159 1h1m6 0h1m11 0h1m3 0h5m6 0h1m2 0h2m11 0h2m6 0h1m7 0h1m6 0h1m2 0h1m7 0h2m5 0h1m1 0h1m41 0h1m15 0h1m2 0h1m-154 1h1m2 0h1m7 0h2m5 0h1m26 0h3m1 0h1m4 0h1m19 0h1m7 0h1m1 0h1m2 0h4m41 0h1m-132 1h1m1 0h1m2 0h1m2 0h1m4 0h1m3 0h1m6 0h1m5 0h1m4 0h2m7 0h1m4 0h1m1 0h1m3 0h1m26 0h1m44 0h1m1 0h1m-133 1h1m12 0h2m15 0h1m12 0h1m3 0h1m3 0h1m3 0h1m11 0h1m18 0h1m1 0h1m5 0h2m1 0h2m5 0h1m29 0h1m2 0h1m-139 1h2m4 0h2m8 0h1m2 0h1m2 0h1m4 0h1m11 0h2m2 0h1m3 0h1m3 0h2m9 0h1m14 0h1m6 0h2m3 0h1m11 0h1m2 0h2m30 0h1m-137 1h1m4 0h1m1 0h2m7 0h1m15 0h2m3 0h3m2 0h1m6 0h1m3 0h1m8 0h1m5 0h1m17 0h1m1 0h1m11 0h1m4 0h2m43 0h1m-144 1h2m10 0h1m1 0h2m2 0h1m9 0h3m2 0h1m9 0h2m7 0h1m12 0h1m4 0h1m1 0h1m14 0h1m-93 1h1m2 0h1m1 0h2m13 0h1m1 0h1m6 0h3m4 0h1m21 0h1m9 0h1m6 0h1m1 0h1m11 0h1m6 0h1m4 0h1m-100 1h1m14 0h2m9 0h1m13 0h1m2 0h3m4 0h1m9 0h1m17 0h1m16 0h3m37 0h1m-139 1h1m2 0h1m5 0h2m1 0h1m7 0h1m1 0h1m7 0h1m1 0h1m3 0h1m1 0h1m1 0h2m4 0h1m1 0h1m3 0h1m7 0h2m3 0h1m12 0h1m1 0h1m3 0h1m47 0h1m3 0h2m2 0h1m-140 1h1m2 0h1m5 0h2m2 0h1m3 0h2m19 0h1m4 0h1m3 0h2m14 0h1m8 0h1m2 0h1m16 0h1m4 0h1m-95 1h1m2 0h1m11 0h1m3 0h1m2 0h1m4 0h1m5 0h1m5 0h1m5 0h1m3 0h1m9 0h1m4 0h1m7 0h1m17 0h1m40 0h1m-132 1h1m1 0h1m10 0h3m2 0h1m2 0h1m2 0h1m1 0h2m15 0h1m15 0h2m12 0h1m7 0h2m6 0h1m1 0h2m2 0h1m35 0h1m7 0h2m-139 1h1m6 0h1m9 0h1m17 0h1m4 0h1m5 0h1m2 0h1m6 0h1m15 0h1m8 0h1m14 0h1m27 0h2m5 0h1m7 0h1m-141 1h1m1 0h1m6 0h1m4 0h2m10 0h1m10 0h1m2 0h1m22 0h1m8 0h2m12 0h1m53 0h1m-142 1h2m14 0h1m61 0h2m5 0h1m34 0h1m3 0h2m3 0h1m2 0h2m-134 1h1m9 0h1m9 0h1m1 0h1m3 0h1m17 0h2m8 0h1m7 0h1m7 0h1m23 0h1m19 0h1m3 0h1m6 0h2m1 0h1m-128 1h1m2 0h1m22 0h1m9 0h1m6 0h2m8 0h1m11 0h1m2 0h2m2 0h1m5 0h1m18 0h2m17 0h1m11 0h1m8 0h1m1 0h1m-136 1h1m20 0h1m5 0h1m12 0h1m5 0h1m11 0h1m65 0h1m-134 1h2m1 0h1m11 0h2m17 0h1m10 0h1m3 0h1m2 0h1m23 0h2m6 0h1m11 0h1m2 0h1m5 0h1m1 0h1m20 0h1m3 0h1m-133 1h1m2 0h1m2 0h1m6 0h1m1 0h2m8 0h1m2 0h2m5 0h1m16 0h1m7 0h1m2 0h1m1 0h1m1 0h1m6 0h1m1 0h1m21 0h1m33 0h1m-127 1h1m5 0h1m7 0h1m7 0h1m6 0h1m16 0h1m12 0h1m13 0h1m15 0h1m7 0h1m5 0h1m15 0h1m-123 1h2m1 0h2m10 0h1m10 0h1m6 0h1m3 0h1m2 0h1m1 0h1m4 0h1m10 0h1m1 0h1m7 0h1m7 0h1m15 0h1m4 0h1m4 0h1m4 0h1m12 0h1m9 0h1m-124 1h1m16 0h1m1 0h1m5 0h1m7 0h1m18 0h1m16 0h1m14 0h1m10 0h1m-96 1h1m7 0h1m9 0h1m2 0h1m4 0h1m1 0h1m11 0h1m14 0h1m26 0h1m3 0h1m29 0h1m4 0h1m4 0h1m-139 1h2m4 0h1m11 0h1m21 0h1m3 0h1m1 0h1m52 0h1m2 0h1m1 0h1m1 0h1m23 0h1m1 0h1m-127 1h1m8 0h1m1 0h1m2 0h1m1 0h1m3 0h1m5 0h1m3 0h2m2 0h1m1 0h1m1 0h2m2 0h1m1 0h1m4 0h1m18 0h1m10 0h1m3 0h1m1 0h1m11 0h2m1 0h1m5 0h1m8 0h1m6 0h1m-129 1h1m4 0h1m4 0h1m2 0h1m3 0h1m13 0h1m2 0h1m9 0h1m5 0h1m7 0h1m18 0h1m7 0h2m1 0h1m2 0h2m7 0h1m10 0h1m3 0h1m2 0h1m3 0h1m4 0h1m-118 1h1m4 0h1m6 0h1m2 0h2m18 0h1m21 0h1m6 0h1m11 0h1m2 0h1m5 0h1m5 0h1m10 0h1m1 0h1m8 0h1m11 0h1m-139 1h1m1 0h1m8 0h2m1 0h1m1 0h1m2 0h1m1 0h1m10 0h2m21 0h1m1 0h1m11 0h1m20 0h1m5 0h1m6 0h1m1 0h1m6 0h1m2 0h1m2 0h2m-116 1h2m1 0h1m4 0h2m2 0h1m18 0h1m3 0h1m13 0h1m8 0h1m2 0h1m10 0h1m5 0h1m3 0h1m19 0h1m11 0h1m-113 1h1m2 0h1m4 0h1m6 0h1m7 0h1m17 0h1m1 0h1m9 0h2m6 0h1m13 0h1m7 0h1m7 0h1m3 0h1m-90 1h1m1 0h2m6 0h1m1 0h1m3 0h1m9 0h1m2 0h1m4 0h1m5 0h1m12 0h2m4 0h1m6 0h1m1 0h1m26 0h2m20 0h1m2 0h1m-121 1h3m3 0h2m21 0h1m3 0h1m8 0h1m2 0h1m3 0h1m7 0h1m7 0h3m1 0h1m4 0h1m9 0h1m17 0h2m4 0h1m2 0h1m-122 1h1m1 0h1m11 0h1m2 0h1m2 0h1m8 0h1m2 0h1m1 0h1m5 0h1m1 0h1m6 0h1m6 0h1m6 0h1m4 0h1m3 0h1m2 0h1m3 0h1m11 0h1m16 0h1m1 0h1m3 0h1m4 0h1m-119 1h1m4 0h1m1 0h1m1 0h2m1 0h1m2 0h1m7 0h2m11 0h1m4 0h1m31 0h1m10 0h1m12 0h2m3 0h1m1 0h1m5 0h1m5 0h1m2 0h1m-121 1h1m7 0h1m3 0h1m4 0h1m1 0h1m7 0h1m2 0h1m1 0h1m1 0h1m10 0h1m8 0h1m4 0h1m12 0h1m20 0h1m2 0h1m15 0h1m8 0h1m-121 1h1m2 0h1m6 0h1m5 0h1m2 0h1m10 0h1m1 0h1m1 0h1m3 0h1m6 0h1m6 0h1m15 0h1m6 0h2m2 0h1m1 0h1m17 0h1m3 0h1m7 0h1m11 0h1m1 0h1m-126 1h2m7 0h1m16 0h1m3 0h1m7 0h1m7 0h1m16 0h1m7 0h2m11 0h1m20 0h1m1 0h1m-108 1h1m11 0h1m17 0h1m8 0h1m4 0h1m1 0h1m26 0h1m2 0h5m13 0h1m11 0h2m-100 1h1m4 0h2m2 0h1m3 0h1m5 0h1m9 0h1m3 0h1m1 0h1m10 0h1m4 0h1m3 0h1m2 0h1m2 0h1m3 0h1m8 0h4m13 0h1m2 0h1m7 0h1m5 0h1m2 0h1m-113 1h2m4 0h1m4 0h1m2 0h1m11 0h1m3 0h1m6 0h1m6 0h1m10 0h1m5 0h1m8 0h1m18 0h1m-94 1h1m12 0h1m1 0h2m8 0h1m2 0h1m5 0h1m15 0h1m11 0h2m1 0h1m3 0h1m11 0h1m2 0h1m13 0h1m12 0h1m3 0h1m-114 1h1m25 0h1m5 0h1m9 0h1m6 0h1m9 0h1m8 0h1m7 0h1m2 0h1m1 0h1m13 0h1m-84 1h1m11 0h1m8 0h1m3 0h1m4 0h3m4 0h2m18 0h1m2 0h1m6 0h1m17 0h1m-95 1h1m9 0h1m5 0h1m4 0h1m2 0h1m6 0h1m14 0h1m27 0h1m2 0h1m3 0h1m3 0h2m2 0h1m-97 1h1m18 0h1m3 0h1m1 0h1m1 0h1m2 0h1m6 0h1m7 0h1m13 0h2m3 0h1m7 0h1m8 0h1m1 0h1m2 0h1m3 0h1m-79 1h2m4 0h1m3 0h1m2 0h1m8 0h1m5 0h1m3 0h1m19 0h1m9 0h1m11 0h2m-81 1h1m12 0h1m3 0h1m12 0h1m1 0h1m9 0h1m6 0h1m2 0h2m2 0h1m1 0h1m20 0h1m2 0h1m7 0h1m-82 1h2m6 0h1m3 0h1m2 0h2m1 0h1m3 0h1m14 0h1m5 0h1m4 0h2m21 0h1m6 0h1m1 0h1m-89 1h1m10 0h1m1 0h1m7 0h1m15 0h1m9 0h1m3 0h1m5 0h2m22 0h1m10 0h1m2 0h1m2 0h1m-88 1h1m7 0h1m6 0h1m1 0h3m5 0h1m1 0h2m2 0h1m3 0h1m10 0h2m16 0h1m2 0h1m11 0h1m7 0h1m-104 1h1m12 0h1m11 0h1m1 0h1m4 0h1m8 0h1m2 0h1m11 0h1m3 0h1m3 0h1m31 0h1m1 0h1m1 0h2m-103 1h1m7 0h1m2 0h1m13 0h3m2 0h1m3 0h1m26 0h1m1 0h1m1 0h1m4 0h1m4 0h2m11 0h1m8 0h1m-102 1h1m13 0h1m8 0h1m6 0h1m6 0h1m10 0h1m3 0h1m5 0h2m2 0h1m18 0h1m4 0h1m8 0h1m5 0h1m1 0h1m-74 1h1m2 0h1m5 0h1m6 0h1m1 0h1m3 0h1m8 0h1m14 0h1m1 0h1m1 0h2m-65 1h1m13 0h1m9 0h1m8 0h1m11 0h1m7 0h1m6 0h1m14 0h1m-87 1h1m7 0h1m25 0h1m13 0h1m18 0h1m2 0h1m10 0h1m-65 1h1m12 0h1m1 0h2m1 0h1m28 0h2m2 0h2m7 0h1m1 0h1m-82 1h1m26 0h1m1 0h1m1 0h2m18 0h1m2 0h1m5 0h1m6 0h3m3 0h2m-71 1h1m9 0h1m4 0h1m4 0h1m7 0h1m3 0h1m10 0h1m16 0h1m1 0h1m4 0h2m-76 1h1m11 0h1m3 0h1m12 0h1m3 0h1m6 0h1m32 0h1m-61 1h1m3 1h1m11 0h1m9 0h1m-31 1h1m21 0h1m2 0h1m2 0h1m-20 1h1m5 0h1m-13 2h1m2 1h1"/>
<path stroke="#35608D" d="M108 4h1m8 0h1m5 0h1m-18 1h1m4 0h1m9 0h1m3 0h1m-18 1h1m3 0h1m-6 1h2m1 0h1m3 0h1m11 0h1m-4 1h1m-10 1h1m21 0h1m-32 1h1m15 0h1m-26 1h1m10 0h1m11 0h1m-22 1h1m11 0h1m4 0h1m18 0h1m-11 1h1m3 0h1m3 1h1m-38 1h2m1 0h2m4 0h1m7 0h1m15 0h2m5 0h1m-48 1h1m2 0h1m13 0h1m-12 1h1m1 0h1m2 0h1m11 0h1m22 0h1m-47 1h1m8 0h1m28 0h1m-23 1h1m2 0h1m1 0h1m1 0h1m4 0h1m20 0h1m-40 1h1m2 0h1m1 0h1m1 0h1m24 0h1m-41 1h1m1 0h1m3 0h1m17 0h1m17 0h1m-28 1h1m23 0h1m-47 1h1m3 0h1m5 0h1m10 0h1m-19 1h1m15 0h1m2 0h1m1 0h2m10 0h1m1 0h1m10 0h1m-35 1h1m8 0h1m21 0h1m12 0h1m-61 1h1m2 0h2m4 0h1m2 0h1m3 0h1m24 0h1m-38 1h1m34 0h1m1 0h2m1 0h2m5 0h1m-54 1h1m7 0h1m1 0h1m2 0h1m5 0h1m2 0h1m8 0h1m9 0h1m1 0h1m1 0h1m11 0h1m3 0h1m-58 1h1m4 0h1m12 0h1m4 0h1m10 0h1m3 0h1m4 0h1m-37 1h1m13 0h1m22 0h1m13 0h1m-57 1h1m22 0h1m8 0h1m1 0h1m15 0h1m1 0h1m-61 1h1m4 0h1m4 0h1m4 0h1m5 0h1m12 0h1m7 0h1m10 0h1m3 0h1m-48 1h2m12 0h1m9 0h1m2 0h1m11 0h1m4 0h1m-51 1h1m49 0h2m2 0h1m2 0h1m3 0h1m-49 1h1m2 0h1m11 0h1m31 0h1m1 0h1m-69 1h2m4 0h1m2 0h1m16 0h1m1 0h1m9 0h1m2 0h1m5 0h1m19 0h1m-69 1h1m24 0h1m3 0h1m12 0h1m2 0h1m3 0h1m3 0h2m5 0h1m-57 1h1m2 0h1m27 0h1m7 0h1m4 0h1m1 0h1m3 0h1m2 0h1m-33 1h1m1 0h1m1 0h1m1 0h1m16 0h1m18 0h1m-100 1h1m25 0h1m3 0h1m45 0h1m14 0h1m8 0h1m-75 1h1m4 0h1m4 0h1m33 0h1m4 0h1m19 0h1m-68 1h1m41 0h1m15 0h1m-87 1h1m28 0h1m19 0h2m11 0h1m31 0h1m-95 1h1m31 0h1m45 0h1m7 0h2m-83 1h2m1 0h1m1 0h1m24 0h1m33 0h1m2 0h1m2 0h1m18 0h1m-89 1h2m1 0h1m4 0h1m13 0h1m12 0h1m33 0h1m7 0h1m-78 1h1m1 0h1m4 0h1m41 0h1m29 0h2m-83 1h2m7 0h1m38 0h1m1 0h1m10 0h1m1 0h1m-69 1h1m12 0h1m1 0h1m14 0h1m29 0h1m16 0h1m-77 1h1m16 0h2m8 0h1m27 0h1m-39 1h1m68 0h1m-75 1h1m24 0h1m29 0h1m7 0h2m9 0h1m-81 1h1m11 0h1m9 0h1m20 0h1m35 0h1m-78 1h1m31 0h1m18 0h1m16 0h1m1 0h1m-79 1h1m6 0h1m3 0h1m1 0h1m2 0h1m2 0h1m1 0h2m8 0h1m3 0h2m9 0h1m27 0h1m-118 1h1m2 0h1m40 0h1m12 0h1m3 0h1m4 0h1m17 0h2m12 0h1m15 0h1m-109 1h1m3 0h1m44 0h1m1 0h1m15 0h1m16 0h1m3 0h1m-35 1h1m12 0h1m4 0h1m8 0h1m41 0h1m-68 1h1m6 0h1m5 0h1m3 0h1m6 0h1m23 0h1m19 0h1m21 0h1m-150 1h1m8 0h1m33 0h1m2 0h1m10 0h1m5 0h1m3 0h1m33 0h1m3 0h1m-108 1h2m45 0h1m20 0h1m53 0h1m2 0h1m21 0h1m1 0h1m-106 1h1m29 0h1m11 0h1m10 0h1m19 0h1m-102 1h1m31 0h1m8 0h1m5 0h1m14 0h1m6 0h1m13 0h1m3 0h1m31 0h1m10 0h1m1 0h1m-108 1h1m4 0h1m2 0h1m18 0h1m28 0h1m11 0h2m3 0h1m32 0h1m-150 1h1m4 0h1m5 0h3m30 0h2m4 0h1m3 0h1m5 0h1m16 0h1m13 0h1m29 0h1m1 0h1m10 0h1m1 0h2m13 0h1m-114 1h1m16 0h1m23 0h1m1 0h2m23 0h1m9 0h1m17 0h1m7 0h1m-142 1h1m8 0h1m36 0h1m6 0h2m3 0h1m1 0h1m24 0h1m8 0h1m17 0h1m31 0h1m-145 1h1m9 0h1m31 0h3m8 0h1m3 0h2m19 0h1m4 0h1m3 0h1m4 0h1m3 0h1m9 0h1m12 0h1m19 0h1m3 0h1m-132 1h2m8 0h1m16 0h1m1 0h2m1 0h1m1 0h1m6 0h1m13 0h1m15 0h2m19 0h1m2 0h1m8 0h1m13 0h1m14 0h1m-125 1h1m1 0h1m16 0h1m3 0h1m5 0h1m2 0h1m2 0h1m16 0h1m12 0h1m8 0h1m1 0h1m25 0h1m26 0h1m-145 1h2m6 0h1m3 0h1m4 0h1m18 0h2m6 0h3m13 0h1m4 0h1m1 0h1m9 0h1m3 0h1m32 0h1m12 0h2m9 0h1m1 0h1m-144 1h1m8 0h1m5 0h1m2 0h1m21 0h1m5 0h1m1 0h1m8 0h1m3 0h1m18 0h1m4 0h1m4 0h1m5 0h1m24 0h1m4 0h1m-115 1h1m1 0h1m24 0h1m20 0h1m8 0h1m8 0h2m6 0h1m9 0h1m11 0h1m4 0h1m31 0h1m-148 1h1m1 0h1m10 0h1m5 0h1m4 0h1m30 0h1m8 0h1m1 0h1m5 0h1m3 0h1m8 0h1m15 0h1m3 0h2m6 0h1m-114 1h1m4 0h1m10 0h1m16 0h1m9 0h1m14 0h1m11 0h1m1 0h1m20 0h1m26 0h1m3 0h1m16 0h1m1 0h1m-130 1h1m25 0h1m65 0h1m9 0h1m12 0h1m-123 1h1m4 0h1m25 0h1m15 0h1m24 0h1m2 0h1m15 0h1m1 0h1m18 0h1m-121 1h1m16 0h1m14 0h1m4 0h2m7 0h1m7 0h1m1 0h1m20 0h1m1 0h1m4 0h1m5 0h1m-94 1h1m4 0h1m3 0h1m4 0h1m2 0h1m2 0h1m2 0h1m19 0h1m2 0h1m2 0h1m5 0h1m37 0h1m13 0h1m3 0h1m2 0h1m5 0h1m-121 1h1m4 0h1m10 0h1m15 0h1m12 0h1m2 0h1m14 0h1m44 0h2m6 0h1m2 0h1m6 0h1m8 0h1m11 0h1m-133 1h1m2 0h1m1 0h2m21 0h1m5 0h1m2 0h2m11 0h1m1 0h1m10 0h1m3 0h2m31 0h1m11 0h1m-122 1h1m1 0h1m3 0h2m10 0h1m29 0h1m12 0h1m4 0h1m23 0h1m-108 1h1m19 0h1m5 0h1m6 0h1m7 0h1m2 0h2m1 0h1m13 0h1m8 0h1m6 0h1m27 0h1m-100 1h2m25 0h1m13 0h1m7 0h2m2 0h1m24 0h1m10 0h2m-87 1h1m4 0h1m9 0h2m6 0h2m18 0h2m5 0h1m22 0h1m6 0h1m46 0h1m-134 1h1m1 0h2m7 0h1m1 0h1m3 0h1m1 0h3m5 0h1m19 0h1m10 0h1m18 0h1m48 0h1m15 0h1m1 0h1m-151 1h1m7 0h1m3 0h2m1 0h1m3 0h1m1 0h1m9 0h1m2 0h1m1 0h1m9 0h1m5 0h1m12 0h1m18 0h1m11 0h1m4 0h1m3 0h1m42 0h2m-151 1h1m2 0h1m14 0h2m9 0h2m8 0h1m3 0h1m14 0h1m3 0h1m1 0h1m1 0h1m10 0h1m3 0h1m4 0h1m7 0h1m11 0h1m-75 1h1m9 0h1m1 0h1m15 0h1m1 0h1m2 0h1m8 0h1m11 0h1m17 0h1m30 0h1m1 0h2m-137 1h1m5 0h1m19 0h1m16 0h1m16 0h1m40 0h1m27 0h1m-128 1h1m10 0h2m3 0h1m1 0h1m8 0h1m2 0h1m2 0h1m4 0h1m1 0h1m7 0h1m9 0h1m12 0h1m2 0h1m13 0h1m40 0h1m7 0h1m-140 1h1m2 0h2m10 0h3m7 0h1m6 0h1m29 0h1m2 0h1m5 0h1m14 0h1m12 0h2m39 0h1m-126 1h1m18 0h1m6 0h1m31 0h1m54 0h1m-119 1h1m16 0h1m4 0h3m2 0h2m17 0h1m2 0h1m3 0h1m16 0h1m2 0h1m-81 1h1m14 0h2m17 0h1m4 0h2m30 0h1m2 0h1m21 0h1m39 0h1m-139 1h1m7 0h1m17 0h1m46 0h1m15 0h1m10 0h1m42 0h2m-162 1h1m17 0h1m4 0h1m13 0h1m19 0h1m15 0h1m30 0h1m1 0h1m7 0h1m1 0h2m30 0h1m-128 1h1m9 0h1m6 0h1m4 0h1m4 0h1m11 0h1m9 0h1m1 0h1m7 0h1m1 0h1m5 0h1m21 0h2m25 0h1m10 0h1m4 0h1m4 0h1m-127 1h1m12 0h1m3 0h1m1 0h1m32 0h1m34 0h1m14 0h1m2 0h1m-108 1h2m15 0h1m5 0h1m6 0h1m4 0h1m9 0h1m32 0h2m28 0h1m18 0h1m-142 1h1m4 0h1m9 0h2m1 0h1m8 0h1m1 0h1m1 0h1m10 0h1m33 0h1m5 0h1m6 0h1m4 0h1m2 0h1m34 0h2m6 0h1m-120 1h1m9 0h1m3 0h1m2 0h1m6 0h1m3 0h1m1 0h1m4 0h1m10 0h1m3 0h1m12 0h1m30 0h1m5 0h1m6 0h1m-94 1h1m3 0h1m26 0h1m6 0h1m3 0h2m9 0h1m3 0h1m8 0h1m27 0h1m7 0h1m-129 1h1m1 0h1m16 0h1m9 0h2m11 0h1m27 0h1m11 0h1m6 0h1m32 0h2m-130 1h1m14 0h1m21 0h1m16 0h1m12 0h1m9 0h1m24 0h2m-101 1h1m38 0h1m1 0h1m7 0h1m3 0h1m16 0h1m16 0h1m11 0h1m8 0h1m21 0h1m-125 1h1m30 0h3m5 0h1m2 0h1m6 0h1m11 0h1m17 0h1m9 0h1m31 0h1m-126 1h1m1 0h2m29 0h1m8 0h1m20 0h1m5 0h1m4 0h1m5 0h1m14 0h1m9 0h1m21 0h1m-129 1h1m11 0h1m3 0h1m19 0h1m6 0h1m4 0h1m2 0h1m12 0h1m33 0h1m-98 1h1m7 0h1m6 0h1m5 0h1m7 0h1m11 0h2m5 0h1m4 0h1m1 0h1m4 0h1m20 0h2m10 0h1m2 0h1m7 0h1m2 0h1m-121 1h1m18 0h1m2 0h1m1 0h1m22 0h1m6 0h1m4 0h1m28 0h1m4 0h1m4 0h1m4 0h1m6 0h1m-93 1h1m7 0h1m1 0h1m9 0h1m8 0h1m29 0h1m1 0h1m10 0h1m16 0h1m4 0h1m6 0h1m2 0h1m1 0h1m-125 1h1m3 0h1m2 0h1m13 0h1m3 0h1m8 0h1m8 0h1m1 0h1m2 0h1m8 0h1m25 0h1m25 0h1m7 0h1m14 0h1m1 0h2m-123 1h1m16 0h1m1 0h1m1 0h1m8 0h1m11 0h2m12 0h1m21 0h1m17 0h1m19 0h1m-129 1h1m27 0h1m5 0h1m25 0h1m3 0h1m6 0h1m1 0h1m12 0h1m2 0h2m10 0h2m29 0h1m-135 1h1m2 0h1m4 0h1m7 0h1m2 0h1m19 0h1m1 0h2m2 0h1m1 0h1m17 0h1m5 0h1m16 0h1m22 0h1m4 0h1m4 0h1m-120 1h1m7 0h1m3 0h1m1 0h1m8 0h1m34 0h1m10 0h1m11 0h1m12 0h1m16 0h1m11 0h1m-103 1h1m9 0h2m5 0h2m9 0h1m11 0h1m20 0h1m12 0h1m4 0h1m2 0h1m1 0h1m2 0h1m3 0h1m2 0h1m2 0h1m1 0h1m-106 1h1m12 0h1m13 0h2m1 0h2m5 0h1m7 0h1m2 0h1m1 0h1m4 0h1m4 0h1m26 0h1m5 0h1m1 0h1m-112 1h1m4 0h1m3 0h1m37 0h2m5 0h1m10 0h1m44 0h1m12 0h1m-124 1h1m13 0h1m1 0h2m2 0h1m2 0h1m8 0h1m1 0h1m1 0h2m12 0h1m3 0h1m7 0h1m15 0h2m9 0h1m13 0h1m-104 1h1m16 0h1m2 0h1m1 0h1m1 0h1m14 0h1m2 0h1m16 0h1m1 0h1m26 0h1m12 0h1m8 0h1m7 0h1m-115 1h1m12 0h1m2 0h1m2 0h1m8 0h1m7 0h1m2 0h1m4 0h1m4 0h1m19 0h1m3 0h1m9 0h1m1 0h1m8 0h1m2 0h1m2 0h1m11 0h1m5 0h1m-110 1h1m4 0h1m2 0h1m10 0h1m23 0h1m4 0h1m22 0h1m17 0h1m4 0h1m-73 1h1m20 0h3m17 0h1m1 0h3m2 0h1m2 0h1m6 0h1m-84 1h1m6 0h1m3 0h1m35 0h1m2 0h1m3 0h1m10 0h2m1 0h1m16 0h2m-92 1h1m3 0h1m28 0h1m14 0h1m27 0h1m14 0h2m3 0h1m2 0h1m7 0h1m-97 1h1m14 0h1m3 0h1m7 0h1m6 0h1m17 0h1m7 0h1m16 0h1m2 0h1m2 0h1m3 0h1m-97 1h1m9 0h1m10 0h1m1 0h2m5 0h1m19 0h1m2 0h1m8 0h1m1 0h2m-71 1h1m15 0h1m2 0h1m3 0h1m2 0h1m8 0h2m8 0h1m21 0h2m3 0h1m3 0h1m3 0h2m12 0h1m1 0h1m6 0h1m6 0h1m-100 1h1m2 0h1m2 0h2m15 0h1m19 0h1m12 0h1m4 0h1m5 0h1m4 0h1m12 0h1m4 0h1m3 0h1m5 0h1m-117 1h1m41 0h1m23 0h1m9 0h1m5 0h2m5 0h1m19 0h1m3 0h1m-107 1h1m19 0h1m13 0h1m13 0h1m5 0h1m4 0h1m5 0h1m10 0h2m3 0h1m21 0h1m-107 1h1m21 0h1m1 0h1m6 0h1m10 0h1m3 0h1m15 0h1m2 0h1m31 0h1m10 0h1m-97 1h1m6 0h1m8 0h1m18 0h1m15 0h1m6 0h1m2 0h1m22 0h1m-97 1h1m6 0h2m17 0h1m4 0h1m11 0h1m41 0h1m6 0h1m-87 1h1m16 0h1m6 0h2m10 0h1m24 0h1m25 0h1m-67 1h1m7 0h1m21 0h1m7 0h1m18 0h1m1 0h1m-79 1h1m30 0h1m16 0h1m10 0h1m2 0h1m2 0h1m13 0h1m2 0h1m-87 1h1m25 0h1m3 0h2m4 0h1m2 0h3m27 0h1m3 0h1m17 0h1m-89 1h1m17 0h1m1 0h1m1 0h1m4 0h1m7 0h1m1 0h1m8 0h1m1 0h1m3 0h1m7 0h1m12 0h2m-44 1h1m5 0h1m5 0h2m7 0h1m8 0h1m-48 1h1m10 0h1m-27 1h1m2 0h1m9 0h1m6 0h2m15 0h1m28 0h1m1 0h1m1 0h1m-1 1h1m-47 1h1m-23 1h1m21 0h1m5 0h1m-21 1h1m6 0h1m2 0h1m-7 1h1m-4 3h1"/>
<path stroke="#2A788E" d="M113 3h1m5 0h1m6 0h1m7 1h1m-22 1h1m8 0h1m1 0h1m-23 1h1m3 0h1m-7 1h2m33 0h1m-10 1h1m1 0h1m-29 1h1m2 0h1m5 0h1m6 0h1m12 0h1m-32 1h1m4 0h1m18 0h1m-25 1h1m21 0h1m3 0h1m-28 1h1m19 0h1m-24 1h1m8 0h1m9 0h1m24 0h1m-38 1h1m2 0h1m10 0h1m5 0h1m6 0h1m2 0h1m-38 1h1m6 0h1m19 0h1m-21 1h1m9 0h1m5 0h1m1 0h1m12 0h1m-47 1h1m8 0h1m39 0h1m-35 1h1m10 1h2m1 0h1m15 0h1m7 0h1m-57 1h1m5 0h1m6 0h2m10 0h1m-18 1h1m10 0h1m12 0h1m12 0h1m-40 1h1m7 0h1m20 0h1m8 0h1m8 0h1m2 0h1m-46 1h1m4 0h1m22 0h1m3 0h1m2 0h1m-46 1h1m5 0h1m2 0h1m7 0h1m10 0h2m13 1h1m-40 2h1m2 0h1m2 0h2m4 0h1m36 0h1m3 0h1m-59 1h1m10 0h1m8 0h1m8 0h1m31 0h1m-50 1h1m30 0h1m11 0h1m3 0h1m-45 1h2m23 0h1m10 0h1m-31 1h1m12 0h1m6 0h1m1 0h1m13 0h1m-43 1h1m11 0h1m3 0h1m1 0h1m25 0h1m-57 1h1m14 0h1m21 0h1m6 0h1m2 0h1m-41 1h1m18 0h1m1 0h1m4 0h1m18 0h1m-65 1h1m18 0h1m14 0h1m28 0h1m-16 1h1m6 0h1m-54 1h1m6 0h1m9 0h1m25 0h1m-39 1h1m1 0h1m18 0h1m36 0h1m-70 1h1m22 0h1m28 0h1m7 0h1m6 0h1m-61 1h1m4 0h1m4 0h1m43 0h1m3 0h1m5 0h2m-31 1h1m-38 1h1m65 0h1m-74 1h1m-25 1h2m26 0h1m17 0h2m14 0h1m32 0h1m-95 1h1m8 0h1m16 0h1m5 0h1m10 0h1m5 0h1m26 0h1m-57 1h1m2 0h1m45 0h1m14 0h1m-80 1h1m40 0h1m4 0h1m7 0h1m10 0h1m-73 1h1m17 0h1m5 0h1m7 0h1m1 0h1m40 0h1m2 0h3m-40 1h1m4 0h1m-41 1h1m3 0h1m3 0h1m4 0h1m1 0h1m1 0h1m5 0h1m52 0h1m2 0h2m-65 1h1m19 0h1m-23 1h1m11 0h2m51 0h1m-56 1h1m1 0h1m10 0h1m11 0h1m11 0h2m8 0h1m-55 1h1m4 0h2m23 0h1m14 0h1m10 0h1m-118 1h1m47 0h1m1 0h1m20 0h1m21 0h3m21 0h1m-21 1h1m-49 1h1m55 0h1m8 0h1m-49 1h1m26 0h1m4 0h1m16 0h1m6 0h1m16 0h1m-134 1h1m47 0h1m33 0h1m25 0h1m28 0h1m-92 1h1m6 0h1m9 0h1m15 0h1m8 0h1m27 0h1m-85 1h1m11 0h1m15 0h1m1 0h2m5 0h1m8 0h1m31 0h2m5 0h1m-117 1h1m65 0h1m2 0h1m13 0h1m4 0h1m24 0h1m3 0h1m-86 1h2m22 0h1m21 0h1m4 0h1m7 0h1m21 0h1m-67 1h1m24 0h1m15 0h1m1 0h1m32 0h2m-134 1h1m62 0h1m21 0h1m-90 1h1m4 0h1m5 0h1m41 0h2m40 0h1m2 0h1m3 0h1m7 0h1m4 0h1m2 0h1m8 0h1m5 0h1m-118 1h1m1 0h1m45 0h1m1 0h2m20 0h1m2 0h2m19 0h1m16 0h1m6 0h1m6 0h1m5 0h1m1 0h1m-138 1h1m3 0h1m27 0h1m6 0h1m6 0h1m30 0h1m3 0h2m7 0h1m1 0h1m27 0h1m-91 1h1m4 0h1m8 0h1m21 0h1m17 0h1m3 0h1m45 0h1m-146 1h2m1 0h1m46 0h1m1 0h1m6 0h1m3 0h1m33 0h1m25 0h1m18 0h1m1 0h1m-130 1h1m23 0h1m2 0h1m16 0h1m13 0h1m13 0h2m8 0h2m20 0h1m10 0h1m2 0h1m-100 1h1m4 0h1m40 0h1m2 0h1m5 0h1m8 0h1m1 0h1m7 0h1m4 0h2m8 0h1m6 0h1m8 0h1m-137 1h1m45 0h1m5 0h1m12 0h1m24 0h1m1 0h1m9 0h1m28 0h1m-74 1h1m4 0h1m9 0h1m2 0h1m15 0h1m3 0h1m8 0h1m-112 1h1m13 0h1m4 0h1m64 0h1m12 0h1m20 0h2m16 0h1m-136 1h1m12 0h1m3 0h1m25 0h1m3 0h1m27 0h1m56 0h1m-123 1h1m56 0h1m23 0h1m1 0h1m8 0h1m5 0h1m5 0h1m8 0h1m-118 1h1m2 0h1m49 0h1m45 0h1m10 0h1m3 0h1m25 0h1m-149 1h1m11 0h1m36 0h1m2 0h2m41 0h1m3 0h1m9 0h1m32 0h1m-132 1h1m4 0h1m1 0h3m21 0h1m24 0h1m24 0h1m18 0h2m3 0h1m-111 1h1m55 0h1m6 0h1m13 0h2m4 0h1m3 0h2m22 0h1m14 0h1m5 0h2m-139 1h1m1 0h2m28 0h2m8 0h2m5 0h1m27 0h1m-73 1h1m10 0h1m28 0h1m10 0h1m10 0h1m22 0h2m31 0h1m5 0h1m-131 1h1m1 0h2m12 0h1m2 0h1m2 0h1m8 0h1m10 0h1m84 0h2m-130 1h1m2 0h1m17 0h1m26 0h1m12 0h1m3 0h1m11 0h1m43 0h1m19 0h1m-116 1h1m9 0h1m15 0h1m9 0h1m8 0h1m6 0h1m42 0h2m1 0h1m14 0h1m-129 1h1m8 0h1m13 0h1m9 0h1m6 0h1m23 0h1m15 0h1m42 0h1m4 0h1m-133 1h1m1 0h4m56 0h1m17 0h1m48 0h1m-132 1h1m5 0h3m2 0h1m6 0h2m22 0h1m37 0h1m32 0h1m7 0h1m4 0h1m2 0h1m-144 1h1m16 0h1m2 0h1m15 0h1m29 0h2m4 0h1m9 0h1m50 0h1m-134 1h1m11 0h1m9 0h1m12 0h1m30 0h1m5 0h1m4 0h1m11 0h1m34 0h1m7 0h1m10 0h1m-136 1h1m11 0h1m3 0h1m5 0h1m1 0h1m4 0h1m4 0h1m1 0h1m21 0h2m13 0h1m43 0h1m8 0h1m-134 1h2m4 0h2m12 0h1m3 0h1m2 0h1m33 0h2m5 0h1m12 0h2m8 0h1m-92 1h1m2 0h1m31 0h1m5 0h1m2 0h1m11 0h1m6 0h1m1 0h1m25 0h1m1 0h1m-74 1h1m30 0h1m13 0h1m8 0h1m2 0h1m4 0h1m9 0h1m-59 1h1m1 0h2m1 0h1m5 0h1m1 0h1m12 0h2m27 0h1m31 0h1m4 0h1m2 0h1m4 0h2m-130 1h1m5 0h1m2 0h1m14 0h1m2 0h1m4 0h1m10 0h1m2 0h1m10 0h1m2 0h2m15 0h1m6 0h2m-92 1h1m4 0h1m3 0h1m7 0h1m3 0h1m19 0h2m6 0h1m6 0h1m36 0h1m19 0h1m-114 1h1m6 0h1m9 0h1m12 0h1m1 0h1m6 0h1m9 0h1m5 0h1m10 0h2m1 0h1m20 0h1m31 0h1m2 0h1m-107 1h1m4 0h1m3 0h2m14 0h1m4 0h1m8 0h1m10 0h2m7 0h1m14 0h1m1 0h1m17 0h2m1 0h1m3 0h1m-115 1h1m38 0h1m12 0h1m7 0h1m13 0h1m36 0h1m4 0h1m2 0h1m9 0h1m-134 1h1m8 0h1m8 0h1m9 0h1m11 0h1m13 0h1m2 0h1m32 0h1m2 0h1m1 0h1m21 0h2m-120 1h1m9 0h1m9 0h1m16 0h1m2 0h2m6 0h2m12 0h1m29 0h1m5 0h1m15 0h1m13 0h1m-132 1h2m26 0h1m5 0h1m3 0h2m2 0h1m4 0h1m8 0h2m2 0h1m4 0h1m6 0h1m15 0h1m11 0h2m20 0h1m5 0h1m3 0h1m-127 1h1m22 0h1m14 0h2m25 0h1m7 0h1m7 0h2m3 0h1m-82 1h1m17 0h2m15 0h1m41 0h1m8 0h1m2 0h1m15 0h1m15 0h1m-110 1h1m15 0h1m32 0h1m3 0h3m3 0h2m3 0h1m2 0h1m9 0h1m11 0h2m3 0h1m11 0h1m-99 1h2m8 0h1m4 0h1m2 0h1m2 0h1m4 0h1m2 0h1m5 0h1m3 0h1m3 0h1m48 0h1m-101 1h1m21 0h2m5 0h1m10 0h1m2 0h2m20 0h1m3 0h1m21 0h1m10 0h1m1 0h1m-130 1h1m19 0h1m22 0h2m7 0h1m5 0h1m8 0h1m6 0h1m18 0h1m9 0h1m9 0h1m17 0h1m-129 1h1m9 0h1m2 0h1m8 0h1m3 0h1m9 0h1m7 0h1m2 0h1m13 0h1m25 0h1m11 0h1m3 0h1m11 0h1m-116 1h1m15 0h2m18 0h1m9 0h1m10 0h1m2 0h1m6 0h1m5 0h1m2 0h1m29 0h1m20 0h1m-117 1h2m2 0h1m14 0h1m2 0h1m2 0h1m10 0h2m7 0h2m4 0h1m4 0h2m4 0h1m3 0h1m4 0h1m7 0h1m20 0h1m-112 1h1m5 0h1m8 0h1m1 0h1m2 0h1m4 0h1m7 0h1m9 0h1m9 0h1m4 0h1m19 0h1m2 0h1m13 0h1m8 0h1m7 0h1m-105 1h1m16 0h1m37 0h1m1 0h1m1 0h1m4 0h1m2 0h1m13 0h1m2 0h2m19 0h1m-109 1h1m58 0h1m5 0h1m3 0h1m3 0h1m4 0h1m3 0h1m1 0h2m7 0h1m20 0h1m2 0h1m-123 1h1m2 0h1m6 0h1m4 0h1m1 0h1m1 0h1m13 0h1m2 0h1m5 0h1m4 0h1m32 0h1m9 0h1m4 0h1m9 0h1m6 0h1m4 0h1m3 0h1m-121 1h1m2 0h1m15 0h2m6 0h1m7 0h1m7 0h1m6 0h1m19 0h1m6 0h2m3 0h1m-91 1h1m5 0h1m3 0h1m16 0h1m39 0h1m19 0h1m2 0h2m1 0h1m4 0h1m20 0h1m-115 1h1m3 0h1m2 0h2m15 0h1m6 0h1m5 0h1m12 0h1m22 0h1m11 0h1m9 0h1m7 0h1m10 0h1m-114 1h2m9 0h1m5 0h1m26 0h1m6 0h1m16 0h1m4 0h1m11 0h1m2 0h1m14 0h1m15 0h1m-118 1h1m4 0h1m6 0h1m10 0h2m19 0h2m3 0h1m8 0h1m3 0h1m1 0h1m13 0h1m6 0h1m8 0h1m5 0h1m10 0h1m-108 1h1m19 0h1m16 0h1m3 0h1m20 0h1m4 0h3m-68 1h2m33 0h1m28 0h2m4 0h1m8 0h1m-93 1h1m15 0h1m25 0h1m2 0h1m22 0h1m1 0h1m11 0h1m6 0h1m5 0h1m3 0h1m1 0h1m13 0h1m-107 1h1m4 0h1m24 0h1m7 0h2m3 0h1m11 0h1m3 0h1m6 0h1m22 0h1m2 0h1m6 0h1m-100 1h1m21 0h1m11 0h1m1 0h1m6 0h1m10 0h1m4 0h1m5 0h2m4 0h2m15 0h2m-90 1h2m8 0h1m7 0h1m7 0h1m13 0h1m6 0h1m25 0h1m17 0h1m3 0h1m-89 1h1m1 0h1m14 0h1m2 0h1m5 0h1m7 0h1m15 0h1m1 0h1m34 0h1m-98 1h1m17 0h1m2 0h1m3 0h1m21 0h1m12 0h1m2 0h1m12 0h1m-78 1h1m21 0h1m19 0h1m4 0h2m17 0h1m3 0h1m-68 1h1m6 0h1m11 0h1m39 0h1m1 0h1m3 0h1m2 0h1m11 0h1m3 0h1m9 0h1m3 0h1m-102 1h2m16 0h3m2 0h1m3 0h1m1 0h1m22 0h1m13 0h1m21 0h2m3 0h1m9 0h1m-109 1h1m2 0h1m16 0h1m3 0h1m1 0h1m2 0h1m13 0h1m8 0h1m15 0h1m16 0h1m18 0h1m-108 1h1m2 0h1m4 0h1m4 0h1m10 0h1m21 0h1m1 0h1m11 0h1m18 0h1m2 0h1m1 0h1m-82 1h1m14 0h1m2 0h1m12 0h1m11 0h1m11 0h1m3 0h1m26 0h1m11 0h1m-100 1h1m25 0h1m5 0h1m22 0h1m10 0h1m3 0h1m1 0h1m1 0h2m10 0h1m12 0h1m-56 1h1m17 0h1m1 0h1m6 0h3m-53 1h1m2 0h1m4 0h1m5 0h1m5 0h1m11 0h1m4 0h1m1 0h1m10 0h2m19 0h1m-81 1h1m4 0h1m31 0h1m15 0h1m2 0h1m-56 1h1m31 0h1m16 0h1m5 0h1m6 0h1m-65 1h1m12 0h1m6 0h1m13 0h1m14 0h1m3 0h1m9 0h1m-71 1h1m21 0h1m6 0h1m15 0h1m3 0h1m3 0h1m15 0h1m-60 1h1m6 0h1m-17 1h1m17 0h1m-10 1h2m3 0h1m5 0h1m-13 1h1m2 0h1"/>
<path stroke="#21908C" d="M108 2h1m-2 3h1m7 0h1m1 0h1m8 0h1m-20 1h1m3 0h1m5 0h1m-7 1h1m1 0h1m1 0h1m-16 1h1m2 0h1m3 0h1m11 0h1m2 0h1m-16 1h1m5 0h1m-13 1h1m13 0h1m1 0h1m5 0h1m-22 1h1m7 0h1m14 0h1m1 0h1m-29 1h1m2 0h1m2 0h1m3 0h1m-12 1h1m7 0h2m1 0h1m16 0h1m-31 1h1m1 0h2m12 0h1m-13 1h1m4 0h1m10 0h1m15 0h1m-33 1h1m2 0h1m-11 1h1m8 0h2m-18 1h1m8 0h1m2 0h1m12 0h1m2 0h1m3 0h1m19 0h1m-38 1h1m32 0h1m-6 1h1m8 0h1m-54 1h1m15 0h1m8 0h1m27 0h1m-52 1h1m2 0h1m11 0h1m7 0h1m19 0h1m-30 1h1m32 0h1m7 0h1m-49 1h1m3 0h1m29 0h1m-17 1h1m9 0h1m14 0h1m-43 1h1m11 0h1m3 0h1m9 0h2m11 0h1m-50 1h1m49 0h1m-14 1h1m5 0h1m6 0h1m-49 1h1m6 0h1m16 0h1m1 0h2m2 0h1m-40 1h1m5 0h1m34 0h1m2 0h1m-34 1h1m2 0h1m4 0h1m13 0h1m20 0h1m2 0h1m-60 1h1m36 0h1m-38 1h1m5 0h1m8 0h1m2 0h1m3 0h2m21 0h1m2 0h1m4 0h1m1 0h1m2 0h2m-62 1h1m1 0h1m4 0h1m3 0h1m3 0h1m13 0h2m2 0h1m16 0h1m-50 1h1m6 0h1m6 0h1m-9 1h1m54 0h1m-64 1h1m22 0h1m4 0h1m7 0h1m6 0h1m6 0h1m7 0h1m4 0h2m3 0h1m-53 1h1m46 0h1m1 0h1m5 0h1m-77 1h1m5 0h1m2 0h1m10 0h1m12 0h1m14 0h1m3 0h1m10 0h1m-30 1h1m-26 1h1m-8 1h1m35 0h1m3 0h1m21 0h1m-89 1h1m30 0h1m2 0h1m33 0h1m21 0h1m9 0h1m-71 1h1m6 0h2m18 0h1m11 0h1m-62 1h1m15 0h1m23 0h1m43 0h1m3 0h1m-90 1h1m4 0h1m3 0h1m5 0h1m2 1h1m32 0h1m-31 1h1m6 0h1m5 0h1m10 0h1m4 0h1m15 0h1m-68 1h1m18 0h1m3 0h1m2 0h1m37 0h2m-53 1h1m1 0h1m26 0h1m22 0h1m10 0h2m-64 1h1m-7 1h1m11 0h2m16 0h1m4 0h1m19 0h1m-59 1h2m2 0h1m24 0h1m30 0h1m-54 1h1m18 0h1m32 0h1m-45 1h1m34 0h1m-52 1h2m3 0h1m40 0h1m17 0h1m3 0h1m-53 1h1m7 0h1m6 0h1m-19 1h1m21 0h1m22 0h1m36 0h1m-147 1h1m64 0h1m9 0h1m8 0h1m1 0h1m30 0h1m7 0h1m16 0h1m-135 1h1m44 0h1m14 0h1m13 0h1m12 0h1m17 0h1m11 0h1m-73 1h1m3 0h1m40 0h1m13 0h1m3 0h1m-64 1h1m4 0h1m5 0h1m23 0h1m9 0h1m14 0h1m2 0h1m27 0h1m-87 1h1m8 0h1m38 0h1m-98 1h1m45 0h1m14 0h1m4 0h1m15 0h2m5 0h1m31 0h1m-74 1h1m8 0h1m8 0h1m7 0h2m1 0h1m8 0h1m14 0h1m2 0h1m9 0h1m2 0h1m4 0h1m14 0h1m-142 1h1m48 0h1m6 0h1m10 0h1m35 0h1m4 0h1m6 0h1m19 0h1m4 0h1m-148 1h1m50 0h1m6 0h1m17 0h1m17 0h5m10 0h1m4 0h1m2 0h2m2 0h1m7 0h1m1 0h1m-92 1h1m31 0h1m3 0h1m47 0h1m8 0h1m-119 1h1m55 0h1m1 0h1m7 0h1m8 0h2m41 0h1m7 0h1m5 0h1m-150 1h1m4 0h1m46 0h1m5 0h1m19 0h1m11 0h2m2 0h1m27 0h1m4 0h1m3 0h1m2 0h1m6 0h1m6 0h1m1 0h1m-139 1h1m82 0h1m9 0h1m9 0h1m7 0h1m-108 1h2m28 0h1m4 0h1m25 0h1m10 0h1m21 0h1m13 0h1m9 0h1m1 0h1m13 0h1m-146 1h1m4 0h1m2 0h1m39 0h1m11 0h1m10 0h1m7 0h1m1 0h1m12 0h1m27 0h1m2 0h1m3 0h1m-19 1h1m4 0h1m1 0h1m-115 1h1m37 0h1m18 0h1m15 0h1m24 0h1m17 0h1m7 0h2m7 0h1m-132 1h1m10 0h1m46 0h1m8 0h1m4 0h1m37 0h1m-56 1h1m6 0h2m15 0h1m55 0h2m-148 1h1m12 0h1m39 0h1m5 0h1m7 0h1m6 0h1m8 0h1m10 0h1m5 0h1m2 0h1m1 0h1m4 0h1m-111 1h1m69 0h1m7 0h1m34 0h1m-59 1h2m43 0h1m-61 1h1m7 0h1m5 0h1m9 0h1m6 0h1m5 0h1m-69 1h1m5 0h1m3 0h3m24 0h1m10 0h1m9 0h3m40 0h1m14 0h1m-109 1h2m31 0h1m37 0h1m29 0h1m7 0h1m-115 1h1m3 0h1m2 0h1m95 0h1m8 0h1m3 0h1m-113 1h1m43 0h1m13 0h1m10 0h2m-81 1h1m13 0h1m12 0h1m8 0h1m43 0h1m-84 1h1m7 0h1m1 0h1m3 0h1m2 0h1m34 0h1m2 0h1m15 0h1m8 0h1m1 0h1m45 0h1m-114 1h1m34 0h1m20 0h1m42 0h1m10 0h1m-140 1h1m34 0h1m46 0h1m51 0h1m-98 1h1m27 0h1m3 0h1m4 0h1m59 0h1m-134 1h2m18 0h1m12 0h1m47 0h1m5 0h1m1 0h1m38 0h1m12 0h1m-140 1h1m22 0h1m21 0h1m8 0h2m12 0h2m3 0h2m10 0h1m-70 1h1m7 0h1m1 0h2m4 0h1m20 0h3m76 0h1m-127 1h1m31 0h1m1 0h1m8 0h1m6 0h1m9 0h1m2 0h1m17 0h1m45 0h1m-102 1h1m8 0h1m20 0h1m63 0h1m4 0h2m-120 1h1m2 0h1m6 0h1m2 0h1m19 0h1m9 0h1m5 0h1m6 0h1m4 0h1m1 0h1m58 0h1m-138 1h1m39 0h1m2 0h1m7 0h1m12 0h2m56 0h1m-98 1h1m5 0h1m12 0h1m20 0h2m-57 1h2m21 0h1m1 0h1m9 0h1m7 0h1m28 0h1m12 0h1m19 0h1m12 0h1m3 0h1m-127 1h1m2 0h1m5 0h1m21 0h1m1 0h1m16 0h1m64 0h1m4 0h1m1 0h1m3 0h2m-124 1h1m11 0h1m23 0h1m1 0h1m11 0h1m8 0h1m1 0h1m28 0h1m18 0h1m-91 1h1m8 0h1m9 0h1m16 0h1m3 0h1m2 0h1m18 0h1m22 0h1m1 0h1m-119 1h1m3 0h1m5 0h1m11 0h1m3 0h1m2 0h2m7 0h2m20 0h1m6 0h2m11 0h1m12 0h1m2 0h1m23 0h2m-118 1h1m22 0h1m1 0h2m12 0h1m27 0h1m21 0h1m25 0h1m-94 1h1m10 0h1m4 0h1m5 0h1m13 0h1m11 0h1m8 0h1m14 0h1m11 0h1m7 0h1m2 0h1m-101 1h1m14 0h1m48 0h1m7 0h1m4 0h1m20 0h1m10 0h1m-101 1h1m26 0h2m16 0h1m40 0h1m16 0h1m-120 1h1m14 0h1m3 0h1m9 0h2m19 0h1m27 0h1m32 0h1m-127 1h1m35 0h1m14 0h1m7 0h1m3 0h1m30 0h1m25 0h1m4 0h1m-122 1h1m51 0h1m6 0h1m6 0h1m8 0h1m5 0h1m12 0h1m10 0h1m6 0h1m-114 1h1m15 0h1m50 0h2m8 0h1m10 0h1m11 0h1m7 0h1m4 0h1m-77 1h1m4 0h1m8 0h1m2 0h1m27 0h1m5 0h1m1 0h1m9 0h1m18 0h1m5 0h1m-106 1h1m2 0h1m36 0h1m9 0h1m19 0h1m2 0h1m20 0h1m1 0h1m4 0h1m-71 1h1m13 0h1m36 0h1m3 0h1m7 0h3m-107 1h1m26 0h1m21 0h1m20 0h1m2 0h1m1 0h1m3 0h1m-90 1h1m16 0h1m15 0h1m2 0h1m10 0h1m16 0h1m45 0h1m2 0h1m2 0h1m-110 1h1m4 0h1m4 0h1m3 0h1m2 0h1m17 0h1m1 0h1m22 0h1m3 0h1m12 0h1m3 0h1m3 0h1m4 0h1m2 0h1m7 0h1m-69 1h1m6 0h1m3 0h2m2 0h1m4 0h1m19 0h1m4 0h1m7 0h1m-78 1h1m5 0h1m4 0h1m18 0h1m1 0h2m3 0h1m16 0h1m24 0h1m1 0h1m-99 1h1m20 0h1m19 0h2m7 0h1m3 0h1m1 0h1m3 0h1m2 0h2m25 0h2m7 0h1m6 0h1m-112 1h1m17 0h1m26 0h1m37 0h1m15 0h1m6 0h1m4 0h1m5 0h1m-113 1h1m1 0h1m37 0h1m43 0h1m4 0h1m2 0h1m3 0h1m1 0h1m12 0h1m-118 1h2m4 0h1m40 0h1m19 0h1m8 0h1m20 0h1m5 0h1m1 0h2m9 0h1m-109 1h1m1 0h1m31 0h1m6 0h1m7 0h1m8 0h1m2 0h2m23 0h1m14 0h2m5 0h1m2 0h1m-111 1h1m18 0h1m24 0h1m21 0h1m16 0h1m13 0h1m1 0h1m1 0h1m-109 1h1m8 0h1m8 0h1m6 0h1m3 0h1m11 0h1m5 0h1m1 0h1m2 0h1m27 0h1m5 0h1m8 0h1m15 0h1m-114 1h1m16 0h1m4 0h1m3 0h1m5 0h1m2 0h1m36 0h1m4 0h2m-77 1h2m4 0h1m0 1h2m13 0h1m7 0h1m30 0h1m7 0h1m-70 1h1m8 0h1m20 0h1m15 0h1m1 0h1m5 0h1m1 0h1m12 0h1m13 0h1m23 0h1m-117 1h1m14 0h1m1 0h1m2 0h1m1 0h1m3 0h1m3 0h1m5 0h1m10 0h1m58 0h1m-96 1h1m18 0h1m1 0h1m15 0h1m6 0h3m15 0h1m3 0h1m18 0h1m15 0h1m-75 1h1m11 0h1m29 0h1m12 0h1m-79 1h1m5 0h1m16 0h1m31 0h1m7 0h1m-63 1h1m3 0h1m12 0h1m11 0h1m16 0h1m14 0h1m2 0h1m20 0h1m1 0h1m-93 1h1m14 0h1m36 0h1m13 0h1m29 0h1m-95 1h3m6 0h1m39 0h1m30 0h1m-84 1h1m10 0h2m4 0h2m7 0h1m17 0h1m17 0h1m7 0h1m3 0h1m6 0h1m-79 1h1m69 0h1m1 0h1m3 0h1m-77 1h1m40 0h1m6 0h1m7 0h1m2 0h1m20 0h1m-85 1h1m2 0h1m32 0h1m7 0h1m17 0h1m20 0h1m-87 1h1m3 0h1m2 0h1m9 0h1m4 0h1m23 0h1m31 0h1m4 0h1m-76 1h1m10 0h1m5 0h1m2 0h1m2 0h1m24 0h1m2 0h1m15 1h1m-40 1h1m-10 1h1m3 0h2m3 0h1m-23 1h1m11 0h1m13 0h1m-24 1h1m-2 1h1"/>
<path stroke="#22A884" d="M114 3h1m2 0h1m16 0h1m-28 1h1m16 0h1m-15 1h1m9 0h1m-20 1h1m1 0h1m6 0h1m-7 1h1m12 0h1m10 0h1m-20 1h1m4 0h1m9 0h1m9 0h1m-34 1h2m5 0h1m15 0h1m5 0h1m-24 1h1m8 0h1m20 0h1m-8 1h1m-36 1h1m28 0h1m12 0h1m-30 1h1m8 0h1m4 0h1m7 0h1m-39 1h2m6 0h1m4 0h1m13 0h1m10 0h1m-39 1h1m25 0h1m3 0h1m7 0h1m-39 1h1m1 0h1m7 0h1m1 0h1m7 0h1m-21 1h1m35 0h1m1 0h2m-25 1h1m27 0h1m-51 1h1m12 0h1m11 0h1m3 0h1m13 0h1m4 0h1m-46 1h1m13 0h1m3 0h1m7 0h1m2 0h1m6 0h1m12 0h1m-25 1h1m7 0h1m5 0h1m6 0h1m0 1h1m-44 1h1m2 0h1m12 0h1m5 0h1m9 0h1m-5 1h1m19 0h1m0 1h1m-58 1h1m21 0h1m1 0h1m5 0h1m3 0h1m17 0h1m-54 1h1m3 0h1m28 0h1m-35 1h1m12 0h1m13 0h1m6 0h2m6 0h1m1 0h1m-47 1h2m8 0h1m30 0h1m2 0h1m-22 1h1m13 0h1m18 0h1m-59 1h2m34 0h1m8 0h1m17 0h1m-67 1h1m11 0h1m2 0h1m3 0h1m32 0h1m6 0h1m6 0h1m-67 1h1m17 0h1m-7 1h1m6 0h1m18 1h1m10 0h1m-29 1h1m19 0h1m-36 1h1m3 0h1m44 0h1m7 0h1m4 0h1m-70 1h2m4 0h1m22 0h1m39 0h1m-65 1h1m-9 1h1m31 0h2m-37 1h1m2 0h1m8 0h1m50 0h1m10 0h1m-66 1h1m2 0h1m8 0h1m28 0h1m16 0h1m-62 1h1m32 0h1m3 0h1m27 0h1m-87 1h1m7 0h1m9 0h1m11 0h1m26 0h1m1 0h1m1 0h1m23 0h1m-78 1h1m4 0h2m5 0h1m5 0h1m10 0h1m2 0h1m11 0h1m-44 1h1m18 0h1m5 0h1m8 0h1m1 0h1m18 0h1m-56 1h1m17 0h1m5 0h1m1 0h1m30 0h1m-56 1h1m1 0h1m15 0h1m6 0h1m-27 1h1m15 0h1m8 0h1m3 0h1m4 0h1m-31 1h1m31 0h1m-46 1h1m36 0h1m30 0h1m5 0h1m-55 1h1m2 0h1m20 0h1m12 0h1m3 0h1m11 0h1m-62 1h2m12 0h1m14 0h1m18 0h1m-63 1h1m6 0h1m3 0h1m5 0h1m24 0h1m4 0h1m-51 1h1m23 0h1m18 0h1m27 0h1m-43 1h1m40 0h1m1 0h1m-60 1h1m28 0h1m1 1h1m15 0h1m4 0h1m3 0h1m29 0h1m-86 1h2m29 0h1m8 0h1m4 0h1m3 0h1m14 0h1m-118 1h1m70 0h1m10 0h1m3 0h1m22 0h1m-116 1h1m77 0h1m3 0h1m5 0h1m27 0h1m-75 1h1m13 0h1m4 0h2m3 0h1m2 0h1m22 0h2m26 0h1m7 0h1m-131 1h3m1 0h1m58 0h1m14 0h1m3 0h1m31 0h1m2 0h1m26 0h1m-138 1h2m56 0h1m31 0h1m17 0h1m2 0h1m7 0h1m5 0h1m4 0h2m1 0h1m6 0h1m-93 1h2m18 0h1m2 0h3m14 0h1m2 0h2m15 0h1m6 0h1m-58 1h1m20 0h1m23 0h1m7 0h1m4 0h1m10 0h1m2 0h1m-59 1h1m1 0h1m23 0h1m19 0h1m6 0h1m-119 1h1m37 0h1m42 0h1m32 0h1m-127 1h1m53 0h1m14 0h1m6 0h1m7 0h1m16 0h1m16 0h1m2 0h1m5 0h1m3 0h1m1 0h1m-128 1h1m1 0h1m35 0h1m30 0h1m37 0h2m5 0h1m6 0h1m6 0h1m-136 1h1m8 0h2m72 0h1m9 0h1m26 0h1m2 0h2m20 0h1m-135 1h1m80 0h1m7 0h1m17 0h1m8 0h2m-124 1h1m57 0h1m11 0h1m23 0h1m2 0h1m11 0h1m1 0h1m10 0h1m-125 1h1m2 0h1m62 0h1m16 0h1m1 0h1m12 0h1m34 0h2m-69 1h1m15 0h1m9 0h1m5 0h1m2 0h1m-106 1h1m49 0h1m5 0h1m11 0h1m17 0h2m6 0h1m12 0h1m14 0h1m16 0h1m-88 1h1m5 0h2m17 0h1m15 0h1m23 0h1m10 0h1m-133 1h1m9 0h1m4 0h1m34 0h1m25 0h1m33 0h1m8 0h2m6 0h1m14 0h1m-93 1h1m22 0h1m41 0h1m-111 1h2m56 0h1m4 0h1m6 0h1m1 0h2m9 0h1m24 0h1m15 0h1m9 0h1m-125 1h1m72 0h1m-71 1h1m42 0h2m18 0h1m-81 1h1m1 0h1m12 0h1m47 0h1m48 0h1m24 0h1m-76 1h1m24 0h1m2 0h2m30 0h1m12 0h1m-140 1h1m61 0h1m29 0h1m28 0h1m2 0h1m9 0h1m-58 1h1m6 0h1m-73 1h1m3 0h1m34 0h1m6 0h1m20 0h1m1 0h1m43 0h1m14 0h1m-131 1h1m4 0h1m7 0h1m64 0h1m31 0h1m2 0h1m5 0h1m-113 1h1m16 0h1m23 0h1m-44 1h1m1 0h1m8 0h1m1 0h1m43 0h2m2 0h1m45 0h1m-94 1h1m38 0h1m15 0h1m-93 1h1m23 0h1m10 0h1m45 0h1m13 0h2m28 0h1m3 0h1m10 0h1m-140 1h1m78 0h1m7 0h1m41 0h1m-127 1h1m16 0h1m49 0h1m15 0h1m4 0h1m34 0h1m4 0h1m7 0h1m-132 1h1m10 0h1m16 0h1m25 0h1m16 0h1m2 0h1m39 0h2m13 0h1m-136 1h1m1 0h1m8 0h1m25 0h1m3 0h1m19 0h1m32 0h1m27 0h1m-101 1h1m37 0h1m12 0h2m1 0h1m20 0h1m-64 1h1m9 0h1m36 0h1m-84 1h1m41 0h1m8 0h1m8 0h1m31 0h1m1 0h1m17 0h1m18 0h1m-127 1h1m41 0h3m13 0h1m16 0h1m31 0h1m5 0h1m-109 1h1m27 0h1m13 0h1m12 0h1m3 0h1m10 0h1m16 0h1m35 0h1m-133 1h2m13 0h1m21 0h1m2 0h1m8 0h1m12 0h1m3 0h1m1 0h1m4 0h1m26 0h1m14 0h1m13 0h1m-112 1h1m6 0h1m46 0h1m10 0h1m2 0h1m11 0h1m17 0h1m-96 1h1m1 0h1m29 0h1m31 0h1m4 0h1m27 0h1m2 0h1m10 0h1m-127 1h1m40 0h1m1 0h1m1 0h1m26 0h1m36 0h1m2 0h1m5 0h2m3 0h1m-118 1h1m26 0h1m9 0h1m26 0h1m1 0h1m3 0h1m38 0h2m-120 1h1m2 0h1m20 0h1m30 0h1m24 0h1m5 0h1m4 0h1m-84 1h1m11 0h1m2 0h1m30 0h1m28 0h1m42 0h1m-119 1h1m13 0h1m42 0h1m2 0h1m1 0h1m8 0h1m2 0h1m3 0h1m3 0h1m-77 1h1m12 0h1m10 0h1m1 0h1m11 0h1m32 0h1m23 0h1m-87 1h1m5 0h1m7 0h1m6 0h1m23 0h1m4 0h1m39 0h2m-107 1h1m13 0h1m14 0h1m6 0h1m4 0h1m8 0h1m9 0h1m1 0h1m12 0h1m29 0h1m-102 1h1m21 0h2m4 0h3m3 0h1m30 0h1m6 0h2m3 0h1m5 0h1m12 0h1m-83 1h1m14 0h2m27 0h1m43 0h1m-116 1h1m41 0h1m2 0h1m9 0h1m28 0h1m26 0h1m-109 1h1m16 0h1m49 0h1m1 0h1m6 0h1m16 0h1m3 0h1m11 0h1m-117 1h1m23 0h1m26 0h1m2 0h1m2 0h1m4 0h1m8 0h1m2 0h1m8 0h1m5 0h1m14 0h1m6 0h1m-115 1h1m12 0h1m29 0h2m18 0h1m10 0h1m1 0h2m11 0h1m16 0h1m3 0h1m-50 1h1m1 0h1m14 0h1m12 0h1m17 0h1m-70 1h1m18 0h1m2 0h1m8 0h1m2 0h1m5 0h1m4 0h1m12 0h1m-94 1h1m20 0h1m22 0h1m2 0h1m6 0h1m3 0h1m3 0h1m12 0h1m3 0h1m7 0h1m2 0h1m-89 1h1m3 0h1m34 0h1m18 0h1m6 0h1m8 0h1m5 0h1m-85 1h1m2 0h2m46 0h1m38 0h1m12 0h1m12 0h1m-113 1h1m31 0h1m10 0h1m3 0h1m3 0h1m3 0h1m34 0h1m8 0h1m-103 1h1m1 0h1m1 0h1m1 0h1m35 0h1m11 0h1m1 0h1m6 0h1m24 0h1m3 0h1m13 0h1m5 0h1m-118 1h1m1 0h1m6 0h1m5 0h1m20 0h1m29 0h1m3 0h1m14 0h1m28 0h1m-118 1h1m2 0h1m2 0h1m7 0h1m12 0h1m18 0h1m24 0h2m11 0h1m5 0h1m18 0h1m-83 1h1m4 0h1m3 0h1m15 0h1m21 0h1m-70 1h1m8 0h1m31 0h1m20 0h1m10 0h1m-57 1h1m30 0h1m3 0h1m9 0h1m22 0h1m-85 1h1m20 0h1m9 0h1m14 0h1m6 0h1m6 0h1m1 0h1m33 0h1m-107 1h1m5 0h1m6 0h1m25 0h1m8 0h1m1 0h1m10 0h1m16 0h1m13 0h1m6 0h1m9 0h1m-108 1h1m4 0h1m5 0h1m5 0h1m6 0h1m19 0h1m33 0h1m29 0h1m2 0h1m-95 1h1m11 0h1m22 0h1m7 0h1m22 0h1m13 0h1m-93 1h1m12 0h2m8 0h1m6 0h1m32 0h1m3 0h1m8 0h1m20 0h1m3 0h1m-87 1h1m16 0h1m12 0h2m16 0h1m18 0h1m18 0h1m-80 1h1m21 0h1m18 0h1m7 0h1m23 0h1m-67 1h1m14 0h1m20 0h1m15 0h1m-82 1h1m9 0h1m2 0h1m16 0h1m14 0h2m2 0h1m13 0h2m7 0h1m3 0h1m-78 1h1m8 0h1m11 0h1m8 0h1m6 0h1m17 0h1m1 0h1m1 0h3m13 0h1m2 0h1m-79 1h1m15 0h1m6 0h1m7 0h1m16 0h1m11 0h1m17 0h1m-79 1h1m45 0h1m1 0h1m34 0h1m-72 1h1m52 0h1m5 0h1m4 0h1m-47 1h1m26 0h1m-45 1h1m1 1h1m11 0h1m11 0h1m-16 1h1m8 1h1m-18 1h1m3 1h1"/>
<path stroke="#43BF71" d="M110 2h1m-2 1h1m5 0h1m2 0h1m2 0h2m4 0h1m-17 1h1m10 0h1m6 0h1m-21 1h1m4 0h1m6 1h1m2 0h1m1 0h1m8 0h1m-13 1h1m7 0h1m-33 1h1m18 0h1m8 0h1m-32 1h2m6 0h1m6 0h1m-16 1h1m39 0h1m-42 1h1m7 0h1m28 0h1m3 0h2m-37 1h1m-3 1h1m4 0h1m7 0h1m6 0h1m13 0h1m-41 2h1m12 1h1m8 0h1m14 0h1m6 0h2m-42 1h1m3 0h1m3 0h1m6 0h1m11 0h1m-40 1h1m19 0h1m19 0h1m5 0h1m-48 1h1m23 0h1m15 0h1m10 0h1m2 0h1m-54 1h1m-3 1h2m-2 1h2m21 0h1m-23 1h1m52 0h1m3 0h1m-25 1h1m-27 1h1m3 0h1m36 0h3m1 0h1m-32 1h1m19 0h2m3 0h1m-49 1h1m6 0h1m7 0h1m13 0h2m5 0h1m6 0h1m18 0h1m-60 1h1m12 0h1m21 0h1m19 0h1m-41 1h1m22 0h1m5 0h1m4 0h1m-56 1h1m27 0h2m15 0h1m-24 1h1m40 0h1m-66 1h1m13 0h1m11 0h1m1 0h1m17 0h1m9 0h1m-61 1h2m22 0h1m-8 1h1m9 0h1m1 0h1m3 0h1m6 0h1m1 0h1m-25 1h1m10 0h1m6 0h1m9 0h1m21 0h1m-70 1h1m1 0h2m18 0h1m15 0h1m1 0h1m-44 1h1m4 0h1m14 0h2m14 0h1m-20 1h1m29 0h1m-39 1h1m30 0h1m34 0h1m-64 1h1m10 0h1m3 0h1m3 0h1m5 0h1m5 0h1m4 0h1m26 0h1m-59 1h1m2 0h1m47 0h1m3 0h1m2 0h1m-77 1h1m3 0h1m9 0h1m16 0h1m36 0h1m5 0h1m-59 1h1m12 0h2m14 0h1m6 0h1m-57 1h1m1 0h1m3 0h1m27 0h1m3 0h1m1 0h1m6 0h1m8 0h1m-64 1h3m3 0h1m17 0h1m1 0h1m36 0h1m22 0h1m-77 1h1m2 0h1m8 0h1m2 0h1m9 0h1m17 0h1m8 0h1m-48 1h1m20 0h1m3 0h1m2 0h1m20 0h1m20 0h1m-78 1h1m2 0h1m14 0h1m6 0h1m7 0h1m4 0h1m-44 1h2m29 0h1m13 0h1m11 0h1m-49 1h1m5 0h1m14 0h1m9 0h2m1 0h1m9 0h1m3 0h2m1 0h1m-60 1h1m4 0h2m6 0h1m2 0h1m28 0h1m10 0h1m13 0h1m-67 1h1m13 0h1m14 0h1m4 0h2m2 0h1m13 0h1m-53 1h1m4 0h1m11 0h1m13 0h1m3 0h1m1 0h1m-42 1h1m6 0h1m34 0h1m-38 1h1m28 0h1m-33 1h1m3 0h1m37 0h1m11 0h1m-57 1h1m6 0h1m5 0h1m39 0h2m-9 1h1m15 0h1m-66 1h1m21 0h1m9 0h1m6 0h1m51 0h1m-92 1h1m3 0h1m4 0h1m8 0h1m11 0h1m4 0h1m3 0h1m3 0h2m17 0h1m-64 1h1m14 0h1m15 0h1m7 0h1m2 0h1m-26 1h1m17 0h2m5 0h1m23 0h1m20 0h1m-86 1h1m14 0h1m8 0h1m1 0h1m7 0h2m4 0h1m15 0h1m2 0h1m1 0h2m-121 1h1m78 0h2m8 0h1m15 0h1m9 0h1m2 0h1m12 0h1m-54 1h1m23 0h1m11 0h1m11 0h1m15 0h1m-137 1h1m53 0h1m14 0h1m2 0h1m9 0h1m10 0h1m6 0h1m11 0h1m2 0h1m6 0h1m5 0h1m6 0h1m-133 1h1m56 0h1m11 0h1m9 0h1m13 0h1m13 0h1m7 0h1m5 0h1m5 0h1m3 0h1m5 0h1m-144 1h1m3 0h1m2 0h1m73 0h1m16 0h1m20 0h1m3 0h2m2 0h1m13 0h1m-139 1h1m67 0h3m15 0h1m1 0h1m2 0h1m15 0h1m14 0h1m3 0h1m-72 1h1m18 0h2m4 0h1m10 0h1m46 0h1m-137 1h1m39 0h1m7 0h1m4 0h2m14 0h1m12 0h1m3 0h1m5 0h1m5 0h1m8 0h1m1 0h1m-23 1h1m25 0h1m25 0h1m-131 1h2m68 0h1m2 0h1m8 0h1m24 0h1m15 0h1m-132 1h1m1 0h1m41 0h1m30 0h1m32 0h2m5 0h1m-115 1h1m49 0h1m13 0h1m29 0h1m5 0h1m4 0h1m12 0h1m-127 1h2m78 0h1m22 0h1m4 0h1m3 0h1m15 0h1m12 0h1m-97 1h1m1 0h2m4 0h1m20 0h1m31 0h1m1 0h1m5 0h2m10 0h1m9 0h1m-136 1h1m6 0h1m6 0h1m34 0h1m49 0h1m3 0h1m2 0h1m15 0h2m14 0h1m1 0h1m-144 1h1m13 0h1m3 0h1m29 0h1m31 0h1m2 0h1m21 0h1m3 0h1m11 0h1m21 0h1m-138 1h1m7 0h1m25 0h1m11 0h1m18 0h1m9 0h2m24 0h1m8 0h1m12 0h1m-117 1h1m39 0h1m33 0h1m53 0h1m-126 1h1m32 0h1m1 0h1m32 0h1m4 0h1m30 0h2m-75 1h1m3 0h1m29 0h1m9 0h1m34 0h1m-82 1h1m8 0h2m75 0h1m-86 1h2m1 0h2m11 0h1m2 0h1m65 0h1m2 0h1m-130 1h1m13 0h1m24 0h1m16 0h1m3 0h1m7 0h1m48 0h1m4 0h1m1 0h2m-95 1h1m9 0h1m3 0h1m9 0h1m13 0h1m49 0h1m8 0h1m-144 1h1m40 0h1m3 0h1m17 0h1m3 0h2m11 0h1m49 0h1m12 0h1m-129 1h1m24 0h1m17 0h1m1 0h1m6 0h1m5 0h1m2 0h1m45 0h1m-70 1h1m18 0h1m63 0h1m3 0h1m-63 1h1m1 0h2m-67 1h2m19 0h1m38 0h1m47 0h1m6 0h1m-114 1h1m1 0h1m14 0h1m23 0h1m2 0h1m15 0h1m5 0h1m37 0h1m12 0h1m4 0h1m-143 1h1m9 0h1m51 0h1m16 0h1m2 0h2m49 0h1m4 0h1m-137 1h1m3 0h1m11 0h1m13 0h1m4 0h2m37 0h1m9 0h2m4 0h1m47 0h1m-118 1h1m1 0h1m6 0h1m1 0h1m31 0h1m18 0h1m47 0h1m-115 1h1m15 0h1m7 0h1m3 0h3m24 0h1m14 0h1m4 0h1m1 0h1m31 0h1m3 0h1m3 0h1m2 0h1m-123 1h1m12 0h1m4 0h1m1 0h1m11 0h1m4 0h1m10 0h1m4 0h1m9 0h1m32 0h1m1 0h1m14 0h1m-114 1h1m2 0h1m2 0h1m38 0h1m17 0h2m15 0h1m32 0h1m-109 1h1m28 0h2m1 0h1m5 0h1m1 0h1m3 0h1m21 0h1m4 0h1m1 0h1m-90 1h1m20 0h1m9 0h1m33 0h1m10 0h1m7 0h1m2 0h1m4 0h1m1 0h1m16 0h1m-105 1h1m9 0h1m3 0h1m8 0h1m-24 1h1m101 0h1m6 0h1m-80 1h1m8 0h1m9 0h1m34 0h1m15 0h1m20 0h1m-132 1h1m2 0h1m46 0h1m1 0h1m19 0h1m18 0h1m1 0h1m35 0h1m-127 1h1m18 0h1m8 0h1m16 0h1m8 0h1m8 0h1m18 0h1m2 0h1m29 0h1m-95 1h1m21 0h1m2 0h1m2 0h1m27 0h1m13 0h1m15 0h1m11 0h1m-122 1h1m20 0h1m15 0h1m8 0h1m20 0h2m5 0h1m36 0h2m-86 1h1m7 0h1m19 0h1m3 0h1m6 0h1m9 0h1m8 0h1m29 0h1m5 0h1m-96 1h1m14 0h1m4 0h1m1 0h1m13 0h2m1 0h1m24 0h1m21 0h2m-89 1h1m1 0h1m23 0h1m10 0h1m3 0h1m5 0h1m14 0h1m16 0h1m2 0h1m8 0h1m2 0h1m-95 1h1m5 0h1m4 0h1m1 0h1m15 0h1m2 0h1m3 0h1m24 0h1m5 0h1m6 0h1m3 0h1m2 0h1m-80 1h1m27 0h2m8 0h1m48 0h1m1 0h2m-101 1h1m10 0h1m11 0h1m37 0h1m11 0h1m14 0h2m8 0h2m-114 1h1m11 0h1m4 0h1m14 0h1m3 0h1m5 0h1m1 0h1m19 0h1m1 0h1m6 0h1m23 0h1m3 0h1m12 0h1m1 0h1m-103 1h1m2 0h1m15 0h1m8 0h2m1 0h1m10 0h1m16 0h2m6 0h1m2 0h1m5 0h1m3 0h1m-100 1h1m36 0h2m8 0h1m27 0h1m1 0h1m28 0h1m14 0h1m-101 1h1m14 0h1m11 0h1m23 0h1m7 0h1m37 0h1m-127 1h2m6 0h1m24 0h1m6 0h1m6 0h1m10 0h1m2 0h1m13 0h2m4 0h1m6 0h1m10 0h1m6 0h1m5 0h1m2 0h1m-115 1h1m11 0h1m45 0h1m8 0h1m12 0h1m29 0h1m-101 1h1m41 0h1m5 0h1m3 0h1m17 0h1m7 0h1m2 0h1m5 0h1m6 0h1m3 0h2m-111 1h2m1 0h1m6 0h1m5 0h1m24 0h1m7 0h1m8 0h1m4 0h1m20 0h1m3 0h1m11 0h1m9 0h1m-113 1h2m3 0h1m45 0h1m9 0h3m8 0h1m3 0h1m15 0h1m2 0h1m10 0h1m8 0h1m5 0h1m-116 1h1m82 0h1m9 0h1m4 0h1m3 0h1m6 0h1m-113 1h1m9 0h1m45 0h1m29 0h1m9 0h1m4 0h1m4 0h1m6 0h1m-102 1h1m18 0h1m37 0h1m6 0h1m17 0h1m11 0h1m8 0h1m-93 1h1m5 0h1m18 0h1m5 0h1m15 0h1m36 0h2m-104 1h1m19 0h1m32 0h1m4 0h1m4 0h1m5 0h1m4 0h1m21 0h1m4 0h1m1 0h1m-117 1h1m12 0h1m1 0h1m2 0h1m5 0h1m39 0h1m36 0h1m4 0h1m6 0h1m4 0h2m-119 1h1m12 0h1m2 0h1m59 0h1m30 0h1m-100 1h1m23 0h1m9 0h1m32 0h1m3 0h1m-65 1h1m1 0h1m8 0h1m5 0h1m41 0h1m14 0h1m13 0h1m9 0h1m-104 1h1m5 0h1m38 0h1m19 0h1m2 0h1m2 0h1m5 0h1m2 0h2m6 0h1m2 0h1m3 0h1m-103 1h1m8 0h1m15 0h1m10 0h1m38 0h1m1 0h1m1 0h1m5 0h1m11 0h1m-97 1h1m26 0h1m8 0h1m1 0h2m27 0h1m5 0h1m10 0h1m10 0h1m11 0h1m-101 1h1m5 0h1m56 0h1m4 0h1m1 0h1m3 0h1m23 0h1m-90 1h1m12 0h1m4 0h1m47 0h1m-72 1h1m3 0h1m74 0h2m6 0h3m-99 1h1m18 0h1m41 0h1m17 0h1m5 0h1m9 0h1m-95 1h1m5 0h1m7 0h1m3 0h1m16 0h1m8 0h1m5 0h1m11 0h1m2 0h1m10 0h1m2 0h2m13 0h1m-95 1h1m7 0h2m2 0h1m1 0h1m9 0h1m19 0h1m17 0h1m1 0h1m9 0h2m5 0h1m-71 1h2m12 0h1m-17 1h1m36 0h1m2 0h1m32 0h1m-77 1h1m13 0h1m2 0h1m-14 1h1m2 0h1m3 0h1m9 0h3m5 0h1m-31 1h1m18 0h1m-9 1h1m10 0h1m2 0h1m-23 1h1m9 0h1m4 0h1m-11 1h1m2 0h2m-4 1h2m1 0h1"/>
<path stroke="#7AD151" d="M112 2h1m1 0h1m2 0h1m15 1h1m-7 1h1m-1 1h1m-28 1h1m12 0h1m1 0h1m6 0h1m5 0h2m-31 1h1m9 0h1m2 0h1m3 0h1m7 0h1m9 0h1m-38 1h1m10 0h1m1 0h2m4 0h1m18 0h1m-21 1h1m5 0h1m1 0h1m7 0h1m-30 1h1m1 0h1m3 0h2m1 0h1m19 0h1m-31 1h1m11 0h1m19 0h1m-38 1h1m10 0h2m26 0h1m2 0h1m-39 1h1m13 0h2m-13 1h1m19 0h1m12 0h2m-35 1h1m3 0h1m17 0h1m11 0h1m-51 1h1m21 0h2m14 0h1m2 0h1m-22 1h1m1 0h1m16 0h2m4 0h1m3 0h1m-35 1h3m22 0h1m8 0h2m-12 1h1m-18 1h2m1 0h2m-8 1h1m24 0h1m3 0h1m-22 1h1m-15 1h1m4 0h1m7 0h1m22 0h1m-52 1h1m24 0h1m11 0h2m9 0h1m-40 1h1m8 0h1m2 0h1m3 0h1m5 1h1m3 0h1m17 0h1m-26 1h1m8 0h1m7 0h1m-45 1h1m10 0h1m8 0h1m20 0h1m5 0h1m-56 1h2m5 0h1m2 0h1m8 0h1m1 0h1m36 0h1m-36 1h1m9 0h1m1 0h1m1 0h1m16 0h1m-58 1h1m14 0h1m3 0h1m7 0h1m3 0h2m4 0h1m-39 1h1m10 0h1m-15 1h1m31 0h1m32 0h1m-66 1h1m1 0h1m1 0h1m10 0h1m41 0h1m1 0h1m3 0h1m-63 1h2m11 0h1m4 0h1m1 0h1m1 0h1m1 0h2m2 0h1m10 0h1m-28 1h1m4 0h2m2 0h1m15 0h1m8 0h1m13 0h1m7 0h1m-71 1h1m17 0h1m3 0h1m1 0h1m11 0h1m5 0h2m-43 1h1m1 0h1m3 0h1m16 0h1m10 0h1m7 0h1m16 0h1m-62 1h1m1 0h1m3 0h2m3 0h1m4 0h2m16 0h1m7 0h1m23 0h1m-64 1h1m16 0h1m5 0h1m11 0h1m3 0h1m20 0h2m3 0h2m1 0h1m-60 1h1m1 0h1m3 0h2m10 0h1m6 0h1m4 0h1m2 0h1m-42 1h1m5 0h1m1 0h1m22 0h1m3 0h1m-20 1h1m13 0h2m1 0h1m9 0h1m1 0h2m-60 1h1m6 0h1m8 0h1m15 0h1m49 0h1m-81 1h1m21 0h1m10 0h1m5 0h1m8 0h1m27 0h2m1 0h1m-79 1h1m31 0h1m12 0h1m3 0h1m2 0h1m-45 1h1m1 0h1m15 0h1m4 0h2m-26 1h1m7 0h1m7 0h2m5 0h1m5 0h2m1 0h1m6 0h1m3 0h2m18 0h1m-68 1h2m19 0h1m10 0h1m2 0h1m9 0h1m-8 1h1m17 0h1m-60 1h1m39 0h3m6 0h1m3 0h1m-44 1h1m-11 1h1m24 0h1m5 0h1m8 0h1m-44 1h1m19 0h1m14 0h1m13 0h1m3 0h1m1 0h1m-48 1h2m26 0h1m9 0h1m4 0h1m3 0h1m5 0h1m-60 1h1m1 0h1m9 0h2m3 0h1m32 0h1m2 0h1m-45 1h1m5 0h1m10 0h1m19 0h1m9 0h1m-56 1h1m11 0h1m7 0h1m4 0h1m12 0h1m2 0h1m6 0h1m7 0h1m11 0h1m-72 1h1m15 0h1m6 0h1m60 0h1m-86 1h1m1 0h1m17 0h1m3 0h2m18 0h1m1 0h1m-44 1h1m12 0h1m7 0h1m1 0h1m8 0h1m2 0h1m2 0h1m2 0h1m40 0h1m-61 1h1m35 0h2m-114 1h2m29 0h1m29 0h1m12 0h1m9 0h1m9 0h1m42 0h1m-143 1h1m58 0h1m3 0h1m1 0h1m17 0h1m4 0h3m2 0h1m27 0h1m13 0h1m2 0h1m3 0h2m4 0h1m-150 1h1m2 0h1m65 0h2m19 0h1m2 0h1m8 0h1m14 0h1m12 0h1m5 0h2m4 0h1m-143 1h1m2 0h1m59 0h1m11 0h1m15 0h1m8 0h1m34 0h1m-135 1h1m1 0h1m1 0h1m54 0h1m1 0h1m13 0h1m23 0h1m20 0h2m11 0h1m1 0h1m10 0h1m-147 1h1m56 0h1m11 0h1m26 0h1m4 0h1m11 0h1m12 0h1m6 0h2m9 0h1m-96 1h1m1 0h1m64 0h1m3 0h1m8 0h1m-125 1h1m55 0h1m1 0h1m49 0h1m2 0h1m8 0h2m4 0h2m-81 1h1m20 0h1m36 0h1m31 0h1m-145 1h1m11 0h1m65 0h2m8 0h1m11 0h1m4 0h1m10 0h1m1 0h2m5 0h1m12 0h1m-134 1h1m4 0h1m61 0h2m11 0h1m34 0h1m10 0h1m2 0h1m10 0h1m-132 1h1m2 0h1m34 0h1m22 0h1m11 0h1m4 0h1m4 0h1m6 0h1m11 0h1m6 0h1m-115 1h1m8 0h1m44 0h1m27 0h1m21 0h1m13 0h1m9 0h1m4 0h1m3 0h1m-136 1h1m44 0h1m3 0h1m9 0h1m18 0h1m28 0h1m3 0h1m1 0h1m9 0h1m7 0h1m-73 1h1m9 0h1m49 0h1m2 0h2m8 0h1m-138 1h1m41 0h3m23 0h1m16 0h1m30 0h1m4 0h1m10 0h1m-137 1h1m14 0h1m2 0h1m41 0h1m9 0h1m1 0h1m6 0h1m22 0h1m21 0h2m14 0h1m-139 1h1m46 0h1m21 0h1m10 0h1m6 0h1m11 0h1m26 0h1m4 0h1m8 0h1m-98 1h1m9 0h1m6 0h1m17 0h1m10 0h1m19 0h1m3 0h1m12 0h2m10 0h1m-137 1h1m16 0h1m29 0h2m36 0h1m20 0h1m23 0h2m-139 1h1m1 0h1m38 0h1m11 0h1m4 0h2m7 0h1m17 0h1m47 0h1m-132 1h1m46 0h2m11 0h1m5 0h1m15 0h1m3 0h1m39 0h1m7 0h2m-89 1h1m5 0h1m16 0h1m47 0h1m5 0h1m10 0h1m-134 1h1m41 0h1m4 0h1m2 0h2m9 0h1m10 0h1m7 0h1m1 0h1m35 0h1m-85 1h2m10 0h1m14 0h1m11 0h1m1 0h1m1 0h1m-71 1h1m36 0h1m12 0h1m3 0h1m9 0h1m2 0h1m38 0h1m12 0h1m-120 1h1m54 0h1m16 0h1m30 0h1m4 0h1m10 0h1m-75 1h1m73 0h1m-123 1h1m2 0h1m37 0h2m22 0h1m54 0h1m-67 1h1m7 0h1m3 0h1m2 0h1m46 0h1m5 0h1m-107 1h1m23 0h1m20 0h1m41 0h1m6 0h1m8 0h1m4 0h1m-137 1h1m18 0h2m-22 1h1m52 0h1m7 0h1m56 0h1m6 0h1m-124 1h1m4 0h1m49 0h1m3 0h1m1 0h1m4 0h1m5 0h1m12 0h1m-90 1h1m26 0h2m49 0h1m49 0h1m-131 1h1m9 0h1m9 0h1m3 0h1m19 0h2m7 0h1m2 0h1m19 0h1m15 0h1m39 0h1m-122 1h1m12 0h1m7 0h1m1 0h1m1 0h1m7 0h1m15 0h1m9 0h1m3 0h1m9 0h1m10 0h1m33 0h1m1 0h1m1 0h1m2 0h1m-126 1h1m24 0h1m21 0h1m25 0h1m-53 1h1m4 0h1m7 0h1m4 0h1m45 0h1m14 0h1m1 0h1m-113 1h1m14 0h1m14 0h1m55 0h1m8 0h1m19 0h1m8 0h1m5 0h1m-119 1h1m10 0h1m3 0h1m1 0h3m8 0h2m2 0h2m28 0h1m9 0h1m8 0h1m14 0h3m3 0h1m4 0h1m-122 1h1m28 0h1m12 0h1m4 0h1m1 0h1m25 0h1m1 0h1m32 0h1m1 0h1m1 0h1m7 0h1m5 0h1m-72 1h1m24 0h1m7 0h1m22 0h1m6 0h1m6 0h1m-118 1h1m26 0h1m3 0h1m38 0h1m10 0h1m20 0h1m1 0h2m-108 1h1m3 0h1m32 0h1m6 0h1m64 0h1m-94 1h1m9 0h1m23 0h1m5 0h1m3 0h1m4 0h2m7 0h1m13 0h1m19 0h4m-94 1h1m29 0h1m12 0h1m4 0h1m4 0h1m6 0h1m28 0h1m11 0h1m-105 1h1m3 0h1m2 0h2m2 0h1m11 0h1m8 0h1m5 0h1m9 0h1m1 0h1m4 0h1m42 0h1m3 0h1m-105 1h2m3 0h1m3 0h1m23 0h1m14 0h1m38 0h1m15 0h2m-95 1h1m22 0h1m11 0h1m9 0h1m15 0h1m18 0h1m10 0h1m-111 1h1m7 0h1m40 0h1m14 0h1m1 0h1m2 0h1m41 0h1m-108 1h1m12 0h1m27 0h2m1 0h1m1 0h1m8 0h1m10 0h1m5 0h1m15 0h1m1 0h1m4 0h1m9 0h1m1 0h1m-120 1h1m15 0h1m7 0h1m10 0h1m2 0h1m14 0h1m14 0h1m28 0h1m5 0h1m5 0h1m-96 1h1m21 0h1m14 0h2m50 0h1m-112 1h1m31 0h1m4 0h1m1 0h1m6 0h1m7 0h1m5 0h2m15 0h2m4 0h1m4 0h1m4 0h1m27 0h1m-101 1h1m25 0h1m12 0h1m3 0h1m17 0h1m36 0h2m2 0h1m-106 1h1m59 0h1m12 0h1m7 0h1m1 0h1m8 0h1m-95 1h1m5 0h1m22 0h2m6 0h2m6 0h1m17 0h1m2 0h1m7 0h2m8 0h1m1 0h1m2 0h1m-108 1h1m54 0h2m5 0h1m26 0h1m3 0h1m20 0h1m5 0h1m-81 1h1m7 0h1m2 0h1m6 0h2m2 0h1m29 0h1m17 0h1m-109 1h1m45 0h1m13 0h1m24 0h1m10 0h1m6 0h1m2 0h1m-112 1h1m1 0h1m1 0h1m30 0h1m5 0h1m30 0h1m2 0h1m5 0h1m-82 1h1m5 0h1m8 0h1m73 0h1m14 0h1m12 0h1m-84 1h1m11 0h1m4 0h1m10 0h1m7 0h1m8 0h1m8 0h1m-86 1h1m10 0h1m48 0h1m23 0h2m-84 1h1m40 0h1m12 0h1m9 0h1m34 0h1m-100 1h1m8 0h1m17 0h1m17 0h1m2 0h3m22 0h1m4 0h1m5 0h1m11 0h1m3 0h1m4 0h1m-115 1h1m7 0h1m29 0h1m15 0h1m2 0h1m51 0h1m1 0h1m5 0h1m-104 1h1m2 0h1m3 0h1m27 0h1m6 0h1m18 0h1m5 0h1m4 0h1m28 0h1m-101 1h1m2 0h1m38 0h1m21 0h1m4 0h2m1 0h1m12 0h1m-81 1h1m10 0h2m19 0h1m22 0h1m9 0h1m-83 1h1m70 0h2m4 0h1m1 0h1m17 0h1m7 0h1m-98 1h1m5 0h1m20 0h1m19 0h1m20 0h2m2 0h1m-70 1h1m4 0h1m2 0h1m3 0h1m12 0h1m22 0h1m16 0h1m1 0h1m3 0h1m14 0h2m-81 1h1m1 0h1m28 0h1m27 0h1m2 0h1m18 0h1m-99 1h1m4 0h1m2 0h1m2 0h1m51 0h1m4 0h1m7 0h1m10 0h1m6 0h1m-92 1h1m2 0h1m2 0h1m4 0h1m30 0h1m8 0h1m8 0h2m17 0h1m10 0h1m-91 1h1m2 0h1m4 0h1m2 0h2m3 0h1m1 0h1m25 0h1m32 0h1m2 0h1m-80 1h1m49 0h1m-37 1h2m1 0h1m26 0h1m13 0h1m3 0h1m14 0h1m-80 1h1m2 0h1m8 0h1m19 0h1m2 0h1m47 0h1m-66 1h1m-14 1h1m2 0h1m7 0h1m6 0h2m6 0h1m-11 1h1m-19 1h1m17 0h2m2 0h1m-19 1h1m17 0h2m-7 1h1m-8 1h1"/>
<path stroke="#BBDF27" d="M114 1h3m-6 1h1m3 0h2m1 0h1m-12 1h2m1 0h1m12 0h3m4 0h3m-21 1h1m1 0h1m1 0h1m14 0h1m-9 1h1m10 0h1m-36 1h1m20 0h1m12 0h1m-32 1h1m18 0h1m-20 1h1m2 0h1m6 0h2m-4 1h1m21 0h3m-29 1h1m5 0h2m6 0h1m4 0h1m1 0h4m-34 1h1m6 0h3m28 0h1m-36 1h1m2 0h2m7 0h1m1 0h1m16 0h3m-41 1h1m7 0h2m2 0h1m4 0h2m-21 1h1m15 0h2m4 0h2m7 0h1m2 0h1m0 1h1m7 0h1m-21 1h1m14 0h1m1 0h1m4 0h1m-29 1h1m5 0h2m-10 1h1m2 0h2m12 0h1m8 0h2m-7 1h1m8 1h1m-39 1h1m8 0h1m1 0h1m6 0h2m12 0h1m5 0h2m-31 1h2m2 0h3m10 0h1m3 0h1m3 0h1m8 0h1m-35 1h1m1 0h2m24 0h1m-41 1h1m18 0h1m9 0h1m9 0h3m-40 1h1m18 0h3m1 0h2m3 0h2m3 0h2m-36 1h2m5 0h2m4 0h2m2 0h1m3 0h1m13 0h2m-23 1h1m3 0h1m14 0h1m-43 1h1m1 0h1m23 0h2m-17 1h1m4 0h1m4 0h1m21 0h2m-20 1h1m13 0h1m4 0h1m1 0h1m4 0h1m-26 1h1m5 0h1m1 0h1m6 0h1m5 0h1m-62 1h1m15 0h1m2 0h1m22 0h1m12 0h1m-1 1h1m15 0h1m-73 1h1m18 0h2m4 0h2m30 0h1m5 0h1m8 0h1m-75 1h1m15 0h1m19 0h2m14 0h1m6 0h1m2 0h1m2 0h1m-66 1h1m20 0h1m3 0h1m3 0h1m6 0h1m1 0h1m4 0h1m20 0h1m-64 1h1m15 0h1m20 0h1m1 0h2m2 0h1m24 0h1m2 0h1m1 0h1m-76 1h2m14 0h1m4 0h2m1 0h1m3 0h1m3 0h1m4 0h1m1 0h1m3 0h1m2 0h1m-29 1h1m2 0h1m4 0h1m9 0h1m2 0h1m1 0h1m2 0h1m22 0h1m2 0h1m1 0h1m-74 1h1m6 0h2m6 0h1m6 0h1m2 0h2m15 0h1m2 0h2m15 0h1m-49 1h1m1 0h1m8 0h3m1 0h2m3 0h1m12 0h1m27 0h1m-75 1h1m8 0h1m8 0h2m8 0h1m2 0h1m6 0h1m1 0h1m1 0h1m5 0h1m20 0h2m3 0h1m-77 1h1m1 0h1m1 0h1m8 0h1m2 0h1m10 0h1m4 0h1m9 0h2m4 0h1m20 0h1m1 0h1m-70 1h1m14 0h1m20 0h1m9 0h3m1 0h1m23 0h2m-81 1h1m7 0h1m16 0h1m9 0h1m6 0h1m1 0h1m4 0h1m3 0h1m-73 1h1m15 0h1m2 0h1m15 0h1m5 0h1m1 0h1m2 0h1m1 0h1m5 0h2m1 0h1m2 0h2m2 0h1m1 0h1m-46 1h3m12 0h1m1 0h1m3 0h1m4 0h1m6 0h1m1 0h1m4 0h1m1 0h3m1 0h3m2 0h1m-55 1h1m9 0h1m31 0h1m1 0h1m3 0h1m-47 1h1m19 0h1m7 0h1m2 0h1m2 0h1m4 0h1m1 0h1m1 0h2m2 0h1m-20 1h3m9 0h2m3 0h2m-20 1h3m4 0h1m1 0h2m10 0h1m1 0h1m2 0h2m-59 1h2m1 0h1m2 0h1m17 0h1m10 0h2m6 0h1m4 0h1m6 0h1m3 0h1m-57 1h1m7 0h1m6 0h1m7 0h1m1 0h1m9 0h1m1 0h1m11 0h1m2 0h1m1 0h2m-56 1h1m9 0h1m25 0h2m2 0h2m12 0h1m1 0h1m-54 1h1m29 0h1m12 0h1m1 0h1m-53 1h1m7 0h1m2 0h1m19 0h1m2 0h1m1 0h1m7 0h1m1 0h1m2 0h1m1 0h1m4 0h1m-42 1h1m4 0h1m1 0h1m1 0h1m1 0h2m5 0h1m1 0h1m8 0h1m1 0h1m5 0h1m3 0h2m-113 1h1m4 0h1m65 0h1m20 0h1m2 0h1m12 0h1m1 0h3m32 0h1m1 0h1m-72 1h2m2 0h1m6 0h1m3 0h1m3 0h3m2 0h2m6 0h1m3 0h1m3 0h1m-28 1h1m20 0h1m28 0h1m-137 1h1m50 0h1m1 0h1m2 0h1m13 0h1m2 0h1m2 0h1m2 0h1m28 0h2m-116 1h1m55 0h1m3 0h3m3 0h1m11 0h1m1 0h2m1 0h1m16 0h1m14 0h1m27 0h1m-86 1h1m1 0h2m3 0h1m5 0h1m17 0h1m25 0h1m20 0h3m3 0h1m6 0h1m-150 1h1m8 0h1m49 0h1m1 0h1m13 0h1m40 0h1m18 0h1m5 0h1m3 0h1m-139 1h1m51 0h3m1 0h1m8 0h1m19 0h1m36 0h1m5 0h1m2 0h1m4 0h1m5 0h1m-146 1h1m55 0h2m7 0h1m2 0h1m46 0h1m5 0h2m5 0h1m5 0h1m3 0h2m1 0h1m-144 1h1m51 0h1m12 0h2m4 0h1m29 0h1m10 0h1m4 0h1m11 0h1m11 0h2m-140 1h1m48 0h1m7 0h1m1 0h2m2 0h1m4 0h1m39 0h1m8 0h1m21 0h1m1 0h1m-139 1h1m50 0h1m1 0h1m14 0h1m17 0h1m18 0h1m12 0h1m9 0h1m1 0h2m1 0h1m-138 1h2m47 0h1m3 0h1m20 0h1m3 0h1m16 0h1m4 0h1m15 0h1m18 0h2m5 0h1m-144 1h1m58 0h1m14 0h1m4 0h2m7 0h1m9 0h1m15 0h1m4 0h1m4 0h1m10 0h2m-136 1h1m45 0h1m3 0h1m18 0h1m8 0h1m55 0h1m3 0h1m1 0h2m-147 1h3m50 0h1m22 0h1m14 0h1m29 0h3m3 0h1m2 0h1m13 0h1m-95 1h2m18 0h1m15 0h1m4 0h1m1 0h1m21 0h1m4 0h1m5 0h1m5 0h1m2 0h1m4 0h1m1 0h1m-77 1h1m21 0h1m22 0h1m7 0h1m6 0h1m11 0h1m8 0h1m-144 1h1m45 0h1m39 0h1m12 0h2m16 0h1m4 0h1m11 0h1m5 0h3m-148 1h2m10 0h1m1 0h1m2 0h3m29 0h1m7 0h2m46 0h3m14 0h1m17 0h1m-138 1h1m10 0h1m4 0h2m44 0h1m10 0h1m1 0h1m45 0h1m18 0h1m-137 1h1m5 0h1m41 0h1m1 0h1m7 0h1m8 0h1m17 0h1m32 0h1m7 0h1m2 0h1m4 0h1m3 0h1m-136 1h2m10 0h1m25 0h1m8 0h2m25 0h1m33 0h1m2 0h1m2 0h2m2 0h1m5 0h1m3 0h1m1 0h3m-134 1h2m5 0h1m35 0h1m2 0h3m52 0h1m6 0h1m1 0h2m2 0h1m1 0h3m10 0h1m1 0h1m-135 1h1m15 0h2m29 0h1m3 0h1m26 0h1m25 0h1m7 0h2m5 0h1m3 0h1m2 0h1m1 0h1m-110 1h2m18 0h2m7 0h1m66 0h1m1 0h1m10 0h1m4 0h1m-114 1h1m21 0h1m9 0h1m5 0h1m64 0h1m3 0h1m5 0h1m-138 1h1m23 0h1m4 0h1m11 0h1m8 0h2m2 0h1m7 0h1m2 0h1m12 0h1m5 0h1m30 0h1m6 0h1m-98 1h1m11 0h1m16 0h1m1 0h1m2 0h1m62 0h1m-101 1h1m2 0h1m4 0h1m19 0h1m5 0h1m4 0h2m4 0h2m7 0h1m43 0h1m-124 1h1m29 0h1m23 0h1m2 0h1m6 0h1m10 0h1m4 0h1m1 0h1m37 0h1m-90 1h1m15 0h2m7 0h2m5 0h2m1 0h1m14 0h1m35 0h2m14 0h1m-102 1h2m1 0h1m34 0h1m2 0h1m3 0h1m1 0h1m3 0h2m45 0h1m3 0h1m-79 1h1m6 0h1m51 0h2m10 0h1m2 0h1m2 0h1m-134 1h1m26 0h1m22 0h1m1 0h3m21 0h1m3 0h1m-89 1h1m7 0h1m11 0h2m60 0h1m3 0h1m36 0h3m12 0h1m-119 1h1m37 0h1m5 0h2m9 0h1m5 0h2m1 0h1m35 0h2m2 0h3m7 0h1m3 0h1m-120 1h1m4 0h1m1 0h2m2 0h1m30 0h1m59 0h1m1 0h2m5 0h1m9 0h1m-134 1h1m11 0h1m8 0h1m1 0h1m33 0h1m1 0h1m14 0h1m1 0h1m1 0h2m-69 1h1m8 0h1m5 0h1m8 0h1m34 0h3m-79 1h1m4 0h1m1 0h1m22 0h1m4 0h2m3 0h1m27 0h1m8 0h1m7 0h1m6 0h2m1 0h1m26 0h1m9 0h1m-135 1h1m2 0h1m18 0h1m3 0h1m19 0h2m14 0h1m1 0h1m11 0h1m3 0h1m7 0h1m46 0h2m-138 1h1m4 0h1m26 0h1m1 0h1m1 0h1m35 0h1m25 0h2m12 0h1m16 0h2m-98 1h1m1 0h1m38 0h1m7 0h2m2 0h1m4 0h1m26 0h1m7 0h1m-106 1h1m2 0h2m6 0h1m3 0h1m38 0h1m9 0h3m8 0h1m31 0h1m6 0h1m-132 1h1m47 0h1m29 0h1m2 0h1m9 0h1m24 0h1m2 0h1m7 0h1m2 0h1m-132 1h1m48 0h1m9 0h1m3 0h1m10 0h1m1 0h4m31 0h1m7 0h1m8 0h1m2 0h1m-110 1h2m14 0h1m8 0h1m8 0h1m11 0h1m10 0h1m9 0h1m19 0h2m8 0h2m2 0h1m6 0h1m-108 1h1m21 0h1m3 0h1m18 0h1m7 0h2m42 0h1m-82 1h1m6 0h1m21 0h2m6 0h1m33 0h1m2 0h1m2 0h1m2 0h1m-95 1h1m27 0h1m4 0h1m17 0h1m33 0h1m2 0h1m-82 1h1m13 0h1m24 0h1m1 0h1m1 0h1m48 0h1m-108 1h1m6 0h1m30 0h1m2 0h1m9 0h1m3 0h1m45 0h1m2 0h2m-106 1h1m8 0h1m9 0h1m1 0h2m13 0h1m1 0h1m2 0h1m2 0h1m47 0h1m7 0h1m2 0h1m4 0h2m-116 1h1m16 0h1m1 0h1m46 0h1m41 0h1m1 0h1m2 0h1m-95 1h1m23 0h1m6 0h1m36 0h1m10 0h2m1 0h1m2 0h1m-80 1h2m13 0h1m33 0h1m21 0h1m2 0h1m11 0h1m-128 1h1m26 0h1m25 0h1m16 0h1m42 0h1m5 0h1m-108 1h1m7 0h1m5 0h1m17 0h1m64 0h1m9 0h1m1 1h1m1 0h1m-131 1h1m50 0h1m16 0h1m6 0h1m19 0h1m31 0h1m-95 1h1m14 0h1m1 0h3m16 0h1m10 0h1m8 0h1m8 0h1m3 0h1m15 0h1m4 0h1m4 0h1m-106 1h1m21 0h1m11 0h1m32 0h1m2 0h1m1 0h1m22 0h2m2 0h1m-112 1h2m29 0h1m9 0h1m4 0h1m11 0h1m31 0h1m3 0h1m9 0h1m1 0h1m1 0h1m-48 1h1m11 0h1m8 0h1m5 0h1m5 0h1m5 0h1m4 0h1m-52 1h1m2 0h1m19 0h1m4 0h1m25 0h1m-116 1h1m59 0h2m4 0h1m10 0h1m6 0h1m9 0h1m1 0h1m2 0h1m1 0h2m6 0h2m4 0h1m-114 1h1m8 0h1m21 0h1m13 0h1m11 0h1m1 0h1m15 0h1m-80 1h1m4 0h1m6 0h1m66 0h1m23 0h2m1 0h1m2 0h1m1 0h2m-114 1h1m5 0h2m1 0h1m1 0h1m12 0h1m9 0h1m23 0h1m9 0h1m35 0h3m9 0h1m-116 1h2m3 0h1m7 0h1m38 0h1m17 0h2m1 0h1m5 0h1m5 0h1m12 0h2m5 0h1m4 0h1m-113 1h1m15 0h1m33 0h1m2 0h1m23 0h1m4 0h1m3 0h1m13 0h1m9 0h1m-116 1h1m2 0h1m1 0h1m6 0h1m2 0h2m4 0h1m39 0h1m23 0h1m5 0h1m14 0h1m8 0h1m-114 1h1m1 0h1m3 0h1m4 0h1m67 0h1m2 0h1m2 0h1m1 0h1m4 0h1m14 0h1m3 0h1m1 0h1m-113 1h2m3 0h2m2 0h2m5 0h1m6 0h1m10 0h1m44 0h1m5 0h1m16 0h2m-101 1h1m76 0h2m4 0h1m19 0h1m-101 1h1m2 0h1m1 0h1m1 0h3m66 0h1m1 0h2m18 0h1m1 0h1m2 0h1m-107 1h1m2 0h1m17 0h1m1 0h1m31 0h1m25 0h1m11 0h1m7 0h1m-100 1h1m1 0h1m40 0h1m36 0h1m11 0h1m-92 1h1m6 0h2m6 0h1m1 0h1m23 0h1m37 0h2m-83 1h2m9 0h1m5 0h1m1 0h1m2 0h1m58 0h1m-79 1h2m11 0h2m3 0h2m22 0h1m28 0h1m18 0h2m-78 1h1m50 0h1m-61 1h1m5 0h1m3 0h2m27 0h1m14 0h1m-56 1h1m3 0h1m2 0h1m24 0h2m1 0h1m36 0h1m5 0h1m-84 1h1m2 0h1m2 0h2m1 0h1m2 0h1m26 0h1m11 0h1m15 0h1m-66 1h1m7 0h1m18 0h1m38 0h1m-63 1h1m1 0h1m9 0h2m9 0h1m-23 1h2m1 0h1m6 0h1m-15 1h1m8 0h1m3 0h3m-1 1h1m-9 1h1m7 0h1m-2 1h1m-5 1h1"/>
<path stroke="#FDE725" d="M113 2h1m5 0h2m-1 1h1m7 0h2m-20 1h1m4 0h1m10 0h1m-18 2h1m13 0h1m-2 1h1m4 0h1m2 0h1m-14 1h1m3 0h1m10 0h1m3 0h1m-32 1h1m6 0h1m9 0h1m2 0h4m-15 1h1m9 0h1m1 0h1m5 0h2m1 0h1m-25 1h2m1 0h1m11 0h1m1 0h1m2 0h1m-38 1h1m11 0h1m4 0h1m13 0h1m1 0h2m-2 1h1m6 0h1m-33 1h1m3 0h1m2 0h3m12 0h1m1 0h2m-20 1h4m1 0h2m8 0h2m-18 1h2m4 0h1m2 0h1m-11 1h1m3 0h1m14 0h1m7 0h1m0 1h1m-10 1h1m6 0h1m-26 1h1m3 0h1m3 0h2m-17 1h1m10 0h1m12 0h1m-10 1h3m19 0h1m-32 1h1m8 0h2m-11 1h1m2 0h1m5 0h2m8 0h3m1 0h1m11 0h1m-33 1h1m3 0h3m7 0h2m-10 1h1m8 0h1m8 0h1m-30 1h1m4 0h1m5 0h1m1 0h1m10 0h1m2 0h2m1 0h1m1 0h1m-7 1h1m3 0h1m-23 1h1m19 0h2m-46 1h2m3 0h1m2 0h1m5 0h1m18 0h1m3 0h1m3 0h1m5 0h1m3 0h1m-64 1h2m20 0h1m4 0h1m6 0h1m22 0h1m-62 2h1m17 0h1m52 0h1m-39 1h1m11 0h1m13 0h1m-61 1h1m27 0h1m12 0h1m17 0h2m1 0h2m1 0h1m2 0h1m-69 1h1m1 0h1m12 0h2m9 0h2m1 0h1m6 0h1m29 0h1m-66 1h1m11 0h1m1 0h1m4 0h1m3 0h1m1 0h3m7 0h1m-36 1h1m14 0h2m3 0h1m2 0h2m1 0h3m6 0h1m3 0h1m2 0h1m16 0h1m8 0h1m-58 1h2m4 0h1m1 0h2m1 0h1m1 0h4m7 0h1m7 0h1m22 0h1m1 0h1m-61 1h1m3 0h2m5 0h1m5 0h3m8 0h2m5 0h2m22 0h1m-68 1h2m2 0h1m1 0h1m6 0h1m4 0h3m3 0h1m3 0h2m5 0h4m5 0h2m21 0h2m-95 1h1m20 0h1m15 0h4m3 0h7m1 0h1m2 0h3m8 0h1m1 0h3m23 0h1m-64 1h1m3 0h2m2 0h4m1 0h2m3 0h2m3 0h3m5 0h1m5 0h1m2 0h1m22 0h2m-74 1h1m8 0h1m10 0h2m3 0h5m1 0h2m6 0h3m30 0h2m-73 1h1m15 0h3m3 0h1m4 0h3m1 0h1m1 0h2m3 0h1m1 0h1m1 0h1m4 0h1m2 0h1m22 0h1m-74 1h1m3 0h2m10 0h1m3 0h2m3 0h1m2 0h1m3 0h1m1 0h2m2 0h1m8 0h1m24 0h2m-80 1h3m19 0h1m4 0h1m12 0h1m1 0h1m1 0h1m3 0h1m4 0h1m-55 1h1m28 0h2m1 0h1m9 0h1m1 0h1m5 0h1m-45 1h1m21 0h1m4 0h1m4 0h1m6 0h1m2 0h1m2 0h1m2 0h1m-41 1h1m19 0h1m5 0h1m4 0h3m2 0h1m1 0h1m1 0h1m-46 1h1m4 0h1m18 0h2m3 0h1m6 0h5m-46 1h1m5 0h1m5 0h1m7 0h1m8 0h1m5 0h2m2 0h4m3 0h1m1 0h1m7 0h1m-30 1h1m10 0h6m7 0h1m-34 1h2m20 0h3m1 0h1m6 0h1m-61 1h1m5 0h1m16 0h2m2 0h1m8 0h2m6 0h2m4 0h3m6 0h1m1 0h2m-48 1h1m8 0h3m5 0h2m1 0h2m1 0h1m1 0h1m1 0h1m1 0h1m5 0h2m1 0h1m2 0h1m6 0h1m-38 1h1m5 0h1m2 0h1m3 0h6m1 0h1m1 0h1m1 0h1m1 0h1m1 0h1m1 0h1m-58 1h1m27 0h3m3 0h1m1 0h1m1 0h3m2 0h1m5 0h2m47 0h1m-105 1h1m22 0h1m10 0h1m10 0h1m2 0h2m4 0h1m9 0h1m1 0h1m37 0h1m-92 1h1m11 0h1m2 0h1m1 0h1m1 0h1m12 0h1m4 0h1m16 0h2m32 0h1m2 0h1m-92 1h1m38 0h1m50 0h2m-152 1h2m66 0h1m5 0h1m8 0h1m66 0h1m-79 1h3m35 0h1m38 0h2m-147 1h2m48 0h1m6 0h1m10 0h2m2 0h1m24 0h1m47 0h1m-145 1h1m55 0h1m10 0h1m65 0h2m3 0h1m5 0h1m-98 1h1m13 0h2m1 0h2m18 0h1m11 0h1m33 0h1m7 0h1m4 0h2m-147 1h1m54 0h1m6 0h1m2 0h4m45 0h1m18 0h2m10 0h1m-89 1h1m1 0h1m2 0h2m1 0h1m2 0h1m60 0h1m5 0h1m9 0h1m-149 1h1m2 0h1m49 0h1m3 0h1m1 0h1m73 0h1m14 0h1m-143 1h1m50 0h1m2 0h1m11 0h2m14 0h1m28 0h1m30 0h1m-148 1h1m5 0h1m47 0h1m18 0h1m2 0h1m44 0h1m4 0h1m6 0h2m3 0h2m3 0h1m2 0h2m-190 1h4m38 0h2m4 0h2m42 0h2m18 0h1m2 0h2m11 0h1m1 0h1m11 0h1m32 0h2m3 0h2m1 0h1m4 0h1m-189 1h1m2 0h2m43 0h1m32 0h1m9 0h1m17 0h1m4 0h1m19 0h1m4 0h1m1 0h1m16 0h1m6 0h1m6 0h1m2 0h4m1 0h3m4 0h2m-190 1h2m3 0h3m38 0h2m57 0h1m36 0h1m19 0h1m2 0h1m1 0h1m5 0h2m1 0h2m6 0h2m2 0h2m-190 1h1m6 0h1m46 0h1m36 0h1m13 0h1m23 0h2m31 0h1m12 0h2m2 0h1m8 0h1m-189 1h1m6 0h1m30 0h1m18 0h2m46 0h1m61 0h2m6 0h3m1 0h1m1 0h1m5 0h2m-191 1h3m6 0h1m27 0h4m2 0h1m4 0h1m7 0h2m3 0h1m25 0h1m5 0h2m12 0h1m43 0h1m13 0h1m1 0h3m7 0h3m2 0h3m4 0h2m-193 1h3m8 0h2m24 0h3m5 0h1m18 0h1m84 0h1m14 0h2m6 0h3m5 0h2m2 0h1m5 0h2m-191 1h2m9 0h1m23 0h2m9 0h1m7 0h1m43 0h1m1 0h1m3 0h1m26 0h1m29 0h3m1 0h2m1 0h1m2 0h1m4 0h2m1 0h3m2 0h1m3 0h3m-190 1h1m9 0h4m18 0h3m12 0h1m5 0h1m6 0h1m1 0h1m34 0h1m5 0h1m56 0h2m8 0h1m5 0h1m3 0h1m3 0h1m2 0h2m-189 1h2m11 0h5m13 0h2m14 0h3m13 0h1m98 0h2m5 0h2m3 0h1m5 0h1m1 0h1m2 0h2m-186 1h2m14 0h15m34 0h1m21 0h1m75 0h1m2 0h3m1 0h2m1 0h1m5 0h3m1 0h2m-184 1h2m88 0h1m32 0h1m28 0h1m6 0h1m3 0h1m1 0h1m2 0h4m7 0h3m-181 1h1m80 0h2m6 0h4m2 0h1m8 0h1m18 0h1m5 0h1m28 0h1m1 0h1m1 0h1m5 0h2m3 0h1m4 0h2m-180 1h2m63 0h1m14 0h1m1 0h1m9 0h1m10 0h1m15 0h2m39 0h1m2 0h1m1 0h2m1 0h2m7 0h2m-178 1h1m76 0h1m1 0h1m1 0h1m7 0h2m9 0h2m5 0h1m2 0h1m9 0h1m41 0h3m1 0h1m5 0h1m2 0h2m-177 1h1m64 0h1m16 0h1m16 0h1m60 0h2m1 0h4m7 0h2m-176 1h2m63 0h1m8 0h1m8 0h1m15 0h1m9 0h1m3 0h1m3 0h1m41 0h2m1 0h2m1 0h2m1 0h1m4 0h2m-174 1h1m70 0h2m35 0h4m5 0h1m2 0h1m3 0h1m35 0h4m7 0h2m-173 1h2m43 0h1m25 0h1m11 0h3m14 0h3m7 0h2m42 0h1m5 0h3m1 0h1m3 0h1m1 0h1m-170 1h1m47 0h1m18 0h3m16 0h2m6 0h1m6 0h1m7 0h1m50 0h1m1 0h1m5 0h2m-170 1h1m32 0h1m34 0h1m38 0h2m43 0h1m10 0h2m3 0h1m-169 1h2m31 0h1m54 0h2m17 0h1m55 0h1m2 0h1m1 0h1m-168 1h1m102 0h1m43 0h1m8 0h1m5 0h1m1 0h4m-168 1h1m31 0h1m17 0h1m2 0h1m35 0h1m1 0h2m13 0h2m55 0h2m1 0h1m-167 1h2m41 0h1m5 0h2m1 0h1m49 0h1m2 0h1m55 0h1m3 0h1m-165 1h1m43 0h1m3 0h3m31 0h1m8 0h2m7 0h1m8 0h1m45 0h2m6 0h2m-165 1h1m40 0h2m9 0h1m6 0h1m32 0h1m10 0h1m4 0h2m1 0h1m9 0h1m32 0h1m3 0h1m2 0h3m-164 1h2m22 0h1m18 0h1m15 0h1m6 0h1m26 0h1m6 0h1m8 0h2m5 0h1m44 0h2m-162 1h1m32 0h1m60 0h1m6 0h6m45 0h1m2 0h1m4 0h1m-161 1h1m27 0h1m5 0h1m59 0h1m10 0h1m2 0h2m22 0h2m17 0h2m2 0h1m2 0h2m-160 1h2m42 0h1m50 0h1m1 0h1m4 0h4m3 0h1m23 0h2m16 0h3m1 0h1m1 0h3m-159 1h1m24 0h1m69 0h2m2 0h3m7 0h2m37 0h1m3 0h1m2 0h3m-158 1h2m22 0h1m8 0h1m35 0h1m18 0h1m15 0h1m7 0h1m42 0h2m-156 1h1m97 0h1m50 0h1m1 0h1m2 0h1m-155 1h2m120 0h1m14 0h2m7 0h1m5 0h2m-153 1h2m51 0h1m9 0h1m31 0h2m38 0h1m10 0h1m4 0h2m-152 1h1m64 0h1m27 0h1m10 0h1m40 0h1m1 0h1m1 0h2m-151 1h2m46 0h1m97 0h4m-149 1h2m87 0h1m13 0h1m32 0h1m2 0h1m4 0h4m-147 1h1m48 0h1m16 0h2m4 0h1m4 0h2m8 0h3m5 0h1m30 0h1m9 0h1m2 0h1m5 0h1m-145 1h1m25 0h2m9 0h1m38 0h2m5 0h1m41 0h1m8 0h2m6 0h2m-144 1h2m43 0h1m8 0h1m22 0h1m9 0h1m4 0h1m24 0h1m18 0h1m4 0h2m-142 1h2m64 0h1m10 0h1m22 0h1m13 0h1m19 0h1m4 0h2m-140 1h2m9 0h1m22 0h1m16 0h1m9 0h1m59 0h2m4 0h1m3 0h1m5 0h2m-138 1h1m31 0h1m37 0h1m5 0h1m49 0h1m3 0h1m4 0h1m-136 1h2m132 0h1m-134 1h1m34 0h1m8 0h1m86 0h2m-133 1h1m119 0h1m9 0h2m-132 1h1m86 0h1m5 0h1m12 0h1m10 0h2m10 0h2m-131 1h1m49 0h1m18 0h1m21 0h1m7 0h1m5 0h1m11 0h1m10 0h2m-130 1h1m70 0h1m42 0h1m1 0h1m1 0h1m7 0h3m-129 1h1m47 0h1m42 0h1m22 0h2m9 0h2m-127 1h2m1 0h1m87 0h1m32 0h2m-125 1h1m81 0h1m23 0h2m3 0h1m1 0h1m8 0h2m-125 1h2m61 0h1m39 0h1m1 0h1m2 0h1m4 0h1m3 0h1m3 0h3m-124 1h1m13 0h1m94 0h1m4 0h4m1 0h3m-127 1h3m1 0h4m76 0h3m27 0h1m1 0h1m2 0h7m-126 1h1m1 0h4m1 0h1m1 0h2m4 0h1m65 0h2m3 0h2m21 0h2m2 0h1m1 0h1m5 0h4m-125 1h1m4 0h1m1 0h1m1 0h1m2 0h1m68 0h1m3 0h1m1 0h1m17 0h2m1 0h1m6 0h1m5 0h3m-124 1h1m1 0h1m1 0h1m2 0h2m2 0h1m51 0h1m23 0h1m18 0h1m5 0h1m4 0h1m2 0h2m-122 1h2m4 0h2m3 0h1m50 0h1m46 0h1m7 0h4m-120 1h3m1 0h2m1 0h1m10 0h2m17 0h1m70 0h1m7 0h2m-117 1h3m4 0h1m10 0h1m38 0h1m47 0h1m1 0h1m6 0h2m-115 1h2m10 0h2m97 0h2m-113 1h3m10 0h1m3 0h1m81 0h1m9 0h3m-110 1h1m2 0h2m1 0h2m89 0h2m6 0h3m-107 1h1m3 0h1m2 0h1m2 0h1m3 0h1m3 0h1m1 0h1m75 0h2m4 0h2m-104 1h2m9 0h2m1 0h1m5 0h1m68 0h2m7 0h4m-101 1h1m8 0h1m17 0h1m4 0h1m55 0h7m2 0h2m-100 1h2m4 0h1m2 0h1m9 0h1m2 0h1m56 0h1m8 0h2m5 0h4m-99 1h1m2 0h1m6 0h2m9 0h1m40 0h1m17 0h1m7 0h1m-89 1h3m18 0h1m23 0h4m12 0h5m13 0h6m3 0h1m-90 1h2m1 0h4m5 0h1m4 0h1m28 0h1m2 0h11m1 0h2m3 0h7m6 0h2m4 0h5m-90 1h4m2 0h1m1 0h1m1 0h1m11 0h1m23 0h1m9 0h1m2 0h3m10 0h4m3 0h1m-79 1h2m3 0h3m1 0h2m11 0h2m18 0h4m28 0h5m-79 1h2m3 0h1m2 0h1m2 0h1m1 0h1m4 0h1m4 0h1m18 0h1m-42 1h1m3 0h5m2 0h2m6 0h1m2 0h1m6 0h5m1 0h7m-34 1h4m12 0h6m3 0h3m-25 1h1m10 0h3m-15 1h5m4 0h5m-11 1h3m3 0h3m-8 1h6"/>
</g>
<use href="#seams" transform="translate(1182.70,1169.900) scale(3.8,4.32292)"/>
<g stroke="#333" stroke-width="4.45"><path d="M1182.60 1868.8v11.45"/><path d="M1410.60 1868.8v11.45"/><path d="M1638.60 1868.8v11.45"/></g>
<text x="1182.6" y="1915.2" font-size="36.67" fill="#4D4D4D" text-anchor="middle">20°E</text>
<text x="1410.6" y="1915.2" font-size="36.67" fill="#4D4D4D" text-anchor="middle">25°E</text>
<text x="1638.6" y="1915.2" font-size="36.67" fill="#4D4D4D" text-anchor="middle">30°E</text>
<defs><linearGradient id="vg" x1="0" y1="0" x2="0" y2="1"><stop offset="0.0" stop-color="#FDE725"/><stop offset="0.1" stop-color="#BBDF27"/><stop offset="0.2" stop-color="#7AD151"/><stop offset="0.3" stop-color="#43BF71"/><stop offset="0.4" stop-color="#22A884"/><stop offset="0.5" stop-color="#21908C"/><stop offset="0.6" stop-color="#2A788E"/><stop offset="0.7" stop-color="#35608D"/><stop offset="0.8" stop-color="#414487"/><stop offset="0.9" stop-color="#482576"/><stop offset="1.0" stop-color="#440154"/></linearGradient></defs>
<text x="1877.5" y="919.4" font-size="45.83" fill="#000">psi</text>
<rect x="1878.0" y="947.4" width="72.0" height="359.5" fill="url(#vg)"/>
<path d="M1878.0 947.4h14.4M1935.6 947.4h14.4" stroke="#fff" stroke-width="1.7"/>
<text x="1972.6" y="960.9" font-size="36.67" fill="#000">1.00</text>
<path d="M1878.0 1037.3h14.4M1935.6 1037.3h14.4" stroke="#fff" stroke-width="1.7"/>
<text x="1972.6" y="1050.8" font-size="36.67" fill="#000">0.75</text>
<path d="M1878.0 1127.2h14.4M1935.6 1127.2h14.4" stroke="#fff" stroke-width="1.7"/>
<text x="1972.6" y="1140.7" font-size="36.67" fill="#000">0.50</text>
<path d="M1878.0 1217.0h14.4M1935.6 1217.0h14.4" stroke="#fff" stroke-width="1.7"/>
<text x="1972.6" y="1230.5" font-size="36.67" fill="#000">0.25</text>
<path d="M1878.0 1306.9h14.4M1935.6 1306.9h14.4" stroke="#fff" stroke-width="1.7"/>
<text x="1972.6" y="1320.4" font-size="36.67" fill="#000">0.00</text>
</svg>
</body></html>
